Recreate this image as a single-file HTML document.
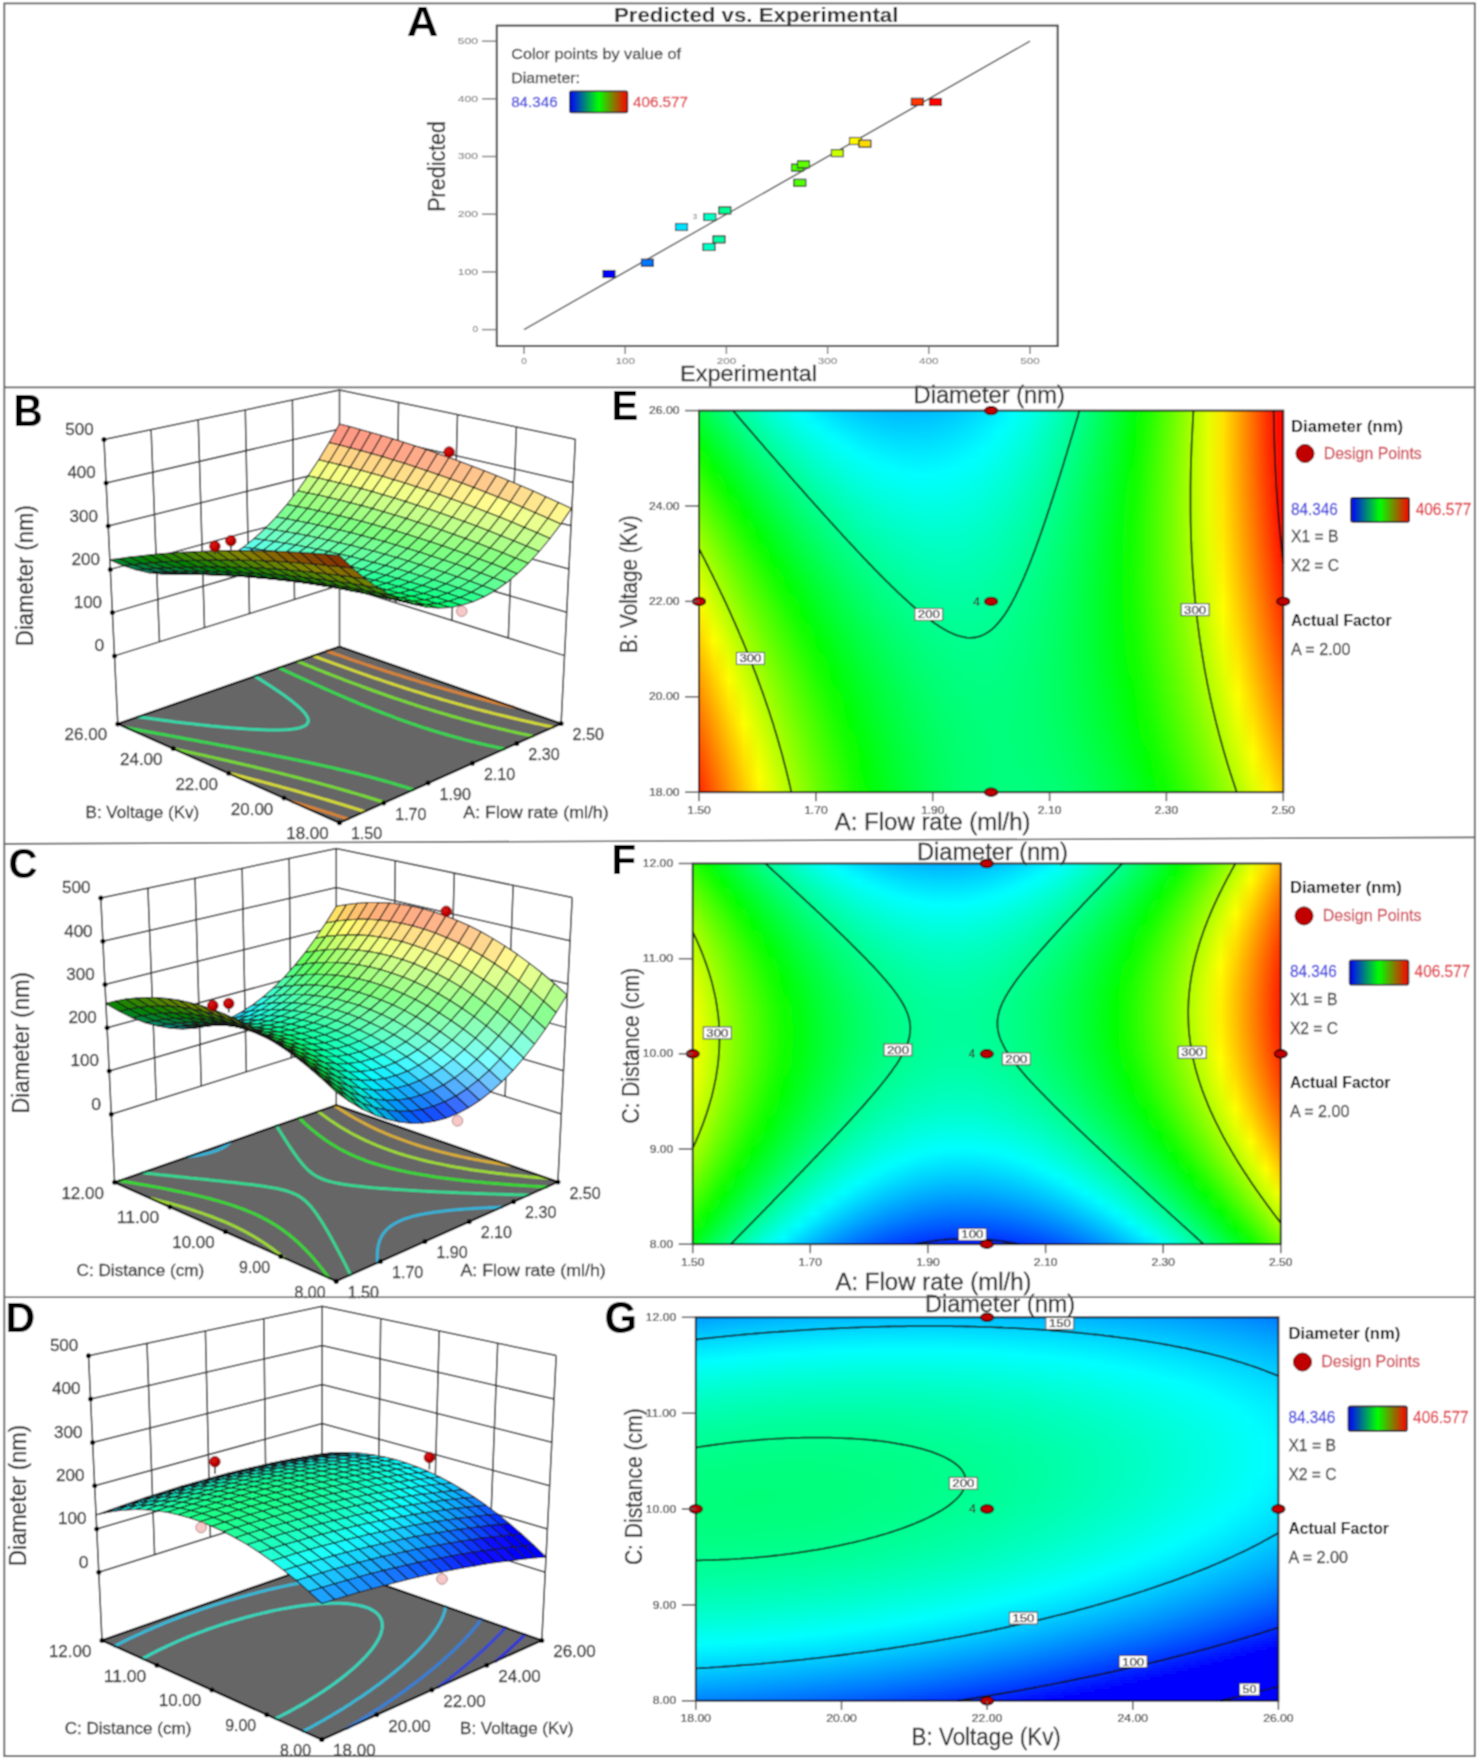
<!DOCTYPE html>
<html><head><meta charset="utf-8"><style>
html,body{margin:0;padding:0;background:#fff}
body{width:1480px;height:1764px;overflow:hidden;font-family:'Liberation Sans', sans-serif}
#w{position:absolute;left:0;top:0;width:1480px;height:1764px;overflow:hidden;background:#fff;filter:url(#gb)}
.cf{position:absolute;overflow:hidden}
.cf i{position:absolute;left:0;width:100%;display:block}
svg{position:absolute;left:0;top:0}
</style></head><body><svg width="0" height="0" style="position:absolute"><filter id="gb" x="0" y="0" width="100%" height="100%"><feConvolveMatrix order="3" kernelMatrix="1 2 1 2 4 2 1 2 1" divisor="16" edgeMode="duplicate" preserveAlpha="true"/></filter></svg><div id="w">
<div class="cf" style="left:699.0px;top:410.6px;width:584.3px;height:381.6px">
<i style="top:0px;height:3.6px;background:linear-gradient(90deg,#00ff3f,#00ff63,#00ff85,#00ffa3,#00ffc0,#00ffd9,#00ffef,#00fbff,#00e9ff,#00dbff,#00cfff,#00c6ff,#00c0ff,#00bcff,#00bbff,#00bdff,#00c1ff,#00c8ff,#00d2ff,#00dfff,#00eeff,#00fffe,#00ffe9,#00ffd2,#00ffb8,#00ff9b,#00ff7c,#00ff59,#00ff34,#00ff0d,#1dff00,#4bff00,#7aff00,#adff00,#e2ff00,#ffe400,#ffaa00,#ff6d00,#ff2d00,#ff0000)"></i>
<i style="top:3px;height:3.6px;background:linear-gradient(90deg,#00ff39,#00ff5e,#00ff7f,#00ff9e,#00ffba,#00ffd4,#00ffeb,#00ffff,#00eeff,#00dfff,#00d3ff,#00caff,#00c4ff,#00c0ff,#00bfff,#00c0ff,#00c4ff,#00cbff,#00d5ff,#00e2ff,#00f1ff,#00fffb,#00ffe7,#00ffd0,#00ffb6,#00ff99,#00ff7a,#00ff58,#00ff33,#00ff0c,#1fff00,#4bff00,#7bff00,#adff00,#e2ff00,#ffe400,#ffaa00,#ff6c00,#ff2d00,#ff0000)"></i>
<i style="top:6px;height:3.6px;background:linear-gradient(90deg,#00ff34,#00ff58,#00ff7a,#00ff99,#00ffb5,#00ffcf,#00ffe6,#00fffa,#00f2ff,#00e4ff,#00d7ff,#00ceff,#00c7ff,#00c3ff,#00c2ff,#00c4ff,#00c8ff,#00cfff,#00d8ff,#00e4ff,#00f3ff,#00fff9,#00ffe5,#00ffce,#00ffb4,#00ff97,#00ff78,#00ff56,#00ff32,#00ff0a,#20ff00,#4cff00,#7cff00,#aeff00,#e3ff00,#ffe400,#ffa900,#ff6c00,#ff2d00,#ff0000)"></i>
<i style="top:9px;height:3.6px;background:linear-gradient(90deg,#00ff2e,#00ff53,#00ff75,#00ff94,#00ffb0,#00ffca,#00ffe1,#00fff6,#00f7ff,#00e8ff,#00dcff,#00d2ff,#00cbff,#00c7ff,#00c6ff,#00c7ff,#00cbff,#00d2ff,#00dbff,#00e7ff,#00f6ff,#00fff7,#00ffe2,#00ffcb,#00ffb2,#00ff96,#00ff76,#00ff55,#00ff30,#00ff09,#21ff00,#4dff00,#7dff00,#afff00,#e3ff00,#ffe300,#ffa900,#ff6c00,#ff2d00,#ff0000)"></i>
<i style="top:12px;height:3.6px;background:linear-gradient(90deg,#00ff29,#00ff4d,#00ff6f,#00ff8f,#00ffab,#00ffc5,#00ffdc,#00fff1,#00fbff,#00ecff,#00e0ff,#00d6ff,#00cfff,#00cbff,#00c9ff,#00caff,#00ceff,#00d5ff,#00deff,#00eaff,#00f8ff,#00fff4,#00ffe0,#00ffc9,#00ffb0,#00ff94,#00ff75,#00ff53,#00ff2f,#00ff08,#22ff00,#4eff00,#7dff00,#afff00,#e4ff00,#ffe300,#ffa900,#ff6d00,#ff2d00,#ff0000)"></i>
<i style="top:15px;height:3.6px;background:linear-gradient(90deg,#00ff23,#00ff48,#00ff6a,#00ff8a,#00ffa6,#00ffc0,#00ffd8,#00ffec,#00fffe,#00f0ff,#00e4ff,#00daff,#00d3ff,#00ceff,#00cdff,#00ceff,#00d1ff,#00d8ff,#00e1ff,#00edff,#00fbff,#00fff2,#00ffde,#00ffc7,#00ffae,#00ff92,#00ff73,#00ff52,#00ff2e,#00ff07,#23ff00,#4fff00,#7eff00,#b0ff00,#e4ff00,#ffe300,#ffa900,#ff6d00,#ff2d00,#ff0000)"></i>
<i style="top:18px;height:3.6px;background:linear-gradient(90deg,#00ff1d,#00ff42,#00ff65,#00ff84,#00ffa1,#00ffbc,#00ffd3,#00ffe8,#00fffa,#00f5ff,#00e8ff,#00deff,#00d7ff,#00d2ff,#00d0ff,#00d1ff,#00d4ff,#00dbff,#00e4ff,#00efff,#00feff,#00ffef,#00ffdc,#00ffc5,#00ffac,#00ff90,#00ff72,#00ff50,#00ff2c,#00ff06,#24ff00,#50ff00,#7fff00,#b0ff00,#e4ff00,#ffe300,#ffa900,#ff6d00,#ff2e00,#ff0000)"></i>
<i style="top:21px;height:3.6px;background:linear-gradient(90deg,#00ff18,#00ff3d,#00ff5f,#00ff7f,#00ff9c,#00ffb7,#00ffce,#00ffe3,#00fff6,#00f9ff,#00ecff,#00e2ff,#00daff,#00d5ff,#00d3ff,#00d4ff,#00d7ff,#00deff,#00e6ff,#00f2ff,#00fffe,#00ffed,#00ffd9,#00ffc3,#00ffaa,#00ff8e,#00ff70,#00ff4f,#00ff2b,#00ff05,#25ff00,#51ff00,#7fff00,#b1ff00,#e5ff00,#ffe200,#ffa900,#ff6d00,#ff2e00,#ff0000)"></i>
<i style="top:24px;height:3.6px;background:linear-gradient(90deg,#00ff12,#00ff38,#00ff5a,#00ff7a,#00ff97,#00ffb2,#00ffca,#00ffdf,#00fff1,#00fdff,#00f0ff,#00e6ff,#00deff,#00d9ff,#00d7ff,#00d7ff,#00dbff,#00e0ff,#00e9ff,#00f4ff,#00fffc,#00ffeb,#00ffd7,#00ffc1,#00ffa8,#00ff8d,#00ff6e,#00ff4d,#00ff2a,#00ff03,#26ff00,#51ff00,#80ff00,#b1ff00,#e5ff00,#ffe200,#ffa900,#ff6d00,#ff2e00,#ff0000)"></i>
<i style="top:27px;height:3.6px;background:linear-gradient(90deg,#00ff0d,#00ff32,#00ff55,#00ff75,#00ff93,#00ffad,#00ffc5,#00ffdb,#00ffed,#00fffd,#00f4ff,#00e9ff,#00e2ff,#00ddff,#00daff,#00dbff,#00deff,#00e3ff,#00ecff,#00f7ff,#00fff9,#00ffe8,#00ffd5,#00ffbf,#00ffa6,#00ff8b,#00ff6d,#00ff4c,#00ff29,#00ff02,#27ff00,#52ff00,#81ff00,#b2ff00,#e5ff00,#ffe200,#ffa900,#ff6d00,#ff2e00,#ff0000)"></i>
<i style="top:30px;height:3.6px;background:linear-gradient(90deg,#00ff07,#00ff2d,#00ff50,#00ff70,#00ff8e,#00ffa9,#00ffc1,#00ffd6,#00ffe9,#00fff9,#00f8ff,#00edff,#00e5ff,#00e0ff,#00deff,#00deff,#00e1ff,#00e6ff,#00efff,#00faff,#00fff7,#00ffe6,#00ffd3,#00ffbd,#00ffa5,#00ff89,#00ff6b,#00ff4b,#00ff27,#00ff01,#27ff00,#53ff00,#81ff00,#b2ff00,#e6ff00,#ffe200,#ffa900,#ff6d00,#ff2f00,#ff0000)"></i>
<i style="top:33px;height:3.6px;background:linear-gradient(90deg,#00ff02,#00ff28,#00ff4b,#00ff6b,#00ff89,#00ffa4,#00ffbc,#00ffd2,#00ffe5,#00fff5,#00fcff,#00f1ff,#00e9ff,#00e4ff,#00e1ff,#00e1ff,#00e4ff,#00e9ff,#00f1ff,#00fcff,#00fff4,#00ffe4,#00ffd1,#00ffbb,#00ffa3,#00ff88,#00ff6a,#00ff49,#00ff26,#00ff00,#28ff00,#54ff00,#82ff00,#b2ff00,#e6ff00,#ffe200,#ffa900,#ff6d00,#ff2f00,#ff0000)"></i>
<i style="top:36px;height:3.6px;background:linear-gradient(90deg,#04ff00,#00ff22,#00ff46,#00ff66,#00ff84,#00ff9f,#00ffb8,#00ffcd,#00ffe0,#00fff1,#00fffe,#00f5ff,#00ecff,#00e7ff,#00e4ff,#00e4ff,#00e7ff,#00ecff,#00f4ff,#00ffff,#00fff2,#00ffe2,#00ffcf,#00ffb9,#00ffa1,#00ff86,#00ff68,#00ff48,#00ff25,#01ff00,#29ff00,#54ff00,#82ff00,#b3ff00,#e6ff00,#ffe200,#ffa900,#ff6e00,#ff3000,#ff0000)"></i>
<i style="top:39px;height:3.6px;background:linear-gradient(90deg,#09ff00,#00ff1d,#00ff40,#00ff61,#00ff7f,#00ff9b,#00ffb3,#00ffc9,#00ffdc,#00ffed,#00fffa,#00f8ff,#00f0ff,#00eaff,#00e7ff,#00e7ff,#00eaff,#00efff,#00f7ff,#00fffd,#00ffef,#00ffe0,#00ffcd,#00ffb7,#00ff9f,#00ff85,#00ff67,#00ff47,#00ff24,#02ff00,#2aff00,#55ff00,#83ff00,#b3ff00,#e6ff00,#ffe200,#ffa900,#ff6e00,#ff3000,#ff0000)"></i>
<i style="top:42px;height:3.6px;background:linear-gradient(90deg,#0eff00,#00ff18,#00ff3b,#00ff5c,#00ff7a,#00ff96,#00ffaf,#00ffc5,#00ffd8,#00ffe9,#00fff7,#00fcff,#00f4ff,#00eeff,#00ebff,#00eaff,#00edff,#00f2ff,#00f9ff,#00fffa,#00ffed,#00ffdd,#00ffcb,#00ffb6,#00ff9e,#00ff83,#00ff66,#00ff46,#00ff23,#03ff00,#2bff00,#56ff00,#83ff00,#b4ff00,#e7ff00,#ffe200,#ffa900,#ff6e00,#ff3000,#ff0000)"></i>
<i style="top:45px;height:3.6px;background:linear-gradient(90deg,#14ff00,#00ff13,#00ff36,#00ff57,#00ff76,#00ff91,#00ffaa,#00ffc0,#00ffd4,#00ffe5,#00fff3,#00fffe,#00f7ff,#00f1ff,#00eeff,#00edff,#00f0ff,#00f4ff,#00fcff,#00fff8,#00ffeb,#00ffdb,#00ffc9,#00ffb4,#00ff9c,#00ff81,#00ff64,#00ff44,#00ff22,#04ff00,#2cff00,#56ff00,#84ff00,#b4ff00,#e7ff00,#ffe200,#ffa900,#ff6e00,#ff3100,#ff0000)"></i>
<i style="top:48px;height:3.6px;background:linear-gradient(90deg,#19ff00,#00ff0d,#00ff31,#00ff52,#00ff71,#00ff8d,#00ffa6,#00ffbc,#00ffd0,#00ffe1,#00ffef,#00fffa,#00fbff,#00f5ff,#00f1ff,#00f0ff,#00f2ff,#00f7ff,#00ffff,#00fff5,#00ffe9,#00ffd9,#00ffc7,#00ffb2,#00ff9a,#00ff80,#00ff63,#00ff43,#00ff21,#04ff00,#2cff00,#57ff00,#84ff00,#b4ff00,#e7ff00,#ffe200,#ffaa00,#ff6f00,#ff3100,#ff0000)"></i>
<i style="top:51px;height:3.6px;background:linear-gradient(90deg,#1fff00,#00ff08,#00ff2c,#00ff4e,#00ff6c,#00ff88,#00ffa1,#00ffb8,#00ffcc,#00ffdd,#00ffeb,#00fff7,#00feff,#00f8ff,#00f4ff,#00f3ff,#00f5ff,#00faff,#00fffd,#00fff3,#00ffe6,#00ffd7,#00ffc5,#00ffb0,#00ff99,#00ff7e,#00ff62,#00ff42,#00ff20,#05ff00,#2dff00,#58ff00,#85ff00,#b4ff00,#e7ff00,#ffe200,#ffaa00,#ff6f00,#ff3200,#ff0000)"></i>
<i style="top:54px;height:3.6px;background:linear-gradient(90deg,#24ff00,#00ff03,#00ff27,#00ff49,#00ff68,#00ff84,#00ff9d,#00ffb4,#00ffc8,#00ffd9,#00ffe7,#00fff3,#00fffc,#00fbff,#00f7ff,#00f6ff,#00f8ff,#00fdff,#00fffa,#00fff1,#00ffe4,#00ffd5,#00ffc3,#00ffae,#00ff97,#00ff7d,#00ff60,#00ff41,#00ff1f,#06ff00,#2eff00,#58ff00,#85ff00,#b5ff00,#e7ff00,#ffe200,#ffaa00,#ff7000,#ff3200,#ff0000)"></i>
<i style="top:57px;height:3.6px;background:linear-gradient(90deg,#29ff00,#02ff00,#00ff22,#00ff44,#00ff63,#00ff7f,#00ff99,#00ffaf,#00ffc4,#00ffd5,#00ffe4,#00fff0,#00fff9,#00feff,#00fbff,#00f9ff,#00fbff,#00ffff,#00fff8,#00ffee,#00ffe2,#00ffd3,#00ffc1,#00ffad,#00ff95,#00ff7c,#00ff5f,#00ff40,#00ff1e,#07ff00,#2eff00,#59ff00,#85ff00,#b5ff00,#e7ff00,#ffe200,#ffaa00,#ff7000,#ff3300,#ff0000)"></i>
<i style="top:60px;height:3.6px;background:linear-gradient(90deg,#2eff00,#07ff00,#00ff1d,#00ff3f,#00ff5e,#00ff7b,#00ff94,#00ffab,#00ffc0,#00ffd1,#00ffe0,#00ffec,#00fff6,#00fffc,#00feff,#00fcff,#00feff,#00fffc,#00fff5,#00ffec,#00ffe0,#00ffd1,#00ffbf,#00ffab,#00ff94,#00ff7a,#00ff5e,#00ff3f,#00ff1d,#08ff00,#2fff00,#59ff00,#86ff00,#b5ff00,#e7ff00,#ffe200,#ffab00,#ff7000,#ff3300,#ff0000)"></i>
<i style="top:63px;height:3.6px;background:linear-gradient(90deg,#34ff00,#0cff00,#00ff18,#00ff3a,#00ff5a,#00ff76,#00ff90,#00ffa7,#00ffbc,#00ffcd,#00ffdc,#00ffe9,#00fff2,#00fff9,#00fffd,#00ffff,#00fffd,#00fffa,#00fff3,#00ffea,#00ffdd,#00ffcf,#00ffbd,#00ffa9,#00ff92,#00ff79,#00ff5c,#00ff3d,#00ff1c,#09ff00,#30ff00,#5aff00,#86ff00,#b5ff00,#e7ff00,#ffe200,#ffab00,#ff7100,#ff3400,#ff0000)"></i>
<i style="top:66px;height:3.6px;background:linear-gradient(90deg,#39ff00,#11ff00,#00ff14,#00ff36,#00ff55,#00ff72,#00ff8c,#00ffa3,#00ffb8,#00ffc9,#00ffd9,#00ffe5,#00ffef,#00fff6,#00fffa,#00fffc,#00fffb,#00fff7,#00fff0,#00ffe7,#00ffdb,#00ffcd,#00ffbb,#00ffa7,#00ff91,#00ff77,#00ff5b,#00ff3c,#00ff1b,#09ff00,#30ff00,#5aff00,#86ff00,#b5ff00,#e7ff00,#ffe200,#ffab00,#ff7100,#ff3500,#ff0000)"></i>
<i style="top:69px;height:3.6px;background:linear-gradient(90deg,#3eff00,#16ff00,#00ff0f,#00ff31,#00ff50,#00ff6d,#00ff87,#00ff9f,#00ffb4,#00ffc6,#00ffd5,#00ffe2,#00ffeb,#00fff3,#00fff7,#00fff9,#00fff8,#00fff4,#00ffee,#00ffe5,#00ffd9,#00ffcb,#00ffba,#00ffa6,#00ff8f,#00ff76,#00ff5a,#00ff3b,#00ff1a,#0aff00,#31ff00,#5aff00,#87ff00,#b6ff00,#e7ff00,#ffe200,#ffab00,#ff7200,#ff3500,#ff0000)"></i>
<i style="top:72px;height:3.6px;background:linear-gradient(90deg,#43ff00,#1bff00,#00ff0a,#00ff2c,#00ff4c,#00ff69,#00ff83,#00ff9b,#00ffb0,#00ffc2,#00ffd1,#00ffde,#00ffe8,#00ffef,#00fff4,#00fff6,#00fff5,#00fff2,#00ffec,#00ffe3,#00ffd7,#00ffc9,#00ffb8,#00ffa4,#00ff8e,#00ff75,#00ff59,#00ff3a,#00ff19,#0bff00,#32ff00,#5bff00,#87ff00,#b6ff00,#e7ff00,#ffe300,#ffac00,#ff7200,#ff3600,#ff0000)"></i>
<i style="top:75px;height:3.6px;background:linear-gradient(90deg,#48ff00,#20ff00,#00ff05,#00ff28,#00ff47,#00ff65,#00ff7f,#00ff97,#00ffac,#00ffbe,#00ffce,#00ffdb,#00ffe5,#00ffec,#00fff1,#00fff3,#00fff3,#00ffef,#00ffe9,#00ffe0,#00ffd5,#00ffc7,#00ffb6,#00ffa3,#00ff8c,#00ff73,#00ff58,#00ff39,#00ff18,#0cff00,#32ff00,#5bff00,#87ff00,#b6ff00,#e7ff00,#ffe300,#ffac00,#ff7300,#ff3700,#ff0000)"></i>
<i style="top:78px;height:3.6px;background:linear-gradient(90deg,#4dff00,#25ff00,#00ff00,#00ff23,#00ff43,#00ff60,#00ff7b,#00ff93,#00ffa8,#00ffba,#00ffca,#00ffd7,#00ffe2,#00ffe9,#00ffee,#00fff0,#00fff0,#00ffed,#00ffe7,#00ffde,#00ffd3,#00ffc5,#00ffb4,#00ffa1,#00ff8b,#00ff72,#00ff57,#00ff38,#00ff17,#0cff00,#33ff00,#5cff00,#87ff00,#b6ff00,#e7ff00,#ffe300,#ffad00,#ff7300,#ff3700,#ff0000)"></i>
<i style="top:81px;height:3.6px;background:linear-gradient(90deg,#52ff00,#2aff00,#05ff00,#00ff1e,#00ff3e,#00ff5c,#00ff77,#00ff8f,#00ffa4,#00ffb7,#00ffc7,#00ffd4,#00ffde,#00ffe6,#00ffeb,#00ffee,#00ffed,#00ffea,#00ffe5,#00ffdc,#00ffd1,#00ffc3,#00ffb3,#00ff9f,#00ff89,#00ff71,#00ff55,#00ff37,#00ff17,#0dff00,#33ff00,#5cff00,#88ff00,#b6ff00,#e7ff00,#ffe300,#ffad00,#ff7400,#ff3800,#ff0000)"></i>
<i style="top:84px;height:3.6px;background:linear-gradient(90deg,#58ff00,#2fff00,#09ff00,#00ff1a,#00ff3a,#00ff58,#00ff72,#00ff8b,#00ffa0,#00ffb3,#00ffc3,#00ffd0,#00ffdb,#00ffe3,#00ffe8,#00ffeb,#00ffeb,#00ffe8,#00ffe2,#00ffda,#00ffcf,#00ffc1,#00ffb1,#00ff9e,#00ff88,#00ff70,#00ff54,#00ff36,#00ff16,#0eff00,#34ff00,#5cff00,#88ff00,#b6ff00,#e7ff00,#ffe400,#ffad00,#ff7400,#ff3900,#ff0000)"></i>
<i style="top:87px;height:3.6px;background:linear-gradient(90deg,#5dff00,#34ff00,#0eff00,#00ff15,#00ff35,#00ff53,#00ff6e,#00ff87,#00ff9c,#00ffaf,#00ffbf,#00ffcd,#00ffd8,#00ffe0,#00ffe5,#00ffe8,#00ffe8,#00ffe5,#00ffe0,#00ffd8,#00ffcd,#00ffbf,#00ffaf,#00ff9c,#00ff87,#00ff6e,#00ff53,#00ff35,#00ff15,#0eff00,#34ff00,#5dff00,#88ff00,#b6ff00,#e7ff00,#ffe400,#ffae00,#ff7500,#ff3a00,#ff0000)"></i>
<i style="top:90px;height:3.6px;background:linear-gradient(90deg,#62ff00,#39ff00,#13ff00,#00ff10,#00ff31,#00ff4f,#00ff6a,#00ff83,#00ff99,#00ffac,#00ffbc,#00ffca,#00ffd5,#00ffdd,#00ffe2,#00ffe5,#00ffe5,#00ffe3,#00ffde,#00ffd6,#00ffcb,#00ffbe,#00ffae,#00ff9b,#00ff85,#00ff6d,#00ff52,#00ff35,#00ff14,#0fff00,#34ff00,#5dff00,#88ff00,#b6ff00,#e6ff00,#ffe400,#ffae00,#ff7600,#ff3a00,#ff0000)"></i>
<i style="top:93px;height:3.6px;background:linear-gradient(90deg,#67ff00,#3eff00,#18ff00,#00ff0c,#00ff2d,#00ff4b,#00ff66,#00ff7f,#00ff95,#00ffa8,#00ffb9,#00ffc6,#00ffd1,#00ffda,#00ffe0,#00ffe3,#00ffe3,#00ffe1,#00ffdb,#00ffd4,#00ffc9,#00ffbc,#00ffac,#00ff99,#00ff84,#00ff6c,#00ff51,#00ff34,#00ff14,#0fff00,#35ff00,#5dff00,#88ff00,#b6ff00,#e6ff00,#ffe500,#ffaf00,#ff7600,#ff3b00,#ff0000)"></i>
<i style="top:96px;height:3.6px;background:linear-gradient(90deg,#6cff00,#43ff00,#1cff00,#00ff07,#00ff28,#00ff47,#00ff62,#00ff7b,#00ff91,#00ffa4,#00ffb5,#00ffc3,#00ffce,#00ffd7,#00ffdd,#00ffe0,#00ffe0,#00ffde,#00ffd9,#00ffd2,#00ffc7,#00ffba,#00ffaa,#00ff98,#00ff83,#00ff6b,#00ff50,#00ff33,#00ff13,#10ff00,#35ff00,#5dff00,#88ff00,#b6ff00,#e6ff00,#ffe500,#ffaf00,#ff7700,#ff3c00,#ff0000)"></i>
<i style="top:99px;height:3.6px;background:linear-gradient(90deg,#71ff00,#47ff00,#21ff00,#00ff03,#00ff24,#00ff42,#00ff5e,#00ff77,#00ff8d,#00ffa1,#00ffb2,#00ffc0,#00ffcb,#00ffd4,#00ffda,#00ffdd,#00ffde,#00ffdc,#00ffd7,#00ffd0,#00ffc5,#00ffb8,#00ffa9,#00ff96,#00ff81,#00ff6a,#00ff4f,#00ff32,#00ff12,#10ff00,#36ff00,#5eff00,#88ff00,#b6ff00,#e6ff00,#ffe600,#ffb000,#ff7800,#ff3d00,#ff0000)"></i>
<i style="top:102px;height:3.6px;background:linear-gradient(90deg,#75ff00,#4cff00,#25ff00,#02ff00,#00ff20,#00ff3e,#00ff5a,#00ff73,#00ff8a,#00ff9d,#00ffae,#00ffbd,#00ffc8,#00ffd1,#00ffd7,#00ffdb,#00ffdb,#00ffda,#00ffd5,#00ffce,#00ffc3,#00ffb7,#00ffa7,#00ff95,#00ff80,#00ff69,#00ff4e,#00ff31,#00ff12,#11ff00,#36ff00,#5eff00,#88ff00,#b5ff00,#e5ff00,#ffe600,#ffb100,#ff7900,#ff3e00,#ff0000)"></i>
<i style="top:105px;height:3.6px;background:linear-gradient(90deg,#7aff00,#51ff00,#2aff00,#06ff00,#00ff1b,#00ff3a,#00ff56,#00ff6f,#00ff86,#00ff9a,#00ffab,#00ffb9,#00ffc5,#00ffce,#00ffd4,#00ffd8,#00ffd9,#00ffd7,#00ffd3,#00ffcc,#00ffc2,#00ffb5,#00ffa6,#00ff94,#00ff7f,#00ff68,#00ff4d,#00ff31,#00ff11,#11ff00,#36ff00,#5eff00,#88ff00,#b5ff00,#e5ff00,#ffe600,#ffb100,#ff7900,#ff3f00,#ff0100)"></i>
<i style="top:108px;height:3.6px;background:linear-gradient(90deg,#7fff00,#56ff00,#2fff00,#0aff00,#00ff17,#00ff36,#00ff52,#00ff6c,#00ff82,#00ff96,#00ffa8,#00ffb6,#00ffc2,#00ffcb,#00ffd2,#00ffd5,#00ffd7,#00ffd5,#00ffd1,#00ffca,#00ffc0,#00ffb3,#00ffa4,#00ff92,#00ff7e,#00ff66,#00ff4c,#00ff30,#00ff10,#12ff00,#37ff00,#5eff00,#88ff00,#b5ff00,#e5ff00,#ffe700,#ffb200,#ff7a00,#ff4000,#ff0200)"></i>
<i style="top:111px;height:3.6px;background:linear-gradient(90deg,#84ff00,#5aff00,#33ff00,#0fff00,#00ff13,#00ff32,#00ff4e,#00ff68,#00ff7f,#00ff93,#00ffa4,#00ffb3,#00ffbf,#00ffc8,#00ffcf,#00ffd3,#00ffd4,#00ffd3,#00ffce,#00ffc8,#00ffbe,#00ffb2,#00ffa3,#00ff91,#00ff7d,#00ff65,#00ff4c,#00ff2f,#00ff10,#12ff00,#37ff00,#5eff00,#88ff00,#b5ff00,#e4ff00,#ffe700,#ffb200,#ff7b00,#ff4100,#ff0400)"></i>
<i style="top:114px;height:3.6px;background:linear-gradient(90deg,#89ff00,#5fff00,#38ff00,#13ff00,#00ff0f,#00ff2e,#00ff4a,#00ff64,#00ff7b,#00ff8f,#00ffa1,#00ffb0,#00ffbc,#00ffc6,#00ffcc,#00ffd0,#00ffd2,#00ffd0,#00ffcc,#00ffc6,#00ffbc,#00ffb0,#00ffa1,#00ff90,#00ff7b,#00ff64,#00ff4b,#00ff2e,#00ff0f,#13ff00,#37ff00,#5eff00,#88ff00,#b5ff00,#e4ff00,#ffe800,#ffb300,#ff7c00,#ff4200,#ff0500)"></i>
<i style="top:117px;height:3.6px;background:linear-gradient(90deg,#8eff00,#64ff00,#3cff00,#18ff00,#00ff0a,#00ff2a,#00ff46,#00ff60,#00ff77,#00ff8c,#00ff9e,#00ffad,#00ffb9,#00ffc3,#00ffca,#00ffce,#00ffcf,#00ffce,#00ffca,#00ffc4,#00ffba,#00ffae,#00ffa0,#00ff8e,#00ff7a,#00ff63,#00ff4a,#00ff2e,#00ff0f,#13ff00,#37ff00,#5eff00,#88ff00,#b4ff00,#e4ff00,#ffe800,#ffb400,#ff7d00,#ff4300,#ff0600)"></i>
<i style="top:120px;height:3.6px;background:linear-gradient(90deg,#93ff00,#68ff00,#41ff00,#1cff00,#00ff06,#00ff26,#00ff42,#00ff5d,#00ff74,#00ff88,#00ff9a,#00ffaa,#00ffb6,#00ffc0,#00ffc7,#00ffcb,#00ffcd,#00ffcc,#00ffc8,#00ffc2,#00ffb9,#00ffad,#00ff9e,#00ff8d,#00ff79,#00ff62,#00ff49,#00ff2d,#00ff0e,#13ff00,#37ff00,#5eff00,#88ff00,#b4ff00,#e3ff00,#ffe900,#ffb500,#ff7d00,#ff4400,#ff0700)"></i>
<i style="top:123px;height:3.6px;background:linear-gradient(90deg,#97ff00,#6dff00,#45ff00,#20ff00,#00ff02,#00ff22,#00ff3f,#00ff59,#00ff70,#00ff85,#00ff97,#00ffa7,#00ffb3,#00ffbd,#00ffc4,#00ffc9,#00ffcb,#00ffca,#00ffc6,#00ffc0,#00ffb7,#00ffab,#00ff9d,#00ff8c,#00ff78,#00ff62,#00ff48,#00ff2c,#00ff0e,#14ff00,#38ff00,#5eff00,#88ff00,#b4ff00,#e3ff00,#ffea00,#ffb500,#ff7e00,#ff4500,#ff0800)"></i>
<i style="top:126px;height:3.6px;background:linear-gradient(90deg,#9cff00,#71ff00,#4aff00,#24ff00,#02ff00,#00ff1e,#00ff3b,#00ff55,#00ff6d,#00ff82,#00ff94,#00ffa3,#00ffb0,#00ffba,#00ffc2,#00ffc6,#00ffc8,#00ffc8,#00ffc4,#00ffbe,#00ffb5,#00ffaa,#00ff9c,#00ff8b,#00ff77,#00ff61,#00ff48,#00ff2c,#00ff0d,#14ff00,#38ff00,#5eff00,#88ff00,#b4ff00,#e2ff00,#ffea00,#ffb600,#ff7f00,#ff4600,#ff0a00)"></i>
<i style="top:129px;height:3.6px;background:linear-gradient(90deg,#a1ff00,#76ff00,#4eff00,#29ff00,#06ff00,#00ff1a,#00ff37,#00ff52,#00ff69,#00ff7e,#00ff91,#00ffa0,#00ffad,#00ffb8,#00ffbf,#00ffc4,#00ffc6,#00ffc6,#00ffc2,#00ffbc,#00ffb4,#00ffa8,#00ff9a,#00ff89,#00ff76,#00ff60,#00ff47,#00ff2b,#00ff0d,#14ff00,#38ff00,#5eff00,#87ff00,#b3ff00,#e2ff00,#ffeb00,#ffb700,#ff8000,#ff4700,#ff0b00)"></i>
<i style="top:132px;height:3.6px;background:linear-gradient(90deg,#a5ff00,#7bff00,#52ff00,#2dff00,#0aff00,#00ff16,#00ff33,#00ff4e,#00ff66,#00ff7b,#00ff8e,#00ff9d,#00ffab,#00ffb5,#00ffbd,#00ffc2,#00ffc4,#00ffc4,#00ffc0,#00ffbb,#00ffb2,#00ffa7,#00ff99,#00ff88,#00ff75,#00ff5f,#00ff46,#00ff2b,#00ff0d,#14ff00,#38ff00,#5eff00,#87ff00,#b3ff00,#e1ff00,#ffec00,#ffb800,#ff8100,#ff4800,#ff0c00)"></i>
<i style="top:135px;height:3.6px;background:linear-gradient(90deg,#aaff00,#7fff00,#57ff00,#31ff00,#0eff00,#00ff12,#00ff30,#00ff4a,#00ff62,#00ff78,#00ff8a,#00ff9a,#00ffa8,#00ffb2,#00ffba,#00ffbf,#00ffc2,#00ffc2,#00ffbf,#00ffb9,#00ffb1,#00ffa5,#00ff98,#00ff87,#00ff74,#00ff5e,#00ff45,#00ff2a,#00ff0c,#15ff00,#38ff00,#5eff00,#87ff00,#b3ff00,#e1ff00,#ffec00,#ffb900,#ff8200,#ff4900,#ff0d00)"></i>
<i style="top:138px;height:3.6px;background:linear-gradient(90deg,#afff00,#84ff00,#5bff00,#35ff00,#12ff00,#00ff0e,#00ff2c,#00ff47,#00ff5f,#00ff75,#00ff87,#00ff98,#00ffa5,#00ffb0,#00ffb8,#00ffbd,#00ffc0,#00ffbf,#00ffbd,#00ffb7,#00ffaf,#00ffa4,#00ff96,#00ff86,#00ff73,#00ff5d,#00ff45,#00ff2a,#00ff0c,#15ff00,#38ff00,#5eff00,#87ff00,#b2ff00,#e0ff00,#ffed00,#ffb900,#ff8300,#ff4a00,#ff0f00)"></i>
<i style="top:141px;height:3.6px;background:linear-gradient(90deg,#b3ff00,#88ff00,#5fff00,#39ff00,#16ff00,#00ff0a,#00ff28,#00ff43,#00ff5c,#00ff71,#00ff84,#00ff95,#00ffa2,#00ffad,#00ffb5,#00ffbb,#00ffbd,#00ffbd,#00ffbb,#00ffb5,#00ffad,#00ffa3,#00ff95,#00ff85,#00ff72,#00ff5c,#00ff44,#00ff29,#00ff0b,#15ff00,#38ff00,#5eff00,#86ff00,#b2ff00,#e0ff00,#ffee00,#ffba00,#ff8400,#ff4c00,#ff1000)"></i>
<i style="top:144px;height:3.6px;background:linear-gradient(90deg,#b8ff00,#8cff00,#64ff00,#3eff00,#1aff00,#00ff06,#00ff24,#00ff40,#00ff58,#00ff6e,#00ff81,#00ff92,#00ff9f,#00ffaa,#00ffb3,#00ffb8,#00ffbb,#00ffbb,#00ffb9,#00ffb4,#00ffac,#00ffa1,#00ff94,#00ff84,#00ff71,#00ff5c,#00ff44,#00ff29,#00ff0b,#15ff00,#38ff00,#5eff00,#86ff00,#b1ff00,#dfff00,#ffee00,#ffbb00,#ff8500,#ff4d00,#ff1100)"></i>
<i style="top:147px;height:3.6px;background:linear-gradient(90deg,#bdff00,#91ff00,#68ff00,#42ff00,#1eff00,#00ff03,#00ff21,#00ff3c,#00ff55,#00ff6b,#00ff7e,#00ff8f,#00ff9d,#00ffa8,#00ffb0,#00ffb6,#00ffb9,#00ffb9,#00ffb7,#00ffb2,#00ffaa,#00ffa0,#00ff93,#00ff83,#00ff70,#00ff5b,#00ff43,#00ff28,#00ff0b,#15ff00,#38ff00,#5eff00,#86ff00,#b1ff00,#deff00,#ffef00,#ffbc00,#ff8600,#ff4e00,#ff1300)"></i>
<i style="top:150px;height:3.6px;background:linear-gradient(90deg,#c1ff00,#95ff00,#6cff00,#46ff00,#22ff00,#01ff00,#00ff1d,#00ff39,#00ff52,#00ff68,#00ff7b,#00ff8c,#00ff9a,#00ffa5,#00ffae,#00ffb4,#00ffb7,#00ffb8,#00ffb5,#00ffb0,#00ffa9,#00ff9f,#00ff92,#00ff82,#00ff6f,#00ff5a,#00ff42,#00ff28,#00ff0b,#15ff00,#38ff00,#5dff00,#85ff00,#b0ff00,#deff00,#fff000,#ffbd00,#ff8800,#ff4f00,#ff1400)"></i>
<i style="top:153px;height:3.6px;background:linear-gradient(90deg,#c6ff00,#9aff00,#70ff00,#4aff00,#26ff00,#05ff00,#00ff1a,#00ff35,#00ff4e,#00ff65,#00ff78,#00ff89,#00ff97,#00ffa3,#00ffac,#00ffb2,#00ffb5,#00ffb6,#00ffb4,#00ffaf,#00ffa7,#00ff9d,#00ff90,#00ff81,#00ff6f,#00ff5a,#00ff42,#00ff27,#00ff0a,#15ff00,#38ff00,#5dff00,#85ff00,#b0ff00,#ddff00,#fff100,#ffbe00,#ff8900,#ff5100,#ff1600)"></i>
<i style="top:156px;height:3.6px;background:linear-gradient(90deg,#caff00,#9eff00,#75ff00,#4eff00,#2aff00,#09ff00,#00ff16,#00ff32,#00ff4b,#00ff61,#00ff75,#00ff86,#00ff95,#00ffa0,#00ffa9,#00ffaf,#00ffb3,#00ffb4,#00ffb2,#00ffad,#00ffa6,#00ff9c,#00ff8f,#00ff80,#00ff6e,#00ff59,#00ff41,#00ff27,#00ff0a,#16ff00,#38ff00,#5dff00,#85ff00,#afff00,#dcff00,#fff200,#ffbf00,#ff8a00,#ff5200,#ff1700)"></i>
<i style="top:159px;height:3.6px;background:linear-gradient(90deg,#cfff00,#a2ff00,#79ff00,#52ff00,#2eff00,#0cff00,#00ff12,#00ff2e,#00ff48,#00ff5e,#00ff72,#00ff83,#00ff92,#00ff9e,#00ffa7,#00ffad,#00ffb1,#00ffb2,#00ffb0,#00ffac,#00ffa5,#00ff9b,#00ff8e,#00ff7f,#00ff6d,#00ff58,#00ff41,#00ff27,#00ff0a,#16ff00,#38ff00,#5dff00,#84ff00,#afff00,#dcff00,#fff300,#ffc000,#ff8b00,#ff5300,#ff1900)"></i>
<i style="top:162px;height:3.6px;background:linear-gradient(90deg,#d3ff00,#a7ff00,#7dff00,#56ff00,#32ff00,#10ff00,#00ff0f,#00ff2b,#00ff44,#00ff5b,#00ff6f,#00ff81,#00ff8f,#00ff9b,#00ffa5,#00ffab,#00ffaf,#00ffb0,#00ffae,#00ffaa,#00ffa3,#00ff99,#00ff8d,#00ff7e,#00ff6c,#00ff58,#00ff40,#00ff26,#00ff0a,#16ff00,#38ff00,#5cff00,#84ff00,#aeff00,#dbff00,#fff400,#ffc100,#ff8c00,#ff5500,#ff1a00)"></i>
<i style="top:165px;height:3.6px;background:linear-gradient(90deg,#d7ff00,#abff00,#81ff00,#5aff00,#35ff00,#14ff00,#00ff0b,#00ff28,#00ff41,#00ff58,#00ff6c,#00ff7e,#00ff8d,#00ff99,#00ffa2,#00ffa9,#00ffad,#00ffae,#00ffad,#00ffa9,#00ffa2,#00ff98,#00ff8c,#00ff7d,#00ff6b,#00ff57,#00ff40,#00ff26,#00ff0a,#16ff00,#37ff00,#5cff00,#83ff00,#adff00,#daff00,#fff400,#ffc200,#ff8e00,#ff5600,#ff1c00)"></i>
<i style="top:168px;height:3.6px;background:linear-gradient(90deg,#dcff00,#afff00,#85ff00,#5eff00,#39ff00,#17ff00,#00ff08,#00ff24,#00ff3e,#00ff55,#00ff6a,#00ff7b,#00ff8a,#00ff96,#00ffa0,#00ffa7,#00ffab,#00ffac,#00ffab,#00ffa7,#00ffa0,#00ff97,#00ff8b,#00ff7c,#00ff6b,#00ff56,#00ff3f,#00ff26,#00ff0a,#16ff00,#37ff00,#5cff00,#83ff00,#adff00,#d9ff00,#fff500,#ffc300,#ff8f00,#ff5700,#ff1d00)"></i>
<i style="top:171px;height:3.6px;background:linear-gradient(90deg,#e0ff00,#b3ff00,#89ff00,#62ff00,#3dff00,#1bff00,#00ff04,#00ff21,#00ff3b,#00ff52,#00ff67,#00ff79,#00ff88,#00ff94,#00ff9e,#00ffa5,#00ffa9,#00ffab,#00ffa9,#00ffa6,#00ff9f,#00ff96,#00ff8a,#00ff7b,#00ff6a,#00ff56,#00ff3f,#00ff26,#00ff09,#15ff00,#37ff00,#5bff00,#82ff00,#acff00,#d8ff00,#fff600,#ffc500,#ff9000,#ff5900,#ff1f00)"></i>
<i style="top:174px;height:3.6px;background:linear-gradient(90deg,#e5ff00,#b8ff00,#8dff00,#66ff00,#41ff00,#1fff00,#00ff01,#00ff1e,#00ff38,#00ff4f,#00ff64,#00ff76,#00ff85,#00ff92,#00ff9b,#00ffa3,#00ffa7,#00ffa9,#00ffa8,#00ffa4,#00ff9e,#00ff95,#00ff89,#00ff7a,#00ff69,#00ff55,#00ff3f,#00ff25,#00ff09,#15ff00,#37ff00,#5bff00,#82ff00,#abff00,#d8ff00,#fff700,#ffc600,#ff9100,#ff5a00,#ff2000)"></i>
<i style="top:177px;height:3.6px;background:linear-gradient(90deg,#e9ff00,#bcff00,#91ff00,#6aff00,#44ff00,#22ff00,#02ff00,#00ff1a,#00ff35,#00ff4c,#00ff61,#00ff73,#00ff83,#00ff8f,#00ff99,#00ffa1,#00ffa5,#00ffa7,#00ffa6,#00ffa3,#00ff9d,#00ff94,#00ff88,#00ff7a,#00ff69,#00ff55,#00ff3e,#00ff25,#00ff09,#15ff00,#37ff00,#5bff00,#81ff00,#abff00,#d7ff00,#fff800,#ffc700,#ff9300,#ff5c00,#ff2200)"></i>
<i style="top:180px;height:3.6px;background:linear-gradient(90deg,#edff00,#c0ff00,#95ff00,#6dff00,#48ff00,#26ff00,#06ff00,#00ff17,#00ff32,#00ff49,#00ff5e,#00ff71,#00ff80,#00ff8d,#00ff97,#00ff9f,#00ffa3,#00ffa5,#00ffa5,#00ffa1,#00ff9b,#00ff92,#00ff87,#00ff79,#00ff68,#00ff54,#00ff3e,#00ff25,#00ff09,#15ff00,#36ff00,#5aff00,#81ff00,#aaff00,#d6ff00,#fff900,#ffc800,#ff9400,#ff5d00,#ff2400)"></i>
<i style="top:183px;height:3.6px;background:linear-gradient(90deg,#f2ff00,#c4ff00,#99ff00,#71ff00,#4cff00,#29ff00,#09ff00,#00ff14,#00ff2f,#00ff46,#00ff5c,#00ff6e,#00ff7e,#00ff8b,#00ff95,#00ff9d,#00ffa1,#00ffa4,#00ffa3,#00ffa0,#00ff9a,#00ff91,#00ff86,#00ff78,#00ff67,#00ff54,#00ff3e,#00ff25,#00ff09,#15ff00,#36ff00,#5aff00,#80ff00,#a9ff00,#d5ff00,#fffb00,#ffc900,#ff9500,#ff5f00,#ff2500)"></i>
<i style="top:186px;height:3.6px;background:linear-gradient(90deg,#f6ff00,#c8ff00,#9dff00,#75ff00,#50ff00,#2dff00,#0dff00,#00ff11,#00ff2b,#00ff43,#00ff59,#00ff6b,#00ff7b,#00ff88,#00ff93,#00ff9b,#00ffa0,#00ffa2,#00ffa2,#00ff9f,#00ff99,#00ff90,#00ff85,#00ff77,#00ff67,#00ff53,#00ff3d,#00ff25,#00ff09,#15ff00,#36ff00,#59ff00,#7fff00,#a8ff00,#d4ff00,#fffc00,#ffcb00,#ff9700,#ff6000,#ff2700)"></i>
<i style="top:189px;height:3.6px;background:linear-gradient(90deg,#faff00,#ccff00,#a1ff00,#79ff00,#53ff00,#30ff00,#10ff00,#00ff0e,#00ff28,#00ff41,#00ff56,#00ff69,#00ff79,#00ff86,#00ff91,#00ff99,#00ff9e,#00ffa0,#00ffa0,#00ff9d,#00ff98,#00ff8f,#00ff84,#00ff77,#00ff66,#00ff53,#00ff3d,#00ff25,#00ff09,#15ff00,#35ff00,#59ff00,#7fff00,#a8ff00,#d3ff00,#fffd00,#ffcc00,#ff9800,#ff6200,#ff2900)"></i>
<i style="top:192px;height:3.6px;background:linear-gradient(90deg,#feff00,#d0ff00,#a5ff00,#7dff00,#57ff00,#34ff00,#13ff00,#00ff0a,#00ff25,#00ff3e,#00ff53,#00ff66,#00ff76,#00ff84,#00ff8f,#00ff97,#00ff9c,#00ff9f,#00ff9f,#00ff9c,#00ff96,#00ff8e,#00ff83,#00ff76,#00ff66,#00ff53,#00ff3d,#00ff24,#00ff09,#14ff00,#35ff00,#58ff00,#7eff00,#a7ff00,#d2ff00,#fffe00,#ffcd00,#ff9a00,#ff6400,#ff2b00)"></i>
<i style="top:195px;height:3.6px;background:linear-gradient(90deg,#fffb00,#d4ff00,#a9ff00,#80ff00,#5aff00,#37ff00,#17ff00,#00ff07,#00ff23,#00ff3b,#00ff51,#00ff64,#00ff74,#00ff82,#00ff8d,#00ff95,#00ff9a,#00ff9d,#00ff9d,#00ff9b,#00ff95,#00ff8d,#00ff83,#00ff75,#00ff65,#00ff52,#00ff3d,#00ff24,#00ff09,#14ff00,#35ff00,#58ff00,#7dff00,#a6ff00,#d1ff00,#ffff00,#ffce00,#ff9b00,#ff6500,#ff2c00)"></i>
<i style="top:198px;height:3.6px;background:linear-gradient(90deg,#fff700,#d8ff00,#adff00,#84ff00,#5eff00,#3aff00,#1aff00,#00ff04,#00ff20,#00ff38,#00ff4e,#00ff61,#00ff72,#00ff80,#00ff8b,#00ff93,#00ff99,#00ff9c,#00ff9c,#00ff99,#00ff94,#00ff8c,#00ff82,#00ff75,#00ff65,#00ff52,#00ff3c,#00ff24,#00ff0a,#14ff00,#34ff00,#57ff00,#7dff00,#a5ff00,#d0ff00,#feff00,#ffd000,#ff9d00,#ff6700,#ff2e00)"></i>
<i style="top:201px;height:3.6px;background:linear-gradient(90deg,#fff300,#dcff00,#b1ff00,#88ff00,#61ff00,#3eff00,#1dff00,#00ff01,#00ff1d,#00ff35,#00ff4b,#00ff5f,#00ff6f,#00ff7d,#00ff89,#00ff91,#00ff97,#00ff9a,#00ff9a,#00ff98,#00ff93,#00ff8b,#00ff81,#00ff74,#00ff64,#00ff52,#00ff3c,#00ff24,#00ff0a,#14ff00,#34ff00,#56ff00,#7cff00,#a4ff00,#cfff00,#fdff00,#ffd100,#ff9e00,#ff6800,#ff3000)"></i>
<i style="top:204px;height:3.6px;background:linear-gradient(90deg,#ffef00,#e0ff00,#b5ff00,#8bff00,#65ff00,#41ff00,#20ff00,#02ff00,#00ff1a,#00ff33,#00ff49,#00ff5c,#00ff6d,#00ff7b,#00ff87,#00ff8f,#00ff95,#00ff99,#00ff99,#00ff97,#00ff92,#00ff8b,#00ff80,#00ff73,#00ff64,#00ff51,#00ff3c,#00ff24,#00ff0a,#13ff00,#33ff00,#56ff00,#7bff00,#a3ff00,#ceff00,#fbff00,#ffd300,#ffa000,#ff6a00,#ff3200)"></i>
<i style="top:207px;height:3.6px;background:linear-gradient(90deg,#ffeb00,#e4ff00,#b8ff00,#8fff00,#68ff00,#45ff00,#23ff00,#05ff00,#00ff17,#00ff30,#00ff46,#00ff5a,#00ff6b,#00ff79,#00ff85,#00ff8d,#00ff94,#00ff97,#00ff98,#00ff96,#00ff91,#00ff8a,#00ff80,#00ff73,#00ff63,#00ff51,#00ff3c,#00ff24,#00ff0a,#13ff00,#33ff00,#55ff00,#7aff00,#a2ff00,#cdff00,#faff00,#ffd400,#ffa100,#ff6c00,#ff3400)"></i>
<i style="top:210px;height:3.6px;background:linear-gradient(90deg,#ffe700,#e8ff00,#bcff00,#93ff00,#6cff00,#48ff00,#27ff00,#08ff00,#00ff14,#00ff2d,#00ff44,#00ff58,#00ff69,#00ff77,#00ff83,#00ff8c,#00ff92,#00ff96,#00ff96,#00ff95,#00ff90,#00ff89,#00ff7f,#00ff72,#00ff63,#00ff51,#00ff3c,#00ff24,#00ff0a,#13ff00,#32ff00,#55ff00,#7aff00,#a1ff00,#ccff00,#f9ff00,#ffd500,#ffa300,#ff6e00,#ff3600)"></i>
<i style="top:213px;height:3.6px;background:linear-gradient(90deg,#ffe300,#ecff00,#c0ff00,#96ff00,#6fff00,#4bff00,#2aff00,#0bff00,#00ff11,#00ff2b,#00ff41,#00ff55,#00ff66,#00ff75,#00ff81,#00ff8a,#00ff90,#00ff94,#00ff95,#00ff93,#00ff8f,#00ff88,#00ff7e,#00ff72,#00ff62,#00ff51,#00ff3c,#00ff25,#00ff0b,#12ff00,#32ff00,#54ff00,#79ff00,#a0ff00,#cbff00,#f7ff00,#ffd700,#ffa400,#ff6f00,#ff3800)"></i>
<i style="top:216px;height:3.6px;background:linear-gradient(90deg,#ffdf00,#f0ff00,#c4ff00,#9aff00,#73ff00,#4eff00,#2dff00,#0eff00,#00ff0e,#00ff28,#00ff3f,#00ff53,#00ff64,#00ff73,#00ff7f,#00ff88,#00ff8f,#00ff93,#00ff94,#00ff92,#00ff8e,#00ff87,#00ff7d,#00ff71,#00ff62,#00ff50,#00ff3c,#00ff25,#00ff0b,#12ff00,#31ff00,#53ff00,#78ff00,#9fff00,#c9ff00,#f6ff00,#ffd800,#ffa600,#ff7100,#ff3a00)"></i>
<i style="top:219px;height:3.6px;background:linear-gradient(90deg,#ffdb00,#f4ff00,#c7ff00,#9dff00,#76ff00,#52ff00,#30ff00,#11ff00,#00ff0c,#00ff25,#00ff3c,#00ff50,#00ff62,#00ff71,#00ff7d,#00ff86,#00ff8d,#00ff91,#00ff93,#00ff91,#00ff8d,#00ff86,#00ff7d,#00ff71,#00ff62,#00ff50,#00ff3c,#00ff25,#00ff0b,#11ff00,#31ff00,#52ff00,#77ff00,#9eff00,#c8ff00,#f5ff00,#ffda00,#ffa800,#ff7300,#ff3b00)"></i>
<i style="top:222px;height:3.6px;background:linear-gradient(90deg,#ffd700,#f8ff00,#cbff00,#a1ff00,#7aff00,#55ff00,#33ff00,#14ff00,#00ff09,#00ff23,#00ff3a,#00ff4e,#00ff60,#00ff6f,#00ff7b,#00ff85,#00ff8c,#00ff90,#00ff91,#00ff90,#00ff8c,#00ff86,#00ff7c,#00ff70,#00ff61,#00ff50,#00ff3c,#00ff25,#00ff0b,#11ff00,#30ff00,#52ff00,#76ff00,#9dff00,#c7ff00,#f3ff00,#ffdb00,#ffa900,#ff7500,#ff3d00)"></i>
<i style="top:225px;height:3.6px;background:linear-gradient(90deg,#ffd300,#fcff00,#cfff00,#a4ff00,#7dff00,#58ff00,#36ff00,#17ff00,#00ff06,#00ff20,#00ff37,#00ff4c,#00ff5e,#00ff6d,#00ff79,#00ff83,#00ff8a,#00ff8f,#00ff90,#00ff8f,#00ff8b,#00ff85,#00ff7c,#00ff70,#00ff61,#00ff50,#00ff3c,#00ff25,#00ff0c,#10ff00,#2fff00,#51ff00,#75ff00,#9cff00,#c6ff00,#f2ff00,#ffdd00,#ffab00,#ff7700,#ff3f00)"></i>
<i style="top:228px;height:3.6px;background:linear-gradient(90deg,#ffcf00,#ffff00,#d2ff00,#a8ff00,#80ff00,#5bff00,#39ff00,#19ff00,#00ff03,#00ff1d,#00ff35,#00ff4a,#00ff5c,#00ff6b,#00ff78,#00ff81,#00ff89,#00ff8d,#00ff8f,#00ff8e,#00ff8a,#00ff84,#00ff7b,#00ff6f,#00ff61,#00ff50,#00ff3c,#00ff25,#00ff0c,#10ff00,#2fff00,#50ff00,#74ff00,#9bff00,#c4ff00,#f1ff00,#ffde00,#ffad00,#ff7900,#ff4200)"></i>
<i style="top:231px;height:3.6px;background:linear-gradient(90deg,#ffcb00,#fffb00,#d6ff00,#abff00,#84ff00,#5eff00,#3cff00,#1cff00,#00ff01,#00ff1b,#00ff33,#00ff47,#00ff5a,#00ff69,#00ff76,#00ff80,#00ff87,#00ff8c,#00ff8e,#00ff8d,#00ff8a,#00ff83,#00ff7b,#00ff6f,#00ff61,#00ff50,#00ff3c,#00ff26,#00ff0c,#0fff00,#2eff00,#4fff00,#73ff00,#9aff00,#c3ff00,#efff00,#ffe000,#ffaf00,#ff7a00,#ff4400)"></i>
<i style="top:234px;height:3.6px;background:linear-gradient(90deg,#ffc700,#fff700,#d9ff00,#afff00,#87ff00,#62ff00,#3fff00,#1fff00,#02ff00,#00ff18,#00ff30,#00ff45,#00ff58,#00ff67,#00ff74,#00ff7e,#00ff86,#00ff8b,#00ff8d,#00ff8c,#00ff89,#00ff83,#00ff7a,#00ff6f,#00ff60,#00ff50,#00ff3c,#00ff26,#00ff0d,#0fff00,#2dff00,#4eff00,#72ff00,#99ff00,#c2ff00,#eeff00,#ffe200,#ffb000,#ff7c00,#ff4600)"></i>
<i style="top:237px;height:3.6px;background:linear-gradient(90deg,#ffc300,#fff300,#ddff00,#b2ff00,#8aff00,#65ff00,#42ff00,#22ff00,#05ff00,#00ff16,#00ff2e,#00ff43,#00ff55,#00ff65,#00ff72,#00ff7d,#00ff84,#00ff89,#00ff8c,#00ff8b,#00ff88,#00ff82,#00ff79,#00ff6e,#00ff60,#00ff50,#00ff3c,#00ff26,#00ff0d,#0eff00,#2dff00,#4dff00,#71ff00,#97ff00,#c0ff00,#ecff00,#ffe300,#ffb200,#ff7e00,#ff4800)"></i>
<i style="top:240px;height:3.6px;background:linear-gradient(90deg,#ffbf00,#fff000,#e1ff00,#b6ff00,#8dff00,#68ff00,#45ff00,#25ff00,#07ff00,#00ff13,#00ff2c,#00ff41,#00ff53,#00ff63,#00ff71,#00ff7b,#00ff83,#00ff88,#00ff8a,#00ff8a,#00ff87,#00ff81,#00ff79,#00ff6e,#00ff60,#00ff50,#00ff3c,#00ff26,#00ff0e,#0eff00,#2cff00,#4dff00,#70ff00,#96ff00,#bfff00,#ebff00,#ffe500,#ffb400,#ff8000,#ff4a00)"></i>
<i style="top:243px;height:3.6px;background:linear-gradient(90deg,#ffbc00,#ffec00,#e4ff00,#b9ff00,#91ff00,#6bff00,#48ff00,#27ff00,#0aff00,#00ff11,#00ff29,#00ff3f,#00ff52,#00ff62,#00ff6f,#00ff7a,#00ff82,#00ff87,#00ff89,#00ff89,#00ff86,#00ff81,#00ff79,#00ff6e,#00ff60,#00ff50,#00ff3c,#00ff27,#00ff0e,#0dff00,#2bff00,#4cff00,#6fff00,#95ff00,#beff00,#e9ff00,#ffe700,#ffb600,#ff8200,#ff4c00)"></i>
<i style="top:246px;height:3.6px;background:linear-gradient(90deg,#ffb800,#ffe800,#e8ff00,#bcff00,#94ff00,#6eff00,#4bff00,#2aff00,#0cff00,#00ff0f,#00ff27,#00ff3d,#00ff50,#00ff60,#00ff6d,#00ff78,#00ff80,#00ff86,#00ff88,#00ff88,#00ff86,#00ff80,#00ff78,#00ff6d,#00ff60,#00ff50,#00ff3d,#00ff27,#00ff0f,#0cff00,#2aff00,#4bff00,#6eff00,#94ff00,#bcff00,#e8ff00,#ffe800,#ffb800,#ff8400,#ff4e00)"></i>
<i style="top:249px;height:3.6px;background:linear-gradient(90deg,#ffb400,#ffe500,#ebff00,#c0ff00,#97ff00,#71ff00,#4eff00,#2dff00,#0fff00,#00ff0c,#00ff25,#00ff3b,#00ff4e,#00ff5e,#00ff6c,#00ff77,#00ff7f,#00ff84,#00ff87,#00ff87,#00ff85,#00ff80,#00ff78,#00ff6d,#00ff60,#00ff50,#00ff3d,#00ff27,#00ff0f,#0cff00,#29ff00,#4aff00,#6dff00,#92ff00,#bbff00,#e6ff00,#ffea00,#ffba00,#ff8600,#ff5000)"></i>
<i style="top:252px;height:3.6px;background:linear-gradient(90deg,#ffb000,#ffe100,#eeff00,#c3ff00,#9aff00,#74ff00,#50ff00,#30ff00,#12ff00,#00ff0a,#00ff23,#00ff38,#00ff4c,#00ff5c,#00ff6a,#00ff75,#00ff7e,#00ff83,#00ff86,#00ff87,#00ff84,#00ff7f,#00ff77,#00ff6d,#00ff60,#00ff50,#00ff3d,#00ff28,#00ff10,#0bff00,#29ff00,#49ff00,#6cff00,#91ff00,#b9ff00,#e4ff00,#ffec00,#ffbc00,#ff8800,#ff5300)"></i>
<i style="top:255px;height:3.6px;background:linear-gradient(90deg,#ffac00,#ffde00,#f2ff00,#c6ff00,#9dff00,#77ff00,#53ff00,#32ff00,#14ff00,#00ff07,#00ff20,#00ff36,#00ff4a,#00ff5a,#00ff68,#00ff74,#00ff7c,#00ff82,#00ff85,#00ff86,#00ff84,#00ff7f,#00ff77,#00ff6d,#00ff60,#00ff50,#00ff3d,#00ff28,#00ff10,#0aff00,#28ff00,#48ff00,#6aff00,#90ff00,#b8ff00,#e3ff00,#ffee00,#ffbd00,#ff8b00,#ff5500)"></i>
<i style="top:258px;height:3.6px;background:linear-gradient(90deg,#ffa900,#ffda00,#f5ff00,#c9ff00,#a0ff00,#7aff00,#56ff00,#35ff00,#16ff00,#00ff05,#00ff1e,#00ff34,#00ff48,#00ff59,#00ff67,#00ff72,#00ff7b,#00ff81,#00ff84,#00ff85,#00ff83,#00ff7e,#00ff77,#00ff6c,#00ff60,#00ff50,#00ff3e,#00ff29,#00ff11,#0aff00,#27ff00,#47ff00,#69ff00,#8eff00,#b6ff00,#e1ff00,#fff000,#ffbf00,#ff8d00,#ff5700)"></i>
<i style="top:261px;height:3.6px;background:linear-gradient(90deg,#ffa500,#ffd700,#f9ff00,#cdff00,#a3ff00,#7dff00,#59ff00,#37ff00,#19ff00,#00ff03,#00ff1c,#00ff32,#00ff46,#00ff57,#00ff65,#00ff71,#00ff7a,#00ff80,#00ff84,#00ff84,#00ff82,#00ff7e,#00ff76,#00ff6c,#00ff60,#00ff50,#00ff3e,#00ff29,#00ff11,#09ff00,#26ff00,#46ff00,#68ff00,#8dff00,#b5ff00,#dfff00,#fff100,#ffc100,#ff8f00,#ff5900)"></i>
<i style="top:264px;height:3.6px;background:linear-gradient(90deg,#ffa100,#ffd300,#fcff00,#d0ff00,#a6ff00,#80ff00,#5bff00,#3aff00,#1bff00,#00ff01,#00ff1a,#00ff30,#00ff44,#00ff55,#00ff64,#00ff70,#00ff79,#00ff7f,#00ff83,#00ff84,#00ff82,#00ff7d,#00ff76,#00ff6c,#00ff60,#00ff50,#00ff3e,#00ff29,#00ff12,#08ff00,#25ff00,#44ff00,#67ff00,#8cff00,#b3ff00,#deff00,#fff300,#ffc300,#ff9100,#ff5c00)"></i>
<i style="top:267px;height:3.6px;background:linear-gradient(90deg,#ff9e00,#ffd000,#ffff00,#d3ff00,#a9ff00,#82ff00,#5eff00,#3dff00,#1eff00,#02ff00,#00ff18,#00ff2e,#00ff42,#00ff54,#00ff62,#00ff6e,#00ff77,#00ff7e,#00ff82,#00ff83,#00ff81,#00ff7d,#00ff76,#00ff6c,#00ff60,#00ff50,#00ff3f,#00ff2a,#00ff13,#07ff00,#24ff00,#43ff00,#65ff00,#8aff00,#b2ff00,#dcff00,#fff500,#ffc500,#ff9300,#ff5e00)"></i>
<i style="top:270px;height:3.6px;background:linear-gradient(90deg,#ff9a00,#ffcc00,#fffb00,#d6ff00,#acff00,#85ff00,#61ff00,#3fff00,#20ff00,#04ff00,#00ff16,#00ff2d,#00ff41,#00ff52,#00ff61,#00ff6d,#00ff76,#00ff7d,#00ff81,#00ff82,#00ff81,#00ff7c,#00ff76,#00ff6c,#00ff60,#00ff51,#00ff3f,#00ff2a,#00ff13,#06ff00,#23ff00,#42ff00,#64ff00,#89ff00,#b0ff00,#daff00,#fff700,#ffc700,#ff9500,#ff6000)"></i>
<i style="top:273px;height:3.6px;background:linear-gradient(90deg,#ff9700,#ffc900,#fff800,#d9ff00,#afff00,#88ff00,#64ff00,#42ff00,#23ff00,#06ff00,#00ff14,#00ff2b,#00ff3f,#00ff51,#00ff5f,#00ff6c,#00ff75,#00ff7c,#00ff80,#00ff81,#00ff80,#00ff7c,#00ff75,#00ff6c,#00ff60,#00ff51,#00ff3f,#00ff2b,#00ff14,#06ff00,#22ff00,#41ff00,#63ff00,#87ff00,#afff00,#d8ff00,#fff900,#ffca00,#ff9800,#ff6300)"></i>
<i style="top:276px;height:3.6px;background:linear-gradient(90deg,#ff9300,#ffc500,#fff500,#dcff00,#b2ff00,#8bff00,#66ff00,#44ff00,#25ff00,#08ff00,#00ff12,#00ff29,#00ff3d,#00ff4f,#00ff5e,#00ff6a,#00ff74,#00ff7b,#00ff7f,#00ff81,#00ff80,#00ff7c,#00ff75,#00ff6c,#00ff60,#00ff51,#00ff40,#00ff2c,#00ff15,#05ff00,#21ff00,#40ff00,#62ff00,#86ff00,#adff00,#d7ff00,#fffb00,#ffcc00,#ff9a00,#ff6500)"></i>
<i style="top:279px;height:3.6px;background:linear-gradient(90deg,#ff8f00,#ffc200,#fff200,#dfff00,#b5ff00,#8eff00,#69ff00,#47ff00,#27ff00,#0aff00,#00ff10,#00ff27,#00ff3c,#00ff4d,#00ff5d,#00ff69,#00ff73,#00ff7a,#00ff7e,#00ff80,#00ff7f,#00ff7b,#00ff75,#00ff6c,#00ff60,#00ff51,#00ff40,#00ff2c,#00ff16,#04ff00,#20ff00,#3fff00,#60ff00,#84ff00,#abff00,#d5ff00,#fffd00,#ffce00,#ff9c00,#ff6800)"></i>
<i style="top:282px;height:3.6px;background:linear-gradient(90deg,#ff8c00,#ffbf00,#ffee00,#e3ff00,#b8ff00,#90ff00,#6bff00,#49ff00,#29ff00,#0dff00,#00ff0e,#00ff25,#00ff3a,#00ff4c,#00ff5b,#00ff68,#00ff72,#00ff79,#00ff7e,#00ff80,#00ff7f,#00ff7b,#00ff75,#00ff6c,#00ff60,#00ff52,#00ff41,#00ff2d,#00ff16,#03ff00,#1fff00,#3dff00,#5fff00,#83ff00,#aaff00,#d3ff00,#ffff00,#ffd000,#ff9e00,#ff6a00)"></i>
<i style="top:285px;height:3.6px;background:linear-gradient(90deg,#ff8800,#ffbb00,#ffeb00,#e6ff00,#bbff00,#93ff00,#6eff00,#4cff00,#2cff00,#0fff00,#00ff0c,#00ff23,#00ff38,#00ff4a,#00ff5a,#00ff67,#00ff71,#00ff78,#00ff7d,#00ff7f,#00ff7e,#00ff7b,#00ff75,#00ff6c,#00ff60,#00ff52,#00ff41,#00ff2d,#00ff17,#02ff00,#1eff00,#3cff00,#5dff00,#81ff00,#a8ff00,#d1ff00,#fdff00,#ffd200,#ffa100,#ff6d00)"></i>
<i style="top:288px;height:3.6px;background:linear-gradient(90deg,#ff8500,#ffb800,#ffe800,#e9ff00,#beff00,#96ff00,#71ff00,#4eff00,#2eff00,#11ff00,#00ff0a,#00ff21,#00ff37,#00ff49,#00ff59,#00ff66,#00ff70,#00ff77,#00ff7c,#00ff7e,#00ff7e,#00ff7b,#00ff75,#00ff6c,#00ff61,#00ff52,#00ff42,#00ff2e,#00ff18,#01ff00,#1dff00,#3bff00,#5cff00,#80ff00,#a6ff00,#cfff00,#fbff00,#ffd400,#ffa300,#ff6f00)"></i>
<i style="top:291px;height:3.6px;background:linear-gradient(90deg,#ff8200,#ffb500,#ffe500,#ecff00,#c1ff00,#99ff00,#73ff00,#50ff00,#30ff00,#13ff00,#00ff08,#00ff20,#00ff35,#00ff47,#00ff57,#00ff64,#00ff6f,#00ff77,#00ff7c,#00ff7e,#00ff7d,#00ff7a,#00ff74,#00ff6c,#00ff61,#00ff53,#00ff42,#00ff2f,#00ff19,#00ff00,#1bff00,#3aff00,#5bff00,#7eff00,#a4ff00,#cdff00,#f9ff00,#ffd700,#ffa500,#ff7200)"></i>
<i style="top:294px;height:3.6px;background:linear-gradient(90deg,#ff7e00,#ffb100,#ffe200,#efff00,#c3ff00,#9bff00,#76ff00,#53ff00,#32ff00,#15ff00,#00ff06,#00ff1e,#00ff33,#00ff46,#00ff56,#00ff63,#00ff6e,#00ff76,#00ff7b,#00ff7d,#00ff7d,#00ff7a,#00ff74,#00ff6c,#00ff61,#00ff53,#00ff43,#00ff30,#00ff1a,#00ff01,#1aff00,#38ff00,#59ff00,#7cff00,#a3ff00,#cbff00,#f7ff00,#ffd900,#ffa800,#ff7400)"></i>
<i style="top:297px;height:3.6px;background:linear-gradient(90deg,#ff7b00,#ffae00,#ffdf00,#f1ff00,#c6ff00,#9eff00,#78ff00,#55ff00,#35ff00,#17ff00,#00ff04,#00ff1c,#00ff32,#00ff45,#00ff55,#00ff62,#00ff6d,#00ff75,#00ff7a,#00ff7d,#00ff7d,#00ff7a,#00ff74,#00ff6c,#00ff61,#00ff54,#00ff43,#00ff30,#00ff1b,#00ff02,#19ff00,#37ff00,#58ff00,#7bff00,#a1ff00,#c9ff00,#f5ff00,#ffdb00,#ffaa00,#ff7700)"></i>
<i style="top:300px;height:3.6px;background:linear-gradient(90deg,#ff7700,#ffab00,#ffdc00,#f4ff00,#c9ff00,#a0ff00,#7aff00,#57ff00,#37ff00,#19ff00,#00ff02,#00ff1b,#00ff30,#00ff43,#00ff54,#00ff61,#00ff6c,#00ff74,#00ff7a,#00ff7c,#00ff7c,#00ff7a,#00ff74,#00ff6c,#00ff62,#00ff54,#00ff44,#00ff31,#00ff1b,#00ff03,#18ff00,#36ff00,#56ff00,#79ff00,#9fff00,#c7ff00,#f3ff00,#ffdd00,#ffad00,#ff7900)"></i>
<i style="top:303px;height:3.6px;background:linear-gradient(90deg,#ff7400,#ffa800,#ffd900,#f7ff00,#ccff00,#a3ff00,#7dff00,#5aff00,#39ff00,#1bff00,#00ff00,#00ff19,#00ff2f,#00ff42,#00ff52,#00ff60,#00ff6b,#00ff73,#00ff79,#00ff7c,#00ff7c,#00ff7a,#00ff74,#00ff6d,#00ff62,#00ff55,#00ff45,#00ff32,#00ff1c,#00ff04,#17ff00,#34ff00,#54ff00,#77ff00,#9dff00,#c5ff00,#f1ff00,#ffe000,#ffaf00,#ff7c00)"></i>
<i style="top:306px;height:3.6px;background:linear-gradient(90deg,#ff7100,#ffa400,#ffd600,#faff00,#cfff00,#a6ff00,#7fff00,#5cff00,#3bff00,#1dff00,#01ff00,#00ff17,#00ff2d,#00ff41,#00ff51,#00ff5f,#00ff6a,#00ff73,#00ff78,#00ff7c,#00ff7c,#00ff7a,#00ff74,#00ff6d,#00ff62,#00ff55,#00ff45,#00ff33,#00ff1d,#00ff05,#15ff00,#33ff00,#53ff00,#76ff00,#9bff00,#c3ff00,#eeff00,#ffe200,#ffb200,#ff7f00)"></i>
<i style="top:309px;height:3.6px;background:linear-gradient(90deg,#ff6d00,#ffa100,#ffd300,#fdff00,#d1ff00,#a8ff00,#82ff00,#5eff00,#3dff00,#1fff00,#03ff00,#00ff16,#00ff2c,#00ff3f,#00ff50,#00ff5e,#00ff69,#00ff72,#00ff78,#00ff7b,#00ff7c,#00ff79,#00ff75,#00ff6d,#00ff63,#00ff56,#00ff46,#00ff33,#00ff1e,#00ff06,#14ff00,#31ff00,#51ff00,#74ff00,#99ff00,#c1ff00,#ecff00,#ffe400,#ffb400,#ff8100)"></i>
<i style="top:312px;height:3.6px;background:linear-gradient(90deg,#ff6a00,#ff9e00,#ffd000,#fffe00,#d4ff00,#abff00,#84ff00,#60ff00,#3fff00,#21ff00,#05ff00,#00ff14,#00ff2a,#00ff3e,#00ff4f,#00ff5d,#00ff69,#00ff71,#00ff77,#00ff7b,#00ff7b,#00ff79,#00ff75,#00ff6d,#00ff63,#00ff56,#00ff47,#00ff34,#00ff1f,#00ff08,#13ff00,#30ff00,#50ff00,#72ff00,#97ff00,#bfff00,#eaff00,#ffe700,#ffb700,#ff8400)"></i>
<i style="top:315px;height:3.6px;background:linear-gradient(90deg,#ff6700,#ff9b00,#ffcd00,#fffb00,#d7ff00,#adff00,#86ff00,#62ff00,#41ff00,#23ff00,#07ff00,#00ff12,#00ff29,#00ff3d,#00ff4e,#00ff5c,#00ff68,#00ff71,#00ff77,#00ff7a,#00ff7b,#00ff79,#00ff75,#00ff6d,#00ff63,#00ff57,#00ff47,#00ff35,#00ff20,#00ff09,#11ff00,#2eff00,#4eff00,#70ff00,#95ff00,#bdff00,#e8ff00,#ffe900,#ffb900,#ff8700)"></i>
<i style="top:318px;height:3.6px;background:linear-gradient(90deg,#ff6400,#ff9800,#ffca00,#fff900,#d9ff00,#b0ff00,#89ff00,#65ff00,#43ff00,#24ff00,#08ff00,#00ff11,#00ff28,#00ff3b,#00ff4d,#00ff5b,#00ff67,#00ff70,#00ff76,#00ff7a,#00ff7b,#00ff79,#00ff75,#00ff6e,#00ff64,#00ff57,#00ff48,#00ff36,#00ff21,#00ff0a,#10ff00,#2dff00,#4cff00,#6fff00,#93ff00,#bbff00,#e5ff00,#ffec00,#ffbc00,#ff8900)"></i>
<i style="top:321px;height:3.6px;background:linear-gradient(90deg,#ff6000,#ff9500,#ffc700,#fff600,#dcff00,#b2ff00,#8bff00,#67ff00,#45ff00,#26ff00,#0aff00,#00ff0f,#00ff26,#00ff3a,#00ff4c,#00ff5a,#00ff66,#00ff6f,#00ff76,#00ff7a,#00ff7b,#00ff79,#00ff75,#00ff6e,#00ff64,#00ff58,#00ff49,#00ff37,#00ff22,#00ff0b,#0fff00,#2bff00,#4bff00,#6dff00,#91ff00,#b9ff00,#e3ff00,#ffee00,#ffbe00,#ff8c00)"></i>
<i style="top:324px;height:3.6px;background:linear-gradient(90deg,#ff5d00,#ff9200,#ffc400,#fff300,#deff00,#b4ff00,#8dff00,#69ff00,#47ff00,#28ff00,#0cff00,#00ff0e,#00ff25,#00ff39,#00ff4b,#00ff59,#00ff65,#00ff6f,#00ff76,#00ff79,#00ff7b,#00ff79,#00ff75,#00ff6e,#00ff65,#00ff59,#00ff4a,#00ff38,#00ff24,#00ff0c,#0dff00,#2aff00,#49ff00,#6bff00,#8fff00,#b7ff00,#e1ff00,#fff100,#ffc100,#ff8f00)"></i>
<i style="top:327px;height:3.6px;background:linear-gradient(90deg,#ff5a00,#ff8f00,#ffc100,#fff000,#e1ff00,#b7ff00,#90ff00,#6bff00,#49ff00,#2aff00,#0dff00,#00ff0c,#00ff23,#00ff38,#00ff4a,#00ff58,#00ff65,#00ff6e,#00ff75,#00ff79,#00ff7b,#00ff79,#00ff75,#00ff6f,#00ff65,#00ff59,#00ff4a,#00ff39,#00ff25,#00ff0e,#0cff00,#28ff00,#47ff00,#69ff00,#8dff00,#b5ff00,#deff00,#fff300,#ffc400,#ff9200)"></i>
<i style="top:330px;height:3.6px;background:linear-gradient(90deg,#ff5700,#ff8c00,#ffbe00,#ffee00,#e3ff00,#b9ff00,#92ff00,#6dff00,#4bff00,#2cff00,#0fff00,#00ff0b,#00ff22,#00ff37,#00ff49,#00ff58,#00ff64,#00ff6e,#00ff75,#00ff79,#00ff7b,#00ff79,#00ff76,#00ff6f,#00ff66,#00ff5a,#00ff4b,#00ff3a,#00ff26,#00ff0f,#0aff00,#27ff00,#45ff00,#67ff00,#8bff00,#b2ff00,#dcff00,#fff600,#ffc600,#ff9500)"></i>
<i style="top:333px;height:3.6px;background:linear-gradient(90deg,#ff5400,#ff8900,#ffbb00,#ffeb00,#e6ff00,#bcff00,#94ff00,#6fff00,#4dff00,#2dff00,#11ff00,#00ff0a,#00ff21,#00ff36,#00ff48,#00ff57,#00ff63,#00ff6d,#00ff74,#00ff79,#00ff7b,#00ff7a,#00ff76,#00ff70,#00ff66,#00ff5b,#00ff4c,#00ff3b,#00ff27,#00ff10,#09ff00,#25ff00,#44ff00,#65ff00,#89ff00,#b0ff00,#daff00,#fff800,#ffc900,#ff9700)"></i>
<i style="top:336px;height:3.6px;background:linear-gradient(90deg,#ff5100,#ff8600,#ffb900,#ffe800,#e8ff00,#beff00,#96ff00,#71ff00,#4fff00,#2fff00,#12ff00,#00ff08,#00ff20,#00ff34,#00ff47,#00ff56,#00ff63,#00ff6d,#00ff74,#00ff79,#00ff7a,#00ff7a,#00ff76,#00ff70,#00ff67,#00ff5b,#00ff4d,#00ff3c,#00ff28,#00ff12,#07ff00,#23ff00,#42ff00,#63ff00,#87ff00,#aeff00,#d7ff00,#fffb00,#ffcc00,#ff9a00)"></i>
<i style="top:339px;height:3.6px;background:linear-gradient(90deg,#ff4e00,#ff8300,#ffb600,#ffe600,#ebff00,#c0ff00,#98ff00,#73ff00,#51ff00,#31ff00,#14ff00,#00ff07,#00ff1e,#00ff33,#00ff46,#00ff55,#00ff62,#00ff6c,#00ff74,#00ff78,#00ff7a,#00ff7a,#00ff76,#00ff70,#00ff68,#00ff5c,#00ff4e,#00ff3d,#00ff29,#00ff13,#06ff00,#22ff00,#40ff00,#61ff00,#85ff00,#acff00,#d5ff00,#fffd00,#ffcf00,#ff9d00)"></i>
<i style="top:342px;height:3.6px;background:linear-gradient(90deg,#ff4b00,#ff8000,#ffb300,#ffe300,#edff00,#c2ff00,#9aff00,#75ff00,#52ff00,#32ff00,#15ff00,#00ff05,#00ff1d,#00ff32,#00ff45,#00ff54,#00ff61,#00ff6c,#00ff73,#00ff78,#00ff7b,#00ff7a,#00ff77,#00ff71,#00ff68,#00ff5d,#00ff4f,#00ff3e,#00ff2b,#00ff15,#04ff00,#20ff00,#3eff00,#5fff00,#83ff00,#a9ff00,#d2ff00,#feff00,#ffd100,#ffa000)"></i>
<i style="top:345px;height:3.6px;background:linear-gradient(90deg,#ff4800,#ff7d00,#ffb000,#ffe100,#f0ff00,#c5ff00,#9dff00,#77ff00,#54ff00,#34ff00,#17ff00,#00ff04,#00ff1c,#00ff31,#00ff44,#00ff54,#00ff61,#00ff6b,#00ff73,#00ff78,#00ff7b,#00ff7a,#00ff77,#00ff71,#00ff69,#00ff5e,#00ff50,#00ff3f,#00ff2c,#00ff16,#03ff00,#1eff00,#3cff00,#5dff00,#81ff00,#a7ff00,#d0ff00,#fbff00,#ffd400,#ffa300)"></i>
<i style="top:348px;height:3.6px;background:linear-gradient(90deg,#ff4500,#ff7a00,#ffae00,#ffde00,#f2ff00,#c7ff00,#9fff00,#79ff00,#56ff00,#36ff00,#18ff00,#00ff03,#00ff1b,#00ff30,#00ff43,#00ff53,#00ff60,#00ff6b,#00ff73,#00ff78,#00ff7b,#00ff7a,#00ff77,#00ff72,#00ff6a,#00ff5f,#00ff51,#00ff40,#00ff2d,#00ff17,#01ff00,#1cff00,#3aff00,#5bff00,#7eff00,#a5ff00,#cdff00,#f9ff00,#ffd700,#ffa600)"></i>
<i style="top:351px;height:3.6px;background:linear-gradient(90deg,#ff4200,#ff7800,#ffab00,#ffdc00,#f4ff00,#c9ff00,#a1ff00,#7bff00,#58ff00,#37ff00,#1aff00,#00ff01,#00ff1a,#00ff2f,#00ff42,#00ff52,#00ff60,#00ff6b,#00ff73,#00ff78,#00ff7b,#00ff7b,#00ff78,#00ff72,#00ff6a,#00ff5f,#00ff52,#00ff42,#00ff2f,#00ff19,#00ff00,#1bff00,#38ff00,#59ff00,#7cff00,#a2ff00,#cbff00,#f6ff00,#ffda00,#ffa900)"></i>
<i style="top:354px;height:3.6px;background:linear-gradient(90deg,#ff3f00,#ff7500,#ffa800,#ffd900,#f7ff00,#cbff00,#a3ff00,#7dff00,#59ff00,#39ff00,#1bff00,#00ff00,#00ff19,#00ff2e,#00ff41,#00ff52,#00ff5f,#00ff6a,#00ff72,#00ff78,#00ff7b,#00ff7b,#00ff78,#00ff73,#00ff6b,#00ff60,#00ff53,#00ff43,#00ff30,#00ff1a,#00ff02,#19ff00,#37ff00,#57ff00,#7aff00,#a0ff00,#c8ff00,#f3ff00,#ffdd00,#ffac00)"></i>
<i style="top:357px;height:3.6px;background:linear-gradient(90deg,#ff3c00,#ff7200,#ffa600,#ffd700,#f9ff00,#ceff00,#a5ff00,#7fff00,#5bff00,#3aff00,#1cff00,#01ff00,#00ff17,#00ff2d,#00ff41,#00ff51,#00ff5f,#00ff6a,#00ff72,#00ff78,#00ff7b,#00ff7b,#00ff79,#00ff74,#00ff6c,#00ff61,#00ff54,#00ff44,#00ff31,#00ff1c,#00ff04,#17ff00,#35ff00,#55ff00,#78ff00,#9dff00,#c6ff00,#f1ff00,#ffe000,#ffaf00)"></i>
<i style="top:360px;height:3.6px;background:linear-gradient(90deg,#ff3900,#ff6f00,#ffa300,#ffd400,#fbff00,#d0ff00,#a7ff00,#80ff00,#5dff00,#3cff00,#1eff00,#02ff00,#00ff16,#00ff2c,#00ff40,#00ff50,#00ff5e,#00ff6a,#00ff72,#00ff78,#00ff7b,#00ff7b,#00ff79,#00ff74,#00ff6c,#00ff62,#00ff55,#00ff45,#00ff33,#00ff1d,#00ff05,#15ff00,#33ff00,#53ff00,#75ff00,#9bff00,#c3ff00,#eeff00,#ffe200,#ffb200)"></i>
<i style="top:363px;height:3.6px;background:linear-gradient(90deg,#ff3600,#ff6d00,#ffa100,#ffd200,#feff00,#d2ff00,#a9ff00,#82ff00,#5eff00,#3dff00,#1fff00,#04ff00,#00ff15,#00ff2c,#00ff3f,#00ff50,#00ff5e,#00ff69,#00ff72,#00ff78,#00ff7b,#00ff7c,#00ff7a,#00ff75,#00ff6d,#00ff63,#00ff56,#00ff46,#00ff34,#00ff1f,#00ff07,#13ff00,#31ff00,#50ff00,#73ff00,#98ff00,#c0ff00,#ebff00,#ffe500,#ffb500)"></i>
<i style="top:366px;height:3.6px;background:linear-gradient(90deg,#ff3300,#ff6a00,#ff9e00,#ffcf00,#fffe00,#d4ff00,#abff00,#84ff00,#60ff00,#3fff00,#20ff00,#05ff00,#00ff14,#00ff2b,#00ff3e,#00ff4f,#00ff5e,#00ff69,#00ff72,#00ff78,#00ff7b,#00ff7c,#00ff7a,#00ff76,#00ff6e,#00ff64,#00ff57,#00ff48,#00ff35,#00ff21,#00ff09,#11ff00,#2fff00,#4eff00,#71ff00,#96ff00,#beff00,#e8ff00,#ffe800,#ffb800)"></i>
<i style="top:369px;height:3.6px;background:linear-gradient(90deg,#ff3000,#ff6700,#ff9b00,#ffcd00,#fffc00,#d6ff00,#adff00,#86ff00,#62ff00,#40ff00,#22ff00,#06ff00,#00ff13,#00ff2a,#00ff3e,#00ff4f,#00ff5d,#00ff69,#00ff72,#00ff78,#00ff7c,#00ff7d,#00ff7b,#00ff76,#00ff6f,#00ff65,#00ff58,#00ff49,#00ff37,#00ff22,#00ff0b,#10ff00,#2cff00,#4cff00,#6eff00,#93ff00,#bbff00,#e6ff00,#ffeb00,#ffbc00)"></i>
<i style="top:372px;height:3.6px;background:linear-gradient(90deg,#ff2d00,#ff6500,#ff9900,#ffcb00,#fffa00,#d8ff00,#aeff00,#88ff00,#63ff00,#42ff00,#23ff00,#07ff00,#00ff12,#00ff29,#00ff3d,#00ff4e,#00ff5d,#00ff69,#00ff72,#00ff78,#00ff7c,#00ff7d,#00ff7b,#00ff77,#00ff70,#00ff66,#00ff59,#00ff4a,#00ff38,#00ff24,#00ff0c,#0eff00,#2aff00,#4aff00,#6cff00,#91ff00,#b8ff00,#e3ff00,#ffee00,#ffbf00)"></i>
<i style="top:375px;height:3.6px;background:linear-gradient(90deg,#ff2b00,#ff6200,#ff9600,#ffc800,#fff800,#daff00,#b0ff00,#89ff00,#65ff00,#43ff00,#24ff00,#08ff00,#00ff11,#00ff28,#00ff3c,#00ff4e,#00ff5c,#00ff68,#00ff72,#00ff78,#00ff7c,#00ff7d,#00ff7c,#00ff78,#00ff71,#00ff67,#00ff5b,#00ff4c,#00ff3a,#00ff25,#00ff0e,#0cff00,#28ff00,#48ff00,#6aff00,#8eff00,#b6ff00,#e0ff00,#fff100,#ffc200)"></i>
<i style="top:378px;height:3.6px;background:linear-gradient(90deg,#ff2800,#ff5f00,#ff9400,#ffc600,#fff500,#dcff00,#b2ff00,#8bff00,#66ff00,#45ff00,#26ff00,#09ff00,#00ff11,#00ff27,#00ff3c,#00ff4d,#00ff5c,#00ff68,#00ff72,#00ff78,#00ff7d,#00ff7e,#00ff7c,#00ff78,#00ff72,#00ff68,#00ff5c,#00ff4d,#00ff3b,#00ff27,#00ff10,#0aff00,#26ff00,#45ff00,#67ff00,#8cff00,#b3ff00,#ddff00,#fff400,#ffc500)"></i>
<i style="top:381px;height:1.2px;background:linear-gradient(90deg,#ff2600,#ff5e00,#ff9300,#ffc500,#fff400,#ddff00,#b3ff00,#8cff00,#67ff00,#45ff00,#26ff00,#0aff00,#00ff10,#00ff27,#00ff3b,#00ff4d,#00ff5c,#00ff68,#00ff72,#00ff79,#00ff7d,#00ff7e,#00ff7d,#00ff79,#00ff72,#00ff69,#00ff5d,#00ff4e,#00ff3c,#00ff28,#00ff11,#08ff00,#25ff00,#44ff00,#66ff00,#8aff00,#b1ff00,#dbff00,#fff600,#ffc700)"></i>
</div>
<div class="cf" style="left:692.7px;top:863.5px;width:588.1px;height:380.7px">
<i style="top:0px;height:3.6px;background:linear-gradient(90deg,#2dff00,#02ff00,#00ff27,#00ff4e,#00ff71,#00ff92,#00ffb0,#00ffcc,#00ffe5,#00fffb,#00f0ff,#00dfff,#00d1ff,#00c6ff,#00bdff,#00b8ff,#00b4ff,#00b4ff,#00b6ff,#00bbff,#00c3ff,#00cdff,#00daff,#00eaff,#00fdff,#00ffec,#00ffd4,#00ffba,#00ff9c,#00ff7c,#00ff59,#00ff34,#00ff0c,#1fff00,#4dff00,#7dff00,#b0ff00,#e5ff00,#ffe000,#ffa500)"></i>
<i style="top:3px;height:3.6px;background:linear-gradient(90deg,#34ff00,#09ff00,#00ff20,#00ff47,#00ff6a,#00ff8b,#00ffaa,#00ffc5,#00ffde,#00fff4,#00f7ff,#00e6ff,#00d8ff,#00cdff,#00c4ff,#00beff,#00bbff,#00baff,#00bdff,#00c2ff,#00c9ff,#00d4ff,#00e1ff,#00f0ff,#00fffb,#00ffe6,#00ffce,#00ffb3,#00ff96,#00ff76,#00ff53,#00ff2e,#00ff06,#25ff00,#52ff00,#83ff00,#b6ff00,#ebff00,#ffda00,#ff9f00)"></i>
<i style="top:6px;height:3.6px;background:linear-gradient(90deg,#3bff00,#10ff00,#00ff1a,#00ff40,#00ff64,#00ff85,#00ffa3,#00ffbe,#00ffd7,#00ffed,#00fdff,#00ecff,#00deff,#00d3ff,#00caff,#00c5ff,#00c1ff,#00c1ff,#00c3ff,#00c8ff,#00d0ff,#00daff,#00e7ff,#00f7ff,#00fff5,#00ffe0,#00ffc8,#00ffad,#00ff90,#00ff70,#00ff4e,#00ff28,#00ff00,#2bff00,#58ff00,#88ff00,#bbff00,#f1ff00,#ffd500,#ff9a00)"></i>
<i style="top:9px;height:3.6px;background:linear-gradient(90deg,#42ff00,#16ff00,#00ff13,#00ff39,#00ff5d,#00ff7e,#00ff9c,#00ffb8,#00ffd1,#00ffe7,#00fffa,#00f3ff,#00e5ff,#00d9ff,#00d1ff,#00cbff,#00c8ff,#00c7ff,#00c9ff,#00ceff,#00d6ff,#00e0ff,#00edff,#00fdff,#00ffef,#00ffda,#00ffc2,#00ffa8,#00ff8a,#00ff6a,#00ff48,#00ff22,#06ff00,#30ff00,#5eff00,#8eff00,#c1ff00,#f6ff00,#ffcf00,#ff9400)"></i>
<i style="top:12px;height:3.6px;background:linear-gradient(90deg,#49ff00,#1dff00,#00ff0c,#00ff33,#00ff56,#00ff77,#00ff96,#00ffb1,#00ffca,#00ffe1,#00fff4,#00f9ff,#00ebff,#00e0ff,#00d7ff,#00d1ff,#00ceff,#00cdff,#00cfff,#00d4ff,#00dcff,#00e6ff,#00f3ff,#00fffb,#00ffe9,#00ffd4,#00ffbc,#00ffa2,#00ff85,#00ff65,#00ff42,#00ff1d,#0bff00,#36ff00,#63ff00,#93ff00,#c6ff00,#fcff00,#ffca00,#ff8f00)"></i>
<i style="top:15px;height:3.6px;background:linear-gradient(90deg,#4fff00,#23ff00,#00ff06,#00ff2c,#00ff50,#00ff71,#00ff8f,#00ffab,#00ffc4,#00ffda,#00ffee,#00ffff,#00f1ff,#00e6ff,#00ddff,#00d7ff,#00d4ff,#00d3ff,#00d5ff,#00daff,#00e1ff,#00ecff,#00f9ff,#00fff6,#00ffe3,#00ffce,#00ffb7,#00ff9c,#00ff7f,#00ff5f,#00ff3d,#00ff17,#11ff00,#3bff00,#69ff00,#99ff00,#ccff00,#fffd00,#ffc500,#ff8a00)"></i>
<i style="top:18px;height:3.6px;background:linear-gradient(90deg,#56ff00,#2aff00,#01ff00,#00ff26,#00ff4a,#00ff6b,#00ff89,#00ffa5,#00ffbe,#00ffd4,#00ffe8,#00fff9,#00f7ff,#00ecff,#00e3ff,#00ddff,#00daff,#00d9ff,#00dbff,#00e0ff,#00e7ff,#00f1ff,#00feff,#00fff0,#00ffde,#00ffc9,#00ffb1,#00ff97,#00ff7a,#00ff5a,#00ff37,#00ff12,#16ff00,#41ff00,#6eff00,#9eff00,#d1ff00,#fff800,#ffbf00,#ff8500)"></i>
<i style="top:21px;height:3.6px;background:linear-gradient(90deg,#5cff00,#30ff00,#07ff00,#00ff20,#00ff44,#00ff65,#00ff83,#00ff9f,#00ffb8,#00ffce,#00ffe2,#00fff3,#00fdff,#00f2ff,#00e9ff,#00e3ff,#00dfff,#00dfff,#00e1ff,#00e5ff,#00edff,#00f7ff,#00fffa,#00ffeb,#00ffd8,#00ffc3,#00ffac,#00ff91,#00ff74,#00ff54,#00ff32,#00ff0d,#1bff00,#46ff00,#73ff00,#a3ff00,#d6ff00,#fff300,#ffba00,#ff8000)"></i>
<i style="top:24px;height:3.6px;background:linear-gradient(90deg,#62ff00,#36ff00,#0dff00,#00ff1a,#00ff3e,#00ff5f,#00ff7d,#00ff99,#00ffb2,#00ffc8,#00ffdc,#00ffed,#00fffb,#00f7ff,#00eeff,#00e8ff,#00e5ff,#00e4ff,#00e6ff,#00ebff,#00f2ff,#00fcff,#00fff5,#00ffe5,#00ffd3,#00ffbe,#00ffa6,#00ff8c,#00ff6f,#00ff4f,#00ff2d,#00ff08,#20ff00,#4bff00,#78ff00,#a8ff00,#dbff00,#ffee00,#ffb600,#ff7b00)"></i>
<i style="top:27px;height:3.6px;background:linear-gradient(90deg,#68ff00,#3cff00,#13ff00,#00ff14,#00ff38,#00ff59,#00ff77,#00ff93,#00ffac,#00ffc3,#00ffd6,#00ffe7,#00fff6,#00fdff,#00f4ff,#00eeff,#00eaff,#00eaff,#00ecff,#00f0ff,#00f8ff,#00fffc,#00ffef,#00ffe0,#00ffce,#00ffb9,#00ffa1,#00ff87,#00ff6a,#00ff4a,#00ff28,#00ff03,#25ff00,#50ff00,#7dff00,#adff00,#e0ff00,#ffe900,#ffb100,#ff7600)"></i>
<i style="top:30px;height:3.6px;background:linear-gradient(90deg,#6eff00,#42ff00,#19ff00,#00ff0e,#00ff32,#00ff53,#00ff72,#00ff8d,#00ffa7,#00ffbd,#00ffd1,#00ffe2,#00fff0,#00fffc,#00f9ff,#00f3ff,#00f0ff,#00efff,#00f1ff,#00f6ff,#00fdff,#00fff7,#00ffea,#00ffdb,#00ffc9,#00ffb4,#00ff9c,#00ff82,#00ff65,#00ff45,#00ff23,#02ff00,#2aff00,#55ff00,#82ff00,#b2ff00,#e5ff00,#ffe400,#ffac00,#ff7100)"></i>
<i style="top:33px;height:3.6px;background:linear-gradient(90deg,#74ff00,#48ff00,#1eff00,#00ff08,#00ff2c,#00ff4e,#00ff6c,#00ff88,#00ffa1,#00ffb8,#00ffcb,#00ffdc,#00ffeb,#00fff6,#00ffff,#00f9ff,#00f5ff,#00f4ff,#00f6ff,#00fbff,#00fffc,#00fff2,#00ffe5,#00ffd6,#00ffc4,#00ffaf,#00ff97,#00ff7d,#00ff60,#00ff40,#00ff1e,#07ff00,#2fff00,#59ff00,#87ff00,#b7ff00,#e9ff00,#ffe000,#ffa800,#ff6d00)"></i>
<i style="top:36px;height:3.6px;background:linear-gradient(90deg,#7aff00,#4dff00,#24ff00,#00ff03,#00ff27,#00ff48,#00ff67,#00ff82,#00ff9c,#00ffb2,#00ffc6,#00ffd7,#00ffe5,#00fff1,#00fffa,#00feff,#00faff,#00f9ff,#00fbff,#00fffe,#00fff7,#00ffed,#00ffe0,#00ffd1,#00ffbf,#00ffaa,#00ff92,#00ff78,#00ff5b,#00ff3c,#00ff19,#0cff00,#34ff00,#5eff00,#8bff00,#bbff00,#eeff00,#ffdb00,#ffa300,#ff6800)"></i>
<i style="top:39px;height:3.6px;background:linear-gradient(90deg,#7fff00,#53ff00,#2aff00,#03ff00,#00ff21,#00ff43,#00ff61,#00ff7d,#00ff96,#00ffad,#00ffc1,#00ffd2,#00ffe0,#00ffec,#00fff5,#00fffb,#00ffff,#00feff,#00fffe,#00fff9,#00fff2,#00ffe8,#00ffdb,#00ffcc,#00ffba,#00ffa5,#00ff8e,#00ff73,#00ff57,#00ff37,#00ff15,#10ff00,#38ff00,#62ff00,#90ff00,#bfff00,#f2ff00,#ffd700,#ff9f00,#ff6400)"></i>
<i style="top:42px;height:3.6px;background:linear-gradient(90deg,#85ff00,#58ff00,#2fff00,#08ff00,#00ff1c,#00ff3d,#00ff5c,#00ff78,#00ff91,#00ffa8,#00ffbc,#00ffcd,#00ffdb,#00ffe7,#00fff0,#00fff6,#00fffa,#00fffb,#00fff9,#00fff4,#00ffed,#00ffe3,#00ffd7,#00ffc7,#00ffb5,#00ffa1,#00ff89,#00ff6f,#00ff52,#00ff32,#00ff10,#15ff00,#3cff00,#67ff00,#94ff00,#c4ff00,#f6ff00,#ffd300,#ff9b00,#ff6000)"></i>
<i style="top:45px;height:3.6px;background:linear-gradient(90deg,#8aff00,#5eff00,#34ff00,#0dff00,#00ff17,#00ff38,#00ff57,#00ff73,#00ff8c,#00ffa3,#00ffb7,#00ffc8,#00ffd6,#00ffe2,#00ffeb,#00fff1,#00fff5,#00fff6,#00fff4,#00fff0,#00ffe9,#00ffdf,#00ffd2,#00ffc3,#00ffb1,#00ff9c,#00ff85,#00ff6a,#00ff4e,#00ff2e,#00ff0c,#19ff00,#41ff00,#6bff00,#98ff00,#c8ff00,#faff00,#ffce00,#ff9700,#ff5c00)"></i>
<i style="top:48px;height:3.6px;background:linear-gradient(90deg,#8fff00,#63ff00,#39ff00,#12ff00,#00ff12,#00ff33,#00ff52,#00ff6e,#00ff87,#00ff9e,#00ffb2,#00ffc3,#00ffd1,#00ffdd,#00ffe6,#00ffed,#00fff0,#00fff1,#00fff0,#00ffeb,#00ffe4,#00ffda,#00ffce,#00ffbe,#00ffac,#00ff98,#00ff80,#00ff66,#00ff49,#00ff2a,#00ff08,#1dff00,#45ff00,#6fff00,#9cff00,#ccff00,#feff00,#ffcb00,#ff9300,#ff5800)"></i>
<i style="top:51px;height:3.6px;background:linear-gradient(90deg,#94ff00,#68ff00,#3eff00,#17ff00,#00ff0d,#00ff2e,#00ff4d,#00ff69,#00ff82,#00ff99,#00ffad,#00ffbe,#00ffcd,#00ffd9,#00ffe2,#00ffe8,#00ffec,#00ffed,#00ffeb,#00ffe7,#00ffe0,#00ffd6,#00ffc9,#00ffba,#00ffa8,#00ff93,#00ff7c,#00ff62,#00ff45,#00ff26,#00ff04,#21ff00,#49ff00,#73ff00,#a0ff00,#d0ff00,#fffc00,#ffc700,#ff8f00,#ff5400)"></i>
<i style="top:54px;height:3.6px;background:linear-gradient(90deg,#99ff00,#6dff00,#43ff00,#1cff00,#00ff08,#00ff29,#00ff48,#00ff64,#00ff7e,#00ff94,#00ffa8,#00ffba,#00ffc8,#00ffd4,#00ffdd,#00ffe4,#00ffe7,#00ffe8,#00ffe7,#00ffe2,#00ffdb,#00ffd2,#00ffc5,#00ffb6,#00ffa4,#00ff8f,#00ff78,#00ff5e,#00ff41,#00ff22,#00ff00,#25ff00,#4dff00,#77ff00,#a4ff00,#d4ff00,#fff800,#ffc300,#ff8b00,#ff5100)"></i>
<i style="top:57px;height:3.6px;background:linear-gradient(90deg,#9eff00,#72ff00,#48ff00,#21ff00,#00ff03,#00ff25,#00ff44,#00ff60,#00ff79,#00ff90,#00ffa4,#00ffb5,#00ffc4,#00ffd0,#00ffd9,#00ffdf,#00ffe3,#00ffe4,#00ffe3,#00ffde,#00ffd7,#00ffcd,#00ffc1,#00ffb2,#00ffa0,#00ff8b,#00ff74,#00ff5a,#00ff3d,#00ff1e,#04ff00,#29ff00,#51ff00,#7bff00,#a8ff00,#d7ff00,#fff400,#ffbf00,#ff8800,#ff4d00)"></i>
<i style="top:60px;height:3.6px;background:linear-gradient(90deg,#a3ff00,#76ff00,#4dff00,#26ff00,#01ff00,#00ff20,#00ff3f,#00ff5b,#00ff75,#00ff8b,#00ffa0,#00ffb1,#00ffbf,#00ffcb,#00ffd5,#00ffdb,#00ffdf,#00ffe0,#00ffde,#00ffda,#00ffd3,#00ffc9,#00ffbd,#00ffae,#00ff9c,#00ff87,#00ff70,#00ff56,#00ff3a,#00ff1a,#08ff00,#2dff00,#54ff00,#7eff00,#abff00,#dbff00,#fff100,#ffbc00,#ff8400,#ff4a00)"></i>
<i style="top:63px;height:3.6px;background:linear-gradient(90deg,#a7ff00,#7bff00,#51ff00,#2aff00,#06ff00,#00ff1c,#00ff3b,#00ff57,#00ff70,#00ff87,#00ff9b,#00ffad,#00ffbb,#00ffc7,#00ffd0,#00ffd7,#00ffdb,#00ffdc,#00ffda,#00ffd6,#00ffcf,#00ffc5,#00ffb9,#00ffaa,#00ff98,#00ff84,#00ff6c,#00ff53,#00ff36,#00ff17,#0bff00,#30ff00,#58ff00,#82ff00,#afff00,#deff00,#ffed00,#ffb800,#ff8100,#ff4600)"></i>
<i style="top:66px;height:3.6px;background:linear-gradient(90deg,#acff00,#7fff00,#55ff00,#2eff00,#0aff00,#00ff18,#00ff36,#00ff53,#00ff6c,#00ff83,#00ff97,#00ffa9,#00ffb7,#00ffc3,#00ffcc,#00ffd3,#00ffd7,#00ffd8,#00ffd7,#00ffd2,#00ffcb,#00ffc2,#00ffb5,#00ffa6,#00ff94,#00ff80,#00ff69,#00ff4f,#00ff32,#00ff13,#0fff00,#34ff00,#5bff00,#85ff00,#b2ff00,#e2ff00,#ffea00,#ffb500,#ff7e00,#ff4300)"></i>
<i style="top:69px;height:3.6px;background:linear-gradient(90deg,#b0ff00,#84ff00,#5aff00,#33ff00,#0eff00,#00ff13,#00ff32,#00ff4f,#00ff68,#00ff7f,#00ff93,#00ffa5,#00ffb3,#00ffbf,#00ffc9,#00ffcf,#00ffd3,#00ffd4,#00ffd3,#00ffcf,#00ffc8,#00ffbe,#00ffb2,#00ffa3,#00ff91,#00ff7c,#00ff65,#00ff4b,#00ff2f,#00ff10,#12ff00,#37ff00,#5eff00,#88ff00,#b5ff00,#e5ff00,#ffe700,#ffb200,#ff7a00,#ff4000)"></i>
<i style="top:72px;height:3.6px;background:linear-gradient(90deg,#b4ff00,#88ff00,#5eff00,#37ff00,#12ff00,#00ff0f,#00ff2e,#00ff4b,#00ff64,#00ff7b,#00ff8f,#00ffa1,#00ffaf,#00ffbb,#00ffc5,#00ffcb,#00ffcf,#00ffd1,#00ffcf,#00ffcb,#00ffc4,#00ffbb,#00ffae,#00ff9f,#00ff8e,#00ff79,#00ff62,#00ff48,#00ff2c,#00ff0c,#16ff00,#3aff00,#62ff00,#8cff00,#b8ff00,#e8ff00,#ffe400,#ffaf00,#ff7800,#ff3d00)"></i>
<i style="top:75px;height:3.6px;background:linear-gradient(90deg,#b8ff00,#8cff00,#62ff00,#3bff00,#16ff00,#00ff0b,#00ff2a,#00ff47,#00ff60,#00ff77,#00ff8b,#00ff9d,#00ffac,#00ffb8,#00ffc1,#00ffc8,#00ffcc,#00ffcd,#00ffcc,#00ffc8,#00ffc1,#00ffb7,#00ffab,#00ff9c,#00ff8a,#00ff76,#00ff5f,#00ff45,#00ff28,#00ff09,#19ff00,#3dff00,#65ff00,#8fff00,#bbff00,#ebff00,#ffe100,#ffac00,#ff7500,#ff3a00)"></i>
<i style="top:78px;height:3.6px;background:linear-gradient(90deg,#bcff00,#90ff00,#66ff00,#3fff00,#1aff00,#00ff08,#00ff27,#00ff43,#00ff5d,#00ff74,#00ff88,#00ff99,#00ffa8,#00ffb4,#00ffbe,#00ffc4,#00ffc8,#00ffca,#00ffc8,#00ffc4,#00ffbd,#00ffb4,#00ffa8,#00ff99,#00ff87,#00ff73,#00ff5c,#00ff42,#00ff25,#00ff06,#1cff00,#40ff00,#68ff00,#92ff00,#beff00,#eeff00,#ffde00,#ffa900,#ff7200,#ff3800)"></i>
<i style="top:81px;height:3.6px;background:linear-gradient(90deg,#c0ff00,#94ff00,#6aff00,#42ff00,#1eff00,#00ff04,#00ff23,#00ff3f,#00ff59,#00ff70,#00ff84,#00ff96,#00ffa5,#00ffb1,#00ffba,#00ffc1,#00ffc5,#00ffc6,#00ffc5,#00ffc1,#00ffba,#00ffb1,#00ffa4,#00ff96,#00ff84,#00ff70,#00ff59,#00ff3f,#00ff22,#00ff03,#1fff00,#43ff00,#6aff00,#94ff00,#c1ff00,#f0ff00,#ffdc00,#ffa700,#ff6f00,#ff3500)"></i>
<i style="top:84px;height:3.6px;background:linear-gradient(90deg,#c4ff00,#97ff00,#6dff00,#46ff00,#22ff00,#00ff00,#00ff1f,#00ff3c,#00ff56,#00ff6d,#00ff81,#00ff92,#00ffa1,#00ffae,#00ffb7,#00ffbe,#00ffc2,#00ffc3,#00ffc2,#00ffbe,#00ffb7,#00ffae,#00ffa1,#00ff93,#00ff81,#00ff6d,#00ff56,#00ff3c,#00ff20,#00ff01,#21ff00,#46ff00,#6dff00,#97ff00,#c4ff00,#f3ff00,#ffd900,#ffa400,#ff6d00,#ff3300)"></i>
<i style="top:87px;height:3.6px;background:linear-gradient(90deg,#c8ff00,#9bff00,#71ff00,#4aff00,#25ff00,#03ff00,#00ff1c,#00ff38,#00ff52,#00ff69,#00ff7e,#00ff8f,#00ff9e,#00ffaa,#00ffb4,#00ffbb,#00ffbf,#00ffc0,#00ffbf,#00ffbb,#00ffb4,#00ffab,#00ff9f,#00ff90,#00ff7e,#00ff6a,#00ff53,#00ff39,#00ff1d,#02ff00,#24ff00,#48ff00,#70ff00,#99ff00,#c6ff00,#f5ff00,#ffd700,#ffa200,#ff6a00,#ff3000)"></i>
<i style="top:90px;height:3.6px;background:linear-gradient(90deg,#cbff00,#9eff00,#74ff00,#4dff00,#28ff00,#06ff00,#00ff19,#00ff35,#00ff4f,#00ff66,#00ff7a,#00ff8c,#00ff9b,#00ffa7,#00ffb1,#00ffb8,#00ffbc,#00ffbd,#00ffbc,#00ffb8,#00ffb1,#00ffa8,#00ff9c,#00ff8d,#00ff7b,#00ff67,#00ff50,#00ff37,#00ff1a,#05ff00,#26ff00,#4bff00,#72ff00,#9cff00,#c8ff00,#f8ff00,#ffd400,#ffa000,#ff6800,#ff2e00)"></i>
<i style="top:93px;height:3.6px;background:linear-gradient(90deg,#ceff00,#a2ff00,#78ff00,#50ff00,#2cff00,#0aff00,#00ff16,#00ff32,#00ff4c,#00ff63,#00ff77,#00ff89,#00ff98,#00ffa4,#00ffae,#00ffb5,#00ffb9,#00ffba,#00ffb9,#00ffb5,#00ffaf,#00ffa5,#00ff99,#00ff8a,#00ff79,#00ff65,#00ff4e,#00ff34,#00ff18,#07ff00,#29ff00,#4dff00,#74ff00,#9eff00,#cbff00,#faff00,#ffd200,#ff9d00,#ff6600,#ff2c00)"></i>
<i style="top:96px;height:3.6px;background:linear-gradient(90deg,#d2ff00,#a5ff00,#7bff00,#53ff00,#2fff00,#0dff00,#00ff12,#00ff2f,#00ff49,#00ff60,#00ff74,#00ff86,#00ff95,#00ffa1,#00ffab,#00ffb2,#00ffb6,#00ffb8,#00ffb6,#00ffb3,#00ffac,#00ffa3,#00ff97,#00ff88,#00ff76,#00ff62,#00ff4b,#00ff32,#00ff16,#09ff00,#2bff00,#4fff00,#77ff00,#a0ff00,#cdff00,#fcff00,#ffd000,#ff9b00,#ff6400,#ff2a00)"></i>
<i style="top:99px;height:3.6px;background:linear-gradient(90deg,#d5ff00,#a8ff00,#7eff00,#56ff00,#32ff00,#10ff00,#00ff10,#00ff2c,#00ff46,#00ff5d,#00ff72,#00ff83,#00ff92,#00ff9f,#00ffa8,#00ffaf,#00ffb4,#00ffb5,#00ffb4,#00ffb0,#00ffa9,#00ffa0,#00ff94,#00ff85,#00ff74,#00ff60,#00ff49,#00ff30,#00ff13,#0cff00,#2dff00,#52ff00,#79ff00,#a2ff00,#cfff00,#feff00,#ffce00,#ff9a00,#ff6200,#ff2800)"></i>
<i style="top:102px;height:3.6px;background:linear-gradient(90deg,#d8ff00,#abff00,#81ff00,#59ff00,#35ff00,#13ff00,#00ff0d,#00ff29,#00ff43,#00ff5a,#00ff6f,#00ff81,#00ff90,#00ff9c,#00ffa6,#00ffad,#00ffb1,#00ffb3,#00ffb2,#00ffae,#00ffa7,#00ff9e,#00ff92,#00ff83,#00ff72,#00ff5e,#00ff47,#00ff2d,#00ff11,#0eff00,#2fff00,#54ff00,#7bff00,#a4ff00,#d1ff00,#fffe00,#ffcc00,#ff9800,#ff6000,#ff2700)"></i>
<i style="top:105px;height:3.6px;background:linear-gradient(90deg,#dbff00,#aeff00,#84ff00,#5cff00,#37ff00,#15ff00,#00ff0a,#00ff27,#00ff41,#00ff58,#00ff6c,#00ff7e,#00ff8d,#00ff9a,#00ffa3,#00ffaa,#00ffaf,#00ffb0,#00ffaf,#00ffab,#00ffa5,#00ff9c,#00ff90,#00ff81,#00ff70,#00ff5c,#00ff45,#00ff2b,#00ff0f,#10ff00,#31ff00,#55ff00,#7cff00,#a6ff00,#d2ff00,#fffc00,#ffcb00,#ff9600,#ff5f00,#ff2500)"></i>
<i style="top:108px;height:3.6px;background:linear-gradient(90deg,#ddff00,#b1ff00,#86ff00,#5fff00,#3aff00,#18ff00,#00ff07,#00ff24,#00ff3e,#00ff55,#00ff6a,#00ff7c,#00ff8b,#00ff97,#00ffa1,#00ffa8,#00ffad,#00ffae,#00ffad,#00ffa9,#00ffa3,#00ff9a,#00ff8e,#00ff7f,#00ff6e,#00ff5a,#00ff43,#00ff2a,#00ff0d,#11ff00,#33ff00,#57ff00,#7eff00,#a8ff00,#d4ff00,#fffb00,#ffc900,#ff9500,#ff5d00,#ff2300)"></i>
<i style="top:111px;height:3.6px;background:linear-gradient(90deg,#e0ff00,#b3ff00,#89ff00,#61ff00,#3dff00,#1aff00,#00ff05,#00ff22,#00ff3c,#00ff53,#00ff68,#00ff7a,#00ff89,#00ff95,#00ff9f,#00ffa6,#00ffaa,#00ffac,#00ffab,#00ffa7,#00ffa1,#00ff98,#00ff8c,#00ff7d,#00ff6c,#00ff58,#00ff41,#00ff28,#00ff0c,#13ff00,#35ff00,#59ff00,#80ff00,#a9ff00,#d6ff00,#fff900,#ffc800,#ff9300,#ff5c00,#ff2200)"></i>
<i style="top:114px;height:3.6px;background:linear-gradient(90deg,#e3ff00,#b6ff00,#8bff00,#64ff00,#3fff00,#1dff00,#00ff03,#00ff1f,#00ff39,#00ff51,#00ff65,#00ff77,#00ff87,#00ff93,#00ff9d,#00ffa4,#00ffa8,#00ffaa,#00ffa9,#00ffa5,#00ff9f,#00ff96,#00ff8a,#00ff7b,#00ff6a,#00ff56,#00ff40,#00ff26,#00ff0a,#15ff00,#36ff00,#5aff00,#81ff00,#abff00,#d7ff00,#fff800,#ffc600,#ff9200,#ff5b00,#ff2100)"></i>
<i style="top:117px;height:3.6px;background:linear-gradient(90deg,#e5ff00,#b8ff00,#8eff00,#66ff00,#41ff00,#1fff00,#00ff00,#00ff1d,#00ff37,#00ff4f,#00ff63,#00ff75,#00ff85,#00ff91,#00ff9b,#00ffa2,#00ffa7,#00ffa8,#00ffa7,#00ffa4,#00ff9d,#00ff94,#00ff88,#00ff7a,#00ff69,#00ff55,#00ff3e,#00ff25,#00ff09,#16ff00,#38ff00,#5cff00,#83ff00,#acff00,#d8ff00,#fff700,#ffc500,#ff9100,#ff5a00,#ff2000)"></i>
<i style="top:120px;height:3.6px;background:linear-gradient(90deg,#e7ff00,#baff00,#90ff00,#68ff00,#43ff00,#21ff00,#02ff00,#00ff1b,#00ff35,#00ff4d,#00ff61,#00ff73,#00ff83,#00ff8f,#00ff99,#00ffa0,#00ffa5,#00ffa7,#00ffa6,#00ffa2,#00ff9c,#00ff92,#00ff87,#00ff78,#00ff67,#00ff53,#00ff3d,#00ff23,#00ff07,#17ff00,#39ff00,#5dff00,#84ff00,#adff00,#daff00,#fff600,#ffc400,#ff9000,#ff5800,#ff1f00)"></i>
<i style="top:123px;height:3.6px;background:linear-gradient(90deg,#e9ff00,#bcff00,#92ff00,#6aff00,#45ff00,#23ff00,#04ff00,#00ff19,#00ff33,#00ff4b,#00ff60,#00ff72,#00ff81,#00ff8e,#00ff97,#00ff9f,#00ffa3,#00ffa5,#00ffa4,#00ffa0,#00ff9a,#00ff91,#00ff85,#00ff77,#00ff66,#00ff52,#00ff3b,#00ff22,#00ff06,#19ff00,#3aff00,#5eff00,#85ff00,#aeff00,#dbff00,#fff500,#ffc300,#ff8f00,#ff5800,#ff1e00)"></i>
<i style="top:126px;height:3.6px;background:linear-gradient(90deg,#ecff00,#beff00,#94ff00,#6cff00,#47ff00,#25ff00,#05ff00,#00ff17,#00ff32,#00ff49,#00ff5e,#00ff70,#00ff7f,#00ff8c,#00ff96,#00ff9d,#00ffa2,#00ffa3,#00ffa3,#00ff9f,#00ff99,#00ff90,#00ff84,#00ff76,#00ff64,#00ff51,#00ff3a,#00ff21,#00ff05,#1aff00,#3bff00,#5fff00,#86ff00,#afff00,#dbff00,#fff400,#ffc200,#ff8e00,#ff5700,#ff1d00)"></i>
<i style="top:129px;height:3.6px;background:linear-gradient(90deg,#edff00,#c0ff00,#96ff00,#6eff00,#49ff00,#27ff00,#07ff00,#00ff16,#00ff30,#00ff47,#00ff5c,#00ff6e,#00ff7e,#00ff8a,#00ff94,#00ff9c,#00ffa0,#00ffa2,#00ffa1,#00ff9e,#00ff97,#00ff8e,#00ff83,#00ff74,#00ff63,#00ff50,#00ff39,#00ff20,#00ff04,#1bff00,#3cff00,#60ff00,#87ff00,#b0ff00,#dcff00,#fff300,#ffc100,#ff8d00,#ff5600,#ff1c00)"></i>
<i style="top:132px;height:3.6px;background:linear-gradient(90deg,#efff00,#c2ff00,#98ff00,#70ff00,#4bff00,#28ff00,#09ff00,#00ff14,#00ff2e,#00ff46,#00ff5b,#00ff6d,#00ff7c,#00ff89,#00ff93,#00ff9a,#00ff9f,#00ffa1,#00ffa0,#00ff9c,#00ff96,#00ff8d,#00ff82,#00ff73,#00ff62,#00ff4f,#00ff38,#00ff1f,#00ff03,#1cff00,#3dff00,#61ff00,#87ff00,#b1ff00,#ddff00,#fff200,#ffc100,#ff8c00,#ff5600,#ff1c00)"></i>
<i style="top:135px;height:3.6px;background:linear-gradient(90deg,#f1ff00,#c4ff00,#99ff00,#71ff00,#4cff00,#2aff00,#0aff00,#00ff13,#00ff2d,#00ff45,#00ff59,#00ff6c,#00ff7b,#00ff88,#00ff92,#00ff99,#00ff9e,#00ffa0,#00ff9f,#00ff9b,#00ff95,#00ff8c,#00ff81,#00ff72,#00ff61,#00ff4e,#00ff37,#00ff1e,#00ff02,#1cff00,#3dff00,#61ff00,#88ff00,#b1ff00,#deff00,#fff200,#ffc000,#ff8c00,#ff5500,#ff1c00)"></i>
<i style="top:138px;height:3.6px;background:linear-gradient(90deg,#f2ff00,#c5ff00,#9bff00,#73ff00,#4eff00,#2bff00,#0cff00,#00ff11,#00ff2c,#00ff43,#00ff58,#00ff6a,#00ff7a,#00ff87,#00ff91,#00ff98,#00ff9d,#00ff9f,#00ff9e,#00ff9b,#00ff94,#00ff8b,#00ff80,#00ff72,#00ff61,#00ff4d,#00ff37,#00ff1d,#00ff02,#1dff00,#3eff00,#62ff00,#89ff00,#b2ff00,#deff00,#fff100,#ffc000,#ff8c00,#ff5500,#ff1b00)"></i>
<i style="top:141px;height:3.6px;background:linear-gradient(90deg,#f4ff00,#c7ff00,#9cff00,#74ff00,#4fff00,#2dff00,#0dff00,#00ff10,#00ff2b,#00ff42,#00ff57,#00ff69,#00ff79,#00ff86,#00ff90,#00ff97,#00ff9c,#00ff9e,#00ff9d,#00ff9a,#00ff94,#00ff8b,#00ff7f,#00ff71,#00ff60,#00ff4c,#00ff36,#00ff1d,#00ff01,#1dff00,#3eff00,#62ff00,#89ff00,#b2ff00,#deff00,#fff100,#ffc000,#ff8b00,#ff5500,#ff1b00)"></i>
<i style="top:144px;height:3.6px;background:linear-gradient(90deg,#f5ff00,#c8ff00,#9dff00,#75ff00,#50ff00,#2eff00,#0eff00,#00ff0f,#00ff29,#00ff41,#00ff56,#00ff68,#00ff78,#00ff85,#00ff8f,#00ff96,#00ff9b,#00ff9d,#00ff9c,#00ff99,#00ff93,#00ff8a,#00ff7f,#00ff70,#00ff5f,#00ff4c,#00ff36,#00ff1d,#00ff01,#1eff00,#3fff00,#63ff00,#89ff00,#b3ff00,#deff00,#fff100,#ffbf00,#ff8b00,#ff5500,#ff1b00)"></i>
<i style="top:147px;height:3.6px;background:linear-gradient(90deg,#f6ff00,#c9ff00,#9eff00,#77ff00,#51ff00,#2fff00,#0fff00,#00ff0e,#00ff29,#00ff40,#00ff55,#00ff68,#00ff77,#00ff84,#00ff8e,#00ff96,#00ff9a,#00ff9c,#00ff9c,#00ff98,#00ff92,#00ff8a,#00ff7e,#00ff70,#00ff5f,#00ff4b,#00ff35,#00ff1c,#00ff00,#1eff00,#3fff00,#63ff00,#89ff00,#b3ff00,#dfff00,#fff100,#ffbf00,#ff8b00,#ff5500,#ff1b00)"></i>
<i style="top:150px;height:3.6px;background:linear-gradient(90deg,#f8ff00,#caff00,#9fff00,#78ff00,#52ff00,#30ff00,#10ff00,#00ff0d,#00ff28,#00ff3f,#00ff54,#00ff67,#00ff76,#00ff83,#00ff8e,#00ff95,#00ff9a,#00ff9c,#00ff9b,#00ff98,#00ff92,#00ff89,#00ff7e,#00ff70,#00ff5f,#00ff4b,#00ff35,#00ff1c,#00ff00,#1eff00,#3fff00,#63ff00,#89ff00,#b3ff00,#dfff00,#fff100,#ffc000,#ff8c00,#ff5500,#ff1b00)"></i>
<i style="top:153px;height:3.6px;background:linear-gradient(90deg,#f8ff00,#cbff00,#a0ff00,#78ff00,#53ff00,#30ff00,#11ff00,#00ff0d,#00ff27,#00ff3f,#00ff54,#00ff66,#00ff76,#00ff83,#00ff8d,#00ff95,#00ff99,#00ff9c,#00ff9b,#00ff98,#00ff92,#00ff89,#00ff7e,#00ff6f,#00ff5f,#00ff4b,#00ff35,#00ff1c,#00ff00,#1eff00,#3fff00,#63ff00,#89ff00,#b2ff00,#deff00,#fff100,#ffc000,#ff8c00,#ff5500,#ff1c00)"></i>
<i style="top:156px;height:3.6px;background:linear-gradient(90deg,#f9ff00,#ccff00,#a1ff00,#79ff00,#54ff00,#31ff00,#11ff00,#00ff0c,#00ff26,#00ff3e,#00ff53,#00ff66,#00ff75,#00ff82,#00ff8d,#00ff94,#00ff99,#00ff9b,#00ff9b,#00ff97,#00ff91,#00ff89,#00ff7d,#00ff6f,#00ff5f,#00ff4b,#00ff35,#00ff1c,#00ff00,#1eff00,#3fff00,#63ff00,#89ff00,#b2ff00,#deff00,#fff100,#ffc000,#ff8c00,#ff5600,#ff1c00)"></i>
<i style="top:159px;height:3.6px;background:linear-gradient(90deg,#faff00,#cdff00,#a2ff00,#7aff00,#54ff00,#32ff00,#12ff00,#00ff0b,#00ff26,#00ff3e,#00ff53,#00ff65,#00ff75,#00ff82,#00ff8c,#00ff94,#00ff99,#00ff9b,#00ff9b,#00ff97,#00ff91,#00ff89,#00ff7d,#00ff6f,#00ff5f,#00ff4b,#00ff35,#00ff1c,#00ff01,#1eff00,#3fff00,#62ff00,#89ff00,#b2ff00,#deff00,#fff200,#ffc100,#ff8d00,#ff5600,#ff1d00)"></i>
<i style="top:162px;height:3.6px;background:linear-gradient(90deg,#fbff00,#cdff00,#a2ff00,#7aff00,#55ff00,#32ff00,#12ff00,#00ff0b,#00ff26,#00ff3e,#00ff53,#00ff65,#00ff75,#00ff82,#00ff8c,#00ff94,#00ff99,#00ff9b,#00ff9b,#00ff97,#00ff92,#00ff89,#00ff7e,#00ff70,#00ff5f,#00ff4b,#00ff35,#00ff1c,#00ff01,#1dff00,#3eff00,#62ff00,#88ff00,#b1ff00,#ddff00,#fff200,#ffc100,#ff8d00,#ff5700,#ff1d00)"></i>
<i style="top:165px;height:3.6px;background:linear-gradient(90deg,#fbff00,#ceff00,#a3ff00,#7bff00,#55ff00,#32ff00,#12ff00,#00ff0b,#00ff25,#00ff3d,#00ff53,#00ff65,#00ff75,#00ff82,#00ff8c,#00ff94,#00ff99,#00ff9b,#00ff9b,#00ff98,#00ff92,#00ff89,#00ff7e,#00ff70,#00ff5f,#00ff4c,#00ff36,#00ff1d,#00ff01,#1dff00,#3eff00,#61ff00,#88ff00,#b1ff00,#dcff00,#fff300,#ffc200,#ff8e00,#ff5800,#ff1e00)"></i>
<i style="top:168px;height:3.6px;background:linear-gradient(90deg,#fbff00,#ceff00,#a3ff00,#7bff00,#55ff00,#33ff00,#13ff00,#00ff0b,#00ff25,#00ff3d,#00ff53,#00ff65,#00ff75,#00ff82,#00ff8c,#00ff94,#00ff99,#00ff9b,#00ff9b,#00ff98,#00ff92,#00ff89,#00ff7e,#00ff70,#00ff60,#00ff4c,#00ff36,#00ff1d,#00ff02,#1cff00,#3dff00,#61ff00,#87ff00,#b0ff00,#dcff00,#fff400,#ffc300,#ff8f00,#ff5800,#ff1f00)"></i>
<i style="top:171px;height:3.6px;background:linear-gradient(90deg,#fcff00,#ceff00,#a3ff00,#7bff00,#55ff00,#33ff00,#13ff00,#00ff0b,#00ff25,#00ff3d,#00ff53,#00ff65,#00ff75,#00ff82,#00ff8d,#00ff94,#00ff99,#00ff9c,#00ff9b,#00ff98,#00ff92,#00ff8a,#00ff7f,#00ff71,#00ff60,#00ff4d,#00ff37,#00ff1e,#00ff03,#1bff00,#3cff00,#60ff00,#86ff00,#afff00,#dbff00,#fff500,#ffc400,#ff9000,#ff5900,#ff2000)"></i>
<i style="top:174px;height:3.6px;background:linear-gradient(90deg,#fcff00,#ceff00,#a3ff00,#7bff00,#55ff00,#33ff00,#13ff00,#00ff0b,#00ff26,#00ff3e,#00ff53,#00ff65,#00ff75,#00ff83,#00ff8d,#00ff95,#00ff9a,#00ff9c,#00ff9c,#00ff99,#00ff93,#00ff8b,#00ff7f,#00ff71,#00ff61,#00ff4e,#00ff38,#00ff1f,#00ff03,#1bff00,#3bff00,#5fff00,#85ff00,#aeff00,#daff00,#fff600,#ffc500,#ff9100,#ff5b00,#ff2100)"></i>
<i style="top:177px;height:3.6px;background:linear-gradient(90deg,#fcff00,#ceff00,#a3ff00,#7bff00,#55ff00,#32ff00,#12ff00,#00ff0b,#00ff26,#00ff3e,#00ff53,#00ff66,#00ff76,#00ff83,#00ff8d,#00ff95,#00ff9a,#00ff9d,#00ff9c,#00ff99,#00ff94,#00ff8b,#00ff80,#00ff72,#00ff62,#00ff4e,#00ff38,#00ff20,#00ff04,#1aff00,#3aff00,#5eff00,#84ff00,#adff00,#d9ff00,#fff700,#ffc600,#ff9200,#ff5c00,#ff2300)"></i>
<i style="top:180px;height:3.6px;background:linear-gradient(90deg,#fcff00,#ceff00,#a3ff00,#7bff00,#55ff00,#32ff00,#12ff00,#00ff0c,#00ff26,#00ff3e,#00ff54,#00ff66,#00ff76,#00ff84,#00ff8e,#00ff96,#00ff9b,#00ff9d,#00ff9d,#00ff9a,#00ff94,#00ff8c,#00ff81,#00ff73,#00ff63,#00ff4f,#00ff39,#00ff21,#00ff05,#19ff00,#39ff00,#5dff00,#83ff00,#acff00,#d7ff00,#fff800,#ffc700,#ff9400,#ff5d00,#ff2400)"></i>
<i style="top:183px;height:3.6px;background:linear-gradient(90deg,#fbff00,#ceff00,#a3ff00,#7aff00,#55ff00,#32ff00,#12ff00,#00ff0c,#00ff27,#00ff3f,#00ff54,#00ff67,#00ff77,#00ff84,#00ff8f,#00ff97,#00ff9c,#00ff9e,#00ff9e,#00ff9b,#00ff95,#00ff8d,#00ff82,#00ff74,#00ff64,#00ff50,#00ff3b,#00ff22,#00ff07,#17ff00,#38ff00,#5bff00,#82ff00,#aaff00,#d6ff00,#fffa00,#ffc900,#ff9500,#ff5f00,#ff2600)"></i>
<i style="top:186px;height:3.6px;background:linear-gradient(90deg,#fbff00,#cdff00,#a2ff00,#7aff00,#54ff00,#31ff00,#11ff00,#00ff0d,#00ff27,#00ff40,#00ff55,#00ff68,#00ff78,#00ff85,#00ff90,#00ff98,#00ff9d,#00ff9f,#00ff9f,#00ff9c,#00ff96,#00ff8e,#00ff83,#00ff75,#00ff65,#00ff52,#00ff3c,#00ff23,#00ff08,#16ff00,#37ff00,#5aff00,#80ff00,#a9ff00,#d4ff00,#fffb00,#ffca00,#ff9700,#ff6000,#ff2700)"></i>
<i style="top:189px;height:3.6px;background:linear-gradient(90deg,#faff00,#cdff00,#a2ff00,#79ff00,#53ff00,#31ff00,#10ff00,#00ff0d,#00ff28,#00ff40,#00ff56,#00ff69,#00ff79,#00ff86,#00ff91,#00ff99,#00ff9e,#00ffa0,#00ffa0,#00ff9d,#00ff98,#00ff8f,#00ff84,#00ff77,#00ff66,#00ff53,#00ff3d,#00ff25,#00ff09,#15ff00,#35ff00,#59ff00,#7fff00,#a7ff00,#d3ff00,#fffd00,#ffcc00,#ff9800,#ff6200,#ff2900)"></i>
<i style="top:192px;height:3.6px;background:linear-gradient(90deg,#faff00,#ccff00,#a1ff00,#78ff00,#53ff00,#30ff00,#0fff00,#00ff0e,#00ff29,#00ff41,#00ff57,#00ff6a,#00ff7a,#00ff87,#00ff92,#00ff9a,#00ff9f,#00ffa1,#00ffa1,#00ff9e,#00ff99,#00ff91,#00ff86,#00ff78,#00ff68,#00ff54,#00ff3f,#00ff26,#00ff0b,#13ff00,#34ff00,#57ff00,#7dff00,#a6ff00,#d1ff00,#ffff00,#ffce00,#ff9a00,#ff6400,#ff2b00)"></i>
<i style="top:195px;height:3.6px;background:linear-gradient(90deg,#f9ff00,#cbff00,#a0ff00,#78ff00,#52ff00,#2fff00,#0eff00,#00ff0f,#00ff2a,#00ff42,#00ff58,#00ff6b,#00ff7b,#00ff88,#00ff93,#00ff9b,#00ffa0,#00ffa3,#00ffa3,#00ffa0,#00ff9a,#00ff92,#00ff87,#00ff79,#00ff69,#00ff56,#00ff40,#00ff28,#00ff0d,#11ff00,#32ff00,#55ff00,#7bff00,#a4ff00,#cfff00,#fdff00,#ffd000,#ff9c00,#ff6600,#ff2d00)"></i>
<i style="top:198px;height:3.6px;background:linear-gradient(90deg,#f8ff00,#caff00,#9fff00,#77ff00,#51ff00,#2eff00,#0dff00,#00ff10,#00ff2b,#00ff43,#00ff59,#00ff6c,#00ff7c,#00ff89,#00ff94,#00ff9c,#00ffa2,#00ffa4,#00ffa4,#00ffa1,#00ff9c,#00ff94,#00ff89,#00ff7b,#00ff6b,#00ff58,#00ff42,#00ff2a,#00ff0e,#0fff00,#30ff00,#53ff00,#79ff00,#a2ff00,#cdff00,#fbff00,#ffd200,#ff9e00,#ff6800,#ff2f00)"></i>
<i style="top:201px;height:3.6px;background:linear-gradient(90deg,#f7ff00,#c9ff00,#9eff00,#76ff00,#50ff00,#2dff00,#0cff00,#00ff11,#00ff2c,#00ff45,#00ff5a,#00ff6d,#00ff7d,#00ff8b,#00ff96,#00ff9e,#00ffa3,#00ffa6,#00ffa6,#00ffa3,#00ff9d,#00ff95,#00ff8a,#00ff7d,#00ff6d,#00ff5a,#00ff44,#00ff2b,#00ff10,#0eff00,#2eff00,#51ff00,#77ff00,#a0ff00,#cbff00,#f9ff00,#ffd400,#ffa100,#ff6a00,#ff3200)"></i>
<i style="top:204px;height:3.6px;background:linear-gradient(90deg,#f6ff00,#c8ff00,#9dff00,#74ff00,#4fff00,#2bff00,#0bff00,#00ff13,#00ff2e,#00ff46,#00ff5c,#00ff6f,#00ff7f,#00ff8c,#00ff97,#00ff9f,#00ffa5,#00ffa7,#00ffa7,#00ffa5,#00ff9f,#00ff97,#00ff8c,#00ff7f,#00ff6e,#00ff5b,#00ff46,#00ff2d,#00ff12,#0bff00,#2cff00,#4fff00,#75ff00,#9eff00,#c9ff00,#f7ff00,#ffd600,#ffa300,#ff6d00,#ff3400)"></i>
<i style="top:207px;height:3.6px;background:linear-gradient(90deg,#f5ff00,#c7ff00,#9cff00,#73ff00,#4dff00,#2aff00,#0aff00,#00ff14,#00ff2f,#00ff48,#00ff5d,#00ff70,#00ff81,#00ff8e,#00ff99,#00ffa1,#00ffa6,#00ffa9,#00ffa9,#00ffa6,#00ffa1,#00ff99,#00ff8e,#00ff81,#00ff70,#00ff5e,#00ff48,#00ff30,#00ff14,#09ff00,#2aff00,#4dff00,#73ff00,#9bff00,#c7ff00,#f5ff00,#ffd900,#ffa500,#ff6f00,#ff3600)"></i>
<i style="top:210px;height:3.6px;background:linear-gradient(90deg,#f4ff00,#c6ff00,#9aff00,#72ff00,#4cff00,#28ff00,#08ff00,#00ff16,#00ff31,#00ff49,#00ff5f,#00ff72,#00ff82,#00ff90,#00ff9b,#00ffa3,#00ffa8,#00ffab,#00ffab,#00ffa8,#00ffa3,#00ff9b,#00ff90,#00ff83,#00ff73,#00ff60,#00ff4a,#00ff32,#00ff17,#07ff00,#27ff00,#4bff00,#70ff00,#99ff00,#c4ff00,#f2ff00,#ffdb00,#ffa800,#ff7200,#ff3900)"></i>
<i style="top:213px;height:3.6px;background:linear-gradient(90deg,#f2ff00,#c4ff00,#99ff00,#70ff00,#4aff00,#27ff00,#06ff00,#00ff18,#00ff33,#00ff4b,#00ff61,#00ff74,#00ff84,#00ff92,#00ff9d,#00ffa5,#00ffaa,#00ffad,#00ffad,#00ffab,#00ffa5,#00ff9d,#00ff92,#00ff85,#00ff75,#00ff62,#00ff4c,#00ff34,#00ff19,#05ff00,#25ff00,#48ff00,#6eff00,#96ff00,#c2ff00,#efff00,#ffde00,#ffab00,#ff7500,#ff3c00)"></i>
<i style="top:216px;height:3.6px;background:linear-gradient(90deg,#f1ff00,#c2ff00,#97ff00,#6eff00,#48ff00,#25ff00,#05ff00,#00ff19,#00ff35,#00ff4d,#00ff63,#00ff76,#00ff86,#00ff94,#00ff9f,#00ffa7,#00ffac,#00ffaf,#00ffaf,#00ffad,#00ffa7,#00ff9f,#00ff95,#00ff87,#00ff77,#00ff64,#00ff4f,#00ff37,#00ff1c,#02ff00,#22ff00,#45ff00,#6bff00,#94ff00,#bfff00,#edff00,#ffe100,#ffad00,#ff7700,#ff3f00)"></i>
<i style="top:219px;height:3.6px;background:linear-gradient(90deg,#efff00,#c1ff00,#95ff00,#6dff00,#47ff00,#23ff00,#03ff00,#00ff1b,#00ff37,#00ff4f,#00ff65,#00ff78,#00ff88,#00ff96,#00ffa1,#00ffa9,#00ffaf,#00ffb2,#00ffb2,#00ffaf,#00ffaa,#00ffa2,#00ff97,#00ff8a,#00ff7a,#00ff67,#00ff51,#00ff39,#00ff1e,#00ff01,#20ff00,#43ff00,#68ff00,#91ff00,#bcff00,#eaff00,#ffe400,#ffb000,#ff7a00,#ff4200)"></i>
<i style="top:222px;height:3.6px;background:linear-gradient(90deg,#edff00,#bfff00,#93ff00,#6bff00,#45ff00,#21ff00,#01ff00,#00ff1d,#00ff39,#00ff51,#00ff67,#00ff7a,#00ff8a,#00ff98,#00ffa3,#00ffab,#00ffb1,#00ffb4,#00ffb4,#00ffb2,#00ffac,#00ffa4,#00ff9a,#00ff8c,#00ff7c,#00ff6a,#00ff54,#00ff3c,#00ff21,#00ff03,#1dff00,#40ff00,#66ff00,#8eff00,#b9ff00,#e7ff00,#ffe700,#ffb300,#ff7d00,#ff4500)"></i>
<i style="top:225px;height:3.6px;background:linear-gradient(90deg,#ebff00,#bdff00,#91ff00,#69ff00,#42ff00,#1fff00,#00ff02,#00ff20,#00ff3b,#00ff53,#00ff69,#00ff7c,#00ff8d,#00ff9b,#00ffa6,#00ffae,#00ffb4,#00ffb6,#00ffb7,#00ffb4,#00ffaf,#00ffa7,#00ff9c,#00ff8f,#00ff7f,#00ff6c,#00ff57,#00ff3f,#00ff24,#00ff06,#1aff00,#3dff00,#63ff00,#8bff00,#b6ff00,#e4ff00,#ffea00,#ffb700,#ff8100,#ff4800)"></i>
<i style="top:228px;height:3.6px;background:linear-gradient(90deg,#e9ff00,#bbff00,#8fff00,#66ff00,#40ff00,#1dff00,#00ff04,#00ff22,#00ff3d,#00ff56,#00ff6c,#00ff7f,#00ff8f,#00ff9d,#00ffa8,#00ffb0,#00ffb6,#00ffb9,#00ffb9,#00ffb7,#00ffb2,#00ffaa,#00ff9f,#00ff92,#00ff82,#00ff6f,#00ff5a,#00ff42,#00ff27,#00ff09,#17ff00,#3aff00,#5fff00,#88ff00,#b3ff00,#e1ff00,#ffed00,#ffba00,#ff8400,#ff4b00)"></i>
<i style="top:231px;height:3.6px;background:linear-gradient(90deg,#e7ff00,#b9ff00,#8dff00,#64ff00,#3eff00,#1aff00,#00ff06,#00ff24,#00ff40,#00ff58,#00ff6e,#00ff81,#00ff92,#00ffa0,#00ffab,#00ffb3,#00ffb9,#00ffbc,#00ffbc,#00ffba,#00ffb5,#00ffad,#00ffa2,#00ff95,#00ff85,#00ff72,#00ff5d,#00ff45,#00ff2a,#00ff0d,#14ff00,#37ff00,#5cff00,#84ff00,#afff00,#ddff00,#fff000,#ffbd00,#ff8700,#ff4f00)"></i>
<i style="top:234px;height:3.6px;background:linear-gradient(90deg,#e4ff00,#b6ff00,#8bff00,#62ff00,#3bff00,#18ff00,#00ff09,#00ff27,#00ff42,#00ff5b,#00ff71,#00ff84,#00ff95,#00ffa2,#00ffae,#00ffb6,#00ffbc,#00ffbf,#00ffbf,#00ffbd,#00ffb8,#00ffb0,#00ffa5,#00ff98,#00ff88,#00ff75,#00ff60,#00ff48,#00ff2d,#00ff10,#10ff00,#33ff00,#59ff00,#81ff00,#acff00,#daff00,#fff400,#ffc100,#ff8b00,#ff5200)"></i>
<i style="top:237px;height:3.6px;background:linear-gradient(90deg,#e2ff00,#b4ff00,#88ff00,#5fff00,#39ff00,#15ff00,#00ff0b,#00ff29,#00ff45,#00ff5e,#00ff74,#00ff87,#00ff97,#00ffa5,#00ffb0,#00ffb9,#00ffbf,#00ffc2,#00ffc2,#00ffc0,#00ffbb,#00ffb3,#00ffa8,#00ff9b,#00ff8b,#00ff79,#00ff63,#00ff4b,#00ff31,#00ff13,#0dff00,#30ff00,#55ff00,#7eff00,#a8ff00,#d6ff00,#fff800,#ffc400,#ff8f00,#ff5600)"></i>
<i style="top:240px;height:3.6px;background:linear-gradient(90deg,#dfff00,#b1ff00,#85ff00,#5cff00,#36ff00,#13ff00,#00ff0e,#00ff2c,#00ff48,#00ff60,#00ff76,#00ff8a,#00ff9a,#00ffa8,#00ffb3,#00ffbc,#00ffc2,#00ffc5,#00ffc5,#00ffc3,#00ffbe,#00ffb6,#00ffac,#00ff9e,#00ff8f,#00ff7c,#00ff67,#00ff4f,#00ff34,#00ff17,#09ff00,#2cff00,#52ff00,#7aff00,#a5ff00,#d2ff00,#fffb00,#ffc800,#ff9300,#ff5a00)"></i>
<i style="top:243px;height:3.6px;background:linear-gradient(90deg,#ddff00,#aeff00,#83ff00,#5aff00,#33ff00,#10ff00,#00ff11,#00ff2f,#00ff4b,#00ff63,#00ff79,#00ff8d,#00ff9d,#00ffab,#00ffb7,#00ffbf,#00ffc5,#00ffc8,#00ffc8,#00ffc6,#00ffc1,#00ffb9,#00ffaf,#00ffa2,#00ff92,#00ff80,#00ff6a,#00ff52,#00ff38,#00ff1a,#06ff00,#28ff00,#4eff00,#76ff00,#a1ff00,#cfff00,#ffff00,#ffcc00,#ff9600,#ff5e00)"></i>
<i style="top:246px;height:3.6px;background:linear-gradient(90deg,#daff00,#acff00,#80ff00,#57ff00,#30ff00,#0dff00,#00ff14,#00ff32,#00ff4e,#00ff67,#00ff7d,#00ff90,#00ffa1,#00ffaf,#00ffba,#00ffc2,#00ffc8,#00ffcb,#00ffcc,#00ffca,#00ffc5,#00ffbd,#00ffb3,#00ffa5,#00ff96,#00ff83,#00ff6e,#00ff56,#00ff3b,#00ff1e,#02ff00,#25ff00,#4aff00,#72ff00,#9dff00,#cbff00,#fbff00,#ffd000,#ff9a00,#ff6200)"></i>
<i style="top:249px;height:3.6px;background:linear-gradient(90deg,#d7ff00,#a9ff00,#7dff00,#54ff00,#2dff00,#0aff00,#00ff17,#00ff35,#00ff51,#00ff6a,#00ff80,#00ff93,#00ffa4,#00ffb2,#00ffbd,#00ffc6,#00ffcc,#00ffcf,#00ffcf,#00ffcd,#00ffc8,#00ffc1,#00ffb6,#00ffa9,#00ff99,#00ff87,#00ff72,#00ff5a,#00ff3f,#00ff22,#00ff02,#21ff00,#46ff00,#6eff00,#99ff00,#c7ff00,#f7ff00,#ffd400,#ff9f00,#ff6600)"></i>
<i style="top:252px;height:3.6px;background:linear-gradient(90deg,#d4ff00,#a6ff00,#7aff00,#51ff00,#2aff00,#07ff00,#00ff1a,#00ff39,#00ff54,#00ff6d,#00ff83,#00ff97,#00ffa7,#00ffb5,#00ffc1,#00ffc9,#00ffcf,#00ffd3,#00ffd3,#00ffd1,#00ffcc,#00ffc4,#00ffba,#00ffad,#00ff9d,#00ff8b,#00ff76,#00ff5e,#00ff43,#00ff26,#00ff06,#1dff00,#42ff00,#6aff00,#95ff00,#c2ff00,#f3ff00,#ffd900,#ffa300,#ff6b00)"></i>
<i style="top:255px;height:3.6px;background:linear-gradient(90deg,#d1ff00,#a2ff00,#77ff00,#4dff00,#27ff00,#03ff00,#00ff1e,#00ff3c,#00ff58,#00ff71,#00ff87,#00ff9a,#00ffab,#00ffb9,#00ffc4,#00ffcd,#00ffd3,#00ffd6,#00ffd7,#00ffd5,#00ffd0,#00ffc8,#00ffbe,#00ffb1,#00ffa1,#00ff8f,#00ff7a,#00ff62,#00ff47,#00ff2a,#00ff0a,#18ff00,#3eff00,#66ff00,#91ff00,#beff00,#eeff00,#ffdd00,#ffa700,#ff6f00)"></i>
<i style="top:258px;height:3.6px;background:linear-gradient(90deg,#ceff00,#9fff00,#73ff00,#4aff00,#24ff00,#00ff00,#00ff21,#00ff40,#00ff5b,#00ff74,#00ff8a,#00ff9e,#00ffaf,#00ffbd,#00ffc8,#00ffd1,#00ffd7,#00ffda,#00ffdb,#00ffd9,#00ffd4,#00ffcc,#00ffc2,#00ffb5,#00ffa5,#00ff93,#00ff7e,#00ff66,#00ff4c,#00ff2e,#00ff0e,#14ff00,#39ff00,#61ff00,#8cff00,#baff00,#eaff00,#ffe100,#ffac00,#ff7400)"></i>
<i style="top:261px;height:3.6px;background:linear-gradient(90deg,#caff00,#9cff00,#70ff00,#46ff00,#20ff00,#00ff04,#00ff25,#00ff43,#00ff5f,#00ff78,#00ff8e,#00ffa2,#00ffb2,#00ffc1,#00ffcc,#00ffd5,#00ffdb,#00ffde,#00ffdf,#00ffdd,#00ffd8,#00ffd0,#00ffc6,#00ffb9,#00ffa9,#00ff97,#00ff82,#00ff6a,#00ff50,#00ff33,#00ff13,#10ff00,#35ff00,#5dff00,#88ff00,#b5ff00,#e5ff00,#ffe600,#ffb100,#ff7800)"></i>
<i style="top:264px;height:3.6px;background:linear-gradient(90deg,#c7ff00,#98ff00,#6cff00,#43ff00,#1cff00,#00ff07,#00ff29,#00ff47,#00ff63,#00ff7c,#00ff92,#00ffa5,#00ffb6,#00ffc5,#00ffd0,#00ffd9,#00ffdf,#00ffe2,#00ffe3,#00ffe1,#00ffdc,#00ffd4,#00ffca,#00ffbd,#00ffae,#00ff9b,#00ff86,#00ff6f,#00ff54,#00ff37,#00ff17,#0bff00,#30ff00,#58ff00,#83ff00,#b0ff00,#e0ff00,#ffeb00,#ffb500,#ff7d00)"></i>
<i style="top:267px;height:3.6px;background:linear-gradient(90deg,#c3ff00,#94ff00,#68ff00,#3fff00,#19ff00,#00ff0b,#00ff2c,#00ff4b,#00ff67,#00ff80,#00ff96,#00ffaa,#00ffba,#00ffc9,#00ffd4,#00ffdd,#00ffe3,#00ffe6,#00ffe7,#00ffe5,#00ffe0,#00ffd9,#00ffcf,#00ffc2,#00ffb2,#00ffa0,#00ff8b,#00ff73,#00ff59,#00ff3c,#00ff1c,#06ff00,#2cff00,#54ff00,#7eff00,#acff00,#dcff00,#fff000,#ffba00,#ff8200)"></i>
<i style="top:270px;height:3.6px;background:linear-gradient(90deg,#bfff00,#91ff00,#65ff00,#3bff00,#15ff00,#00ff0f,#00ff30,#00ff4f,#00ff6b,#00ff84,#00ff9a,#00ffae,#00ffbf,#00ffcd,#00ffd8,#00ffe1,#00ffe7,#00ffeb,#00ffeb,#00ffe9,#00ffe5,#00ffdd,#00ffd3,#00ffc6,#00ffb7,#00ffa5,#00ff90,#00ff78,#00ff5e,#00ff41,#00ff21,#02ff00,#27ff00,#4fff00,#79ff00,#a7ff00,#d7ff00,#fff500,#ffbf00,#ff8700)"></i>
<i style="top:273px;height:3.6px;background:linear-gradient(90deg,#bbff00,#8dff00,#61ff00,#37ff00,#11ff00,#00ff13,#00ff34,#00ff53,#00ff6f,#00ff88,#00ff9e,#00ffb2,#00ffc3,#00ffd1,#00ffdd,#00ffe6,#00ffec,#00ffef,#00fff0,#00ffee,#00ffe9,#00ffe2,#00ffd8,#00ffcb,#00ffbb,#00ffa9,#00ff94,#00ff7d,#00ff62,#00ff45,#00ff26,#00ff03,#22ff00,#4aff00,#74ff00,#a2ff00,#d2ff00,#fffa00,#ffc400,#ff8c00)"></i>
<i style="top:276px;height:3.6px;background:linear-gradient(90deg,#b7ff00,#89ff00,#5dff00,#33ff00,#0dff00,#00ff17,#00ff39,#00ff57,#00ff73,#00ff8c,#00ffa3,#00ffb6,#00ffc7,#00ffd6,#00ffe1,#00ffea,#00fff0,#00fff4,#00fff4,#00fff3,#00ffee,#00ffe7,#00ffdc,#00ffd0,#00ffc0,#00ffae,#00ff99,#00ff82,#00ff67,#00ff4a,#00ff2b,#00ff08,#1dff00,#45ff00,#6fff00,#9cff00,#ccff00,#ffff00,#ffca00,#ff9200)"></i>
<i style="top:279px;height:3.6px;background:linear-gradient(90deg,#b3ff00,#84ff00,#58ff00,#2fff00,#08ff00,#00ff1c,#00ff3d,#00ff5c,#00ff77,#00ff91,#00ffa7,#00ffbb,#00ffcc,#00ffda,#00ffe6,#00ffef,#00fff5,#00fff8,#00fff9,#00fff7,#00fff3,#00ffeb,#00ffe1,#00ffd5,#00ffc5,#00ffb3,#00ff9e,#00ff87,#00ff6c,#00ff4f,#00ff30,#00ff0d,#18ff00,#3fff00,#6aff00,#97ff00,#c7ff00,#faff00,#ffcf00,#ff9700)"></i>
<i style="top:282px;height:3.6px;background:linear-gradient(90deg,#afff00,#80ff00,#54ff00,#2bff00,#04ff00,#00ff20,#00ff41,#00ff60,#00ff7c,#00ff95,#00ffac,#00ffbf,#00ffd0,#00ffdf,#00ffea,#00fff3,#00fffa,#00fffd,#00fffe,#00fffc,#00fff8,#00fff0,#00ffe6,#00ffda,#00ffca,#00ffb8,#00ffa3,#00ff8c,#00ff72,#00ff55,#00ff35,#00ff13,#12ff00,#3aff00,#65ff00,#92ff00,#c2ff00,#f4ff00,#ffd500,#ff9d00)"></i>
<i style="top:285px;height:3.6px;background:linear-gradient(90deg,#abff00,#7cff00,#50ff00,#26ff00,#00ff01,#00ff25,#00ff46,#00ff65,#00ff81,#00ff9a,#00ffb0,#00ffc4,#00ffd5,#00ffe4,#00ffef,#00fff8,#00ffff,#00fcff,#00fbff,#00fdff,#00fffd,#00fff5,#00ffeb,#00ffdf,#00ffcf,#00ffbd,#00ffa9,#00ff91,#00ff77,#00ff5a,#00ff3a,#00ff18,#0dff00,#35ff00,#5fff00,#8cff00,#bcff00,#efff00,#ffda00,#ffa200)"></i>
<i style="top:288px;height:3.6px;background:linear-gradient(90deg,#a6ff00,#77ff00,#4bff00,#22ff00,#00ff05,#00ff29,#00ff4b,#00ff69,#00ff85,#00ff9f,#00ffb5,#00ffc9,#00ffda,#00ffe9,#00fff4,#00fffd,#00faff,#00f7ff,#00f6ff,#00f8ff,#00fcff,#00fffb,#00fff1,#00ffe4,#00ffd5,#00ffc3,#00ffae,#00ff96,#00ff7c,#00ff5f,#00ff40,#00ff1e,#07ff00,#2fff00,#59ff00,#87ff00,#b6ff00,#e9ff00,#ffe000,#ffa800)"></i>
<i style="top:291px;height:3.6px;background:linear-gradient(90deg,#a1ff00,#73ff00,#46ff00,#1dff00,#00ff0a,#00ff2e,#00ff50,#00ff6e,#00ff8a,#00ffa3,#00ffba,#00ffce,#00ffdf,#00ffee,#00fff9,#00fcff,#00f5ff,#00f2ff,#00f1ff,#00f2ff,#00f7ff,#00feff,#00fff6,#00ffe9,#00ffda,#00ffc8,#00ffb3,#00ff9c,#00ff82,#00ff65,#00ff45,#00ff23,#02ff00,#29ff00,#54ff00,#81ff00,#b1ff00,#e3ff00,#ffe600,#ffae00)"></i>
<i style="top:294px;height:3.6px;background:linear-gradient(90deg,#9dff00,#6eff00,#42ff00,#18ff00,#00ff0f,#00ff33,#00ff54,#00ff73,#00ff8f,#00ffa9,#00ffbf,#00ffd3,#00ffe4,#00fff3,#00ffff,#00f6ff,#00f0ff,#00ecff,#00ebff,#00edff,#00f2ff,#00f9ff,#00fffb,#00ffef,#00ffe0,#00ffce,#00ffb9,#00ffa2,#00ff88,#00ff6b,#00ff4b,#00ff29,#00ff04,#24ff00,#4eff00,#7bff00,#abff00,#ddff00,#ffec00,#ffb400)"></i>
<i style="top:297px;height:3.6px;background:linear-gradient(90deg,#98ff00,#69ff00,#3dff00,#13ff00,#00ff14,#00ff38,#00ff5a,#00ff78,#00ff94,#00ffae,#00ffc4,#00ffd8,#00ffe9,#00fff8,#00faff,#00f1ff,#00ebff,#00e7ff,#00e6ff,#00e8ff,#00ecff,#00f3ff,#00fdff,#00fff5,#00ffe5,#00ffd3,#00ffbf,#00ffa7,#00ff8d,#00ff71,#00ff51,#00ff2f,#00ff0a,#1eff00,#48ff00,#75ff00,#a5ff00,#d7ff00,#fff200,#ffba00)"></i>
<i style="top:300px;height:3.6px;background:linear-gradient(90deg,#93ff00,#64ff00,#38ff00,#0eff00,#00ff19,#00ff3d,#00ff5f,#00ff7d,#00ff9a,#00ffb3,#00ffca,#00ffde,#00ffef,#00fffd,#00f5ff,#00ecff,#00e5ff,#00e1ff,#00e0ff,#00e2ff,#00e6ff,#00edff,#00f7ff,#00fffa,#00ffeb,#00ffd9,#00ffc5,#00ffad,#00ff93,#00ff76,#00ff57,#00ff35,#00ff10,#18ff00,#42ff00,#6fff00,#9eff00,#d1ff00,#fff800,#ffc000)"></i>
<i style="top:303px;height:3.6px;background:linear-gradient(90deg,#8eff00,#5fff00,#32ff00,#09ff00,#00ff1e,#00ff42,#00ff64,#00ff83,#00ff9f,#00ffb8,#00ffcf,#00ffe3,#00fff4,#00fbff,#00efff,#00e6ff,#00dfff,#00dcff,#00dbff,#00dcff,#00e1ff,#00e8ff,#00f1ff,#00feff,#00fff1,#00ffdf,#00ffca,#00ffb3,#00ff99,#00ff7d,#00ff5d,#00ff3b,#00ff16,#11ff00,#3cff00,#68ff00,#98ff00,#caff00,#ffff00,#ffc700)"></i>
<i style="top:306px;height:3.6px;background:linear-gradient(90deg,#89ff00,#59ff00,#2dff00,#03ff00,#00ff24,#00ff48,#00ff69,#00ff88,#00ffa4,#00ffbe,#00ffd5,#00ffe9,#00fffa,#00f5ff,#00e9ff,#00e0ff,#00daff,#00d6ff,#00d5ff,#00d6ff,#00dbff,#00e2ff,#00ebff,#00f8ff,#00fff7,#00ffe5,#00ffd1,#00ffb9,#00ff9f,#00ff83,#00ff63,#00ff41,#00ff1c,#0bff00,#35ff00,#62ff00,#92ff00,#c4ff00,#f9ff00,#ffcd00)"></i>
<i style="top:309px;height:3.6px;background:linear-gradient(90deg,#83ff00,#54ff00,#28ff00,#00ff02,#00ff29,#00ff4d,#00ff6f,#00ff8e,#00ffaa,#00ffc4,#00ffda,#00ffee,#00feff,#00f0ff,#00e4ff,#00daff,#00d4ff,#00d0ff,#00cfff,#00d0ff,#00d5ff,#00dcff,#00e5ff,#00f2ff,#00fffd,#00ffeb,#00ffd7,#00ffc0,#00ffa6,#00ff89,#00ff6a,#00ff48,#00ff23,#05ff00,#2fff00,#5cff00,#8bff00,#bdff00,#f2ff00,#ffd400)"></i>
<i style="top:312px;height:3.6px;background:linear-gradient(90deg,#7eff00,#4fff00,#22ff00,#00ff08,#00ff2f,#00ff53,#00ff75,#00ff94,#00ffb0,#00ffc9,#00ffe0,#00fff4,#00f8ff,#00eaff,#00deff,#00d4ff,#00ceff,#00caff,#00c9ff,#00caff,#00cfff,#00d6ff,#00dfff,#00ecff,#00fbff,#00fff2,#00ffdd,#00ffc6,#00ffac,#00ff8f,#00ff70,#00ff4e,#00ff29,#00ff02,#28ff00,#55ff00,#84ff00,#b7ff00,#ecff00,#ffdb00)"></i>
<i style="top:315px;height:3.6px;background:linear-gradient(90deg,#78ff00,#49ff00,#1cff00,#00ff0d,#00ff34,#00ff59,#00ff7a,#00ff99,#00ffb6,#00ffcf,#00ffe6,#00fffa,#00f2ff,#00e4ff,#00d8ff,#00ceff,#00c8ff,#00c4ff,#00c3ff,#00c4ff,#00c8ff,#00cfff,#00d9ff,#00e5ff,#00f4ff,#00fff8,#00ffe4,#00ffcc,#00ffb3,#00ff96,#00ff77,#00ff55,#00ff30,#00ff09,#21ff00,#4eff00,#7eff00,#b0ff00,#e5ff00,#ffe200)"></i>
<i style="top:318px;height:3.6px;background:linear-gradient(90deg,#72ff00,#43ff00,#17ff00,#00ff13,#00ff3a,#00ff5f,#00ff80,#00ff9f,#00ffbc,#00ffd5,#00ffec,#00feff,#00ecff,#00deff,#00d2ff,#00c8ff,#00c2ff,#00beff,#00bcff,#00beff,#00c2ff,#00c9ff,#00d2ff,#00dfff,#00eeff,#00ffff,#00ffea,#00ffd3,#00ffb9,#00ff9d,#00ff7d,#00ff5b,#00ff37,#00ff0f,#1bff00,#47ff00,#77ff00,#a9ff00,#deff00,#ffe900)"></i>
<i style="top:321px;height:3.6px;background:linear-gradient(90deg,#6dff00,#3dff00,#11ff00,#00ff19,#00ff40,#00ff65,#00ff86,#00ffa5,#00ffc2,#00ffdb,#00fff2,#00f8ff,#00e6ff,#00d7ff,#00cbff,#00c2ff,#00bbff,#00b7ff,#00b6ff,#00b7ff,#00bcff,#00c2ff,#00ccff,#00d8ff,#00e7ff,#00f9ff,#00fff1,#00ffda,#00ffc0,#00ffa3,#00ff84,#00ff62,#00ff3e,#00ff16,#14ff00,#40ff00,#70ff00,#a2ff00,#d7ff00,#fff000)"></i>
<i style="top:324px;height:3.6px;background:linear-gradient(90deg,#67ff00,#37ff00,#0bff00,#00ff1f,#00ff46,#00ff6b,#00ff8c,#00ffac,#00ffc8,#00ffe2,#00fff8,#00f1ff,#00e0ff,#00d1ff,#00c5ff,#00bbff,#00b5ff,#00b1ff,#00afff,#00b1ff,#00b5ff,#00bcff,#00c5ff,#00d1ff,#00e0ff,#00f2ff,#00fff8,#00ffe1,#00ffc7,#00ffaa,#00ff8b,#00ff69,#00ff45,#00ff1d,#0dff00,#39ff00,#69ff00,#9bff00,#d0ff00,#fff700)"></i>
<i style="top:327px;height:3.6px;background:linear-gradient(90deg,#61ff00,#31ff00,#05ff00,#00ff25,#00ff4c,#00ff71,#00ff93,#00ffb2,#00ffce,#00ffe8,#00ffff,#00ebff,#00d9ff,#00caff,#00beff,#00b5ff,#00aeff,#00aaff,#00a9ff,#00aaff,#00aeff,#00b5ff,#00beff,#00cbff,#00daff,#00ebff,#00ffff,#00ffe7,#00ffce,#00ffb1,#00ff92,#00ff70,#00ff4c,#00ff25,#05ff00,#32ff00,#61ff00,#93ff00,#c8ff00,#fffe00)"></i>
<i style="top:330px;height:3.6px;background:linear-gradient(90deg,#5aff00,#2bff00,#00ff02,#00ff2c,#00ff53,#00ff77,#00ff99,#00ffb8,#00ffd5,#00ffee,#00f9ff,#00e4ff,#00d3ff,#00c4ff,#00b8ff,#00aeff,#00a7ff,#00a3ff,#00a2ff,#00a3ff,#00a7ff,#00aeff,#00b8ff,#00c4ff,#00d3ff,#00e4ff,#00f8ff,#00ffef,#00ffd5,#00ffb8,#00ff99,#00ff78,#00ff53,#00ff2c,#00ff02,#2bff00,#5aff00,#8cff00,#c1ff00,#f8ff00)"></i>
<i style="top:333px;height:3.6px;background:linear-gradient(90deg,#54ff00,#25ff00,#00ff08,#00ff32,#00ff59,#00ff7e,#00ffa0,#00ffbf,#00ffdb,#00fff5,#00f2ff,#00deff,#00ccff,#00bdff,#00b1ff,#00a7ff,#00a1ff,#009cff,#009bff,#009cff,#00a0ff,#00a7ff,#00b1ff,#00bdff,#00cbff,#00ddff,#00f1ff,#00fff6,#00ffdc,#00ffc0,#00ffa1,#00ff7f,#00ff5a,#00ff33,#00ff09,#23ff00,#53ff00,#85ff00,#b9ff00,#f1ff00)"></i>
<i style="top:336px;height:3.6px;background:linear-gradient(90deg,#4eff00,#1eff00,#00ff0e,#00ff38,#00ff60,#00ff84,#00ffa6,#00ffc5,#00ffe2,#00fffc,#00ebff,#00d7ff,#00c5ff,#00b6ff,#00aaff,#00a0ff,#009aff,#0095ff,#0094ff,#0095ff,#0099ff,#00a0ff,#00a9ff,#00b5ff,#00c4ff,#00d6ff,#00eaff,#00fffd,#00ffe3,#00ffc7,#00ffa8,#00ff86,#00ff62,#00ff3b,#00ff11,#1cff00,#4bff00,#7dff00,#b2ff00,#e9ff00)"></i>
<i style="top:339px;height:3.6px;background:linear-gradient(90deg,#47ff00,#18ff00,#00ff15,#00ff3f,#00ff66,#00ff8b,#00ffad,#00ffcc,#00ffe9,#00fbff,#00e4ff,#00d0ff,#00beff,#00afff,#00a3ff,#0099ff,#0092ff,#008eff,#008dff,#008eff,#0092ff,#0099ff,#00a2ff,#00aeff,#00bdff,#00ceff,#00e3ff,#00f9ff,#00ffeb,#00ffcf,#00ffb0,#00ff8e,#00ff6a,#00ff42,#00ff19,#14ff00,#43ff00,#75ff00,#aaff00,#e1ff00)"></i>
<i style="top:342px;height:3.6px;background:linear-gradient(90deg,#40ff00,#11ff00,#00ff1c,#00ff46,#00ff6d,#00ff92,#00ffb4,#00ffd3,#00fff0,#00f4ff,#00ddff,#00c9ff,#00b7ff,#00a8ff,#009cff,#0092ff,#008bff,#0087ff,#0086ff,#0087ff,#008bff,#0091ff,#009bff,#00a7ff,#00b5ff,#00c7ff,#00dbff,#00f2ff,#00fff3,#00ffd6,#00ffb7,#00ff96,#00ff71,#00ff4a,#00ff20,#0cff00,#3bff00,#6dff00,#a2ff00,#d9ff00)"></i>
<i style="top:345px;height:3.6px;background:linear-gradient(90deg,#3aff00,#0aff00,#00ff23,#00ff4d,#00ff74,#00ff99,#00ffbb,#00ffda,#00fff7,#00edff,#00d6ff,#00c2ff,#00b0ff,#00a1ff,#0095ff,#008bff,#0084ff,#0080ff,#007eff,#007fff,#0083ff,#008aff,#0093ff,#009fff,#00aeff,#00bfff,#00d3ff,#00eaff,#00fffa,#00ffde,#00ffbf,#00ff9d,#00ff79,#00ff52,#00ff28,#04ff00,#33ff00,#65ff00,#9aff00,#d1ff00)"></i>
<i style="top:348px;height:3.6px;background:linear-gradient(90deg,#33ff00,#03ff00,#00ff2a,#00ff54,#00ff7b,#00ffa0,#00ffc2,#00ffe1,#00fffe,#00e6ff,#00cfff,#00baff,#00a9ff,#009aff,#008dff,#0083ff,#007dff,#0078ff,#0077ff,#0078ff,#007cff,#0082ff,#008cff,#0097ff,#00a6ff,#00b8ff,#00ccff,#00e2ff,#00fcff,#00ffe6,#00ffc7,#00ffa5,#00ff81,#00ff5a,#00ff30,#00ff04,#2bff00,#5dff00,#92ff00,#c9ff00)"></i>
<i style="top:351px;height:3.6px;background:linear-gradient(90deg,#2cff00,#00ff04,#00ff31,#00ff5b,#00ff82,#00ffa7,#00ffc9,#00ffe9,#00f9ff,#00dfff,#00c8ff,#00b3ff,#00a1ff,#0092ff,#0086ff,#007cff,#0075ff,#0071ff,#006fff,#0070ff,#0074ff,#007bff,#0084ff,#0090ff,#009eff,#00b0ff,#00c4ff,#00daff,#00f4ff,#00ffee,#00ffcf,#00ffad,#00ff89,#00ff62,#00ff38,#00ff0c,#23ff00,#55ff00,#89ff00,#c1ff00)"></i>
<i style="top:354px;height:3.6px;background:linear-gradient(90deg,#25ff00,#00ff0b,#00ff38,#00ff62,#00ff8a,#00ffaf,#00ffd1,#00fff0,#00f1ff,#00d7ff,#00c0ff,#00acff,#009aff,#008bff,#007eff,#0074ff,#006dff,#0069ff,#0067ff,#0068ff,#006cff,#0073ff,#007cff,#0088ff,#0096ff,#00a8ff,#00bcff,#00d2ff,#00ecff,#00fff6,#00ffd7,#00ffb6,#00ff91,#00ff6a,#00ff41,#00ff14,#1bff00,#4cff00,#81ff00,#b8ff00)"></i>
<i style="top:357px;height:3.6px;background:linear-gradient(90deg,#1dff00,#00ff12,#00ff3f,#00ff6a,#00ff91,#00ffb6,#00ffd8,#00fff7,#00eaff,#00d0ff,#00b8ff,#00a4ff,#0092ff,#0083ff,#0076ff,#006dff,#0065ff,#0061ff,#005fff,#0060ff,#0064ff,#006bff,#0074ff,#0080ff,#008eff,#00a0ff,#00b4ff,#00caff,#00e4ff,#00fffe,#00ffdf,#00ffbe,#00ff9a,#00ff73,#00ff49,#00ff1d,#12ff00,#44ff00,#78ff00,#b0ff00)"></i>
<i style="top:360px;height:3.6px;background:linear-gradient(90deg,#16ff00,#00ff1a,#00ff47,#00ff71,#00ff99,#00ffbe,#00ffe0,#00ffff,#00e2ff,#00c8ff,#00b1ff,#009cff,#008aff,#007bff,#006eff,#0065ff,#005eff,#0059ff,#0057ff,#0058ff,#005cff,#0063ff,#006cff,#0078ff,#0086ff,#0097ff,#00abff,#00c2ff,#00dbff,#00f7ff,#00ffe8,#00ffc6,#00ffa2,#00ff7b,#00ff52,#00ff25,#0aff00,#3bff00,#70ff00,#a7ff00)"></i>
<i style="top:363px;height:3.6px;background:linear-gradient(90deg,#0eff00,#00ff21,#00ff4e,#00ff79,#00ffa0,#00ffc5,#00ffe7,#00f7ff,#00daff,#00c0ff,#00a9ff,#0094ff,#0082ff,#0073ff,#0066ff,#005dff,#0055ff,#0051ff,#004fff,#0050ff,#0054ff,#005aff,#0063ff,#006fff,#007eff,#008fff,#00a3ff,#00baff,#00d3ff,#00efff,#00fff0,#00ffcf,#00ffab,#00ff84,#00ff5a,#00ff2e,#01ff00,#33ff00,#67ff00,#9eff00)"></i>
<i style="top:366px;height:3.6px;background:linear-gradient(90deg,#07ff00,#00ff29,#00ff56,#00ff80,#00ffa8,#00ffcd,#00ffef,#00efff,#00d2ff,#00b8ff,#00a1ff,#008cff,#007aff,#006bff,#005eff,#0054ff,#004dff,#0049ff,#0047ff,#0048ff,#004cff,#0052ff,#005bff,#0067ff,#0075ff,#0087ff,#009aff,#00b1ff,#00caff,#00e6ff,#00fff9,#00ffd8,#00ffb3,#00ff8d,#00ff63,#00ff37,#00ff08,#2aff00,#5eff00,#95ff00)"></i>
<i style="top:369px;height:3.6px;background:linear-gradient(90deg,#00ff01,#00ff31,#00ff5e,#00ff88,#00ffb0,#00ffd5,#00fff7,#00e7ff,#00caff,#00b0ff,#0099ff,#0084ff,#0072ff,#0063ff,#0056ff,#004cff,#0045ff,#0041ff,#003fff,#0040ff,#0043ff,#004aff,#0053ff,#005eff,#006dff,#007eff,#0092ff,#00a8ff,#00c2ff,#00deff,#00fcff,#00ffe0,#00ffbc,#00ff95,#00ff6c,#00ff40,#00ff11,#21ff00,#55ff00,#8cff00)"></i>
<i style="top:372px;height:3.6px;background:linear-gradient(90deg,#00ff09,#00ff39,#00ff66,#00ff90,#00ffb8,#00ffdd,#00ffff,#00dfff,#00c2ff,#00a8ff,#0091ff,#007cff,#006aff,#005aff,#004eff,#0044ff,#003dff,#0038ff,#0036ff,#0037ff,#003bff,#0041ff,#004aff,#0056ff,#0064ff,#0075ff,#0089ff,#00a0ff,#00b9ff,#00d5ff,#00f3ff,#00ffe9,#00ffc5,#00ff9e,#00ff75,#00ff49,#00ff1a,#18ff00,#4cff00,#83ff00)"></i>
<i style="top:375px;height:3.6px;background:linear-gradient(90deg,#00ff11,#00ff41,#00ff6e,#00ff98,#00ffc0,#00ffe5,#00f7ff,#00d7ff,#00baff,#00a0ff,#0088ff,#0073ff,#0061ff,#0052ff,#0045ff,#003bff,#0034ff,#0030ff,#002eff,#002eff,#0032ff,#0038ff,#0041ff,#004dff,#005bff,#006cff,#0080ff,#0097ff,#00b0ff,#00ccff,#00eaff,#00fff2,#00ffce,#00ffa8,#00ff7e,#00ff52,#00ff23,#0eff00,#43ff00,#7aff00)"></i>
<i style="top:378px;height:3.3px;background:linear-gradient(90deg,#00ff19,#00ff49,#00ff76,#00ffa0,#00ffc8,#00ffed,#00efff,#00cfff,#00b2ff,#0098ff,#0080ff,#006bff,#0059ff,#004aff,#003dff,#0033ff,#002cff,#0027ff,#0025ff,#0026ff,#002aff,#0030ff,#0039ff,#0045ff,#0053ff,#0064ff,#0078ff,#008eff,#00a7ff,#00c3ff,#00e2ff,#00fffb,#00ffd7,#00ffb0,#00ff87,#00ff5b,#00ff2c,#06ff00,#3aff00,#71ff00)"></i>
</div>
<div class="cf" style="left:695.8px;top:1317.3px;width:582.6px;height:383.5px">
<i style="top:0px;height:3.6px;background:linear-gradient(90deg,#00a0ff,#00a4ff,#00a7ff,#00abff,#00aeff,#00b1ff,#00b4ff,#00b6ff,#00b8ff,#00baff,#00bcff,#00bdff,#00beff,#00bfff,#00c0ff,#00c0ff,#00c0ff,#00c0ff,#00c0ff,#00bfff,#00beff,#00bdff,#00bcff,#00baff,#00b8ff,#00b6ff,#00b4ff,#00b1ff,#00aeff,#00abff,#00a8ff,#00a4ff,#00a1ff,#009cff,#0098ff,#0094ff,#008fff,#008aff,#0084ff,#007fff)"></i>
<i style="top:3px;height:3.6px;background:linear-gradient(90deg,#00a7ff,#00abff,#00afff,#00b2ff,#00b5ff,#00b8ff,#00bbff,#00bdff,#00bfff,#00c1ff,#00c2ff,#00c4ff,#00c5ff,#00c6ff,#00c6ff,#00c7ff,#00c7ff,#00c7ff,#00c6ff,#00c6ff,#00c5ff,#00c3ff,#00c2ff,#00c0ff,#00beff,#00bcff,#00baff,#00b7ff,#00b4ff,#00b1ff,#00aeff,#00aaff,#00a6ff,#00a2ff,#009eff,#0099ff,#0094ff,#008fff,#008aff,#0084ff)"></i>
<i style="top:6px;height:3.6px;background:linear-gradient(90deg,#00aeff,#00b2ff,#00b6ff,#00b9ff,#00bcff,#00bfff,#00c1ff,#00c4ff,#00c6ff,#00c8ff,#00c9ff,#00caff,#00cbff,#00ccff,#00cdff,#00cdff,#00cdff,#00cdff,#00ccff,#00ccff,#00cbff,#00caff,#00c8ff,#00c6ff,#00c4ff,#00c2ff,#00c0ff,#00bdff,#00baff,#00b7ff,#00b4ff,#00b0ff,#00acff,#00a8ff,#00a3ff,#009eff,#009aff,#0094ff,#008fff,#0089ff)"></i>
<i style="top:9px;height:3.6px;background:linear-gradient(90deg,#00b5ff,#00b9ff,#00bdff,#00c0ff,#00c3ff,#00c6ff,#00c8ff,#00caff,#00ccff,#00ceff,#00d0ff,#00d1ff,#00d2ff,#00d3ff,#00d3ff,#00d3ff,#00d3ff,#00d3ff,#00d3ff,#00d2ff,#00d1ff,#00d0ff,#00ceff,#00ccff,#00caff,#00c8ff,#00c6ff,#00c3ff,#00c0ff,#00bdff,#00b9ff,#00b5ff,#00b1ff,#00adff,#00a9ff,#00a4ff,#009fff,#009aff,#0094ff,#008eff)"></i>
<i style="top:12px;height:3.6px;background:linear-gradient(90deg,#00bcff,#00c0ff,#00c4ff,#00c7ff,#00caff,#00ccff,#00cfff,#00d1ff,#00d3ff,#00d5ff,#00d6ff,#00d7ff,#00d8ff,#00d9ff,#00d9ff,#00daff,#00d9ff,#00d9ff,#00d9ff,#00d8ff,#00d7ff,#00d5ff,#00d4ff,#00d2ff,#00d0ff,#00ceff,#00cbff,#00c8ff,#00c5ff,#00c2ff,#00beff,#00bbff,#00b7ff,#00b2ff,#00aeff,#00a9ff,#00a4ff,#009fff,#0099ff,#0093ff)"></i>
<i style="top:15px;height:3.6px;background:linear-gradient(90deg,#00c3ff,#00c7ff,#00caff,#00cdff,#00d0ff,#00d3ff,#00d5ff,#00d7ff,#00d9ff,#00dbff,#00dcff,#00deff,#00deff,#00dfff,#00dfff,#00e0ff,#00e0ff,#00dfff,#00dfff,#00deff,#00ddff,#00dbff,#00daff,#00d8ff,#00d6ff,#00d3ff,#00d1ff,#00ceff,#00cbff,#00c7ff,#00c4ff,#00c0ff,#00bcff,#00b7ff,#00b3ff,#00aeff,#00a9ff,#00a4ff,#009eff,#0098ff)"></i>
<i style="top:18px;height:3.6px;background:linear-gradient(90deg,#00caff,#00ceff,#00d1ff,#00d4ff,#00d7ff,#00d9ff,#00dcff,#00deff,#00e0ff,#00e1ff,#00e3ff,#00e4ff,#00e5ff,#00e5ff,#00e5ff,#00e6ff,#00e5ff,#00e5ff,#00e4ff,#00e3ff,#00e2ff,#00e1ff,#00dfff,#00ddff,#00dbff,#00d9ff,#00d6ff,#00d3ff,#00d0ff,#00cdff,#00c9ff,#00c5ff,#00c1ff,#00bdff,#00b8ff,#00b3ff,#00aeff,#00a8ff,#00a3ff,#009dff)"></i>
<i style="top:21px;height:3.6px;background:linear-gradient(90deg,#00d1ff,#00d4ff,#00d7ff,#00daff,#00ddff,#00e0ff,#00e2ff,#00e4ff,#00e6ff,#00e7ff,#00e9ff,#00eaff,#00ebff,#00ebff,#00ebff,#00ebff,#00ebff,#00ebff,#00eaff,#00e9ff,#00e8ff,#00e6ff,#00e5ff,#00e3ff,#00e1ff,#00deff,#00dbff,#00d8ff,#00d5ff,#00d2ff,#00ceff,#00caff,#00c6ff,#00c1ff,#00bdff,#00b8ff,#00b3ff,#00adff,#00a7ff,#00a1ff)"></i>
<i style="top:24px;height:3.6px;background:linear-gradient(90deg,#00d7ff,#00dbff,#00deff,#00e1ff,#00e3ff,#00e6ff,#00e8ff,#00eaff,#00ecff,#00edff,#00efff,#00f0ff,#00f0ff,#00f1ff,#00f1ff,#00f1ff,#00f1ff,#00f0ff,#00f0ff,#00efff,#00edff,#00ecff,#00eaff,#00e8ff,#00e6ff,#00e3ff,#00e1ff,#00deff,#00daff,#00d7ff,#00d3ff,#00cfff,#00cbff,#00c6ff,#00c1ff,#00bcff,#00b7ff,#00b2ff,#00acff,#00a6ff)"></i>
<i style="top:27px;height:3.6px;background:linear-gradient(90deg,#00ddff,#00e1ff,#00e4ff,#00e7ff,#00eaff,#00ecff,#00eeff,#00f0ff,#00f2ff,#00f3ff,#00f4ff,#00f5ff,#00f6ff,#00f7ff,#00f7ff,#00f7ff,#00f6ff,#00f6ff,#00f5ff,#00f4ff,#00f3ff,#00f1ff,#00efff,#00edff,#00ebff,#00e8ff,#00e6ff,#00e3ff,#00dfff,#00dcff,#00d8ff,#00d4ff,#00cfff,#00cbff,#00c6ff,#00c1ff,#00bcff,#00b6ff,#00b0ff,#00aaff)"></i>
<i style="top:30px;height:3.6px;background:linear-gradient(90deg,#00e4ff,#00e7ff,#00eaff,#00edff,#00f0ff,#00f2ff,#00f4ff,#00f6ff,#00f8ff,#00f9ff,#00faff,#00fbff,#00fcff,#00fcff,#00fcff,#00fcff,#00fcff,#00fbff,#00faff,#00f9ff,#00f8ff,#00f6ff,#00f4ff,#00f2ff,#00f0ff,#00edff,#00eaff,#00e7ff,#00e4ff,#00e0ff,#00ddff,#00d8ff,#00d4ff,#00cfff,#00cbff,#00c6ff,#00c0ff,#00bbff,#00b5ff,#00afff)"></i>
<i style="top:33px;height:3.6px;background:linear-gradient(90deg,#00eaff,#00edff,#00f0ff,#00f3ff,#00f6ff,#00f8ff,#00faff,#00fcff,#00fdff,#00ffff,#00fffe,#00fffd,#00fffd,#00fffc,#00fffc,#00fffc,#00fffd,#00fffe,#00fffe,#00feff,#00fdff,#00fbff,#00f9ff,#00f7ff,#00f5ff,#00f2ff,#00efff,#00ecff,#00e9ff,#00e5ff,#00e1ff,#00ddff,#00d9ff,#00d4ff,#00cfff,#00caff,#00c4ff,#00bfff,#00b9ff,#00b3ff)"></i>
<i style="top:36px;height:3.6px;background:linear-gradient(90deg,#00f0ff,#00f3ff,#00f6ff,#00f9ff,#00fbff,#00feff,#00fffe,#00fffd,#00fffb,#00fffa,#00fff9,#00fff8,#00fff7,#00fff7,#00fff7,#00fff7,#00fff8,#00fff8,#00fff9,#00fffb,#00fffc,#00fffe,#00feff,#00fcff,#00faff,#00f7ff,#00f4ff,#00f1ff,#00edff,#00eaff,#00e6ff,#00e1ff,#00ddff,#00d8ff,#00d3ff,#00ceff,#00c9ff,#00c3ff,#00bdff,#00b7ff)"></i>
<i style="top:39px;height:3.6px;background:linear-gradient(90deg,#00f6ff,#00f9ff,#00fcff,#00ffff,#00fffd,#00fffb,#00fff9,#00fff7,#00fff6,#00fff4,#00fff3,#00fff3,#00fff2,#00fff2,#00fff2,#00fff2,#00fff3,#00fff3,#00fff4,#00fff6,#00fff7,#00fff9,#00fffb,#00fffd,#00feff,#00fcff,#00f9ff,#00f5ff,#00f2ff,#00eeff,#00eaff,#00e6ff,#00e1ff,#00dcff,#00d7ff,#00d2ff,#00cdff,#00c7ff,#00c1ff,#00bbff)"></i>
<i style="top:42px;height:3.6px;background:linear-gradient(90deg,#00fbff,#00ffff,#00fffd,#00fffa,#00fff7,#00fff5,#00fff3,#00fff2,#00fff0,#00ffef,#00ffee,#00ffed,#00ffed,#00ffed,#00ffed,#00ffed,#00ffee,#00ffef,#00fff0,#00fff1,#00fff2,#00fff4,#00fff6,#00fff9,#00fffb,#00fffe,#00fdff,#00faff,#00f6ff,#00f2ff,#00eeff,#00eaff,#00e5ff,#00e1ff,#00dbff,#00d6ff,#00d1ff,#00cbff,#00c5ff,#00beff)"></i>
<i style="top:45px;height:3.6px;background:linear-gradient(90deg,#00fffd,#00fffa,#00fff7,#00fff4,#00fff2,#00fff0,#00ffee,#00ffec,#00ffeb,#00ffea,#00ffe9,#00ffe8,#00ffe8,#00ffe8,#00ffe8,#00ffe8,#00ffe9,#00ffea,#00ffeb,#00ffec,#00ffee,#00fff0,#00fff2,#00fff4,#00fff7,#00fffa,#00fffd,#00feff,#00faff,#00f6ff,#00f2ff,#00eeff,#00e9ff,#00e5ff,#00dfff,#00daff,#00d4ff,#00cfff,#00c8ff,#00c2ff)"></i>
<i style="top:48px;height:3.6px;background:linear-gradient(90deg,#00fff8,#00fff4,#00fff2,#00ffef,#00ffed,#00ffeb,#00ffe9,#00ffe7,#00ffe6,#00ffe5,#00ffe4,#00ffe3,#00ffe3,#00ffe3,#00ffe3,#00ffe3,#00ffe4,#00ffe5,#00ffe6,#00ffe8,#00ffe9,#00ffeb,#00ffed,#00fff0,#00fff2,#00fff5,#00fff9,#00fffc,#00feff,#00faff,#00f6ff,#00f2ff,#00edff,#00e8ff,#00e3ff,#00deff,#00d8ff,#00d2ff,#00ccff,#00c6ff)"></i>
<i style="top:51px;height:3.6px;background:linear-gradient(90deg,#00fff2,#00ffef,#00ffec,#00ffea,#00ffe7,#00ffe5,#00ffe4,#00ffe2,#00ffe1,#00ffe0,#00ffdf,#00ffdf,#00ffde,#00ffde,#00ffde,#00ffdf,#00ffe0,#00ffe1,#00ffe2,#00ffe3,#00ffe5,#00ffe7,#00ffe9,#00ffec,#00ffee,#00fff1,#00fff4,#00fff8,#00fffc,#00feff,#00faff,#00f6ff,#00f1ff,#00ecff,#00e7ff,#00e1ff,#00dcff,#00d6ff,#00d0ff,#00c9ff)"></i>
<i style="top:54px;height:3.6px;background:linear-gradient(90deg,#00ffed,#00ffea,#00ffe7,#00ffe5,#00ffe2,#00ffe0,#00ffdf,#00ffdd,#00ffdc,#00ffdb,#00ffda,#00ffda,#00ffda,#00ffda,#00ffda,#00ffda,#00ffdb,#00ffdc,#00ffdd,#00ffdf,#00ffe1,#00ffe3,#00ffe5,#00ffe7,#00ffea,#00ffed,#00fff0,#00fff4,#00fff8,#00fffc,#00feff,#00f9ff,#00f5ff,#00f0ff,#00eaff,#00e5ff,#00dfff,#00d9ff,#00d3ff,#00ccff)"></i>
<i style="top:57px;height:3.6px;background:linear-gradient(90deg,#00ffe8,#00ffe5,#00ffe2,#00ffe0,#00ffdd,#00ffdc,#00ffda,#00ffd8,#00ffd7,#00ffd6,#00ffd6,#00ffd5,#00ffd5,#00ffd5,#00ffd5,#00ffd6,#00ffd7,#00ffd8,#00ffd9,#00ffdb,#00ffdd,#00ffdf,#00ffe1,#00ffe3,#00ffe6,#00ffe9,#00ffed,#00fff0,#00fff4,#00fff8,#00fffc,#00fdff,#00f8ff,#00f3ff,#00eeff,#00e8ff,#00e3ff,#00dcff,#00d6ff,#00d0ff)"></i>
<i style="top:60px;height:3.6px;background:linear-gradient(90deg,#00ffe3,#00ffe0,#00ffdd,#00ffdb,#00ffd9,#00ffd7,#00ffd5,#00ffd4,#00ffd3,#00ffd2,#00ffd1,#00ffd1,#00ffd1,#00ffd1,#00ffd1,#00ffd2,#00ffd3,#00ffd4,#00ffd5,#00ffd7,#00ffd8,#00ffdb,#00ffdd,#00ffe0,#00ffe2,#00ffe6,#00ffe9,#00ffed,#00fff0,#00fff5,#00fff9,#00fffd,#00fcff,#00f7ff,#00f1ff,#00ecff,#00e6ff,#00e0ff,#00d9ff,#00d3ff)"></i>
<i style="top:63px;height:3.6px;background:linear-gradient(90deg,#00ffde,#00ffdb,#00ffd8,#00ffd6,#00ffd4,#00ffd2,#00ffd1,#00ffcf,#00ffce,#00ffcd,#00ffcd,#00ffcc,#00ffcc,#00ffcc,#00ffcd,#00ffce,#00ffce,#00ffd0,#00ffd1,#00ffd3,#00ffd5,#00ffd7,#00ffd9,#00ffdc,#00ffdf,#00ffe2,#00ffe5,#00ffe9,#00ffed,#00fff1,#00fff5,#00fffa,#00ffff,#00faff,#00f4ff,#00efff,#00e9ff,#00e3ff,#00dcff,#00d6ff)"></i>
<i style="top:66px;height:3.6px;background:linear-gradient(90deg,#00ffd9,#00ffd6,#00ffd4,#00ffd1,#00ffcf,#00ffce,#00ffcc,#00ffcb,#00ffca,#00ffc9,#00ffc8,#00ffc8,#00ffc8,#00ffc8,#00ffc9,#00ffc9,#00ffca,#00ffcc,#00ffcd,#00ffcf,#00ffd1,#00ffd3,#00ffd5,#00ffd8,#00ffdb,#00ffde,#00ffe2,#00ffe6,#00ffea,#00ffee,#00fff2,#00fff7,#00fffc,#00fdff,#00f7ff,#00f2ff,#00ecff,#00e6ff,#00dfff,#00d8ff)"></i>
<i style="top:69px;height:3.6px;background:linear-gradient(90deg,#00ffd4,#00ffd2,#00ffcf,#00ffcd,#00ffcb,#00ffc9,#00ffc8,#00ffc6,#00ffc5,#00ffc5,#00ffc4,#00ffc4,#00ffc4,#00ffc4,#00ffc5,#00ffc6,#00ffc7,#00ffc8,#00ffc9,#00ffcb,#00ffcd,#00ffcf,#00ffd2,#00ffd5,#00ffd8,#00ffdb,#00ffde,#00ffe2,#00ffe6,#00ffeb,#00ffef,#00fff4,#00fff9,#00fffe,#00faff,#00f5ff,#00efff,#00e8ff,#00e2ff,#00dbff)"></i>
<i style="top:72px;height:3.6px;background:linear-gradient(90deg,#00ffd0,#00ffcd,#00ffcb,#00ffc8,#00ffc6,#00ffc5,#00ffc3,#00ffc2,#00ffc1,#00ffc1,#00ffc0,#00ffc0,#00ffc0,#00ffc0,#00ffc1,#00ffc2,#00ffc3,#00ffc4,#00ffc6,#00ffc8,#00ffca,#00ffcc,#00ffce,#00ffd1,#00ffd4,#00ffd8,#00ffdb,#00ffdf,#00ffe3,#00ffe7,#00ffec,#00fff1,#00fff6,#00fffb,#00fdff,#00f7ff,#00f1ff,#00ebff,#00e5ff,#00deff)"></i>
<i style="top:75px;height:3.6px;background:linear-gradient(90deg,#00ffcb,#00ffc9,#00ffc6,#00ffc4,#00ffc2,#00ffc1,#00ffbf,#00ffbe,#00ffbd,#00ffbd,#00ffbc,#00ffbc,#00ffbc,#00ffbd,#00ffbd,#00ffbe,#00ffbf,#00ffc1,#00ffc2,#00ffc4,#00ffc6,#00ffc9,#00ffcb,#00ffce,#00ffd1,#00ffd4,#00ffd8,#00ffdc,#00ffe0,#00ffe4,#00ffe9,#00ffee,#00fff3,#00fff8,#00fffe,#00faff,#00f4ff,#00eeff,#00e7ff,#00e0ff)"></i>
<i style="top:78px;height:3.6px;background:linear-gradient(90deg,#00ffc7,#00ffc4,#00ffc2,#00ffc0,#00ffbe,#00ffbd,#00ffbb,#00ffba,#00ffb9,#00ffb9,#00ffb8,#00ffb8,#00ffb8,#00ffb9,#00ffba,#00ffba,#00ffbc,#00ffbd,#00ffbf,#00ffc1,#00ffc3,#00ffc5,#00ffc8,#00ffcb,#00ffce,#00ffd1,#00ffd5,#00ffd9,#00ffdd,#00ffe2,#00ffe6,#00ffeb,#00fff0,#00fff6,#00fffb,#00fdff,#00f7ff,#00f0ff,#00e9ff,#00e3ff)"></i>
<i style="top:81px;height:3.6px;background:linear-gradient(90deg,#00ffc3,#00ffc0,#00ffbe,#00ffbc,#00ffba,#00ffb9,#00ffb7,#00ffb6,#00ffb6,#00ffb5,#00ffb5,#00ffb5,#00ffb5,#00ffb5,#00ffb6,#00ffb7,#00ffb8,#00ffba,#00ffbb,#00ffbd,#00ffc0,#00ffc2,#00ffc5,#00ffc8,#00ffcb,#00ffce,#00ffd2,#00ffd6,#00ffda,#00ffdf,#00ffe4,#00ffe9,#00ffee,#00fff3,#00fff9,#00ffff,#00f9ff,#00f2ff,#00ecff,#00e5ff)"></i>
<i style="top:84px;height:3.6px;background:linear-gradient(90deg,#00ffbf,#00ffbc,#00ffba,#00ffb8,#00ffb6,#00ffb5,#00ffb4,#00ffb3,#00ffb2,#00ffb1,#00ffb1,#00ffb1,#00ffb1,#00ffb2,#00ffb3,#00ffb4,#00ffb5,#00ffb7,#00ffb8,#00ffba,#00ffbd,#00ffbf,#00ffc2,#00ffc5,#00ffc8,#00ffcc,#00ffcf,#00ffd3,#00ffd8,#00ffdc,#00ffe1,#00ffe6,#00ffeb,#00fff1,#00fff7,#00fffd,#00fbff,#00f5ff,#00eeff,#00e7ff)"></i>
<i style="top:87px;height:3.6px;background:linear-gradient(90deg,#00ffbb,#00ffb8,#00ffb6,#00ffb4,#00ffb2,#00ffb1,#00ffb0,#00ffaf,#00ffae,#00ffae,#00ffae,#00ffae,#00ffae,#00ffaf,#00ffaf,#00ffb1,#00ffb2,#00ffb3,#00ffb5,#00ffb7,#00ffba,#00ffbc,#00ffbf,#00ffc2,#00ffc5,#00ffc9,#00ffcd,#00ffd1,#00ffd5,#00ffda,#00ffdf,#00ffe4,#00ffe9,#00ffee,#00fff4,#00fffa,#00fdff,#00f7ff,#00f0ff,#00e9ff)"></i>
<i style="top:90px;height:3.6px;background:linear-gradient(90deg,#00ffb7,#00ffb4,#00ffb2,#00ffb0,#00ffaf,#00ffad,#00ffac,#00ffab,#00ffab,#00ffaa,#00ffaa,#00ffaa,#00ffab,#00ffab,#00ffac,#00ffad,#00ffaf,#00ffb0,#00ffb2,#00ffb4,#00ffb7,#00ffb9,#00ffbc,#00ffbf,#00ffc3,#00ffc6,#00ffca,#00ffce,#00ffd3,#00ffd7,#00ffdc,#00ffe1,#00ffe7,#00ffec,#00fff2,#00fff8,#00ffff,#00f9ff,#00f2ff,#00ebff)"></i>
<i style="top:93px;height:3.6px;background:linear-gradient(90deg,#00ffb3,#00ffb1,#00ffaf,#00ffad,#00ffab,#00ffaa,#00ffa9,#00ffa8,#00ffa8,#00ffa7,#00ffa7,#00ffa7,#00ffa8,#00ffa8,#00ffa9,#00ffaa,#00ffac,#00ffae,#00ffaf,#00ffb2,#00ffb4,#00ffb7,#00ffba,#00ffbd,#00ffc0,#00ffc4,#00ffc8,#00ffcc,#00ffd0,#00ffd5,#00ffda,#00ffdf,#00ffe5,#00ffea,#00fff0,#00fff6,#00fffd,#00fbff,#00f4ff,#00ecff)"></i>
<i style="top:96px;height:3.6px;background:linear-gradient(90deg,#00ffb0,#00ffad,#00ffab,#00ffa9,#00ffa8,#00ffa7,#00ffa6,#00ffa5,#00ffa4,#00ffa4,#00ffa4,#00ffa4,#00ffa5,#00ffa5,#00ffa6,#00ffa8,#00ffa9,#00ffab,#00ffad,#00ffaf,#00ffb1,#00ffb4,#00ffb7,#00ffba,#00ffbe,#00ffc2,#00ffc6,#00ffca,#00ffce,#00ffd3,#00ffd8,#00ffdd,#00ffe3,#00ffe8,#00ffee,#00fff5,#00fffb,#00fcff,#00f5ff,#00eeff)"></i>
<i style="top:99px;height:3.6px;background:linear-gradient(90deg,#00ffac,#00ffaa,#00ffa8,#00ffa6,#00ffa5,#00ffa3,#00ffa2,#00ffa2,#00ffa1,#00ffa1,#00ffa1,#00ffa1,#00ffa2,#00ffa3,#00ffa4,#00ffa5,#00ffa6,#00ffa8,#00ffaa,#00ffac,#00ffaf,#00ffb2,#00ffb5,#00ffb8,#00ffbc,#00ffbf,#00ffc3,#00ffc8,#00ffcc,#00ffd1,#00ffd6,#00ffdb,#00ffe1,#00ffe7,#00ffed,#00fff3,#00fff9,#00feff,#00f7ff,#00f0ff)"></i>
<i style="top:102px;height:3.6px;background:linear-gradient(90deg,#00ffa9,#00ffa6,#00ffa5,#00ffa3,#00ffa1,#00ffa0,#00ff9f,#00ff9f,#00ff9e,#00ff9e,#00ff9e,#00ff9e,#00ff9f,#00ffa0,#00ffa1,#00ffa2,#00ffa4,#00ffa6,#00ffa8,#00ffaa,#00ffad,#00ffaf,#00ffb3,#00ffb6,#00ffb9,#00ffbd,#00ffc1,#00ffc6,#00ffca,#00ffcf,#00ffd4,#00ffd9,#00ffdf,#00ffe5,#00ffeb,#00fff1,#00fff8,#00ffff,#00f8ff,#00f1ff)"></i>
<i style="top:105px;height:3.6px;background:linear-gradient(90deg,#00ffa5,#00ffa3,#00ffa1,#00ffa0,#00ff9e,#00ff9d,#00ff9c,#00ff9c,#00ff9b,#00ff9b,#00ff9b,#00ff9c,#00ff9c,#00ff9d,#00ff9e,#00ffa0,#00ffa1,#00ffa3,#00ffa5,#00ffa8,#00ffaa,#00ffad,#00ffb0,#00ffb4,#00ffb7,#00ffbb,#00ffbf,#00ffc4,#00ffc8,#00ffcd,#00ffd2,#00ffd8,#00ffdd,#00ffe3,#00ffe9,#00fff0,#00fff6,#00fffd,#00faff,#00f2ff)"></i>
<i style="top:108px;height:3.6px;background:linear-gradient(90deg,#00ffa2,#00ffa0,#00ff9e,#00ff9d,#00ff9c,#00ff9a,#00ff9a,#00ff99,#00ff99,#00ff99,#00ff99,#00ff99,#00ff9a,#00ff9b,#00ff9c,#00ff9d,#00ff9f,#00ffa1,#00ffa3,#00ffa6,#00ffa8,#00ffab,#00ffae,#00ffb2,#00ffb5,#00ffb9,#00ffbe,#00ffc2,#00ffc7,#00ffcc,#00ffd1,#00ffd6,#00ffdc,#00ffe2,#00ffe8,#00ffee,#00fff5,#00fffc,#00fbff,#00f3ff)"></i>
<i style="top:111px;height:3.6px;background:linear-gradient(90deg,#00ff9f,#00ff9d,#00ff9b,#00ff9a,#00ff99,#00ff98,#00ff97,#00ff96,#00ff96,#00ff96,#00ff96,#00ff97,#00ff98,#00ff98,#00ff9a,#00ff9b,#00ff9d,#00ff9f,#00ffa1,#00ffa4,#00ffa6,#00ffa9,#00ffac,#00ffb0,#00ffb4,#00ffb8,#00ffbc,#00ffc0,#00ffc5,#00ffca,#00ffcf,#00ffd5,#00ffda,#00ffe0,#00ffe7,#00ffed,#00fff4,#00fffb,#00fcff,#00f5ff)"></i>
<i style="top:114px;height:3.6px;background:linear-gradient(90deg,#00ff9c,#00ff9a,#00ff99,#00ff97,#00ff96,#00ff95,#00ff94,#00ff94,#00ff94,#00ff94,#00ff94,#00ff94,#00ff95,#00ff96,#00ff98,#00ff99,#00ff9b,#00ff9d,#00ff9f,#00ffa2,#00ffa4,#00ffa7,#00ffab,#00ffae,#00ffb2,#00ffb6,#00ffba,#00ffbf,#00ffc4,#00ffc9,#00ffce,#00ffd3,#00ffd9,#00ffdf,#00ffe5,#00ffec,#00fff3,#00fffa,#00fdff,#00f5ff)"></i>
<i style="top:117px;height:3.6px;background:linear-gradient(90deg,#00ff9a,#00ff98,#00ff96,#00ff95,#00ff93,#00ff93,#00ff92,#00ff91,#00ff91,#00ff91,#00ff92,#00ff92,#00ff93,#00ff94,#00ff95,#00ff97,#00ff99,#00ff9b,#00ff9d,#00ffa0,#00ffa3,#00ffa6,#00ffa9,#00ffad,#00ffb0,#00ffb5,#00ffb9,#00ffbd,#00ffc2,#00ffc7,#00ffcd,#00ffd2,#00ffd8,#00ffde,#00ffe4,#00ffeb,#00fff2,#00fff9,#00feff,#00f6ff)"></i>
<i style="top:120px;height:3.6px;background:linear-gradient(90deg,#00ff97,#00ff95,#00ff93,#00ff92,#00ff91,#00ff90,#00ff8f,#00ff8f,#00ff8f,#00ff8f,#00ff90,#00ff90,#00ff91,#00ff92,#00ff94,#00ff95,#00ff97,#00ff99,#00ff9c,#00ff9e,#00ffa1,#00ffa4,#00ffa8,#00ffab,#00ffaf,#00ffb3,#00ffb8,#00ffbc,#00ffc1,#00ffc6,#00ffcc,#00ffd1,#00ffd7,#00ffdd,#00ffe3,#00ffea,#00fff1,#00fff8,#00ffff,#00f7ff)"></i>
<i style="top:123px;height:3.6px;background:linear-gradient(90deg,#00ff94,#00ff93,#00ff91,#00ff90,#00ff8f,#00ff8e,#00ff8d,#00ff8d,#00ff8d,#00ff8d,#00ff8d,#00ff8e,#00ff8f,#00ff90,#00ff92,#00ff93,#00ff95,#00ff97,#00ff9a,#00ff9d,#00ff9f,#00ffa3,#00ffa6,#00ffaa,#00ffae,#00ffb2,#00ffb6,#00ffbb,#00ffc0,#00ffc5,#00ffca,#00ffd0,#00ffd6,#00ffdc,#00ffe3,#00ffe9,#00fff0,#00fff7,#00ffff,#00f7ff)"></i>
<i style="top:126px;height:3.6px;background:linear-gradient(90deg,#00ff92,#00ff90,#00ff8f,#00ff8d,#00ff8c,#00ff8c,#00ff8b,#00ff8b,#00ff8b,#00ff8b,#00ff8c,#00ff8c,#00ff8d,#00ff8f,#00ff90,#00ff92,#00ff94,#00ff96,#00ff98,#00ff9b,#00ff9e,#00ffa1,#00ffa5,#00ffa9,#00ffac,#00ffb1,#00ffb5,#00ffba,#00ffbf,#00ffc4,#00ffca,#00ffcf,#00ffd5,#00ffdc,#00ffe2,#00ffe9,#00fff0,#00fff7,#00fffe,#00f8ff)"></i>
<i style="top:129px;height:3.6px;background:linear-gradient(90deg,#00ff90,#00ff8e,#00ff8d,#00ff8b,#00ff8a,#00ff8a,#00ff89,#00ff89,#00ff89,#00ff89,#00ff8a,#00ff8b,#00ff8c,#00ff8d,#00ff8e,#00ff90,#00ff92,#00ff94,#00ff97,#00ff9a,#00ff9d,#00ffa0,#00ffa4,#00ffa7,#00ffab,#00ffb0,#00ffb4,#00ffb9,#00ffbe,#00ffc3,#00ffc9,#00ffcf,#00ffd5,#00ffdb,#00ffe1,#00ffe8,#00ffef,#00fff6,#00fffe,#00f8ff)"></i>
<i style="top:132px;height:3.6px;background:linear-gradient(90deg,#00ff8e,#00ff8c,#00ff8a,#00ff89,#00ff88,#00ff88,#00ff87,#00ff87,#00ff87,#00ff88,#00ff88,#00ff89,#00ff8a,#00ff8b,#00ff8d,#00ff8f,#00ff91,#00ff93,#00ff96,#00ff99,#00ff9c,#00ff9f,#00ffa3,#00ffa6,#00ffaa,#00ffaf,#00ffb3,#00ffb8,#00ffbd,#00ffc3,#00ffc8,#00ffce,#00ffd4,#00ffda,#00ffe1,#00ffe8,#00ffef,#00fff6,#00fffe,#00f8ff)"></i>
<i style="top:135px;height:3.6px;background:linear-gradient(90deg,#00ff8c,#00ff8a,#00ff89,#00ff87,#00ff87,#00ff86,#00ff86,#00ff85,#00ff86,#00ff86,#00ff87,#00ff87,#00ff89,#00ff8a,#00ff8c,#00ff8d,#00ff90,#00ff92,#00ff95,#00ff97,#00ff9b,#00ff9e,#00ffa2,#00ffa5,#00ffaa,#00ffae,#00ffb3,#00ffb7,#00ffbd,#00ffc2,#00ffc8,#00ffcd,#00ffd4,#00ffda,#00ffe1,#00ffe7,#00ffef,#00fff6,#00fffe,#00f9ff)"></i>
<i style="top:138px;height:3.6px;background:linear-gradient(90deg,#00ff8a,#00ff88,#00ff87,#00ff86,#00ff85,#00ff84,#00ff84,#00ff84,#00ff84,#00ff84,#00ff85,#00ff86,#00ff87,#00ff89,#00ff8a,#00ff8c,#00ff8e,#00ff91,#00ff94,#00ff97,#00ff9a,#00ff9d,#00ffa1,#00ffa5,#00ffa9,#00ffad,#00ffb2,#00ffb7,#00ffbc,#00ffc2,#00ffc7,#00ffcd,#00ffd3,#00ffda,#00ffe0,#00ffe7,#00ffee,#00fff6,#00fffe,#00f8ff)"></i>
<i style="top:141px;height:3.6px;background:linear-gradient(90deg,#00ff88,#00ff86,#00ff85,#00ff84,#00ff83,#00ff83,#00ff82,#00ff82,#00ff83,#00ff83,#00ff84,#00ff85,#00ff86,#00ff88,#00ff89,#00ff8b,#00ff8d,#00ff90,#00ff93,#00ff96,#00ff99,#00ff9c,#00ffa0,#00ffa4,#00ffa8,#00ffad,#00ffb1,#00ffb6,#00ffbc,#00ffc1,#00ffc7,#00ffcd,#00ffd3,#00ffda,#00ffe0,#00ffe7,#00ffef,#00fff6,#00fffe,#00f8ff)"></i>
<i style="top:144px;height:3.6px;background:linear-gradient(90deg,#00ff86,#00ff85,#00ff83,#00ff82,#00ff82,#00ff81,#00ff81,#00ff81,#00ff81,#00ff82,#00ff83,#00ff84,#00ff85,#00ff86,#00ff88,#00ff8a,#00ff8d,#00ff8f,#00ff92,#00ff95,#00ff98,#00ff9c,#00ffa0,#00ffa4,#00ffa8,#00ffac,#00ffb1,#00ffb6,#00ffbb,#00ffc1,#00ffc7,#00ffcd,#00ffd3,#00ffda,#00ffe0,#00ffe7,#00ffef,#00fff6,#00fffe,#00f8ff)"></i>
<i style="top:147px;height:3.6px;background:linear-gradient(90deg,#00ff84,#00ff83,#00ff82,#00ff81,#00ff80,#00ff80,#00ff80,#00ff80,#00ff80,#00ff81,#00ff82,#00ff83,#00ff84,#00ff86,#00ff87,#00ff89,#00ff8c,#00ff8e,#00ff91,#00ff94,#00ff98,#00ff9b,#00ff9f,#00ffa3,#00ffa7,#00ffac,#00ffb1,#00ffb6,#00ffbb,#00ffc1,#00ffc7,#00ffcd,#00ffd3,#00ffda,#00ffe0,#00ffe8,#00ffef,#00fff6,#00fffe,#00f8ff)"></i>
<i style="top:150px;height:3.6px;background:linear-gradient(90deg,#00ff83,#00ff82,#00ff81,#00ff80,#00ff7f,#00ff7f,#00ff7f,#00ff7f,#00ff7f,#00ff80,#00ff81,#00ff82,#00ff83,#00ff85,#00ff87,#00ff89,#00ff8b,#00ff8e,#00ff91,#00ff94,#00ff97,#00ff9b,#00ff9f,#00ffa3,#00ffa7,#00ffac,#00ffb1,#00ffb6,#00ffbb,#00ffc1,#00ffc7,#00ffcd,#00ffd3,#00ffda,#00ffe1,#00ffe8,#00ffef,#00fff7,#00ffff,#00f7ff)"></i>
<i style="top:153px;height:3.6px;background:linear-gradient(90deg,#00ff82,#00ff80,#00ff7f,#00ff7e,#00ff7e,#00ff7e,#00ff7e,#00ff7e,#00ff7e,#00ff7f,#00ff80,#00ff81,#00ff82,#00ff84,#00ff86,#00ff88,#00ff8b,#00ff8d,#00ff90,#00ff93,#00ff97,#00ff9b,#00ff9e,#00ffa3,#00ffa7,#00ffac,#00ffb1,#00ffb6,#00ffbb,#00ffc1,#00ffc7,#00ffcd,#00ffd4,#00ffda,#00ffe1,#00ffe8,#00fff0,#00fff7,#00ffff,#00f7ff)"></i>
<i style="top:156px;height:3.6px;background:linear-gradient(90deg,#00ff80,#00ff7f,#00ff7e,#00ff7d,#00ff7d,#00ff7d,#00ff7d,#00ff7d,#00ff7d,#00ff7e,#00ff7f,#00ff80,#00ff82,#00ff84,#00ff86,#00ff88,#00ff8a,#00ff8d,#00ff90,#00ff93,#00ff97,#00ff9a,#00ff9e,#00ffa3,#00ffa7,#00ffac,#00ffb1,#00ffb6,#00ffbb,#00ffc1,#00ffc7,#00ffcd,#00ffd4,#00ffdb,#00ffe2,#00ffe9,#00fff0,#00fff8,#00feff,#00f6ff)"></i>
<i style="top:159px;height:3.6px;background:linear-gradient(90deg,#00ff7f,#00ff7e,#00ff7d,#00ff7c,#00ff7c,#00ff7c,#00ff7c,#00ff7c,#00ff7d,#00ff7d,#00ff7e,#00ff80,#00ff81,#00ff83,#00ff85,#00ff87,#00ff8a,#00ff8d,#00ff90,#00ff93,#00ff97,#00ff9a,#00ff9e,#00ffa3,#00ffa7,#00ffac,#00ffb1,#00ffb6,#00ffbc,#00ffc2,#00ffc8,#00ffce,#00ffd4,#00ffdb,#00ffe2,#00ffea,#00fff1,#00fff9,#00fdff,#00f5ff)"></i>
<i style="top:162px;height:3.6px;background:linear-gradient(90deg,#00ff7e,#00ff7d,#00ff7c,#00ff7c,#00ff7b,#00ff7b,#00ff7b,#00ff7b,#00ff7c,#00ff7d,#00ff7e,#00ff7f,#00ff81,#00ff83,#00ff85,#00ff87,#00ff8a,#00ff8d,#00ff90,#00ff93,#00ff97,#00ff9a,#00ff9f,#00ffa3,#00ffa7,#00ffac,#00ffb1,#00ffb7,#00ffbc,#00ffc2,#00ffc8,#00ffce,#00ffd5,#00ffdc,#00ffe3,#00ffea,#00fff2,#00fffa,#00fcff,#00f4ff)"></i>
<i style="top:165px;height:3.6px;background:linear-gradient(90deg,#00ff7e,#00ff7c,#00ff7c,#00ff7b,#00ff7b,#00ff7a,#00ff7b,#00ff7b,#00ff7c,#00ff7d,#00ff7e,#00ff7f,#00ff81,#00ff83,#00ff85,#00ff87,#00ff8a,#00ff8d,#00ff90,#00ff93,#00ff97,#00ff9b,#00ff9f,#00ffa3,#00ffa8,#00ffad,#00ffb2,#00ffb7,#00ffbd,#00ffc3,#00ffc9,#00ffcf,#00ffd6,#00ffdd,#00ffe4,#00ffeb,#00fff3,#00fffb,#00fbff,#00f3ff)"></i>
<i style="top:168px;height:3.6px;background:linear-gradient(90deg,#00ff7d,#00ff7c,#00ff7b,#00ff7a,#00ff7a,#00ff7a,#00ff7a,#00ff7b,#00ff7b,#00ff7c,#00ff7d,#00ff7f,#00ff81,#00ff82,#00ff85,#00ff87,#00ff8a,#00ff8d,#00ff90,#00ff93,#00ff97,#00ff9b,#00ff9f,#00ffa4,#00ffa8,#00ffad,#00ffb2,#00ffb8,#00ffbd,#00ffc3,#00ffca,#00ffd0,#00ffd7,#00ffde,#00ffe5,#00ffec,#00fff4,#00fffc,#00faff,#00f2ff)"></i>
<i style="top:171px;height:3.6px;background:linear-gradient(90deg,#00ff7c,#00ff7b,#00ff7a,#00ff7a,#00ff7a,#00ff7a,#00ff7a,#00ff7a,#00ff7b,#00ff7c,#00ff7d,#00ff7f,#00ff81,#00ff83,#00ff85,#00ff87,#00ff8a,#00ff8d,#00ff90,#00ff94,#00ff97,#00ff9b,#00ffa0,#00ffa4,#00ffa9,#00ffae,#00ffb3,#00ffb9,#00ffbe,#00ffc4,#00ffca,#00ffd1,#00ffd8,#00ffdf,#00ffe6,#00ffed,#00fff5,#00fffd,#00f9ff,#00f0ff)"></i>
<i style="top:174px;height:3.6px;background:linear-gradient(90deg,#00ff7c,#00ff7b,#00ff7a,#00ff7a,#00ff79,#00ff79,#00ff7a,#00ff7a,#00ff7b,#00ff7c,#00ff7d,#00ff7f,#00ff81,#00ff83,#00ff85,#00ff87,#00ff8a,#00ff8d,#00ff91,#00ff94,#00ff98,#00ff9c,#00ffa0,#00ffa5,#00ffaa,#00ffaf,#00ffb4,#00ffb9,#00ffbf,#00ffc5,#00ffcb,#00ffd2,#00ffd9,#00ffe0,#00ffe7,#00ffef,#00fff6,#00fffe,#00f7ff,#00efff)"></i>
<i style="top:177px;height:3.6px;background:linear-gradient(90deg,#00ff7b,#00ff7a,#00ff7a,#00ff79,#00ff79,#00ff79,#00ff7a,#00ff7a,#00ff7b,#00ff7c,#00ff7d,#00ff7f,#00ff81,#00ff83,#00ff85,#00ff88,#00ff8b,#00ff8e,#00ff91,#00ff95,#00ff99,#00ff9d,#00ffa1,#00ffa6,#00ffaa,#00ffaf,#00ffb5,#00ffba,#00ffc0,#00ffc6,#00ffcd,#00ffd3,#00ffda,#00ffe1,#00ffe8,#00fff0,#00fff8,#00feff,#00f6ff,#00edff)"></i>
<i style="top:180px;height:3.6px;background:linear-gradient(90deg,#00ff7b,#00ff7a,#00ff7a,#00ff79,#00ff79,#00ff79,#00ff7a,#00ff7a,#00ff7b,#00ff7c,#00ff7e,#00ff7f,#00ff81,#00ff83,#00ff86,#00ff88,#00ff8b,#00ff8e,#00ff92,#00ff95,#00ff99,#00ff9d,#00ffa2,#00ffa6,#00ffab,#00ffb0,#00ffb6,#00ffbb,#00ffc1,#00ffc7,#00ffce,#00ffd5,#00ffdb,#00ffe3,#00ffea,#00fff2,#00fff9,#00fcff,#00f4ff,#00ebff)"></i>
<i style="top:183px;height:3.6px;background:linear-gradient(90deg,#00ff7b,#00ff7a,#00ff7a,#00ff79,#00ff79,#00ff79,#00ff7a,#00ff7a,#00ff7b,#00ff7d,#00ff7e,#00ff80,#00ff82,#00ff84,#00ff86,#00ff89,#00ff8c,#00ff8f,#00ff93,#00ff96,#00ff9a,#00ff9e,#00ffa3,#00ffa7,#00ffac,#00ffb2,#00ffb7,#00ffbd,#00ffc3,#00ffc9,#00ffcf,#00ffd6,#00ffdd,#00ffe4,#00ffeb,#00fff3,#00fffb,#00fbff,#00f2ff,#00eaff)"></i>
<i style="top:186px;height:3.6px;background:linear-gradient(90deg,#00ff7b,#00ff7a,#00ff7a,#00ff79,#00ff79,#00ff7a,#00ff7a,#00ff7b,#00ff7c,#00ff7d,#00ff7e,#00ff80,#00ff82,#00ff84,#00ff87,#00ff8a,#00ff8d,#00ff90,#00ff93,#00ff97,#00ff9b,#00ff9f,#00ffa4,#00ffa9,#00ffae,#00ffb3,#00ffb8,#00ffbe,#00ffc4,#00ffca,#00ffd1,#00ffd7,#00ffde,#00ffe6,#00ffed,#00fff5,#00fffd,#00f9ff,#00f0ff,#00e8ff)"></i>
<i style="top:189px;height:3.6px;background:linear-gradient(90deg,#00ff7b,#00ff7a,#00ff7a,#00ff7a,#00ff7a,#00ff7a,#00ff7a,#00ff7b,#00ff7c,#00ff7e,#00ff7f,#00ff81,#00ff83,#00ff85,#00ff88,#00ff8b,#00ff8e,#00ff91,#00ff94,#00ff98,#00ff9c,#00ffa1,#00ffa5,#00ffaa,#00ffaf,#00ffb4,#00ffba,#00ffbf,#00ffc6,#00ffcc,#00ffd2,#00ffd9,#00ffe0,#00ffe7,#00ffef,#00fff7,#00ffff,#00f7ff,#00eeff,#00e6ff)"></i>
<i style="top:192px;height:3.6px;background:linear-gradient(90deg,#00ff7b,#00ff7a,#00ff7a,#00ff7a,#00ff7a,#00ff7a,#00ff7b,#00ff7c,#00ff7d,#00ff7e,#00ff80,#00ff82,#00ff84,#00ff86,#00ff89,#00ff8c,#00ff8f,#00ff92,#00ff96,#00ff99,#00ff9d,#00ffa2,#00ffa6,#00ffab,#00ffb0,#00ffb6,#00ffbb,#00ffc1,#00ffc7,#00ffcd,#00ffd4,#00ffdb,#00ffe2,#00ffe9,#00fff1,#00fff9,#00fdff,#00f5ff,#00ecff,#00e3ff)"></i>
<i style="top:195px;height:3.6px;background:linear-gradient(90deg,#00ff7b,#00ff7b,#00ff7b,#00ff7a,#00ff7b,#00ff7b,#00ff7c,#00ff7c,#00ff7e,#00ff7f,#00ff81,#00ff83,#00ff85,#00ff87,#00ff8a,#00ff8d,#00ff90,#00ff93,#00ff97,#00ff9b,#00ff9f,#00ffa3,#00ffa8,#00ffad,#00ffb2,#00ffb7,#00ffbd,#00ffc3,#00ffc9,#00ffcf,#00ffd6,#00ffdd,#00ffe4,#00ffeb,#00fff3,#00fffb,#00fbff,#00f3ff,#00eaff,#00e1ff)"></i>
<i style="top:198px;height:3.6px;background:linear-gradient(90deg,#00ff7c,#00ff7b,#00ff7b,#00ff7b,#00ff7b,#00ff7c,#00ff7c,#00ff7d,#00ff7e,#00ff80,#00ff82,#00ff84,#00ff86,#00ff88,#00ff8b,#00ff8e,#00ff91,#00ff94,#00ff98,#00ff9c,#00ffa0,#00ffa5,#00ffa9,#00ffae,#00ffb4,#00ffb9,#00ffbf,#00ffc5,#00ffcb,#00ffd1,#00ffd8,#00ffdf,#00ffe6,#00ffed,#00fff5,#00fffd,#00f9ff,#00f0ff,#00e8ff,#00dfff)"></i>
<i style="top:201px;height:3.6px;background:linear-gradient(90deg,#00ff7d,#00ff7c,#00ff7c,#00ff7c,#00ff7c,#00ff7c,#00ff7d,#00ff7e,#00ff7f,#00ff81,#00ff83,#00ff85,#00ff87,#00ff89,#00ff8c,#00ff8f,#00ff92,#00ff96,#00ff9a,#00ff9e,#00ffa2,#00ffa6,#00ffab,#00ffb0,#00ffb5,#00ffbb,#00ffc1,#00ffc7,#00ffcd,#00ffd3,#00ffda,#00ffe1,#00ffe8,#00fff0,#00fff7,#00ffff,#00f6ff,#00eeff,#00e5ff,#00dcff)"></i>
<i style="top:204px;height:3.6px;background:linear-gradient(90deg,#00ff7d,#00ff7d,#00ff7d,#00ff7d,#00ff7d,#00ff7d,#00ff7e,#00ff7f,#00ff81,#00ff82,#00ff84,#00ff86,#00ff88,#00ff8b,#00ff8e,#00ff91,#00ff94,#00ff97,#00ff9b,#00ff9f,#00ffa4,#00ffa8,#00ffad,#00ffb2,#00ffb7,#00ffbd,#00ffc3,#00ffc9,#00ffcf,#00ffd5,#00ffdc,#00ffe3,#00ffeb,#00fff2,#00fffa,#00fcff,#00f4ff,#00ebff,#00e3ff,#00d9ff)"></i>
<i style="top:207px;height:3.6px;background:linear-gradient(90deg,#00ff7e,#00ff7e,#00ff7d,#00ff7e,#00ff7e,#00ff7e,#00ff7f,#00ff80,#00ff82,#00ff83,#00ff85,#00ff87,#00ff8a,#00ff8c,#00ff8f,#00ff92,#00ff96,#00ff99,#00ff9d,#00ffa1,#00ffa5,#00ffaa,#00ffaf,#00ffb4,#00ffb9,#00ffbf,#00ffc5,#00ffcb,#00ffd1,#00ffd8,#00ffdf,#00ffe6,#00ffed,#00fff5,#00fffc,#00faff,#00f1ff,#00e9ff,#00e0ff,#00d7ff)"></i>
<i style="top:210px;height:3.6px;background:linear-gradient(90deg,#00ff7f,#00ff7f,#00ff7e,#00ff7f,#00ff7f,#00ff80,#00ff81,#00ff82,#00ff83,#00ff85,#00ff87,#00ff89,#00ff8b,#00ff8e,#00ff91,#00ff94,#00ff97,#00ff9b,#00ff9f,#00ffa3,#00ffa7,#00ffac,#00ffb1,#00ffb6,#00ffbb,#00ffc1,#00ffc7,#00ffcd,#00ffd3,#00ffda,#00ffe1,#00ffe8,#00ffef,#00fff7,#00ffff,#00f7ff,#00eeff,#00e6ff,#00ddff,#00d4ff)"></i>
<i style="top:213px;height:3.6px;background:linear-gradient(90deg,#00ff80,#00ff80,#00ff80,#00ff80,#00ff80,#00ff81,#00ff82,#00ff83,#00ff85,#00ff86,#00ff88,#00ff8a,#00ff8d,#00ff90,#00ff92,#00ff96,#00ff99,#00ff9d,#00ffa1,#00ffa5,#00ffa9,#00ffae,#00ffb3,#00ffb8,#00ffbe,#00ffc3,#00ffc9,#00ffcf,#00ffd6,#00ffdd,#00ffe4,#00ffeb,#00fff2,#00fffa,#00fcff,#00f4ff,#00ecff,#00e3ff,#00daff,#00d1ff)"></i>
<i style="top:216px;height:3.6px;background:linear-gradient(90deg,#00ff81,#00ff81,#00ff81,#00ff81,#00ff82,#00ff82,#00ff83,#00ff85,#00ff86,#00ff88,#00ff8a,#00ff8c,#00ff8f,#00ff91,#00ff94,#00ff98,#00ff9b,#00ff9f,#00ffa3,#00ffa7,#00ffac,#00ffb0,#00ffb5,#00ffbb,#00ffc0,#00ffc6,#00ffcc,#00ffd2,#00ffd8,#00ffdf,#00ffe6,#00ffed,#00fff5,#00fffd,#00f9ff,#00f1ff,#00e9ff,#00e0ff,#00d7ff,#00ceff)"></i>
<i style="top:219px;height:3.6px;background:linear-gradient(90deg,#00ff82,#00ff82,#00ff82,#00ff83,#00ff83,#00ff84,#00ff85,#00ff86,#00ff88,#00ff8a,#00ff8c,#00ff8e,#00ff90,#00ff93,#00ff96,#00ff9a,#00ff9d,#00ffa1,#00ffa5,#00ffa9,#00ffae,#00ffb3,#00ffb8,#00ffbd,#00ffc3,#00ffc8,#00ffce,#00ffd5,#00ffdb,#00ffe2,#00ffe9,#00fff0,#00fff8,#00feff,#00f6ff,#00eeff,#00e6ff,#00ddff,#00d4ff,#00caff)"></i>
<i style="top:222px;height:3.6px;background:linear-gradient(90deg,#00ff84,#00ff84,#00ff84,#00ff84,#00ff85,#00ff86,#00ff87,#00ff88,#00ff8a,#00ff8b,#00ff8e,#00ff90,#00ff93,#00ff95,#00ff98,#00ff9c,#00ff9f,#00ffa3,#00ffa7,#00ffac,#00ffb0,#00ffb5,#00ffba,#00ffc0,#00ffc5,#00ffcb,#00ffd1,#00ffd7,#00ffde,#00ffe5,#00ffec,#00fff3,#00fffb,#00fbff,#00f3ff,#00ebff,#00e2ff,#00d9ff,#00d0ff,#00c7ff)"></i>
<i style="top:225px;height:3.6px;background:linear-gradient(90deg,#00ff85,#00ff85,#00ff85,#00ff86,#00ff86,#00ff87,#00ff89,#00ff8a,#00ff8c,#00ff8d,#00ff90,#00ff92,#00ff95,#00ff98,#00ff9b,#00ff9e,#00ffa2,#00ffa6,#00ffaa,#00ffae,#00ffb3,#00ffb8,#00ffbd,#00ffc2,#00ffc8,#00ffce,#00ffd4,#00ffda,#00ffe1,#00ffe8,#00ffef,#00fff6,#00fffe,#00f8ff,#00f0ff,#00e8ff,#00dfff,#00d6ff,#00cdff,#00c4ff)"></i>
<i style="top:228px;height:3.6px;background:linear-gradient(90deg,#00ff87,#00ff87,#00ff87,#00ff88,#00ff88,#00ff89,#00ff8a,#00ff8c,#00ff8e,#00ff90,#00ff92,#00ff94,#00ff97,#00ff9a,#00ff9d,#00ffa0,#00ffa4,#00ffa8,#00ffac,#00ffb1,#00ffb5,#00ffba,#00ffc0,#00ffc5,#00ffcb,#00ffd1,#00ffd7,#00ffdd,#00ffe4,#00ffeb,#00fff2,#00fffa,#00fdff,#00f5ff,#00edff,#00e4ff,#00dbff,#00d3ff,#00c9ff,#00c0ff)"></i>
<i style="top:231px;height:3.6px;background:linear-gradient(90deg,#00ff89,#00ff89,#00ff89,#00ff8a,#00ff8a,#00ff8b,#00ff8d,#00ff8e,#00ff90,#00ff92,#00ff94,#00ff97,#00ff99,#00ff9c,#00ffa0,#00ffa3,#00ffa7,#00ffab,#00ffaf,#00ffb3,#00ffb8,#00ffbd,#00ffc2,#00ffc8,#00ffce,#00ffd4,#00ffda,#00ffe0,#00ffe7,#00ffee,#00fff5,#00fffd,#00f9ff,#00f1ff,#00e9ff,#00e1ff,#00d8ff,#00cfff,#00c6ff,#00bcff)"></i>
<i style="top:234px;height:3.6px;background:linear-gradient(90deg,#00ff8b,#00ff8b,#00ff8b,#00ff8c,#00ff8c,#00ff8d,#00ff8f,#00ff90,#00ff92,#00ff94,#00ff96,#00ff99,#00ff9c,#00ff9f,#00ffa2,#00ffa6,#00ffa9,#00ffad,#00ffb2,#00ffb6,#00ffbb,#00ffc0,#00ffc5,#00ffcb,#00ffd1,#00ffd7,#00ffdd,#00ffe4,#00ffea,#00fff2,#00fff9,#00feff,#00f6ff,#00eeff,#00e6ff,#00ddff,#00d4ff,#00cbff,#00c2ff,#00b8ff)"></i>
<i style="top:237px;height:3.6px;background:linear-gradient(90deg,#00ff8d,#00ff8d,#00ff8d,#00ff8e,#00ff8f,#00ff90,#00ff91,#00ff93,#00ff94,#00ff97,#00ff99,#00ff9c,#00ff9e,#00ffa1,#00ffa5,#00ffa8,#00ffac,#00ffb0,#00ffb5,#00ffb9,#00ffbe,#00ffc3,#00ffc9,#00ffce,#00ffd4,#00ffda,#00ffe0,#00ffe7,#00ffee,#00fff5,#00fffc,#00faff,#00f2ff,#00eaff,#00e2ff,#00d9ff,#00d0ff,#00c7ff,#00beff,#00b4ff)"></i>
<i style="top:240px;height:3.6px;background:linear-gradient(90deg,#00ff8f,#00ff8f,#00ff8f,#00ff90,#00ff91,#00ff92,#00ff93,#00ff95,#00ff97,#00ff99,#00ff9c,#00ff9e,#00ffa1,#00ffa4,#00ffa8,#00ffab,#00ffaf,#00ffb3,#00ffb8,#00ffbc,#00ffc1,#00ffc6,#00ffcc,#00ffd1,#00ffd7,#00ffdd,#00ffe4,#00ffeb,#00fff1,#00fff9,#00feff,#00f6ff,#00eeff,#00e6ff,#00deff,#00d5ff,#00ccff,#00c3ff,#00baff,#00b0ff)"></i>
<i style="top:243px;height:3.6px;background:linear-gradient(90deg,#00ff91,#00ff91,#00ff92,#00ff92,#00ff93,#00ff95,#00ff96,#00ff98,#00ff9a,#00ff9c,#00ff9e,#00ffa1,#00ffa4,#00ffa7,#00ffab,#00ffae,#00ffb2,#00ffb6,#00ffbb,#00ffc0,#00ffc5,#00ffca,#00ffcf,#00ffd5,#00ffdb,#00ffe1,#00ffe7,#00ffee,#00fff5,#00fffc,#00faff,#00f3ff,#00ebff,#00e2ff,#00daff,#00d1ff,#00c8ff,#00bfff,#00b6ff,#00acff)"></i>
<i style="top:246px;height:3.6px;background:linear-gradient(90deg,#00ff93,#00ff94,#00ff94,#00ff95,#00ff96,#00ff97,#00ff99,#00ff9a,#00ff9c,#00ff9f,#00ffa1,#00ffa4,#00ffa7,#00ffaa,#00ffae,#00ffb1,#00ffb5,#00ffba,#00ffbe,#00ffc3,#00ffc8,#00ffcd,#00ffd3,#00ffd8,#00ffde,#00ffe5,#00ffeb,#00fff2,#00fff9,#00feff,#00f6ff,#00efff,#00e7ff,#00deff,#00d6ff,#00cdff,#00c4ff,#00bbff,#00b1ff,#00a8ff)"></i>
<i style="top:249px;height:3.6px;background:linear-gradient(90deg,#00ff96,#00ff96,#00ff97,#00ff98,#00ff99,#00ff9a,#00ff9b,#00ff9d,#00ff9f,#00ffa2,#00ffa4,#00ffa7,#00ffaa,#00ffad,#00ffb1,#00ffb5,#00ffb9,#00ffbd,#00ffc2,#00ffc6,#00ffcb,#00ffd1,#00ffd6,#00ffdc,#00ffe2,#00ffe8,#00ffef,#00fff6,#00fffd,#00faff,#00f2ff,#00ebff,#00e3ff,#00daff,#00d2ff,#00c9ff,#00c0ff,#00b7ff,#00adff,#00a3ff)"></i>
<i style="top:252px;height:3.6px;background:linear-gradient(90deg,#00ff98,#00ff99,#00ff99,#00ff9a,#00ff9b,#00ff9d,#00ff9e,#00ffa0,#00ffa2,#00ffa5,#00ffa7,#00ffaa,#00ffad,#00ffb1,#00ffb4,#00ffb8,#00ffbc,#00ffc0,#00ffc5,#00ffca,#00ffcf,#00ffd4,#00ffda,#00ffe0,#00ffe6,#00ffec,#00fff3,#00fffa,#00fdff,#00f6ff,#00eeff,#00e6ff,#00deff,#00d6ff,#00cdff,#00c5ff,#00bbff,#00b2ff,#00a9ff,#009fff)"></i>
<i style="top:255px;height:3.6px;background:linear-gradient(90deg,#00ff9b,#00ff9c,#00ff9c,#00ff9d,#00ff9e,#00ffa0,#00ffa1,#00ffa3,#00ffa5,#00ffa8,#00ffaa,#00ffad,#00ffb1,#00ffb4,#00ffb8,#00ffbb,#00ffc0,#00ffc4,#00ffc9,#00ffce,#00ffd3,#00ffd8,#00ffde,#00ffe4,#00ffea,#00fff0,#00fff7,#00fffe,#00f9ff,#00f2ff,#00eaff,#00e2ff,#00daff,#00d2ff,#00c9ff,#00c0ff,#00b7ff,#00aeff,#00a4ff,#009aff)"></i>
<i style="top:258px;height:3.6px;background:linear-gradient(90deg,#00ff9e,#00ff9e,#00ff9f,#00ffa0,#00ffa1,#00ffa3,#00ffa5,#00ffa6,#00ffa9,#00ffab,#00ffae,#00ffb1,#00ffb4,#00ffb7,#00ffbb,#00ffbf,#00ffc3,#00ffc8,#00ffcc,#00ffd1,#00ffd7,#00ffdc,#00ffe2,#00ffe8,#00ffee,#00fff4,#00fffb,#00fcff,#00f5ff,#00edff,#00e6ff,#00deff,#00d6ff,#00cdff,#00c4ff,#00bbff,#00b2ff,#00a9ff,#009fff,#0095ff)"></i>
<i style="top:261px;height:3.6px;background:linear-gradient(90deg,#00ffa1,#00ffa1,#00ffa2,#00ffa3,#00ffa5,#00ffa6,#00ffa8,#00ffaa,#00ffac,#00ffaf,#00ffb1,#00ffb4,#00ffb8,#00ffbb,#00ffbf,#00ffc3,#00ffc7,#00ffcc,#00ffd0,#00ffd5,#00ffdb,#00ffe0,#00ffe6,#00ffec,#00fff2,#00fff9,#00ffff,#00f8ff,#00f0ff,#00e9ff,#00e1ff,#00d9ff,#00d1ff,#00c8ff,#00c0ff,#00b7ff,#00adff,#00a4ff,#009aff,#0090ff)"></i>
<i style="top:264px;height:3.6px;background:linear-gradient(90deg,#00ffa4,#00ffa5,#00ffa5,#00ffa6,#00ffa8,#00ffa9,#00ffab,#00ffad,#00ffaf,#00ffb2,#00ffb5,#00ffb8,#00ffbb,#00ffbf,#00ffc3,#00ffc7,#00ffcb,#00ffcf,#00ffd4,#00ffd9,#00ffdf,#00ffe4,#00ffea,#00fff0,#00fff6,#00fffd,#00faff,#00f3ff,#00ecff,#00e4ff,#00ddff,#00d5ff,#00ccff,#00c4ff,#00bbff,#00b2ff,#00a9ff,#009fff,#0095ff,#008bff)"></i>
<i style="top:267px;height:3.6px;background:linear-gradient(90deg,#00ffa7,#00ffa8,#00ffa9,#00ffaa,#00ffab,#00ffad,#00ffaf,#00ffb1,#00ffb3,#00ffb6,#00ffb9,#00ffbc,#00ffbf,#00ffc3,#00ffc6,#00ffcb,#00ffcf,#00ffd4,#00ffd8,#00ffdd,#00ffe3,#00ffe8,#00ffee,#00fff4,#00fffb,#00fdff,#00f6ff,#00efff,#00e7ff,#00e0ff,#00d8ff,#00d0ff,#00c7ff,#00bfff,#00b6ff,#00adff,#00a4ff,#009aff,#0090ff,#0086ff)"></i>
<i style="top:270px;height:3.6px;background:linear-gradient(90deg,#00ffab,#00ffab,#00ffac,#00ffad,#00ffaf,#00ffb0,#00ffb2,#00ffb4,#00ffb7,#00ffb9,#00ffbc,#00ffc0,#00ffc3,#00ffc7,#00ffca,#00ffcf,#00ffd3,#00ffd8,#00ffdd,#00ffe2,#00ffe7,#00ffed,#00fff3,#00fff9,#00ffff,#00f8ff,#00f1ff,#00eaff,#00e3ff,#00dbff,#00d3ff,#00cbff,#00c3ff,#00baff,#00b1ff,#00a8ff,#009eff,#0095ff,#008bff,#0081ff)"></i>
<i style="top:273px;height:3.6px;background:linear-gradient(90deg,#00ffae,#00ffaf,#00ffb0,#00ffb1,#00ffb2,#00ffb4,#00ffb6,#00ffb8,#00ffbb,#00ffbd,#00ffc0,#00ffc4,#00ffc7,#00ffcb,#00ffcf,#00ffd3,#00ffd7,#00ffdc,#00ffe1,#00ffe6,#00ffec,#00fff1,#00fff7,#00fffd,#00faff,#00f3ff,#00ecff,#00e5ff,#00deff,#00d6ff,#00ceff,#00c6ff,#00bdff,#00b5ff,#00acff,#00a3ff,#0099ff,#008fff,#0086ff,#007bff)"></i>
<i style="top:276px;height:3.6px;background:linear-gradient(90deg,#00ffb2,#00ffb2,#00ffb3,#00ffb5,#00ffb6,#00ffb8,#00ffba,#00ffbc,#00ffbf,#00ffc1,#00ffc4,#00ffc8,#00ffcb,#00ffcf,#00ffd3,#00ffd7,#00ffdc,#00ffe0,#00ffe5,#00ffeb,#00fff0,#00fff6,#00fffc,#00fcff,#00f5ff,#00efff,#00e8ff,#00e0ff,#00d9ff,#00d1ff,#00c9ff,#00c1ff,#00b8ff,#00b0ff,#00a7ff,#009dff,#0094ff,#008aff,#0080ff,#0076ff)"></i>
<i style="top:279px;height:3.6px;background:linear-gradient(90deg,#00ffb5,#00ffb6,#00ffb7,#00ffb8,#00ffba,#00ffbc,#00ffbe,#00ffc0,#00ffc3,#00ffc6,#00ffc9,#00ffcc,#00ffcf,#00ffd3,#00ffd7,#00ffdc,#00ffe0,#00ffe5,#00ffea,#00ffef,#00fff5,#00fffb,#00fdff,#00f7ff,#00f0ff,#00eaff,#00e3ff,#00dbff,#00d4ff,#00ccff,#00c4ff,#00bcff,#00b3ff,#00aaff,#00a1ff,#0098ff,#008eff,#0085ff,#007aff,#0070ff)"></i>
<i style="top:282px;height:3.6px;background:linear-gradient(90deg,#00ffb9,#00ffba,#00ffbb,#00ffbc,#00ffbe,#00ffc0,#00ffc2,#00ffc4,#00ffc7,#00ffca,#00ffcd,#00ffd0,#00ffd4,#00ffd8,#00ffdc,#00ffe0,#00ffe5,#00ffea,#00ffef,#00fff4,#00fffa,#00feff,#00f8ff,#00f2ff,#00ebff,#00e5ff,#00ddff,#00d6ff,#00cfff,#00c7ff,#00bfff,#00b6ff,#00aeff,#00a5ff,#009cff,#0092ff,#0089ff,#007fff,#0075ff,#006aff)"></i>
<i style="top:285px;height:3.6px;background:linear-gradient(90deg,#00ffbd,#00ffbe,#00ffbf,#00ffc0,#00ffc2,#00ffc4,#00ffc6,#00ffc9,#00ffcb,#00ffce,#00ffd1,#00ffd5,#00ffd8,#00ffdc,#00ffe0,#00ffe5,#00ffe9,#00ffee,#00fff4,#00fff9,#00ffff,#00faff,#00f3ff,#00edff,#00e6ff,#00dfff,#00d8ff,#00d1ff,#00c9ff,#00c1ff,#00b9ff,#00b1ff,#00a8ff,#009fff,#0096ff,#008dff,#0083ff,#0079ff,#006fff,#0065ff)"></i>
<i style="top:288px;height:3.6px;background:linear-gradient(90deg,#00ffc1,#00ffc2,#00ffc3,#00ffc5,#00ffc6,#00ffc8,#00ffca,#00ffcd,#00ffd0,#00ffd3,#00ffd6,#00ffd9,#00ffdd,#00ffe1,#00ffe5,#00ffea,#00ffee,#00fff3,#00fff8,#00fffe,#00faff,#00f4ff,#00eeff,#00e8ff,#00e1ff,#00daff,#00d3ff,#00cbff,#00c4ff,#00bcff,#00b4ff,#00abff,#00a2ff,#0099ff,#0090ff,#0087ff,#007dff,#0073ff,#0069ff,#005fff)"></i>
<i style="top:291px;height:3.6px;background:linear-gradient(90deg,#00ffc5,#00ffc6,#00ffc7,#00ffc9,#00ffcb,#00ffcd,#00ffcf,#00ffd1,#00ffd4,#00ffd7,#00ffda,#00ffde,#00ffe2,#00ffe6,#00ffea,#00ffef,#00fff3,#00fff8,#00fffe,#00fbff,#00f5ff,#00efff,#00e9ff,#00e2ff,#00dcff,#00d5ff,#00cdff,#00c6ff,#00beff,#00b6ff,#00aeff,#00a5ff,#009dff,#0094ff,#008aff,#0081ff,#0077ff,#006dff,#0063ff,#0058ff)"></i>
<i style="top:294px;height:3.6px;background:linear-gradient(90deg,#00ffc9,#00ffca,#00ffcc,#00ffcd,#00ffcf,#00ffd1,#00ffd4,#00ffd6,#00ffd9,#00ffdc,#00ffdf,#00ffe3,#00ffe7,#00ffeb,#00ffef,#00fff4,#00fff8,#00fffd,#00fbff,#00f6ff,#00f0ff,#00eaff,#00e4ff,#00ddff,#00d6ff,#00cfff,#00c8ff,#00c0ff,#00b8ff,#00b0ff,#00a8ff,#00a0ff,#0097ff,#008eff,#0084ff,#007bff,#0071ff,#0067ff,#005dff,#0052ff)"></i>
<i style="top:297px;height:3.6px;background:linear-gradient(90deg,#00ffce,#00ffcf,#00ffd0,#00ffd2,#00ffd4,#00ffd6,#00ffd8,#00ffdb,#00ffde,#00ffe1,#00ffe4,#00ffe8,#00ffec,#00fff0,#00fff4,#00fff9,#00fffe,#00fbff,#00f6ff,#00f0ff,#00ebff,#00e4ff,#00deff,#00d7ff,#00d1ff,#00caff,#00c2ff,#00bbff,#00b3ff,#00abff,#00a2ff,#009aff,#0091ff,#0088ff,#007eff,#0075ff,#006bff,#0061ff,#0056ff,#004cff)"></i>
<i style="top:300px;height:3.6px;background:linear-gradient(90deg,#00ffd2,#00ffd3,#00ffd5,#00ffd7,#00ffd8,#00ffdb,#00ffdd,#00ffe0,#00ffe3,#00ffe6,#00ffe9,#00ffed,#00fff1,#00fff5,#00fff9,#00fffe,#00fbff,#00f6ff,#00f1ff,#00ebff,#00e5ff,#00dfff,#00d8ff,#00d2ff,#00cbff,#00c4ff,#00bcff,#00b5ff,#00adff,#00a5ff,#009cff,#0094ff,#008bff,#0081ff,#0078ff,#006eff,#0065ff,#005aff,#0050ff,#0045ff)"></i>
<i style="top:303px;height:3.6px;background:linear-gradient(90deg,#00ffd7,#00ffd8,#00ffda,#00ffdb,#00ffdd,#00ffdf,#00ffe2,#00ffe5,#00ffe8,#00ffeb,#00ffee,#00fff2,#00fff6,#00fffa,#00ffff,#00fbff,#00f6ff,#00f1ff,#00ebff,#00e5ff,#00dfff,#00d9ff,#00d3ff,#00ccff,#00c5ff,#00beff,#00b6ff,#00afff,#00a7ff,#009fff,#0096ff,#008dff,#0084ff,#007bff,#0072ff,#0068ff,#005eff,#0054ff,#0049ff,#003fff)"></i>
<i style="top:306px;height:3.6px;background:linear-gradient(90deg,#00ffdc,#00ffdd,#00ffde,#00ffe0,#00ffe2,#00ffe4,#00ffe7,#00ffea,#00ffed,#00fff0,#00fff4,#00fff7,#00fffb,#00feff,#00faff,#00f5ff,#00f0ff,#00ebff,#00e5ff,#00e0ff,#00daff,#00d3ff,#00cdff,#00c6ff,#00bfff,#00b8ff,#00b0ff,#00a9ff,#00a1ff,#0098ff,#0090ff,#0087ff,#007eff,#0075ff,#006bff,#0062ff,#0058ff,#004dff,#0043ff,#0038ff)"></i>
<i style="top:309px;height:3.6px;background:linear-gradient(90deg,#00ffe1,#00ffe2,#00ffe3,#00ffe5,#00ffe7,#00ffea,#00ffec,#00ffef,#00fff2,#00fff5,#00fff9,#00fffd,#00fdff,#00f9ff,#00f4ff,#00f0ff,#00eaff,#00e5ff,#00e0ff,#00daff,#00d4ff,#00cdff,#00c7ff,#00c0ff,#00b9ff,#00b2ff,#00aaff,#00a2ff,#009aff,#0092ff,#0089ff,#0081ff,#0078ff,#006eff,#0065ff,#005bff,#0051ff,#0047ff,#003cff,#0031ff)"></i>
<i style="top:312px;height:3.6px;background:linear-gradient(90deg,#00ffe6,#00ffe7,#00ffe8,#00ffea,#00ffec,#00ffef,#00fff1,#00fff4,#00fff7,#00fffb,#00fffe,#00fcff,#00f8ff,#00f3ff,#00efff,#00eaff,#00e5ff,#00dfff,#00daff,#00d4ff,#00ceff,#00c7ff,#00c1ff,#00baff,#00b3ff,#00abff,#00a4ff,#009cff,#0094ff,#008cff,#0083ff,#007aff,#0071ff,#0068ff,#005eff,#0054ff,#004aff,#0040ff,#0035ff,#002aff)"></i>
<i style="top:315px;height:3.6px;background:linear-gradient(90deg,#00ffeb,#00ffec,#00ffee,#00fff0,#00fff2,#00fff4,#00fff7,#00fffa,#00fffd,#00feff,#00faff,#00f6ff,#00f2ff,#00eeff,#00e9ff,#00e4ff,#00dfff,#00d9ff,#00d4ff,#00ceff,#00c8ff,#00c1ff,#00bbff,#00b4ff,#00acff,#00a5ff,#009dff,#0096ff,#008dff,#0085ff,#007cff,#0073ff,#006aff,#0061ff,#0057ff,#004dff,#0043ff,#0039ff,#002eff,#0023ff)"></i>
<i style="top:318px;height:3.6px;background:linear-gradient(90deg,#00fff0,#00fff1,#00fff3,#00fff5,#00fff7,#00fffa,#00fffc,#00ffff,#00fbff,#00f8ff,#00f4ff,#00f0ff,#00ecff,#00e8ff,#00e3ff,#00deff,#00d9ff,#00d3ff,#00ceff,#00c8ff,#00c1ff,#00bbff,#00b4ff,#00adff,#00a6ff,#009fff,#0097ff,#008fff,#0087ff,#007eff,#0076ff,#006dff,#0063ff,#005aff,#0050ff,#0046ff,#003cff,#0032ff,#0027ff,#001cff)"></i>
<i style="top:321px;height:3.6px;background:linear-gradient(90deg,#00fff5,#00fff7,#00fff8,#00fffa,#00fffd,#00ffff,#00fcff,#00f9ff,#00f6ff,#00f2ff,#00eeff,#00eaff,#00e6ff,#00e2ff,#00ddff,#00d8ff,#00d3ff,#00cdff,#00c7ff,#00c1ff,#00bbff,#00b5ff,#00aeff,#00a7ff,#009fff,#0098ff,#0090ff,#0088ff,#0080ff,#0077ff,#006fff,#0066ff,#005cff,#0053ff,#0049ff,#003fff,#0035ff,#002aff,#0020ff,#0015ff)"></i>
<i style="top:324px;height:3.6px;background:linear-gradient(90deg,#00fffb,#00fffc,#00fffe,#00feff,#00fcff,#00f9ff,#00f6ff,#00f3ff,#00f0ff,#00ecff,#00e8ff,#00e4ff,#00e0ff,#00dcff,#00d7ff,#00d2ff,#00ccff,#00c7ff,#00c1ff,#00bbff,#00b5ff,#00aeff,#00a7ff,#00a0ff,#0099ff,#0091ff,#0089ff,#0081ff,#0079ff,#0071ff,#0068ff,#005fff,#0055ff,#004cff,#0042ff,#0038ff,#002eff,#0023ff,#0018ff,#000dff)"></i>
<i style="top:327px;height:3.6px;background:linear-gradient(90deg,#00feff,#00fcff,#00faff,#00f8ff,#00f6ff,#00f3ff,#00f0ff,#00edff,#00eaff,#00e6ff,#00e2ff,#00deff,#00daff,#00d5ff,#00d0ff,#00cbff,#00c6ff,#00c0ff,#00baff,#00b4ff,#00aeff,#00a7ff,#00a0ff,#0099ff,#0092ff,#008aff,#0083ff,#007aff,#0072ff,#0069ff,#0061ff,#0058ff,#004eff,#0045ff,#003bff,#0031ff,#0026ff,#001cff,#0011ff,#0006ff)"></i>
<i style="top:330px;height:3.6px;background:linear-gradient(90deg,#00f8ff,#00f6ff,#00f4ff,#00f2ff,#00f0ff,#00edff,#00eaff,#00e7ff,#00e4ff,#00e0ff,#00dcff,#00d8ff,#00d4ff,#00cfff,#00caff,#00c5ff,#00bfff,#00baff,#00b4ff,#00aeff,#00a7ff,#00a1ff,#009aff,#0093ff,#008bff,#0083ff,#007cff,#0073ff,#006bff,#0062ff,#0059ff,#0050ff,#0047ff,#003dff,#0033ff,#0029ff,#001fff,#0014ff,#0009ff,#0000ff)"></i>
<i style="top:333px;height:3.6px;background:linear-gradient(90deg,#00f2ff,#00f1ff,#00efff,#00ecff,#00eaff,#00e7ff,#00e4ff,#00e1ff,#00deff,#00daff,#00d6ff,#00d2ff,#00cdff,#00c8ff,#00c3ff,#00beff,#00b9ff,#00b3ff,#00adff,#00a7ff,#00a0ff,#009aff,#0093ff,#008cff,#0084ff,#007cff,#0074ff,#006cff,#0064ff,#005bff,#0052ff,#0049ff,#003fff,#0036ff,#002cff,#0022ff,#0017ff,#000cff,#0001ff,#0000ff)"></i>
<i style="top:336px;height:3.6px;background:linear-gradient(90deg,#00ecff,#00ebff,#00e9ff,#00e6ff,#00e4ff,#00e1ff,#00deff,#00dbff,#00d7ff,#00d3ff,#00cfff,#00cbff,#00c7ff,#00c2ff,#00bdff,#00b8ff,#00b2ff,#00acff,#00a6ff,#00a0ff,#0099ff,#0093ff,#008cff,#0084ff,#007dff,#0075ff,#006dff,#0065ff,#005cff,#0054ff,#004bff,#0041ff,#0038ff,#002eff,#0024ff,#001aff,#000fff,#0005ff,#0000ff,#0000ff)"></i>
<i style="top:339px;height:3.6px;background:linear-gradient(90deg,#00e6ff,#00e4ff,#00e2ff,#00e0ff,#00ddff,#00dbff,#00d8ff,#00d4ff,#00d1ff,#00cdff,#00c9ff,#00c4ff,#00c0ff,#00bbff,#00b6ff,#00b1ff,#00abff,#00a5ff,#009fff,#0099ff,#0092ff,#008cff,#0085ff,#007dff,#0076ff,#006eff,#0066ff,#005dff,#0055ff,#004cff,#0043ff,#003aff,#0030ff,#0026ff,#001cff,#0012ff,#0007ff,#0000ff,#0000ff,#0000ff)"></i>
<i style="top:342px;height:3.6px;background:linear-gradient(90deg,#00e0ff,#00deff,#00dcff,#00daff,#00d7ff,#00d4ff,#00d1ff,#00ceff,#00caff,#00c6ff,#00c2ff,#00beff,#00b9ff,#00b4ff,#00afff,#00aaff,#00a4ff,#009eff,#0098ff,#0092ff,#008bff,#0084ff,#007dff,#0076ff,#006eff,#0066ff,#005eff,#0056ff,#004dff,#0044ff,#003bff,#0032ff,#0028ff,#001eff,#0014ff,#000aff,#0000ff,#0000ff,#0000ff,#0000ff)"></i>
<i style="top:345px;height:3.6px;background:linear-gradient(90deg,#00daff,#00d8ff,#00d6ff,#00d3ff,#00d1ff,#00ceff,#00caff,#00c7ff,#00c3ff,#00bfff,#00bbff,#00b7ff,#00b2ff,#00adff,#00a8ff,#00a3ff,#009dff,#0097ff,#0091ff,#008bff,#0084ff,#007dff,#0076ff,#006eff,#0067ff,#005fff,#0057ff,#004eff,#0046ff,#003dff,#0034ff,#002aff,#0020ff,#0017ff,#000cff,#0002ff,#0000ff,#0000ff,#0000ff,#0000ff)"></i>
<i style="top:348px;height:3.6px;background:linear-gradient(90deg,#00d3ff,#00d1ff,#00cfff,#00cdff,#00caff,#00c7ff,#00c4ff,#00c0ff,#00bdff,#00b9ff,#00b4ff,#00b0ff,#00abff,#00a6ff,#00a1ff,#009cff,#0096ff,#0090ff,#008aff,#0083ff,#007cff,#0076ff,#006eff,#0067ff,#005fff,#0057ff,#004fff,#0046ff,#003eff,#0035ff,#002cff,#0022ff,#0018ff,#000eff,#0004ff,#0000ff,#0000ff,#0000ff,#0000ff,#0000ff)"></i>
<i style="top:351px;height:3.6px;background:linear-gradient(90deg,#00cdff,#00cbff,#00c9ff,#00c6ff,#00c3ff,#00c0ff,#00bdff,#00b9ff,#00b6ff,#00b2ff,#00adff,#00a9ff,#00a4ff,#009fff,#009aff,#0094ff,#008eff,#0088ff,#0082ff,#007cff,#0075ff,#006eff,#0067ff,#005fff,#0057ff,#004fff,#0047ff,#003fff,#0036ff,#002dff,#0024ff,#001aff,#0010ff,#0006ff,#0000ff,#0000ff,#0000ff,#0000ff,#0000ff,#0000ff)"></i>
<i style="top:354px;height:3.6px;background:linear-gradient(90deg,#00c6ff,#00c4ff,#00c2ff,#00bfff,#00bcff,#00b9ff,#00b6ff,#00b2ff,#00afff,#00abff,#00a6ff,#00a2ff,#009dff,#0098ff,#0092ff,#008dff,#0087ff,#0081ff,#007bff,#0074ff,#006dff,#0066ff,#005fff,#0057ff,#004fff,#0047ff,#003fff,#0037ff,#002eff,#0025ff,#001bff,#0012ff,#0008ff,#0000ff,#0000ff,#0000ff,#0000ff,#0000ff,#0000ff,#0000ff)"></i>
<i style="top:357px;height:3.6px;background:linear-gradient(90deg,#00bfff,#00bdff,#00bbff,#00b8ff,#00b5ff,#00b2ff,#00afff,#00abff,#00a7ff,#00a3ff,#009fff,#009aff,#0095ff,#0090ff,#008bff,#0085ff,#007fff,#0079ff,#0073ff,#006cff,#0065ff,#005eff,#0057ff,#004fff,#0048ff,#003fff,#0037ff,#002eff,#0026ff,#001cff,#0013ff,#0009ff,#0000ff,#0000ff,#0000ff,#0000ff,#0000ff,#0000ff,#0000ff,#0000ff)"></i>
<i style="top:360px;height:3.6px;background:linear-gradient(90deg,#00b8ff,#00b6ff,#00b4ff,#00b1ff,#00aeff,#00abff,#00a8ff,#00a4ff,#00a0ff,#009cff,#0098ff,#0093ff,#008eff,#0089ff,#0083ff,#007eff,#0078ff,#0072ff,#006bff,#0064ff,#005eff,#0056ff,#004fff,#0047ff,#003fff,#0037ff,#002fff,#0026ff,#001dff,#0014ff,#000bff,#0001ff,#0000ff,#0000ff,#0000ff,#0000ff,#0000ff,#0000ff,#0000ff,#0000ff)"></i>
<i style="top:363px;height:3.6px;background:linear-gradient(90deg,#00b1ff,#00afff,#00adff,#00aaff,#00a7ff,#00a4ff,#00a0ff,#009dff,#0099ff,#0094ff,#0090ff,#008bff,#0086ff,#0081ff,#007cff,#0076ff,#0070ff,#006aff,#0063ff,#005dff,#0056ff,#004eff,#0047ff,#003fff,#0037ff,#002fff,#0026ff,#001eff,#0015ff,#000cff,#0002ff,#0000ff,#0000ff,#0000ff,#0000ff,#0000ff,#0000ff,#0000ff,#0000ff,#0000ff)"></i>
<i style="top:366px;height:3.6px;background:linear-gradient(90deg,#00aaff,#00a8ff,#00a6ff,#00a3ff,#00a0ff,#009cff,#0099ff,#0095ff,#0091ff,#008dff,#0088ff,#0084ff,#007fff,#0079ff,#0074ff,#006eff,#0068ff,#0062ff,#005bff,#0054ff,#004dff,#0046ff,#003fff,#0037ff,#002fff,#0027ff,#001eff,#0015ff,#000cff,#0003ff,#0000ff,#0000ff,#0000ff,#0000ff,#0000ff,#0000ff,#0000ff,#0000ff,#0000ff,#0000ff)"></i>
<i style="top:369px;height:3.6px;background:linear-gradient(90deg,#00a3ff,#00a1ff,#009eff,#009bff,#0098ff,#0095ff,#0091ff,#008eff,#0089ff,#0085ff,#0081ff,#007cff,#0077ff,#0071ff,#006cff,#0066ff,#0060ff,#005aff,#0053ff,#004cff,#0045ff,#003eff,#0036ff,#002eff,#0026ff,#001eff,#0015ff,#000dff,#0004ff,#0000ff,#0000ff,#0000ff,#0000ff,#0000ff,#0000ff,#0000ff,#0000ff,#0000ff,#0000ff,#0000ff)"></i>
<i style="top:372px;height:3.6px;background:linear-gradient(90deg,#009cff,#0099ff,#0097ff,#0094ff,#0091ff,#008dff,#008aff,#0086ff,#0082ff,#007dff,#0079ff,#0074ff,#006fff,#0069ff,#0064ff,#005eff,#0058ff,#0051ff,#004bff,#0044ff,#003dff,#0035ff,#002eff,#0026ff,#001eff,#0015ff,#000dff,#0004ff,#0000ff,#0000ff,#0000ff,#0000ff,#0000ff,#0000ff,#0000ff,#0000ff,#0000ff,#0000ff,#0000ff,#0000ff)"></i>
<i style="top:375px;height:3.6px;background:linear-gradient(90deg,#0094ff,#0092ff,#008fff,#008cff,#0089ff,#0086ff,#0082ff,#007eff,#007aff,#0075ff,#0071ff,#006cff,#0067ff,#0061ff,#005cff,#0056ff,#004fff,#0049ff,#0042ff,#003bff,#0034ff,#002dff,#0025ff,#001dff,#0015ff,#000dff,#0004ff,#0000ff,#0000ff,#0000ff,#0000ff,#0000ff,#0000ff,#0000ff,#0000ff,#0000ff,#0000ff,#0000ff,#0000ff,#0000ff)"></i>
<i style="top:378px;height:3.6px;background:linear-gradient(90deg,#008dff,#008aff,#0087ff,#0084ff,#0081ff,#007eff,#007aff,#0076ff,#0072ff,#006dff,#0069ff,#0064ff,#005eff,#0059ff,#0053ff,#004dff,#0047ff,#0041ff,#003aff,#0033ff,#002cff,#0024ff,#001cff,#0014ff,#000cff,#0004ff,#0000ff,#0000ff,#0000ff,#0000ff,#0000ff,#0000ff,#0000ff,#0000ff,#0000ff,#0000ff,#0000ff,#0000ff,#0000ff,#0000ff)"></i>
<i style="top:381px;height:3.1px;background:linear-gradient(90deg,#0086ff,#0083ff,#0080ff,#007dff,#007aff,#0076ff,#0073ff,#006fff,#006aff,#0066ff,#0061ff,#005cff,#0057ff,#0051ff,#004bff,#0045ff,#003fff,#0039ff,#0032ff,#002bff,#0024ff,#001cff,#0014ff,#000cff,#0004ff,#0000ff,#0000ff,#0000ff,#0000ff,#0000ff,#0000ff,#0000ff,#0000ff,#0000ff,#0000ff,#0000ff,#0000ff,#0000ff,#0000ff,#0000ff)"></i>
</div>
<svg width="1480" height="1764" viewBox="0 0 1480 1764" font-family="'Liberation Sans', sans-serif">
<defs><linearGradient id="lbar" x1="0" x2="1" y1="0" y2="0"><stop offset="0" stop-color="#0000ff"/><stop offset=".5" stop-color="#00ff00"/><stop offset="1" stop-color="#ff0000"/></linearGradient><radialGradient id="sphr" cx=".38" cy=".35" r=".7"><stop offset="0" stop-color="#d81818"/><stop offset=".6" stop-color="#c00000"/><stop offset="1" stop-color="#8a0000"/></radialGradient></defs>
<path d="M114.5 655.9L339.5 585.3L564.5 655.6M112.4 612.6L339.5 546.3L566.7 612.3M110.3 569.4L339.5 507.2L568.9 569M108.2 526.1L339.5 468.2L571.1 525.7M106.1 482.9L339.5 429.1L573.2 482.4M104 439.6L339.5 390.1L575.4 439.2M159.5 641.8L151.1 429.7M204.5 627.7L198.2 419.8M249.5 613.5L245.3 409.9M294.5 599.4L292.4 400M508.3 638L516.4 426.9M452 620.4L457.5 414.6M395.8 602.9L398.5 402.3M117.8 723.9L104 439.6M339.5 646.7L339.5 390.1M561.1 723.6L575.4 439.2" fill="none" stroke="#2a2a2a" stroke-width="1.5"/>
<polygon points="339.4,822.8 561.1,723.6 339.5,646.7 117.8,723.9" fill="#666666" stroke="#111" stroke-width="1.9" stroke-linejoin="round"/>
<path d="M254.8 676.2L256.9 677.5L258.8 678.6L260.1 679.4L262.2 680.7L263.2 681.4L265.3 682.7L267.1 683.9L268.4 684.7L270.4 686L271.4 686.7L273.5 688L274.8 688.9L276.5 690.1L278.5 691.4L279.5 692.1L281.5 693.5L282.4 694.1L284.4 695.5L285.4 696.2L287.3 697.6L288.2 698.3L290.1 699.7L291.1 700.5L292.8 701.9L293.7 702.6L295.5 704.1L296.4 704.8L298.1 706.3L298.9 707L300.4 708.4L301.3 709.3L302.2 710.2L303.6 711.7L304.3 712.5L305.1 713.5L306.2 715L306.7 715.9L307.2 716.8L307.7 717.7L308.1 719L308.3 720.1L308.3 721.2L308 722.2L307.6 723.1L306.3 724.7L305.3 725.5L302.9 726.7L300 727.7L296.5 728.5L294.6 728.8L291.9 729.2L288.2 729.6L285.9 729.7L283.5 729.8L281.1 729.9L278.5 730L275.5 730L272.7 730L269.9 730L267.2 729.9L264.5 729.8L261.8 729.8L259 729.6L256 729.5L253 729.3L249.9 729.2L246.8 729L244 728.8L241.6 728.6L239.1 728.4L236.7 728.2L234 728L230.8 727.8L227.5 727.5L224.7 727.2L222.3 727L220 726.8L217.5 726.5L214.1 726.2L210.7 725.9L208.3 725.6L205.9 725.4L203.6 725.1L200.3 724.8L196.9 724.4L194.4 724.1L192.1 723.8L189.8 723.6L186.4 723.2L183 722.7L180.7 722.5L178.4 722.2L175.7 721.9L172.1 721.4L169.4 721.1L167.1 720.8L164.9 720.5L161.4 720L158.1 719.6L155.9 719.3L153.6 719L150.5 718.6L146.9 718.1L144.7 717.8L142.5 717.5L139.5 717.1L138 716.9" fill="none" stroke="#36d6a8" stroke-width="3" stroke-linecap="round"/>
<path d="M413.3 789.7L410.2 788.7L408.6 788.2L405.6 787.2L402.4 786.2L399.3 785.3L397.2 784.6L394.5 783.8L391.3 782.9L388 781.9L386.4 781.5L383.1 780.5L379.8 779.6L378.2 779.2L374.8 778.3L371.5 777.4L369.8 776.9L366.4 776L363 775.1L361.3 774.7L357.9 773.8L355.6 773.2L352.7 772.5L349.2 771.7L347.5 771.2L344 770.4L342.2 770L338.6 769.2L335.9 768.5L333.3 767.9L329.8 767.1L327.9 766.7L324.3 765.9L322.5 765.5L318.8 764.7L317 764.3L313.3 763.5L311.5 763.1L307.8 762.3L305.9 761.9L302.2 761.1L300.3 760.7L296.6 759.9L294.7 759.6L290.9 758.8L289.1 758.4L285.8 757.7L283.4 757.3L280.7 756.7L277.7 756.1L275.6 755.7L271.9 755L270 754.6L266.1 753.8L264.2 753.5L260.8 752.8L258.4 752.3L255.9 751.9L252.6 751.2L250.6 750.8L246.7 750.1L244.8 749.7L241.6 749.1L238.9 748.6L236.9 748.2L233 747.5L231 747.1L227.6 746.5L225.1 746L223 745.6L219.1 744.9L217.1 744.5L213.9 743.9L211.2 743.4L209.2 743L205.2 742.3L203.2 741.9L200.3 741.4L197.2 740.8L195.2 740.4L191.4 739.7L189.1 739.3L186.9 738.9L183.1 738.2L181.1 737.8L178.1 737.3L175 736.7L173 736.3L169.3 735.6L166.9 735.2L164.9 734.8L160.8 734.1L158.8 733.7L156.2 733.2L152.7 732.6L150.7 732.2L147.6 731.6L144.5 731L142.5 730.7L138.9 730L136.4 729.5L134.3 729.1L130.4 728.4L128.2 728L126.1 727.6" fill="none" stroke="#36d64e" stroke-width="3" stroke-linecap="round"/>
<path d="M279 667.8L281.5 668.9L282.9 669.6L285.2 670.6L287.6 671.8L290.1 672.9L292.6 674.1L294.2 674.8L296.3 675.8L298.8 676.9L301.3 678.1L303.7 679.2L306.2 680.3L307.5 680.9L310 682L312.5 683.2L315 684.3L317.5 685.4L319.8 686.5L321.3 687.1L323.9 688.3L326.4 689.4L328.9 690.5L331.5 691.7L334 692.8L335.5 693.4L337.9 694.5L340.5 695.6L343.1 696.7L345.6 697.8L348.2 698.9L350.9 700L353.5 701.1L356.1 702.2L357.4 702.8L360 703.9L362.7 705L365.4 706.1L368 707.1L370.7 708.2L373.4 709.3L376.1 710.4L378.8 711.4L381.5 712.5L384.3 713.6L387 714.6L389.8 715.7L392.6 716.7L395.3 717.8L398.2 718.8L401 719.8L403.8 720.8L406.7 721.8L409.5 722.9L412.4 723.9L415.3 724.8L418.2 725.8L421.2 726.8L422.6 727.3L425.6 728.3L428.6 729.2L431.6 730.2L434.6 731.1L437.6 732L439.5 732.6L442.2 733.4L445.3 734.3L448.4 735.2L451.6 736.1L453.1 736.5L456.3 737.4L459.5 738.3L462.7 739.1L464.3 739.6L467.5 740.4L470.8 741.2L472.5 741.6L475.7 742.4L479 743.2L481 743.7L484 744.4L487.4 745.2L489.1 745.6L492.5 746.3L495.9 747.1L497.6 747.5L501.1 748.2L503.2 748.6L504.6 748.9" fill="none" stroke="#36d64e" stroke-width="3" stroke-linecap="round"/>
<path d="M384.8 802.5L381.7 801.5L378.5 800.5L376.3 799.8L373.7 799L370.5 798L367.3 797L365.7 796.5L362.4 795.5L359.2 794.6L356.9 793.9L354.2 793.1L351 792.2L348.1 791.3L346 790.7L342.7 789.8L339.8 789L337.7 788.4L334.3 787.4L331.8 786.7L329.3 786L325.9 785.1L324.2 784.6L320.8 783.7L317.3 782.8L315.6 782.3L312.2 781.4L309.8 780.8L307 780.1L303.5 779.2L301.8 778.7L298.3 777.8L296.1 777.3L293.1 776.5L289.6 775.6L287.8 775.1L284.2 774.3L282.5 773.8L278.9 772.9L276.9 772.4L273.6 771.6L270.8 770.9L268.2 770.3L264.8 769.5L262.8 769L259.2 768.1L257.3 767.7L253.7 766.8L251.9 766.4L248.2 765.5L246.4 765.1L242.7 764.2L240.9 763.8L237.2 763L235.4 762.5L231.7 761.7L229.8 761.3L226.1 760.4L224.3 760L220.5 759.1L218.7 758.7L214.9 757.9L213.1 757.4L209.3 756.6L207.4 756.2L203.7 755.3L201.8 754.9L198.5 754.2L196.1 753.6L193.3 753L190.4 752.4L188.2 751.9L184.7 751.1L182.8 750.7L179 749.9L177.1 749.4L173.2 748.6L173.1 748.6" fill="none" stroke="#77d636" stroke-width="3" stroke-linecap="round"/>
<path d="M297.6 661.3L300.2 662.4L302.8 663.4L305.4 664.5L308.1 665.6L310.7 666.6L313.3 667.7L316 668.8L317.3 669.3L319.9 670.3L322.6 671.4L325.2 672.5L327.9 673.5L330.6 674.6L333.3 675.6L335.9 676.6L338.6 677.7L341.3 678.7L344.1 679.8L346.8 680.8L349.5 681.8L352.2 682.9L355 683.9L357.7 684.9L360.5 685.9L363.2 687L366 688L368.8 689L371.5 690L374.3 691L377.1 692L379.9 693L382.8 694L385.6 695L388.4 696L391.3 697L394.1 698L397 698.9L399.9 699.9L402.8 700.9L405.7 701.8L408.6 702.8L411.5 703.7L413 704.2L415.9 705.2L418.8 706.1L421.8 707.1L424.8 708L427.7 708.9L430.7 709.9L432.7 710.4L435.2 711.2L438.3 712.1L441.3 713L444.3 713.9L447.4 714.8L448.9 715.3L452 716.2L455.1 717L458.2 717.9L461.3 718.8L462.9 719.2L466 720.1L469.1 720.9L472.3 721.8L473.9 722.2L477.1 723L480.2 723.8L483.5 724.7L485.1 725.1L488.3 725.9L491.5 726.7L493.7 727.2L496.4 727.9L499.7 728.7L502.8 729.4L504.6 729.8L507.9 730.6L511.2 731.4L512.9 731.7L516.2 732.5L519.5 733.2L521.2 733.6L524.6 734.3L527.3 734.9L529.7 735.4L533.1 736.1" fill="none" stroke="#77d636" stroke-width="3" stroke-linecap="round"/>
<path d="M364.6 811.5L362.7 810.9L359.8 810L356.6 809L353.4 808L351.8 807.5L348.5 806.5L345.3 805.5L343 804.8L340.4 804L337.1 803L333.9 802L332.2 801.5L328.9 800.5L325.6 799.5L324 799.1L320.7 798.1L317.3 797.1L315.7 796.6L312.3 795.6L309 794.7L307.3 794.2L303.9 793.2L301.1 792.4L298.8 791.8L295.4 790.8L293.5 790.3L290.3 789.4L286.9 788.5L285.2 788L281.8 787.1L279.1 786.3L276.6 785.6L273.1 784.7L271.4 784.2L267.9 783.3L265.3 782.6L262.7 781.9L259.2 781L257.4 780.5L253.9 779.6L252.1 779.1L248.6 778.2L245.6 777.4L243.3 776.8L239.8 775.9L238 775.4L234.4 774.5L232.7 774.1L229.1 773.2L227 772.6" fill="none" stroke="#d1d636" stroke-width="3" stroke-linecap="round"/>
<path d="M313.2 655.8L315.9 656.9L317.3 657.4L320 658.4L322.7 659.4L325.4 660.4L328.2 661.4L330.9 662.4L333.6 663.4L336.4 664.4L339.1 665.4L341.9 666.4L344.6 667.4L347.4 668.4L350.2 669.4L352.9 670.4L355.7 671.4L358.5 672.4L361.3 673.4L364.1 674.4L366.9 675.3L369.8 676.3L372.6 677.3L375.4 678.3L378.3 679.2L379.7 679.7L382.5 680.7L385.4 681.6L388.3 682.6L391.1 683.5L394 684.5L396.9 685.4L399.8 686.4L402.7 687.3L405.6 688.3L408.6 689.2L411.5 690.1L413 690.6L415.9 691.5L418.9 692.4L421.8 693.3L424.8 694.2L427.8 695.2L430.8 696.1L432.5 696.6L435.3 697.4L438.3 698.3L441.3 699.2L444.3 700.1L447.4 700.9L448.9 701.4L452 702.3L455 703.1L458.1 704L461.2 704.8L463 705.4L465.8 706.1L468.9 707L472 707.8L475.2 708.7L476.7 709.1L479.9 709.9L483 710.7L486.2 711.5L487.8 711.9L491 712.8L494.2 713.6L497.4 714.4L499 714.8L502.2 715.5L505.4 716.3L507.5 716.8L510.3 717.5L513.5 718.3L516.8 719L518.4 719.4L521.7 720.2L525 720.9L526.6 721.3L529.9 722L533.2 722.8L534.9 723.2L538.2 723.9L541.5 724.6L543.2 725L546.6 725.7L549.9 726.4L551.6 726.7L553.3 727.1" fill="none" stroke="#d1d636" stroke-width="3" stroke-linecap="round"/>
<path d="M348 819L346.1 818.4L343.2 817.4L339.9 816.4L336.7 815.4L335.1 814.9L331.9 813.8L328.6 812.8L326.6 812.2L323.7 811.3L320.5 810.3L317.6 809.4L315.5 808.8L312.3 807.8L309 806.8L307.3 806.3L304 805.3L300.7 804.3L299 803.8L295.7 802.8L292.3 801.8L292.3 801.8" fill="none" stroke="#d68236" stroke-width="3" stroke-linecap="round"/>
<path d="M327 651L328.4 651.5L331.2 652.5L333.9 653.5L336.7 654.5L338.8 655.2L340.9 655.9L343.7 656.9L346.5 657.9L349.3 658.8L352.1 659.8L354.9 660.8L357.7 661.7L360.5 662.7L363.4 663.6L366.2 664.6L369 665.5L371.9 666.5L374.7 667.4L377.6 668.4L380.5 669.3L383.3 670.2L386.2 671.2L389.1 672.1L392 673L394.9 674L396.3 674.4L399.3 675.3L402.2 676.3L405.1 677.2L408 678.1L411 679L413.9 679.9L416.9 680.8L419.6 681.6L421.3 682.2L424.3 683L427.3 683.9L430.3 684.8L433.3 685.7L436.3 686.6L438.6 687.3L440.8 687.9L443.8 688.8L446.8 689.6L449.9 690.5L452.9 691.4L454.5 691.8L457.5 692.6L460.6 693.5L463.6 694.3L466.7 695.2L468.5 695.7L471.4 696.4L474.5 697.3L477.6 698.1L480.7 698.9L482.3 699.3L485.4 700.1L488.5 700.9L491.7 701.7L493.3 702.2L496.4 703L499.6 703.7L502.8 704.5L504.4 704.9L507.6 705.7L510.8 706.5L514 707.3L514.1 707.3" fill="none" stroke="#d68236" stroke-width="3" stroke-linecap="round"/>
<polygon points="339.4,822.8 561.1,723.6 339.5,646.7 117.8,723.9" fill="none" stroke="#111" stroke-width="1.9" stroke-linejoin="round"/>
<circle cx="339.4" cy="822.8" r="2.5" fill="#000"/><circle cx="383.7" cy="803" r="2.5" fill="#000"/><circle cx="428.1" cy="783.1" r="2.5" fill="#000"/><circle cx="472.4" cy="763.3" r="2.5" fill="#000"/><circle cx="516.8" cy="743.4" r="2.5" fill="#000"/><circle cx="561.1" cy="723.6" r="2.5" fill="#000"/><circle cx="339.4" cy="822.8" r="2.5" fill="#000"/><circle cx="284" cy="798.1" r="2.5" fill="#000"/><circle cx="228.6" cy="773.3" r="2.5" fill="#000"/><circle cx="173.2" cy="748.6" r="2.5" fill="#000"/><circle cx="117.8" cy="723.9" r="2.5" fill="#000"/><circle cx="114.5" cy="655.9" r="2.5" fill="#000"/><circle cx="112.4" cy="612.6" r="2.5" fill="#000"/><circle cx="110.3" cy="569.4" r="2.5" fill="#000"/><circle cx="108.2" cy="526.1" r="2.5" fill="#000"/><circle cx="106.1" cy="482.9" r="2.5" fill="#000"/><circle cx="104" cy="439.6" r="2.5" fill="#000"/>
<g stroke="#161616" stroke-width="1.05" stroke-linejoin="round"><polygon points="339.5,445 349.9,426.6 339.5,424 329.1,442.5" fill="#ff9883"/><polygon points="329,462.2 339.5,445 329.1,442.5 318.7,459.8" fill="#ffd384"/><polygon points="318.5,478.1 329,462.2 318.7,459.8 308.1,475.9" fill="#f5ff84"/><polygon points="350,447.7 360.4,429.4 349.9,426.6 339.5,445" fill="#ff9a84"/><polygon points="339.5,464.7 350,447.7 339.5,445 329,462.2" fill="#ffd485"/><polygon points="307.9,492.9 318.5,478.1 308.1,475.9 297.6,490.8" fill="#c4ff83"/><polygon points="328.9,480.5 339.5,464.7 329,462.2 318.5,478.1" fill="#f6ff85"/><polygon points="360.6,450.5 371.1,432.4 360.4,429.4 350,447.7" fill="#ff9c85"/><polygon points="297.2,506.5 307.9,492.9 297.6,490.8 286.9,504.5" fill="#96ff81"/><polygon points="350.1,467.4 360.6,450.5 350,447.7 339.5,464.7" fill="#ffd485"/><polygon points="318.3,495.1 328.9,480.5 318.5,478.1 307.9,492.9" fill="#c6ff84"/><polygon points="286.4,518.8 297.2,506.5 286.9,504.5 276.1,517" fill="#7dff91"/><polygon points="371.4,453.5 381.9,435.5 371.1,432.4 360.6,450.5" fill="#ff9e86"/><polygon points="339.5,483.1 350.1,467.4 339.5,464.7 328.9,480.5" fill="#f7ff85"/><polygon points="307.5,508.5 318.3,495.1 307.9,492.9 297.2,506.5" fill="#99ff82"/><polygon points="275.5,529.9 286.4,518.8 276.1,517 265.3,528.3" fill="#77ffb1"/><polygon points="360.8,470.2 371.4,453.5 360.6,450.5 350.1,467.4" fill="#ffd586"/><polygon points="328.8,497.5 339.5,483.1 328.9,480.5 318.3,495.1" fill="#c8ff85"/><polygon points="296.7,520.7 307.5,508.5 297.2,506.5 286.4,518.8" fill="#7eff8d"/><polygon points="382.2,456.6 392.8,438.7 381.9,435.5 371.4,453.5" fill="#ffa187"/><polygon points="350.2,485.8 360.8,470.2 350.1,467.4 339.5,483.1" fill="#f7ff86"/><polygon points="318.1,510.8 328.8,497.5 318.3,495.1 307.5,508.5" fill="#9cff82"/><polygon points="264.5,539.9 275.5,529.9 265.3,528.3 254.3,538.4" fill="#6effce"/><polygon points="371.6,473.2 382.2,456.6 371.4,453.5 360.8,470.2" fill="#ffd787"/><polygon points="285.8,531.7 296.7,520.7 286.4,518.8 275.5,529.9" fill="#77ffac"/><polygon points="339.5,500.1 350.2,485.8 339.5,483.1 328.8,497.5" fill="#c9ff85"/><polygon points="307.2,522.8 318.1,510.8 307.5,508.5 296.7,520.7" fill="#7eff8a"/><polygon points="393.2,459.9 403.8,442.2 392.8,438.7 382.2,456.6" fill="#ffa487"/><polygon points="253.4,548.5 264.5,539.9 254.3,538.4 243.2,547.3" fill="#61ffe8"/><polygon points="361,488.6 371.6,473.2 360.8,470.2 350.2,485.8" fill="#f7ff87"/><polygon points="328.7,513.2 339.5,500.1 328.8,497.5 318.1,510.8" fill="#9fff83"/><polygon points="274.8,541.4 285.8,531.7 275.5,529.9 264.5,539.9" fill="#6effc7"/><polygon points="382.6,476.3 393.2,459.9 382.2,456.6 371.6,473.2" fill="#ffd988"/><polygon points="296.3,533.6 307.2,522.8 296.7,520.7 285.8,531.7" fill="#77ffa7"/><polygon points="350.3,502.8 361,488.6 350.2,485.8 339.5,500.1" fill="#caff86"/><polygon points="242.1,556 253.4,548.5 243.2,547.3 232,554.9" fill="#4ffeff"/><polygon points="317.8,525 328.7,513.2 318.1,510.8 307.2,522.8" fill="#7eff87"/><polygon points="404.3,463.3 414.9,445.7 403.8,442.2 393.2,459.9" fill="#ffa788"/><polygon points="371.9,491.6 382.6,476.3 371.6,473.2 361,488.6" fill="#f6ff88"/><polygon points="263.7,549.9 274.8,541.4 264.5,539.9 253.4,548.5" fill="#60ffdf"/><polygon points="339.5,515.7 350.3,502.8 339.5,500.1 328.7,513.2" fill="#a1ff83"/><polygon points="285.2,543.2 296.3,533.6 285.8,531.7 274.8,541.4" fill="#6dffc0"/><polygon points="393.7,479.7 404.3,463.3 393.2,459.9 382.6,476.3" fill="#ffdb89"/><polygon points="361.2,505.6 371.9,491.6 361,488.6 350.3,502.8" fill="#cbff87"/><polygon points="306.9,535.6 317.8,525 307.2,522.8 296.3,533.6" fill="#77ffa3"/><polygon points="230.7,562.2 242.1,556 232,554.9 220.6,561.3" fill="#38e7ff"/><polygon points="415.6,466.9 426.2,449.5 414.9,445.7 404.3,463.3" fill="#ffab89"/><polygon points="252.4,557.2 263.7,549.9 253.4,548.5 242.1,556" fill="#4dfff6"/><polygon points="328.6,527.4 339.5,515.7 328.7,513.2 317.8,525" fill="#7fff85"/><polygon points="383,494.8 393.7,479.7 382.6,476.3 371.9,491.6" fill="#f5ff89"/><polygon points="274.1,551.5 285.2,543.2 274.8,541.4 263.7,549.9" fill="#5fffd7"/><polygon points="350.4,518.4 361.2,505.6 350.3,502.8 339.5,515.7" fill="#a2ff84"/><polygon points="295.8,545 306.9,535.6 296.3,533.6 285.2,543.2" fill="#6cffbb"/><polygon points="404.9,483.1 415.6,466.9 404.3,463.3 393.7,479.7" fill="#ffde89"/><polygon points="372.2,508.6 383,494.8 371.9,491.6 361.2,505.6" fill="#caff87"/><polygon points="317.6,537.8 328.6,527.4 317.8,525 306.9,535.6" fill="#77ff9f"/><polygon points="219.2,567.1 230.7,562.2 220.6,561.3 209.1,566.5" fill="#22d4ff"/><polygon points="241,563.2 252.4,557.2 242.1,556 230.7,562.2" fill="#35f4ff"/><polygon points="426.9,470.7 437.6,453.4 426.2,449.5 415.6,466.9" fill="#ffb08a"/><polygon points="339.5,529.9 350.4,518.4 339.5,515.7 328.6,527.4" fill="#7fff83"/><polygon points="262.8,558.6 274.1,551.5 263.7,549.9 252.4,557.2" fill="#4bffeb"/><polygon points="394.2,498.1 404.9,483.1 393.7,479.7 383,494.8" fill="#f3ff89"/><polygon points="284.6,553.2 295.8,545 285.2,543.2 274.1,551.5" fill="#5dffcf"/><polygon points="361.4,521.2 372.2,508.6 361.2,505.6 350.4,518.4" fill="#a3ff84"/><polygon points="416.2,486.8 426.9,470.7 415.6,466.9 404.9,483.1" fill="#ffe18a"/><polygon points="306.5,547 317.6,537.8 306.9,535.6 295.8,545" fill="#6cffb5"/><polygon points="383.4,511.8 394.2,498.1 383,494.8 372.2,508.6" fill="#caff88"/><polygon points="207.4,570.8 219.2,567.1 209.1,566.5 197.4,570.3" fill="#13c9ff"/><polygon points="328.5,540.2 339.5,529.9 328.6,527.4 317.6,537.8" fill="#77ff9b"/><polygon points="229.4,567.9 241,563.2 230.7,562.2 219.2,567.1" fill="#20e5ff"/><polygon points="438.4,474.7 449.1,457.5 437.6,453.4 426.9,470.7" fill="#ffb48b"/><polygon points="251.3,564.3 262.8,558.6 252.4,557.2 241,563.2" fill="#32fffd"/><polygon points="350.5,532.6 361.4,521.2 350.4,518.4 339.5,529.9" fill="#7fff81"/><polygon points="405.5,501.6 416.2,486.8 404.9,483.1 394.2,498.1" fill="#f1ff8a"/><polygon points="273.3,560 284.6,553.2 274.1,551.5 262.8,558.6" fill="#49ffe1"/><polygon points="295.3,555 306.5,547 295.8,545 284.6,553.2" fill="#5cffc8"/><polygon points="372.6,524.2 383.4,511.8 372.2,508.6 361.4,521.2" fill="#a3ff84"/><polygon points="427.7,490.6 438.4,474.7 426.9,470.7 416.2,486.8" fill="#ffe48b"/><polygon points="317.4,549.2 328.5,540.2 317.6,537.8 306.5,547" fill="#6bffb0"/><polygon points="394.7,515.1 405.5,501.6 394.2,498.1 383.4,511.8" fill="#c9ff88"/><polygon points="195.5,573.1 207.4,570.8 197.4,570.3 185.5,572.9" fill="#04c8ff"/><polygon points="339.5,542.7 350.5,532.6 339.5,529.9 328.5,540.2" fill="#76ff98"/><polygon points="217.6,571.4 229.4,567.9 219.2,567.1 207.4,570.8" fill="#12ddff"/><polygon points="450,478.8 460.7,461.8 449.1,457.5 438.4,474.7" fill="#ffb98b"/><polygon points="239.7,568.9 251.3,564.3 241,563.2 229.4,567.9" fill="#1ef5ff"/><polygon points="417,505.2 427.7,490.6 416.2,486.8 405.5,501.6" fill="#efff8a"/><polygon points="261.8,565.6 273.3,560 262.8,558.6 251.3,564.3" fill="#2ffff0"/><polygon points="361.6,535.4 372.6,524.2 361.4,521.2 350.5,532.6" fill="#7fff80"/><polygon points="284,561.7 295.3,555 284.6,553.2 273.3,560" fill="#47ffd8"/><polygon points="383.8,527.4 394.7,515.1 383.4,511.8 372.6,524.2" fill="#a3ff85"/><polygon points="306.1,557 317.4,549.2 306.5,547 295.3,555" fill="#5affc1"/><polygon points="439.3,494.5 450,478.8 438.4,474.7 427.7,490.6" fill="#ffe88c"/><polygon points="328.3,551.5 339.5,542.7 328.5,540.2 317.4,549.2" fill="#6affab"/><polygon points="406.2,518.6 417,505.2 405.5,501.6 394.7,515.1" fill="#c8ff88"/><polygon points="183.4,574.2 195.5,573.1 185.5,572.9 173.4,574.2" fill="#00ccf6"/><polygon points="350.6,545.3 361.6,535.4 350.5,532.6 339.5,542.7" fill="#76ff96"/><polygon points="461.8,483.1 472.5,466.2 460.7,461.8 450,478.8" fill="#ffbf8c"/><polygon points="205.7,573.5 217.6,571.4 207.4,570.8 195.5,573.1" fill="#02deff"/><polygon points="228,572.1 239.7,568.9 229.4,567.9 217.6,571.4" fill="#10f0ff"/><polygon points="250.2,569.9 261.8,565.6 251.3,564.3 239.7,568.9" fill="#1dfffa"/><polygon points="428.6,509 439.3,494.5 427.7,490.6 417,505.2" fill="#ecff8b"/><polygon points="372.9,538.4 383.8,527.4 372.6,524.2 361.6,535.4" fill="#7eff7f"/><polygon points="272.5,567.1 284,561.7 273.3,560 261.8,565.6" fill="#2cffe4"/><polygon points="294.8,563.4 306.1,557 295.3,555 284,561.7" fill="#44ffcf"/><polygon points="395.3,530.7 406.2,518.6 394.7,515.1 383.8,527.4" fill="#a2ff85"/><polygon points="451.1,498.7 461.8,483.1 450,478.8 439.3,494.5" fill="#ffec8c"/><polygon points="317.1,559.1 328.3,551.5 317.4,549.2 306.1,557" fill="#58ffbb"/><polygon points="339.5,554 350.6,545.3 339.5,542.7 328.3,551.5" fill="#68ffa7"/><polygon points="417.7,522.3 428.6,509 417,505.2 406.2,518.6" fill="#c6ff89"/><polygon points="473.7,487.6 484.4,470.8 472.5,466.2 461.8,483.1" fill="#ffc58d"/><polygon points="361.9,548.2 372.9,538.4 361.6,535.4 350.6,545.3" fill="#75ff93"/><polygon points="171.1,573.8 183.4,574.2 173.4,574.2 161.1,574.1" fill="#007985"/><polygon points="193.6,574.3 205.7,573.5 195.5,573.1 183.4,574.2" fill="#00e3f5"/><polygon points="216,574 228,572.1 217.6,571.4 205.7,573.5" fill="#00f4ff"/><polygon points="440.3,513 451.1,498.7 439.3,494.5 428.6,509" fill="#e9ff8b"/><polygon points="238.4,572.9 250.2,569.9 239.7,568.9 228,572.1" fill="#0efffc"/><polygon points="384.3,541.6 395.3,530.7 383.8,527.4 372.9,538.4" fill="#7eff7f"/><polygon points="260.9,571.1 272.5,567.1 261.8,565.6 250.2,569.9" fill="#1bffeb"/><polygon points="283.3,568.6 294.8,563.4 284,561.7 272.5,567.1" fill="#28ffd8"/><polygon points="305.7,565.4 317.1,559.1 306.1,557 294.8,563.4" fill="#41ffc6"/><polygon points="406.8,534.2 417.7,522.3 406.2,518.6 395.3,530.7" fill="#a1ff85"/><polygon points="462.9,503 473.7,487.6 461.8,483.1 451.1,498.7" fill="#fff18d"/><polygon points="328.2,561.4 339.5,554 328.3,551.5 317.1,559.1" fill="#56ffb4"/><polygon points="429.5,526.1 440.3,513 428.6,509 417.7,522.3" fill="#c3ff89"/><polygon points="350.7,556.6 361.9,548.2 350.6,545.3 339.5,554" fill="#67ffa3"/><polygon points="485.7,492.2 496.4,475.6 484.4,470.8 473.7,487.6" fill="#ffcb8d"/><polygon points="373.3,551.1 384.3,541.6 372.9,538.4 361.9,548.2" fill="#74ff92"/><polygon points="452.2,517.2 462.9,503 451.1,498.7 440.3,513" fill="#e5ff8c"/><polygon points="203.9,574.5 216,574 205.7,573.5 193.6,574.3" fill="#00f3ee"/><polygon points="181.2,573.7 193.6,574.3 183.4,574.2 171.1,573.8" fill="#008582"/><polygon points="226.5,574.6 238.4,572.9 228,572.1 216,574" fill="#00fef3"/><polygon points="395.9,544.9 406.8,534.2 395.3,530.7 384.3,541.6" fill="#7eff7f"/><polygon points="158.6,572.1 171.1,573.8 161.1,574.1 148.6,572.7" fill="#00857f"/><polygon points="249.1,573.9 260.9,571.1 250.2,569.9 238.4,572.9" fill="#0cffeb"/><polygon points="271.6,572.5 283.3,568.6 272.5,567.1 260.9,571.1" fill="#19ffdd"/><polygon points="294.2,570.3 305.7,565.4 294.8,563.4 283.3,568.6" fill="#26ffcc"/><polygon points="475,507.5 485.7,492.2 473.7,487.6 462.9,503" fill="#fff68d"/><polygon points="418.5,537.9 429.5,526.1 417.7,522.3 406.8,534.2" fill="#a0ff85"/><polygon points="316.8,567.4 328.2,561.4 317.1,559.1 305.7,565.4" fill="#3effbe"/><polygon points="339.4,563.8 350.7,556.6 339.5,554 328.2,561.4" fill="#54ffaf"/><polygon points="441.3,530.1 452.2,517.2 440.3,513 429.5,526.1" fill="#c0ff89"/><polygon points="362.1,559.4 373.3,551.1 361.9,548.2 350.7,556.6" fill="#65ffa0"/><polygon points="497.9,497 508.6,480.6 496.4,475.6 485.7,492.2" fill="#ffd18e"/><polygon points="384.8,554.3 395.9,544.9 384.3,541.6 373.3,551.1" fill="#73ff90"/><polygon points="464.2,521.5 475,507.5 462.9,503 452.2,517.2" fill="#e1ff8c"/><polygon points="407.6,548.4 418.5,537.9 406.8,534.2 395.9,544.9" fill="#7dff7f"/><polygon points="214.3,574.9 226.5,574.6 216,574 203.9,574.5" fill="#00f1d7"/><polygon points="237.1,575.3 249.1,573.9 238.4,572.9 226.5,574.6" fill="#00fcde"/><polygon points="191.5,573.7 203.9,574.5 193.6,574.3 181.2,573.7" fill="#008574"/><polygon points="259.8,575 271.6,572.5 260.9,571.1 249.1,573.9" fill="#09ffda"/><polygon points="168.7,571.7 181.2,573.7 171.1,573.8 158.6,572.1" fill="#008570"/><polygon points="282.6,574 294.2,570.3 283.3,568.6 271.6,572.5" fill="#17ffd0"/><polygon points="487.1,512.2 497.9,497 485.7,492.2 475,507.5" fill="#fffb8e"/><polygon points="145.8,569 158.6,572.1 148.6,572.7 135.9,569.8" fill="#008568"/><polygon points="305.3,572.2 316.8,567.4 305.7,565.4 294.2,570.3" fill="#24ffc2"/><polygon points="430.4,541.7 441.3,530.1 429.5,526.1 418.5,537.9" fill="#9dff84"/><polygon points="328.1,569.7 339.4,563.8 328.2,561.4 316.8,567.4" fill="#3bffb6"/><polygon points="350.8,566.4 362.1,559.4 350.7,556.6 339.4,563.8" fill="#52ffaa"/><polygon points="453.3,534.3 464.2,521.5 452.2,517.2 441.3,530.1" fill="#bdff89"/><polygon points="510.2,502.1 520.9,485.8 508.6,480.6 497.9,497" fill="#ffd88e"/><polygon points="373.6,562.4 384.8,554.3 373.3,551.1 362.1,559.4" fill="#64ff9d"/><polygon points="396.5,557.6 407.6,548.4 395.9,544.9 384.8,554.3" fill="#72ff8f"/><polygon points="476.3,526.1 487.1,512.2 475,507.5 464.2,521.5" fill="#ddff8c"/><polygon points="419.4,552 430.4,541.7 418.5,537.9 407.6,548.4" fill="#7cff7f"/><polygon points="499.4,517.1 510.2,502.1 497.9,497 487.1,512.2" fill="#fdff8e"/><polygon points="247.8,576.2 259.8,575 249.1,573.9 237.1,575.3" fill="#00fac9"/><polygon points="224.9,575.4 237.1,575.3 226.5,574.6 214.3,574.9" fill="#00f0c0"/><polygon points="270.7,576.3 282.6,574 271.6,572.5 259.8,575" fill="#07ffca"/><polygon points="201.9,573.8 214.3,574.9 203.9,574.5 191.5,573.7" fill="#008567"/><polygon points="293.6,575.6 305.3,572.2 294.2,570.3 282.6,574" fill="#15ffc3"/><polygon points="442.4,545.7 453.3,534.3 441.3,530.1 430.4,541.7" fill="#9aff84"/><polygon points="178.9,571.4 191.5,573.7 181.2,573.7 168.7,571.7" fill="#008561"/><polygon points="316.5,574.2 328.1,569.7 316.8,567.4 305.3,572.2" fill="#22ffb8"/><polygon points="155.9,568.3 168.7,571.7 158.6,572.1 145.8,569" fill="#008558"/><polygon points="339.4,572.1 350.8,566.4 339.4,563.8 328.1,569.7" fill="#38ffae"/><polygon points="522.6,507.3 533.4,491.1 520.9,485.8 510.2,502.1" fill="#ffdf8f"/><polygon points="132.8,564.5 145.8,569 135.9,569.8 122.8,565.6" fill="#00854d"/><polygon points="465.4,538.6 476.3,526.1 464.2,521.5 453.3,534.3" fill="#b9ff89"/><polygon points="362.4,569.2 373.6,562.4 362.1,559.4 350.8,566.4" fill="#4fffa5"/><polygon points="385.3,565.5 396.5,557.6 384.8,554.3 373.6,562.4" fill="#62ff9a"/><polygon points="488.6,530.8 499.4,517.1 487.1,512.2 476.3,526.1" fill="#d8ff8d"/><polygon points="408.3,561.1 419.4,552 407.6,548.4 396.5,557.6" fill="#71ff8e"/><polygon points="431.4,555.9 442.4,545.7 430.4,541.7 419.4,552" fill="#7cff80"/><polygon points="511.8,522.1 522.6,507.3 510.2,502.1 499.4,517.1" fill="#f7ff8e"/><polygon points="454.5,549.9 465.4,538.6 453.3,534.3 442.4,545.7" fill="#97ff84"/><polygon points="258.7,577.2 270.7,576.3 259.8,575 247.8,576.2" fill="#00f9b6"/><polygon points="281.8,577.7 293.6,575.6 282.6,574 270.7,576.3" fill="#05ffba"/><polygon points="235.6,576 247.8,576.2 237.1,575.3 224.9,575.4" fill="#00eeab"/><polygon points="304.9,577.4 316.5,574.2 305.3,572.2 293.6,575.6" fill="#13ffb7"/><polygon points="212.5,574 224.9,575.4 214.3,574.9 201.9,573.8" fill="#00855b"/><polygon points="327.9,576.4 339.4,572.1 328.1,569.7 316.5,574.2" fill="#20ffaf"/><polygon points="535.2,512.7 545.9,496.7 533.4,491.1 522.6,507.3" fill="#ffe78f"/><polygon points="189.3,571.2 201.9,573.8 191.5,573.7 178.9,571.4" fill="#008553"/><polygon points="351,574.6 362.4,569.2 350.8,566.4 339.4,572.1" fill="#34ffa7"/><polygon points="477.7,543.2 488.6,530.8 476.3,526.1 465.4,538.6" fill="#b5ff89"/><polygon points="166.1,567.7 178.9,571.4 168.7,571.7 155.9,568.3" fill="#008549"/><polygon points="374,572.1 385.3,565.5 373.6,562.4 362.4,569.2" fill="#4cffa0"/><polygon points="142.8,563.5 155.9,568.3 145.8,569 132.8,564.5" fill="#00853c"/><polygon points="397.2,568.8 408.3,561.1 396.5,557.6 385.3,565.5" fill="#60ff98"/><polygon points="501,535.7 511.8,522.1 499.4,517.1 488.6,530.8" fill="#d2ff8d"/><polygon points="119.4,558.4 132.8,564.5 122.8,565.6 109.6,559.8" fill="#00852b"/><polygon points="420.3,564.7 431.4,555.9 419.4,552 408.3,561.1" fill="#6fff8e"/><polygon points="443.5,559.9 454.5,549.9 442.4,545.7 431.4,555.9" fill="#7bff82"/><polygon points="524.4,527.4 535.2,512.7 522.6,507.3 511.8,522.1" fill="#f0ff8f"/><polygon points="466.8,554.3 477.7,543.2 465.4,538.6 454.5,549.9" fill="#93ff83"/><polygon points="547.9,518.3 558.7,502.4 545.9,496.7 535.2,512.7" fill="#ffee8f"/><polygon points="293,579.3 304.9,577.4 293.6,575.6 281.8,577.7" fill="#03ffab"/><polygon points="269.8,578.4 281.8,577.7 270.7,576.3 258.7,577.2" fill="#00f7a4"/><polygon points="316.2,579.4 327.9,576.4 316.5,574.2 304.9,577.4" fill="#11ffab"/><polygon points="246.5,576.8 258.7,577.2 247.8,576.2 235.6,576" fill="#00ec97"/><polygon points="339.4,578.7 351,574.6 339.4,572.1 327.9,576.4" fill="#1effa7"/><polygon points="490.1,547.9 501,535.7 488.6,530.8 477.7,543.2" fill="#b0ff89"/><polygon points="223.2,574.4 235.6,576 224.9,575.4 212.5,574" fill="#00854f"/><polygon points="362.6,577.3 374,572.1 362.4,569.2 351,574.6" fill="#30ffa1"/><polygon points="199.9,571.2 212.5,574 201.9,573.8 189.3,571.2" fill="#008546"/><polygon points="385.9,575.2 397.2,568.8 385.3,565.5 374,572.1" fill="#49ff9c"/><polygon points="176.5,567.3 189.3,571.2 178.9,571.4 166.1,567.7" fill="#00853a"/><polygon points="409.1,572.2 420.3,564.7 408.3,561.1 397.2,568.8" fill="#5dff96"/><polygon points="513.6,540.8 524.4,527.4 511.8,522.1 501,535.7" fill="#cdff8d"/><polygon points="153,562.6 166.1,567.7 155.9,568.3 142.8,563.5" fill="#00852b"/><polygon points="432.4,568.6 443.5,559.9 431.4,555.9 420.3,564.7" fill="#6dff8e"/><polygon points="537.1,532.8 547.9,518.3 535.2,512.7 524.4,527.4" fill="#e9ff8f"/><polygon points="129.5,557.1 142.8,563.5 132.8,564.5 119.4,558.4" fill="#00851a"/><polygon points="455.8,564.1 466.8,554.3 454.5,549.9 443.5,559.9" fill="#7aff84"/><polygon points="479.2,558.9 490.1,547.9 477.7,543.2 466.8,554.3" fill="#8eff82"/><polygon points="560.8,524.1 571.5,508.4 558.7,502.4 547.9,518.3" fill="#fff78f"/><polygon points="502.7,552.8 513.6,540.8 501,535.7 490.1,547.9" fill="#abff89"/><polygon points="304.4,581 316.2,579.4 304.9,577.4 293,579.3" fill="#01ff9c"/><polygon points="327.7,581.5 339.4,578.7 327.9,576.4 316.2,579.4" fill="#0fffa0"/><polygon points="281,579.7 293,579.3 281.8,577.7 269.8,578.4" fill="#00f593"/><polygon points="351.1,581.2 362.6,577.3 351,574.6 339.4,578.7" fill="#1cff9f"/><polygon points="257.6,577.7 269.8,578.4 258.7,577.2 246.5,576.8" fill="#00eb84"/><polygon points="374.5,580.2 385.9,575.2 374,572.1 362.6,577.3" fill="#2cff9b"/><polygon points="234.1,574.9 246.5,576.8 235.6,576 223.2,574.4" fill="#008543"/><polygon points="397.9,578.4 409.1,572.2 397.2,568.8 385.9,575.2" fill="#46ff99"/><polygon points="526.3,546.1 537.1,532.8 524.4,527.4 513.6,540.8" fill="#c6ff8d"/><polygon points="210.6,571.3 223.2,574.4 212.5,574 199.9,571.2" fill="#008539"/><polygon points="421.3,575.9 432.4,568.6 420.3,564.7 409.1,572.2" fill="#5bff95"/><polygon points="187.1,566.9 199.9,571.2 189.3,571.2 176.5,567.3" fill="#00852b"/><polygon points="444.7,572.6 455.8,564.1 443.5,559.9 432.4,568.6" fill="#6bff8f"/><polygon points="550,538.5 560.8,524.1 547.9,518.3 537.1,532.8" fill="#e2ff8f"/><polygon points="163.4,561.8 176.5,567.3 166.1,567.7 153,562.6" fill="#00851b"/><polygon points="468.2,568.5 479.2,558.9 466.8,554.3 455.8,564.1" fill="#78ff86"/><polygon points="139.7,555.9 153,562.6 142.8,563.5 129.5,557.1" fill="#008508"/><polygon points="491.8,563.6 502.7,552.8 490.1,547.9 479.2,558.9" fill="#89ff82"/><polygon points="515.4,558 526.3,546.1 513.6,540.8 502.7,552.8" fill="#a5ff88"/><polygon points="339.4,583.8 351.1,581.2 339.4,578.7 327.7,581.5" fill="#0dff96"/><polygon points="362.9,583.9 374.5,580.2 362.6,577.3 351.1,581.2" fill="#1aff98"/><polygon points="315.9,582.9 327.7,581.5 316.2,579.4 304.4,581" fill="#00fe8f"/><polygon points="386.5,583.3 397.9,578.4 385.9,575.2 374.5,580.2" fill="#28ff95"/><polygon points="292.4,581.2 304.4,581 293,579.3 281,579.7" fill="#00f383"/><polygon points="539.2,551.5 550,538.5 537.1,532.8 526.3,546.1" fill="#bfff8c"/><polygon points="410,581.9 421.3,575.9 409.1,572.2 397.9,578.4" fill="#42ff96"/><polygon points="268.8,578.7 281,579.7 269.8,578.4 257.6,577.7" fill="#00e973"/><polygon points="433.6,579.7 444.7,572.6 432.4,568.6 421.3,575.9" fill="#58ff94"/><polygon points="245.2,575.5 257.6,577.7 246.5,576.8 234.1,574.9" fill="#008538"/><polygon points="457.2,576.8 468.2,568.5 455.8,564.1 444.7,572.6" fill="#69ff90"/><polygon points="221.5,571.5 234.1,574.9 223.2,574.4 210.6,571.3" fill="#00852c"/><polygon points="480.8,573 491.8,563.6 479.2,558.9 468.2,568.5" fill="#77ff88"/><polygon points="197.8,566.7 210.6,571.3 199.9,571.2 187.1,566.9" fill="#00851d"/><polygon points="504.5,568.6 515.4,558 502.7,552.8 491.8,563.6" fill="#83ff81"/><polygon points="173.9,561.2 187.1,566.9 176.5,567.3 163.4,561.8" fill="#00850c"/><polygon points="528.3,563.3 539.2,551.5 526.3,546.1 515.4,558" fill="#9eff88"/><polygon points="150,554.8 163.4,561.8 153,562.6 139.7,555.9" fill="#098500"/><polygon points="374.9,586.7 386.5,583.3 374.5,580.2 362.9,583.9" fill="#18ff91"/><polygon points="351.3,586.2 362.9,583.9 351.1,581.2 339.4,583.8" fill="#0aff8c"/><polygon points="398.6,586.5 410,581.9 397.9,578.4 386.5,583.3" fill="#25ff91"/><polygon points="327.6,584.9 339.4,583.8 327.7,581.5 315.9,582.9" fill="#00fc83"/><polygon points="422.3,585.5 433.6,579.7 421.3,575.9 410,581.9" fill="#3eff94"/><polygon points="303.9,582.8 315.9,582.9 304.4,581 292.4,581.2" fill="#00f274"/><polygon points="446,583.7 457.2,576.8 444.7,572.6 433.6,579.7" fill="#55ff94"/><polygon points="280.1,579.9 292.4,581.2 281,579.7 268.8,578.7" fill="#00e762"/><polygon points="469.7,581.1 480.8,573 468.2,568.5 457.2,576.8" fill="#67ff91"/><polygon points="256.4,576.3 268.8,578.7 257.6,577.7 245.2,575.5" fill="#00852e"/><polygon points="493.5,577.8 504.5,568.6 491.8,563.6 480.8,573" fill="#75ff8b"/><polygon points="232.5,571.9 245.2,575.5 234.1,574.9 221.5,571.5" fill="#008520"/><polygon points="517.4,573.7 528.3,563.3 515.4,558 504.5,568.6" fill="#7fff82"/><polygon points="208.6,566.6 221.5,571.5 210.6,571.3 197.8,566.7" fill="#008510"/><polygon points="184.6,560.6 197.8,566.7 187.1,566.9 173.9,561.2" fill="#038500"/><polygon points="160.5,553.8 173.9,561.2 163.4,561.8 150,554.8" fill="#198500"/><polygon points="387.1,589.7 398.6,586.5 386.5,583.3 374.9,586.7" fill="#16ff8b"/><polygon points="410.9,589.9 422.3,585.5 410,581.9 398.6,586.5" fill="#23ff8e"/><polygon points="363.3,588.8 374.9,586.7 362.9,583.9 351.3,586.2" fill="#08ff84"/><polygon points="434.7,589.3 446,583.7 433.6,579.7 422.3,585.5" fill="#3aff92"/><polygon points="339.4,587.1 351.3,586.2 339.4,583.8 327.6,584.9" fill="#00fb77"/><polygon points="458.6,587.9 469.7,581.1 457.2,576.8 446,583.7" fill="#52ff94"/><polygon points="315.6,584.6 327.6,584.9 315.9,582.9 303.9,582.8" fill="#00f067"/><polygon points="482.5,585.7 493.5,577.8 480.8,573 469.7,581.1" fill="#64ff93"/><polygon points="291.7,581.3 303.9,582.8 292.4,581.2 280.1,579.9" fill="#00e652"/><polygon points="506.4,582.8 517.4,573.7 504.5,568.6 493.5,577.8" fill="#73ff8f"/><polygon points="267.7,577.2 280.1,579.9 268.8,578.7 256.4,576.3" fill="#008524"/><polygon points="243.7,572.4 256.4,576.3 245.2,575.5 232.5,571.9" fill="#008515"/><polygon points="219.6,566.7 232.5,571.9 221.5,571.5 208.6,566.6" fill="#008503"/><polygon points="195.5,560.2 208.6,566.6 197.8,566.7 184.6,560.6" fill="#128500"/><polygon points="423.4,593.5 434.7,589.3 422.3,585.5 410.9,589.9" fill="#21ff8c"/><polygon points="399.4,592.9 410.9,589.9 398.6,586.5 387.1,589.7" fill="#14ff87"/><polygon points="171.2,553 184.6,560.6 173.9,561.2 160.5,553.8" fill="#298500"/><polygon points="447.3,593.3 458.6,587.9 446,583.7 434.7,589.3" fill="#36ff91"/><polygon points="375.4,591.6 387.1,589.7 374.9,586.7 363.3,588.8" fill="#06ff7c"/><polygon points="471.4,592.3 482.5,585.7 469.7,581.1 458.6,587.9" fill="#4eff95"/><polygon points="351.4,589.4 363.3,588.8 351.3,586.2 339.4,587.1" fill="#00f96d"/><polygon points="495.4,590.5 506.4,582.8 493.5,577.8 482.5,585.7" fill="#62ff96"/><polygon points="327.4,586.5 339.4,587.1 327.6,584.9 315.6,584.6" fill="#00ee5a"/><polygon points="303.3,582.8 315.6,584.6 303.9,582.8 291.7,581.3" fill="#00e444"/><polygon points="279.2,578.3 291.7,581.3 280.1,579.9 267.7,577.2" fill="#00851a"/><polygon points="255.1,573 267.7,577.2 256.4,576.3 243.7,572.4" fill="#00850a"/><polygon points="230.8,566.9 243.7,572.4 232.5,571.9 219.6,566.7" fill="#0a8500"/><polygon points="206.5,560 219.6,566.7 208.6,566.6 195.5,560.2" fill="#208500"/><polygon points="436,597.2 447.3,593.3 434.7,589.3 423.4,593.5" fill="#1fff8a"/><polygon points="460.1,597.4 471.4,592.3 458.6,587.9 447.3,593.3" fill="#32ff91"/><polygon points="411.9,596.3 423.4,593.5 410.9,589.9 399.4,592.9" fill="#11ff82"/><polygon points="484.3,596.8 495.4,590.5 482.5,585.7 471.4,592.3" fill="#4aff97"/><polygon points="387.7,594.5 399.4,592.9 387.1,589.7 375.4,591.6" fill="#03ff74"/><polygon points="363.6,592 375.4,591.6 363.3,588.8 351.4,589.4" fill="#00f763"/><polygon points="182.1,552.3 195.5,560.2 184.6,560.6 171.2,553" fill="#398500"/><polygon points="339.4,588.6 351.4,589.4 339.4,587.1 327.4,586.5" fill="#00ec4f"/><polygon points="315.2,584.5 327.4,586.5 315.6,584.6 303.3,582.8" fill="#008520"/><polygon points="290.9,579.5 303.3,582.8 291.7,581.3 279.2,578.3" fill="#008511"/><polygon points="266.6,573.8 279.2,578.3 267.7,577.2 255.1,573" fill="#018500"/><polygon points="242.2,567.2 255.1,573 243.7,572.4 230.8,566.9" fill="#168500"/><polygon points="473,601.8 484.3,596.8 471.4,592.3 460.1,597.4" fill="#2dff91"/><polygon points="448.8,601.2 460.1,597.4 447.3,593.3 436,597.2" fill="#1dff8a"/><polygon points="424.5,599.8 436,597.2 423.4,593.5 411.9,596.3" fill="#0fff7f"/><polygon points="217.7,559.9 230.8,566.9 219.6,566.7 206.5,560" fill="#2d8500"/><polygon points="400.2,597.6 411.9,596.3 399.4,592.9 387.7,594.5" fill="#01ff6e"/><polygon points="375.9,594.6 387.7,594.5 375.4,591.6 363.6,592" fill="#00f55b"/><polygon points="351.6,590.9 363.6,592 351.4,589.4 339.4,588.6" fill="#00eb44"/><polygon points="193.1,551.7 206.5,560 195.5,560.2 182.1,552.3" fill="#488500"/><polygon points="327.2,586.3 339.4,588.6 327.4,586.5 315.2,584.5" fill="#008519"/><polygon points="302.8,580.9 315.2,584.5 303.3,582.8 290.9,579.5" fill="#008508"/><polygon points="278.3,574.7 290.9,579.5 279.2,578.3 266.6,573.8" fill="#0b8500"/><polygon points="253.7,567.7 266.6,573.8 255.1,573 242.2,567.2" fill="#218500"/><polygon points="461.7,605.3 473,601.8 460.1,597.4 448.8,601.2" fill="#1aff8a"/><polygon points="437.3,603.5 448.8,601.2 436,597.2 424.5,599.8" fill="#0dff7d"/><polygon points="412.9,600.9 424.5,599.8 411.9,596.3 400.2,597.6" fill="#00fe69"/><polygon points="229,559.9 242.2,567.2 230.8,566.9 217.7,559.9" fill="#3a8500"/><polygon points="388.4,597.5 400.2,597.6 387.7,594.5 375.9,594.6" fill="#00f354"/><polygon points="363.9,593.3 375.9,594.6 363.6,592 351.6,590.9" fill="#00e93b"/><polygon points="204.2,551.2 217.7,559.9 206.5,560 193.1,551.7" fill="#568500"/><polygon points="339.4,588.3 351.6,590.9 339.4,588.6 327.2,586.3" fill="#008512"/><polygon points="314.8,582.5 327.2,586.3 315.2,584.5 302.8,580.9" fill="#008500"/><polygon points="290.1,575.8 302.8,580.9 290.9,579.5 278.3,574.7" fill="#148500"/><polygon points="265.4,568.3 278.3,574.7 266.6,573.8 253.7,567.7" fill="#2c8500"/><polygon points="450.3,607.4 461.7,605.3 448.8,601.2 437.3,603.5" fill="#0aff7b"/><polygon points="425.7,604.4 437.3,603.5 424.5,599.8 412.9,600.9" fill="#00fc65"/><polygon points="401.1,600.6 412.9,600.9 400.2,597.6 388.4,597.5" fill="#00f24d"/><polygon points="240.5,560 253.7,567.7 242.2,567.2 229,559.9" fill="#478500"/><polygon points="376.4,595.9 388.4,597.5 375.9,594.6 363.9,593.3" fill="#00e732"/><polygon points="351.8,590.4 363.9,593.3 351.6,590.9 339.4,588.3" fill="#00850c"/><polygon points="215.6,550.8 229,559.9 217.7,559.9 204.2,551.2" fill="#648500"/><polygon points="327,584.2 339.4,588.3 327.2,586.3 314.8,582.5" fill="#078500"/><polygon points="302.2,577 314.8,582.5 302.8,580.9 290.1,575.8" fill="#1e8500"/><polygon points="277.3,569.1 290.1,575.8 278.3,574.7 265.4,568.3" fill="#378500"/><polygon points="438.7,608.1 450.3,607.4 437.3,603.5 425.7,604.4" fill="#00fa62"/><polygon points="413.9,603.8 425.7,604.4 412.9,600.9 401.1,600.6" fill="#00f048"/><polygon points="252.3,560.3 265.4,568.3 253.7,567.7 240.5,560" fill="#538500"/><polygon points="389.1,598.7 401.1,600.6 388.4,597.5 376.4,595.9" fill="#00e52b"/><polygon points="364.3,592.8 376.4,595.9 363.9,593.3 351.8,590.4" fill="#008507"/><polygon points="227.1,550.6 240.5,560 229,559.9 215.6,550.8" fill="#728500"/><polygon points="339.4,586 351.8,590.4 339.4,588.3 327,584.2" fill="#0e8500"/><polygon points="314.4,578.4 327,584.2 314.8,582.5 302.2,577" fill="#268500"/><polygon points="289.3,570 302.2,577 290.1,575.8 277.3,569.1" fill="#418500"/><polygon points="427,607.2 438.7,608.1 425.7,604.4 413.9,603.8" fill="#00ee44"/><polygon points="402,601.6 413.9,603.8 401.1,600.6 389.1,598.7" fill="#00e424"/><polygon points="264.1,560.7 277.3,569.1 265.4,568.3 252.3,560.3" fill="#5e8500"/><polygon points="377,595.3 389.1,598.7 376.4,595.9 364.3,592.8" fill="#008502"/><polygon points="238.8,550.6 252.3,560.3 240.5,560 227.1,550.6" fill="#7f8500"/><polygon points="351.9,588.1 364.3,592.8 351.8,590.4 339.4,586" fill="#158500"/><polygon points="326.8,580 339.4,586 327,584.2 314.4,578.4" fill="#2e8500"/><polygon points="301.5,571.1 314.4,578.4 302.2,577 289.3,570" fill="#4a8500"/><polygon points="415.1,604.8 427,607.2 413.9,603.8 402,601.6" fill="#00e21e"/><polygon points="276.2,561.3 289.3,570 277.3,569.1 264.1,560.7" fill="#698500"/><polygon points="389.9,597.9 402,601.6 389.1,598.7 377,595.3" fill="#038500"/><polygon points="364.7,590.3 377,595.3 364.3,592.8 351.9,588.1" fill="#1b8500"/><polygon points="250.7,550.7 264.1,560.7 252.3,560.3 238.8,550.6" fill="#857e00"/><polygon points="339.4,581.7 351.9,588.1 339.4,586 326.8,580" fill="#368500"/><polygon points="314,572.3 326.8,580 314.4,578.4 301.5,571.1" fill="#538500"/><polygon points="288.4,562 301.5,571.1 289.3,570 276.2,561.3" fill="#748500"/><polygon points="403,600.8 415.1,604.8 402,601.6 389.9,597.9" fill="#078500"/><polygon points="377.6,592.6 389.9,597.9 377,595.3 364.7,590.3" fill="#218500"/><polygon points="262.8,550.9 276.2,561.3 264.1,560.7 250.7,550.7" fill="#857200"/><polygon points="352.1,583.6 364.7,590.3 351.9,588.1 339.4,581.7" fill="#3d8500"/><polygon points="326.6,573.7 339.4,581.7 326.8,580 314,572.3" fill="#5c8500"/><polygon points="300.9,562.9 314,572.3 301.5,571.1 288.4,562" fill="#7e8500"/><polygon points="390.7,595.2 403,600.8 389.9,597.9 377.6,592.6" fill="#268500"/><polygon points="275.1,551.2 288.4,562 276.2,561.3 262.8,550.9" fill="#856600"/><polygon points="365.1,585.7 377.6,592.6 364.7,590.3 352.1,583.6" fill="#438500"/><polygon points="339.4,575.3 352.1,583.6 339.4,581.7 326.6,573.7" fill="#648500"/><polygon points="313.5,564 326.6,573.7 314,572.3 300.9,562.9" fill="#858200"/><polygon points="287.5,551.8 300.9,562.9 288.4,562 275.1,551.2" fill="#855b00"/><polygon points="378.2,587.9 390.7,595.2 377.6,592.6 365.1,585.7" fill="#498500"/><polygon points="352.4,577 365.1,585.7 352.1,583.6 339.4,575.3" fill="#6c8500"/><polygon points="326.3,565.2 339.4,575.3 326.6,573.7 313.5,564" fill="#857900"/><polygon points="300.2,552.4 313.5,564 300.9,562.9 287.5,551.8" fill="#855100"/><polygon points="365.5,578.9 378.2,587.9 365.1,585.7 352.4,577" fill="#738500"/><polygon points="339.4,566.6 352.4,577 339.4,575.3 326.3,565.2" fill="#857000"/><polygon points="313,553.3 326.3,565.2 313.5,564 300.2,552.4" fill="#854700"/><polygon points="352.6,568.1 365.5,578.9 352.4,577 339.4,566.6" fill="#856800"/><polygon points="326.1,554.3 339.4,566.6 326.3,565.2 313,553.3" fill="#853d00"/><polygon points="339.3,555.4 352.6,568.1 339.4,566.6 326.1,554.3" fill="#853400"/></g>
<line x1="214.9" y1="546.3" x2="214.9" y2="554.3" stroke="#333" stroke-width="1.6"/>
<circle cx="214.9" cy="546.3" r="5.3" fill="url(#sphr)" stroke="#600" stroke-width=".8"/>
<line x1="230.8" y1="540.8" x2="230.8" y2="549.8" stroke="#333" stroke-width="1.6"/>
<circle cx="230.8" cy="540.8" r="5.3" fill="url(#sphr)" stroke="#600" stroke-width=".8"/>
<circle cx="449.1" cy="452" r="5.3" fill="url(#sphr)" stroke="#600" stroke-width=".8"/>
<circle cx="461.7" cy="611.2" r="5.3" fill="#f6c8c8" stroke="#b08080" stroke-width=".9"/>
<text x="328.7" y="839.2" font-size="16.5" fill="#333" text-anchor="end" stroke="#333" stroke-width=".3" textLength="42.5" lengthAdjust="spacingAndGlyphs">18.00</text>
<text x="273.3" y="814.5" font-size="16.5" fill="#333" text-anchor="end" stroke="#333" stroke-width=".3" textLength="42.5" lengthAdjust="spacingAndGlyphs">20.00</text>
<text x="217.9" y="789.7" font-size="16.5" fill="#333" text-anchor="end" stroke="#333" stroke-width=".3" textLength="42.5" lengthAdjust="spacingAndGlyphs">22.00</text>
<text x="162.5" y="765" font-size="16.5" fill="#333" text-anchor="end" stroke="#333" stroke-width=".3" textLength="42.5" lengthAdjust="spacingAndGlyphs">24.00</text>
<text x="107.1" y="740.3" font-size="16.5" fill="#333" text-anchor="end" stroke="#333" stroke-width=".3" textLength="42.5" lengthAdjust="spacingAndGlyphs">26.00</text>
<text x="350.9" y="839.4" font-size="16.5" fill="#333" stroke="#333" stroke-width=".3" textLength="31.3" lengthAdjust="spacingAndGlyphs">1.50</text>
<text x="395.2" y="819.6" font-size="16.5" fill="#333" stroke="#333" stroke-width=".3" textLength="31.3" lengthAdjust="spacingAndGlyphs">1.70</text>
<text x="439.6" y="799.7" font-size="16.5" fill="#333" stroke="#333" stroke-width=".3" textLength="31.3" lengthAdjust="spacingAndGlyphs">1.90</text>
<text x="483.9" y="779.9" font-size="16.5" fill="#333" stroke="#333" stroke-width=".3" textLength="31.3" lengthAdjust="spacingAndGlyphs">2.10</text>
<text x="528.3" y="760" font-size="16.5" fill="#333" stroke="#333" stroke-width=".3" textLength="31.3" lengthAdjust="spacingAndGlyphs">2.30</text>
<text x="572.6" y="740.2" font-size="16.5" fill="#333" stroke="#333" stroke-width=".3" textLength="31.3" lengthAdjust="spacingAndGlyphs">2.50</text>
<text x="104.2" y="651.3" font-size="16.5" fill="#333" text-anchor="end" stroke="#333" stroke-width=".3" textLength="9.8" lengthAdjust="spacingAndGlyphs">0</text>
<text x="102.1" y="608" font-size="16.5" fill="#333" text-anchor="end" stroke="#333" stroke-width=".3" textLength="28.4" lengthAdjust="spacingAndGlyphs">100</text>
<text x="100" y="564.8" font-size="16.5" fill="#333" text-anchor="end" stroke="#333" stroke-width=".3" textLength="28.4" lengthAdjust="spacingAndGlyphs">200</text>
<text x="97.9" y="521.5" font-size="16.5" fill="#333" text-anchor="end" stroke="#333" stroke-width=".3" textLength="28.4" lengthAdjust="spacingAndGlyphs">300</text>
<text x="95.8" y="478.3" font-size="16.5" fill="#333" text-anchor="end" stroke="#333" stroke-width=".3" textLength="28.4" lengthAdjust="spacingAndGlyphs">400</text>
<text x="93.7" y="435" font-size="16.5" fill="#333" text-anchor="end" stroke="#333" stroke-width=".3" textLength="28.4" lengthAdjust="spacingAndGlyphs">500</text>
<text x="142.4" y="818" font-size="16.5" fill="#333" text-anchor="middle" stroke="#333" stroke-width=".3" textLength="113.8" lengthAdjust="spacingAndGlyphs">B: Voltage (Kv)</text>
<text x="536" y="818" font-size="16.5" fill="#333" text-anchor="middle" stroke="#333" stroke-width=".3" textLength="145.4" lengthAdjust="spacingAndGlyphs">A: Flow rate (ml/h)</text>
<text x="32.9" y="646" font-size="23" fill="#333" stroke="#333" stroke-width=".3" textLength="140.8" lengthAdjust="spacingAndGlyphs" transform="rotate(-90 32.9 646)">Diameter (nm)</text>
<path d="M111.3 1114.3L336.3 1043.7L561.3 1114M109.2 1071L336.3 1004.7L563.5 1070.7M107.1 1027.8L336.3 965.6L565.7 1027.4M105 984.5L336.3 926.6L567.9 984.1M102.9 941.3L336.3 887.5L570 940.8M100.8 898L336.3 848.5L572.2 897.6M156.3 1100.2L147.9 888.1M201.3 1086.1L195 878.2M246.3 1071.9L242.1 868.3M291.3 1057.8L289.2 858.4M505.1 1096.4L513.2 885.3M448.8 1078.8L454.3 873M392.6 1061.3L395.3 860.7M114.6 1182.3L100.8 898M336.3 1105.1L336.3 848.5M557.9 1182L572.2 897.6" fill="none" stroke="#2a2a2a" stroke-width="1.5"/>
<polygon points="336.2,1281.2 557.9,1182 336.3,1105.1 114.6,1182.3" fill="#666666" stroke="#111" stroke-width="1.9" stroke-linejoin="round"/>
<path d="M377.5 1262.7L377.4 1261.5L377.4 1260.4L377.3 1259.2L377.3 1258L377.3 1256.8L377.3 1255.6L377.3 1254.4L377.3 1253.2L377.4 1251.9L377.5 1250.7L377.6 1249.4L377.8 1248.2L378 1247.1L378.2 1246L378.4 1244.9L378.7 1243.8L379 1242.7L379.4 1241.5L379.9 1240.1L380.5 1238.7L381 1237.7L381.5 1236.7L382 1235.7L383 1234.1L383.8 1233L384.5 1232.1L385.8 1230.5L386.8 1229.5L387.9 1228.5L389.4 1227.1L390.9 1226L392.5 1224.9L394.8 1223.5L397.2 1222.2L398.5 1221.5L401.2 1220.3L403.9 1219.2L405.6 1218.6L408.8 1217.6L412.1 1216.6L413.9 1216.1L417.4 1215.3L419.5 1214.8L423.1 1214.1L425.1 1213.7L428.9 1213L431.2 1212.7L433.3 1212.3L436.9 1211.9L439.9 1211.5L442.1 1211.2L444.4 1210.9L447.6 1210.6L451 1210.2L453.7 1210L456.1 1209.8L458.6 1209.6L461 1209.4L463.9 1209.1L467 1208.9L470 1208.7L473.1 1208.5L476 1208.3L478.9 1208.2L481.5 1208L484.1 1207.9L486.8 1207.8L489.5 1207.6L492.2 1207.5L494.9 1207.4L497.6 1207.3L500.3 1207.1L501.9 1207.1" fill="none" stroke="#36b1d6" stroke-width="3" stroke-linecap="round"/>
<path d="M230.3 1142L229.2 1143.1L228.4 1143.8L226.6 1145.2L225.7 1145.9L223.7 1147.1L222.4 1147.9L220.3 1148.9L217.9 1150L215.3 1151L212.4 1152L209.5 1152.9L206.3 1153.7L204.6 1154.1L201.2 1154.8L198.1 1155.3L195.8 1155.7L192.9 1156.1L190 1156.5L188.2 1156.7" fill="none" stroke="#36b1d6" stroke-width="3" stroke-linecap="round"/>
<path d="M350.5 1274.8L350 1273.8L349.2 1272.2L348.5 1270.8L348 1269.8L347.5 1268.8L346.9 1267.5L346.1 1265.9L345.5 1264.8L345 1263.8L344.5 1262.8L343.7 1261.2L343 1259.9L342.5 1258.9L342 1257.9L341.3 1256.6L340.4 1255L339.9 1254L339.4 1253L338.8 1251.9L338 1250.4L337.3 1249.1L336.8 1248.1L336.3 1247.2L335.5 1245.7L334.8 1244.3L334.2 1243.3L333.7 1242.4L333 1241.1L332.2 1239.6L331.6 1238.5L331.1 1237.6L330.5 1236.5L329.6 1234.9L328.9 1233.8L328.4 1232.8L327.8 1231.8L326.9 1230.3L326.2 1229.1L325.7 1228.2L325.1 1227.2L324.2 1225.7L323.5 1224.4L322.9 1223.5L322.3 1222.5L321.3 1221L320.6 1219.9L320 1219L319.2 1217.8L318.2 1216.3L317.6 1215.4L317 1214.5L315.9 1213L315.1 1211.8L314.4 1211L313.5 1209.7L312.4 1208.4L311.7 1207.5L310.7 1206.3L309.5 1205L308.8 1204.2L307.2 1202.6L306.4 1201.8L305 1200.6L303.7 1199.5L302 1198.2L300.7 1197.3L298.5 1195.9L296.7 1194.9L294.9 1194L292.2 1192.9L289.3 1191.8L287.7 1191.3L284.5 1190.3L281.1 1189.5L279.3 1189L275.6 1188.3L273.7 1187.9L269.8 1187.2L267.7 1186.9L265.4 1186.5L261.5 1185.9L259.4 1185.6L257.3 1185.4L253.4 1184.8L250.8 1184.5L248.6 1184.2L245.8 1183.9L242.2 1183.5L239.8 1183.2L237.5 1182.9L234.9 1182.6L231.4 1182.3L228.5 1181.9L226.2 1181.7L223.9 1181.4L220.8 1181.1L217.3 1180.7L214.7 1180.5L212.4 1180.2L210.1 1180L206.9 1179.6L203.5 1179.3L200.8 1179L198.5 1178.8L196.1 1178.5L193.2 1178.2L189.8 1177.9L186.8 1177.5L184.4 1177.3L182.1 1177L179.7 1176.8L176.3 1176.4L172.9 1176.1L170.3 1175.8L168 1175.6L165.6 1175.3L162.8 1175L159.5 1174.7L156.2 1174.3L153.8 1174L151.5 1173.8L149.1 1173.5L146.1 1173.2L142.7 1172.8L142 1172.8" fill="none" stroke="#36d690" stroke-width="3" stroke-linecap="round"/>
<path d="M276.6 1125.9L277.3 1127.1L278.1 1128.4L278.6 1129.2L279.1 1130L279.8 1131L280.6 1132.3L281.2 1133.3L281.7 1134.2L282.3 1135L283.1 1136.3L283.8 1137.5L284.4 1138.3L284.9 1139.1L285.7 1140.4L286.5 1141.6L287 1142.5L287.6 1143.3L288.4 1144.5L289.2 1145.8L289.8 1146.6L290.3 1147.5L291.1 1148.6L292 1150L292.6 1150.8L293.2 1151.6L294 1152.9L294.9 1154.1L295.5 1155L296.1 1155.8L297.1 1157.2L297.9 1158.3L298.5 1159.1L299.4 1160.2L300.4 1161.5L301.1 1162.4L301.9 1163.3L303.1 1164.8L303.8 1165.6L304.7 1166.5L306 1167.9L306.8 1168.7L308.2 1170.1L309.2 1171L310.5 1172L311.9 1173.2L313.5 1174.3L315 1175.3L317.2 1176.6L319.5 1177.7L320.9 1178.4L323.6 1179.5L326 1180.3L328.2 1181L331.4 1181.9L334.6 1182.6L336.7 1183.1L340.2 1183.7L342.4 1184.1L345 1184.5L348.4 1185L350.4 1185.3L353.6 1185.7L356.7 1186.1L358.8 1186.3L361.5 1186.6L365.3 1187L367.5 1187.2L369.8 1187.4L372.7 1187.7L376.4 1188L378.7 1188.2L380.9 1188.4L383.6 1188.6L387.1 1188.8L390 1189L392.3 1189.2L394.6 1189.4L397.6 1189.6L401.1 1189.8L403.8 1190L406.2 1190.1L408.5 1190.3L411.4 1190.4L414.9 1190.6L417.8 1190.8L420.1 1190.9L422.4 1191.1L425.1 1191.2L428.5 1191.4L431.8 1191.5L434.2 1191.7L436.5 1191.8L438.9 1191.9L442 1192L445.4 1192.2L448.3 1192.3L450.6 1192.4L453 1192.5L455.4 1192.6L458.8 1192.8L462.2 1192.9L464.8 1193L467.1 1193.1L469.5 1193.2L472.2 1193.3L475.5 1193.4L478.9 1193.6L481.3 1193.6L483.7 1193.7L486.1 1193.8L488.9 1193.9L492.2 1194L495.5 1194.1L497.9 1194.2L500.3 1194.3L502.7 1194.3L505.5 1194.4L508.8 1194.5L512.2 1194.6L514.6 1194.7L516.9 1194.7L519.3 1194.8L522.1 1194.8L525.4 1194.9L528.8 1195L528.8 1195" fill="none" stroke="#36d690" stroke-width="3" stroke-linecap="round"/>
<path d="M328.9 1278L327.7 1276.3L327.1 1275.4L326.2 1274.3L325 1272.6L324.3 1271.7L323.4 1270.6L322.2 1269L321.5 1268.1L320.5 1266.9L319.3 1265.3L318.6 1264.4L317.5 1263.1L316.4 1261.8L315.6 1260.9L314.2 1259.2L313.4 1258.2L312.5 1257.3L311 1255.6L310.3 1254.8L308.9 1253.3L307.9 1252.2L307 1251.2L305.4 1249.6L304.6 1248.8L302.9 1247.1L302.1 1246.3L300.6 1244.9L299.5 1243.8L298.3 1242.7L296.8 1241.4L295.7 1240.4L294.1 1239L293 1238L291.3 1236.6L290 1235.5L288.4 1234.3L286.6 1232.9L285.4 1232L283.4 1230.5L282.4 1229.8L280.3 1228.3L278.3 1227L277 1226.1L274.8 1224.7L272.5 1223.4L271.4 1222.6L269 1221.3L266.6 1219.9L264.1 1218.6L262.9 1218L260.4 1216.7L257.8 1215.4L255.1 1214.2L252.4 1213L249.6 1211.8L246.8 1210.6L243.9 1209.5L241 1208.4L238 1207.3L236.4 1206.7L233.3 1205.7L230.2 1204.6L227 1203.6L225.4 1203.1L222.1 1202.1L218.7 1201.1L217 1200.6L213.6 1199.7L210.4 1198.8L208.4 1198.3L204.8 1197.4L203 1196.9L199.4 1196.1L197.6 1195.6L193.9 1194.8L192 1194.3L188.3 1193.5L186.4 1193.1L182.6 1192.3L180.6 1191.9L177.4 1191.2L174.8 1190.7L172.6 1190.2L168.9 1189.5L166.9 1189.1L163.4 1188.4L160.9 1187.9L158.9 1187.6L154.9 1186.8L152.8 1186.4L150.3 1186L146.7 1185.3L144.6 1185L141.8 1184.5L138.4 1183.9L136.3 1183.5L133.6 1183L130 1182.4L127.9 1182.1L125.5 1181.7L121.5 1181L119.4 1180.6" fill="none" stroke="#39d636" stroke-width="3" stroke-linecap="round"/>
<path d="M299.2 1118L299.9 1118.8L301.2 1119.9L302.2 1120.9L303 1121.6L304.5 1123.1L305.3 1123.8L306.5 1124.9L307.7 1126L308.5 1126.7L310.2 1128.1L311 1128.8L312.5 1130.1L313.5 1130.9L314.8 1131.9L316.1 1133L317.2 1133.8L318.8 1135.1L319.7 1135.8L321.5 1137.1L322.5 1137.8L324.3 1139.2L325.5 1140L327.2 1141.2L328.9 1142.3L330.2 1143.1L332.3 1144.4L333.3 1145.1L335.4 1146.3L337.4 1147.5L338.7 1148.2L340.9 1149.5L343.2 1150.7L344.4 1151.3L346.7 1152.5L349.1 1153.7L351.6 1154.8L352.9 1155.4L355.4 1156.5L358 1157.6L360.7 1158.7L363.4 1159.7L366.2 1160.8L369 1161.8L371.9 1162.8L374.9 1163.7L376.8 1164.3L379.5 1165.1L382.6 1166L385.7 1166.9L388.7 1167.7L390.6 1168.2L393.9 1169L397.1 1169.8L398.9 1170.2L402.4 1170.9L404.2 1171.3L407.6 1172.1L410.6 1172.7L413 1173.1L416.6 1173.8L418.4 1174.1L422.1 1174.8L424 1175.1L427.4 1175.6L429.7 1176L432.5 1176.4L435.4 1176.9L437.4 1177.2L441.3 1177.7L443.2 1178L446.9 1178.5L449.1 1178.8L451.4 1179L455.2 1179.5L457.2 1179.7L460.3 1180.1L463.3 1180.4L465.3 1180.7L468.8 1181L471.5 1181.3L473.6 1181.5L477.2 1181.9L479.8 1182.1L481.9 1182.3L485.3 1182.7L488.2 1182.9L490.4 1183.1L493.3 1183.4L496.8 1183.6L498.9 1183.8L501.2 1184L505.1 1184.3L507.5 1184.5L509.6 1184.6L512.8 1184.9L516.2 1185.1L518.3 1185.2L520.5 1185.4L524.3 1185.6L527.1 1185.8L529.3 1185.9L531.8 1186.1L535.5 1186.3L538.1 1186.4L540.3 1186.6L542.9 1186.7L546.6 1186.9L546.9 1186.9" fill="none" stroke="#39d636" stroke-width="3" stroke-linecap="round"/>
<path d="M284.2 1258L282.8 1256.8L281.1 1255.4L279.9 1254.5L277.9 1252.9L276.9 1252.1L274.9 1250.6L273.8 1249.8L271.8 1248.3L269.7 1246.8L268.6 1246L266.5 1244.5L264.7 1243.4L263.2 1242.3L261 1240.9L258.9 1239.6L257.5 1238.7L255.2 1237.3L252.9 1235.9L251.3 1235L249.2 1233.9L246.8 1232.5L244.3 1231.2L241.8 1229.9L239.2 1228.6L237.9 1227.9L235.2 1226.7L232.6 1225.4L229.8 1224.2L227.1 1222.9L224.3 1221.7L221.4 1220.5L218.5 1219.4L217.1 1218.8L214.1 1217.6L211.2 1216.5L208.1 1215.4L205 1214.3L201.9 1213.2L200.4 1212.6L197.2 1211.6L194 1210.5L191.2 1209.6L189.1 1208.9L185.8 1207.9L182.8 1207L180.7 1206.4L177.3 1205.4L175.4 1204.9L172.1 1204L168.6 1203L166.9 1202.5L163.3 1201.6L161.5 1201.1L157.9 1200.2L156.1 1199.7L152.5 1198.8L150.6 1198.4" fill="none" stroke="#9cd636" stroke-width="3" stroke-linecap="round"/>
<path d="M318.2 1111.4L319.9 1112.7L320.8 1113.4L322.6 1114.7L323.5 1115.4L325.3 1116.7L326.2 1117.4L328.1 1118.7L329 1119.4L330.9 1120.7L331.9 1121.3L333.8 1122.6L334.8 1123.3L336.7 1124.5L337.9 1125.3L339.7 1126.5L341.7 1127.7L342.8 1128.3L344.9 1129.6L346 1130.2L348.1 1131.4L350.3 1132.7L351.4 1133.3L353.6 1134.5L355.9 1135.7L357 1136.2L359.3 1137.4L361.7 1138.6L364.1 1139.7L365.3 1140.3L367.7 1141.4L370.2 1142.5L372.7 1143.6L375.3 1144.7L377.9 1145.8L379.6 1146.4L381.9 1147.4L384.6 1148.4L387.4 1149.4L390.1 1150.4L393 1151.4L395.5 1152.2L397.3 1152.8L400.2 1153.8L403.2 1154.7L406.2 1155.6L409.3 1156.5L412.4 1157.4L414 1157.8L417.1 1158.6L420.3 1159.5L423.3 1160.2L425.2 1160.7L428.5 1161.5L431.8 1162.2L433.5 1162.6L436.9 1163.4L439.2 1163.8L442.1 1164.4L445.6 1165.1L447.4 1165.5L450.9 1166.2L452.7 1166.5L456.3 1167.2L458.4 1167.5L461.7 1168.1L464.1 1168.5L467.3 1169L469.6 1169.4L472.8 1169.9L475 1170.2L478.5 1170.8L480.4 1171L484.2 1171.6L486.1 1171.8L490 1172.4L492 1172.6L494.9 1173L497.8 1173.4L499.8 1173.6L503.7 1174.1L505.7 1174.3L508.8 1174.7L511.7 1175L513.7 1175.2L517.7 1175.6L519.8 1175.8L522.1 1176.1L525.9 1176.5L527.9 1176.7L530.7 1176.9L534.1 1177.2L536.1 1177.4L539.2 1177.7L542.3 1178L544.4 1178.1L547.5 1178.4" fill="none" stroke="#9cd636" stroke-width="3" stroke-linecap="round"/>
<path d="M334.7 1105.7L336.5 1106.9L337.5 1107.6L339.4 1108.8L340.4 1109.5L342.4 1110.7L343.7 1111.6L345.4 1112.6L347.4 1113.8L348.4 1114.4L350.5 1115.7L351.5 1116.3L353.6 1117.5L355.7 1118.7L356.8 1119.3L359 1120.5L360.9 1121.5L362.3 1122.3L364.5 1123.4L366.7 1124.6L367.9 1125.2L370.2 1126.3L372.5 1127.5L373.9 1128.1L376.1 1129.1L378.5 1130.3L381 1131.4L383.4 1132.4L384.7 1133L387.2 1134.1L389.8 1135.1L392.3 1136.2L395 1137.2L397.6 1138.2L400.3 1139.2L403 1140.2L405.8 1141.2L408.6 1142.2L411.4 1143.2L414.3 1144.1L417.2 1145L420.1 1146L423 1146.9L426 1147.8L429.1 1148.6L430.6 1149.1L433.7 1149.9L436.8 1150.8L439.9 1151.6L441.8 1152.1L444.7 1152.8L447.9 1153.6L451.2 1154.4L452.8 1154.8L456.1 1155.5L459.5 1156.3L461.2 1156.6L464.5 1157.4L467.5 1158L469.7 1158.4L473.1 1159.1L474.9 1159.5L478.4 1160.1L481 1160.6L483.7 1161.1L487.2 1161.7L489.1 1162L492.7 1162.6L494.5 1163L498.2 1163.5L500 1163.8L503.7 1164.4L505.5 1164.7L509.3 1165.2L509.9 1165.3" fill="none" stroke="#d6aa36" stroke-width="3" stroke-linecap="round"/>
<polygon points="336.2,1281.2 557.9,1182 336.3,1105.1 114.6,1182.3" fill="none" stroke="#111" stroke-width="1.9" stroke-linejoin="round"/>
<circle cx="336.2" cy="1281.2" r="2.5" fill="#000"/><circle cx="380.5" cy="1261.4" r="2.5" fill="#000"/><circle cx="424.9" cy="1241.5" r="2.5" fill="#000"/><circle cx="469.2" cy="1221.7" r="2.5" fill="#000"/><circle cx="513.6" cy="1201.8" r="2.5" fill="#000"/><circle cx="557.9" cy="1182" r="2.5" fill="#000"/><circle cx="336.2" cy="1281.2" r="2.5" fill="#000"/><circle cx="280.8" cy="1256.5" r="2.5" fill="#000"/><circle cx="225.4" cy="1231.8" r="2.5" fill="#000"/><circle cx="170" cy="1207" r="2.5" fill="#000"/><circle cx="114.6" cy="1182.3" r="2.5" fill="#000"/><circle cx="111.3" cy="1114.3" r="2.5" fill="#000"/><circle cx="109.2" cy="1071" r="2.5" fill="#000"/><circle cx="107.1" cy="1027.8" r="2.5" fill="#000"/><circle cx="105" cy="984.5" r="2.5" fill="#000"/><circle cx="102.9" cy="941.3" r="2.5" fill="#000"/><circle cx="100.8" cy="898" r="2.5" fill="#000"/>
<g stroke="#161616" stroke-width="1.05" stroke-linejoin="round"><polygon points="336.3,921.1 346.7,904.4 336.3,906.3 325.9,922.9" fill="#ffe265"/><polygon points="325.8,936.6 336.3,921.1 325.9,922.9 315.5,938.3" fill="#daff63"/><polygon points="315.3,950.9 325.8,936.6 315.5,938.3 305.1,952.6" fill="#9dff60"/><polygon points="346.8,919.9 357.2,903.2 346.7,904.4 336.3,921.1" fill="#ffd06a"/><polygon points="336.3,935.4 346.8,919.9 336.3,921.1 325.8,936.6" fill="#efff69"/><polygon points="304.7,963.9 315.3,950.9 305.1,952.6 294.5,965.6" fill="#63ff5b"/><polygon points="325.7,949.7 336.3,935.4 325.8,936.6 315.3,950.9" fill="#b5ff66"/><polygon points="357.4,919.3 367.8,902.5 357.2,903.2 346.8,919.9" fill="#ffc370"/><polygon points="294.1,975.8 304.7,963.9 294.5,965.6 283.9,977.5" fill="#55ff81"/><polygon points="346.9,934.9 357.4,919.3 346.8,919.9 336.3,935.4" fill="#ffff6f"/><polygon points="315.1,962.8 325.7,949.7 315.3,950.9 304.7,963.9" fill="#7eff62"/><polygon points="283.3,986.5 294.1,975.8 283.9,977.5 273.1,988.1" fill="#4dffa9"/><polygon points="336.3,949.2 346.9,934.9 336.3,935.4 325.7,949.7" fill="#c8ff6d"/><polygon points="368.1,919.3 378.6,902.5 367.8,902.5 357.4,919.3" fill="#ffb874"/><polygon points="304.4,974.7 315.1,962.8 304.7,963.9 294.1,975.8" fill="#5dff71"/><polygon points="272.4,995.9 283.3,986.5 273.1,988.1 262.2,997.6" fill="#41ffcd"/><polygon points="357.6,934.9 368.1,919.3 357.4,919.3 346.9,934.9" fill="#fff274"/><polygon points="325.6,962.4 336.3,949.2 325.7,949.7 315.1,962.8" fill="#94ff69"/><polygon points="293.6,985.4 304.4,974.7 294.1,975.8 283.3,986.5" fill="#55ff96"/><polygon points="379,920 389.5,903.1 378.6,902.5 368.1,919.3" fill="#ffb179"/><polygon points="347,949.3 357.6,934.9 346.9,934.9 336.3,949.2" fill="#d7ff72"/><polygon points="261.4,1004.1 272.4,995.9 262.2,997.6 251.3,1005.8" fill="#32ffee"/><polygon points="314.9,974.3 325.6,962.4 315.1,962.8 304.4,974.7" fill="#64ff65"/><polygon points="368.4,935.6 379,920 368.1,919.3 357.6,934.9" fill="#ffe979"/><polygon points="282.7,994.9 293.6,985.4 283.3,986.5 272.4,995.9" fill="#49ffb6"/><polygon points="336.3,962.5 347,949.3 336.3,949.2 325.6,962.4" fill="#a6ff70"/><polygon points="304,985 314.9,974.3 304.4,974.7 293.6,985.4" fill="#5cff88"/><polygon points="250.2,1011.1 261.4,1004.1 251.3,1005.8 240.2,1012.8" fill="#23f3ff"/><polygon points="390,921.3 400.5,904.3 389.5,903.1 379,920" fill="#ffad7d"/><polygon points="357.8,950.1 368.4,935.6 357.6,934.9 347,949.3" fill="#e3ff78"/><polygon points="325.5,974.4 336.3,962.5 325.6,962.4 314.9,974.3" fill="#78ff6b"/><polygon points="271.6,1003.1 282.7,994.9 272.4,995.9 261.4,1004.1" fill="#3bffd3"/><polygon points="379.4,937 390,921.3 379,920 368.4,935.6" fill="#ffe37e"/><polygon points="293.1,994.4 304,985 293.6,985.4 282.7,994.9" fill="#52ffa5"/><polygon points="347.1,963.3 357.8,950.1 347,949.3 336.3,962.5" fill="#b4ff75"/><polygon points="239,1016.9 250.2,1011.1 240.2,1012.8 228.9,1018.6" fill="#19dcff"/><polygon points="314.6,985.1 325.5,974.4 314.9,974.3 304,985" fill="#64ff7e"/><polygon points="401.1,923.2 411.7,906.2 400.5,904.3 390,921.3" fill="#ffac81"/><polygon points="368.7,951.4 379.4,937 368.4,935.6 357.8,950.1" fill="#ebff7d"/><polygon points="260.5,1010.1 271.6,1003.1 261.4,1004.1 250.2,1011.1" fill="#28ffec"/><polygon points="336.3,975.2 347.1,963.3 336.3,962.5 325.5,974.4" fill="#88ff71"/><polygon points="282.1,1002.7 293.1,994.4 282.7,994.9 271.6,1003.1" fill="#43ffbf"/><polygon points="390.5,939 401.1,923.2 390,921.3 379.4,937" fill="#ffe082"/><polygon points="303.7,994.6 314.6,985.1 304,985 293.1,994.4" fill="#59ff99"/><polygon points="358,964.7 368.7,951.4 357.8,950.1 347.1,963.3" fill="#beff7b"/><polygon points="227.5,1021.4 239,1016.9 228.9,1018.6 217.5,1023.1" fill="#0eccff"/><polygon points="249.2,1015.8 260.5,1010.1 250.2,1011.1 239,1016.9" fill="#1dfdff"/><polygon points="412.4,925.8 423,908.8 411.7,906.2 401.1,923.2" fill="#ffad85"/><polygon points="325.4,986 336.3,975.2 325.5,974.4 314.6,985.1" fill="#6bff78"/><polygon points="379.8,953.5 390.5,939 379.4,937 368.7,951.4" fill="#f0ff81"/><polygon points="270.9,1009.6 282.1,1002.7 271.6,1003.1 260.5,1010.1" fill="#30ffd4"/><polygon points="347.2,976.7 358,964.7 347.1,963.3 336.3,975.2" fill="#95ff77"/><polygon points="292.6,1002.8 303.7,994.6 293.1,994.4 282.1,1002.7" fill="#4bffb0"/><polygon points="401.7,941.6 412.4,925.8 401.1,923.2 390.5,939" fill="#ffdf85"/><polygon points="369,966.7 379.8,953.5 368.7,951.4 358,964.7" fill="#c5ff80"/><polygon points="215.9,1024.6 227.5,1021.4 217.5,1023.1 205.9,1026.3" fill="#01c5ff"/><polygon points="314.4,995.4 325.4,986 314.6,985.1 303.7,994.6" fill="#61ff91"/><polygon points="237.7,1020.3 249.2,1015.8 239,1016.9 227.5,1021.4" fill="#11efff"/><polygon points="423.7,929.1 434.4,912 423,908.8 412.4,925.8" fill="#ffaf88"/><polygon points="336.3,987.4 347.2,976.7 336.3,975.2 325.4,986" fill="#71ff75"/><polygon points="259.5,1015.3 270.9,1009.6 260.5,1010.1 249.2,1015.8" fill="#21ffe6"/><polygon points="391,956.2 401.7,941.6 390.5,939 379.8,953.5" fill="#f2ff85"/><polygon points="281.4,1009.8 292.6,1002.8 282.1,1002.7 270.9,1009.6" fill="#39ffc2"/><polygon points="358.2,978.8 369,966.7 358,964.7 347.2,976.7" fill="#9eff7c"/><polygon points="413,944.9 423.7,929.1 412.4,925.8 401.7,941.6" fill="#ffe089"/><polygon points="303.3,1003.7 314.4,995.4 303.7,994.6 292.6,1002.8" fill="#53ffa5"/><polygon points="380.2,969.5 391,956.2 379.8,953.5 369,966.7" fill="#c9ff84"/><polygon points="204.2,1026.5 215.9,1024.6 205.9,1026.3 194.2,1028.3" fill="#006985"/><polygon points="325.3,996.9 336.3,987.4 325.4,986 314.4,995.4" fill="#67ff8c"/><polygon points="226.1,1023.4 237.7,1020.3 227.5,1021.4 215.9,1024.6" fill="#04eaff"/><polygon points="435.2,933.1 445.9,915.9 434.4,912 423.7,929.1" fill="#ffb48a"/><polygon points="248.1,1019.8 259.5,1015.3 249.2,1015.8 237.7,1020.3" fill="#15fff2"/><polygon points="402.3,959.5 413,944.9 401.7,941.6 391,956.2" fill="#f2ff89"/><polygon points="347.3,989.5 358.2,978.8 347.2,976.7 336.3,987.4" fill="#77ff77"/><polygon points="270.1,1015.5 281.4,1009.8 270.9,1009.6 259.5,1015.3" fill="#24ffd0"/><polygon points="369.4,981.5 380.2,969.5 369,966.7 358.2,978.8" fill="#a4ff81"/><polygon points="292.1,1010.6 303.3,1003.7 292.6,1002.8 281.4,1009.8" fill="#41ffb5"/><polygon points="424.5,949 435.2,933.1 423.7,929.1 413,944.9" fill="#ffe48b"/><polygon points="314.1,1005.1 325.3,996.9 314.4,995.4 303.3,1003.7" fill="#5aff9e"/><polygon points="391.5,972.9 402.3,959.5 391,956.2 380.2,969.5" fill="#cbff88"/><polygon points="192.2,1027 204.2,1026.5 194.2,1028.3 182.2,1028.9" fill="#007285"/><polygon points="336.3,999 347.3,989.5 336.3,987.4 325.3,996.9" fill="#6dff8b"/><polygon points="446.8,937.7 457.5,920.5 445.9,915.9 435.2,933.1" fill="#ffbb8c"/><polygon points="214.3,1025.3 226.1,1023.4 215.9,1024.6 204.2,1026.5" fill="#00e9f8"/><polygon points="236.4,1022.9 248.1,1019.8 237.7,1020.3 226.1,1023.4" fill="#07fff4"/><polygon points="413.8,963.6 424.5,949 413,944.9 402.3,959.5" fill="#f0ff8c"/><polygon points="358.4,992.3 369.4,981.5 358.2,978.8 347.3,989.5" fill="#7fff7b"/><polygon points="258.6,1019.9 270.1,1015.5 259.5,1015.3 248.1,1019.8" fill="#18ffda"/><polygon points="280.7,1016.3 292.1,1010.6 281.4,1009.8 270.1,1015.5" fill="#29ffbf"/><polygon points="380.7,985 391.5,972.9 380.2,969.5 369.4,981.5" fill="#a7ff85"/><polygon points="436.1,953.7 446.8,937.7 435.2,933.1 424.5,949" fill="#ffe98e"/><polygon points="302.9,1012.1 314.1,1005.1 303.3,1003.7 292.1,1010.6" fill="#48ffac"/><polygon points="325.1,1007.3 336.3,999 325.3,996.9 314.1,1005.1" fill="#60ff9b"/><polygon points="403,977 413.8,963.6 402.3,959.5 391.5,972.9" fill="#caff8b"/><polygon points="458.6,943.1 469.3,925.8 457.5,920.5 446.8,937.7" fill="#ffc38e"/><polygon points="347.4,1001.9 358.4,992.3 347.3,989.5 336.3,999" fill="#73ff8c"/><polygon points="180,1026.3 192.2,1027 182.2,1028.9 170.1,1028.2" fill="#007f85"/><polygon points="202.3,1025.8 214.3,1025.3 204.2,1026.5 192.2,1027" fill="#008584"/><polygon points="425.3,968.4 436.1,953.7 424.5,949 413.8,963.6" fill="#ebff8e"/><polygon points="224.6,1024.7 236.4,1022.9 226.1,1023.4 214.3,1025.3" fill="#00fae9"/><polygon points="369.7,995.8 380.7,985 369.4,981.5 358.4,992.3" fill="#83ff80"/><polygon points="246.9,1023 258.6,1019.9 248.1,1019.8 236.4,1022.9" fill="#0affdb"/><polygon points="269.2,1020.7 280.7,1016.3 270.1,1015.5 258.6,1019.9" fill="#1bffc7"/><polygon points="447.8,959.1 458.6,943.1 446.8,937.7 436.1,953.7" fill="#fff18f"/><polygon points="392.1,989.1 403,977 391.5,972.9 380.7,985" fill="#a6ff88"/><polygon points="291.5,1017.8 302.9,1012.1 292.1,1010.6 280.7,1016.3" fill="#30ffb4"/><polygon points="313.9,1014.3 325.1,1007.3 314.1,1005.1 302.9,1012.1" fill="#4effa7"/><polygon points="414.5,981.8 425.3,968.4 413.8,963.6 403,977" fill="#c6ff8d"/><polygon points="336.3,1010.1 347.4,1001.9 336.3,999 325.1,1007.3" fill="#66ff9b"/><polygon points="470.4,949.2 481.1,931.8 469.3,925.8 458.6,943.1" fill="#ffcd8f"/><polygon points="358.7,1005.3 369.7,995.8 358.4,992.3 347.4,1001.9" fill="#77ff8f"/><polygon points="437,973.8 447.8,959.1 436.1,953.7 425.3,968.4" fill="#e5ff8f"/><polygon points="381.1,1000 392.1,989.1 380.7,985 369.7,995.8" fill="#84ff83"/><polygon points="190.1,1025 202.3,1025.8 192.2,1027 180,1026.3" fill="#008576"/><polygon points="167.6,1024.1 180,1026.3 170.1,1028.2 157.7,1026.1" fill="#008577"/><polygon points="212.6,1025.2 224.6,1024.7 214.3,1025.3 202.3,1025.8" fill="#008573"/><polygon points="235.1,1024.8 246.9,1023 236.4,1022.9 224.6,1024.7" fill="#00fcd0"/><polygon points="257.6,1023.8 269.2,1020.7 258.6,1019.9 246.9,1023" fill="#0dffc6"/><polygon points="459.7,965.2 470.4,949.2 458.6,943.1 447.8,959.1" fill="#fffa8f"/><polygon points="403.6,993.9 414.5,981.8 403,977 392.1,989.1" fill="#a4ff8a"/><polygon points="280,1022.2 291.5,1017.8 280.7,1016.3 269.2,1020.7" fill="#1effb8"/><polygon points="302.5,1019.9 313.9,1014.3 302.9,1012.1 291.5,1017.8" fill="#37ffad"/><polygon points="325,1017.1 336.3,1010.1 325.1,1007.3 313.9,1014.3" fill="#54ffa5"/><polygon points="426.2,987.3 437,973.8 425.3,968.4 414.5,981.8" fill="#c0ff8f"/><polygon points="482.4,956 493.1,938.6 481.1,931.8 470.4,949.2" fill="#ffd88f"/><polygon points="347.5,1013.6 358.7,1005.3 347.4,1001.9 336.3,1010.1" fill="#6aff9d"/><polygon points="448.9,980 459.7,965.2 447.8,959.1 437,973.8" fill="#dcff8f"/><polygon points="370.1,1009.5 381.1,1000 369.7,995.8 358.7,1005.3" fill="#7aff94"/><polygon points="392.7,1004.8 403.6,993.9 392.1,989.1 381.1,1000" fill="#85ff88"/><polygon points="471.6,972.1 482.4,956 470.4,949.2 459.7,965.2" fill="#f9ff8f"/><polygon points="415.3,999.5 426.2,987.3 414.5,981.8 403.6,993.9" fill="#9eff8c"/><polygon points="223.1,1025.2 235.1,1024.8 224.6,1024.7 212.6,1025.2" fill="#00f1b6"/><polygon points="200.4,1024.3 212.6,1025.2 202.3,1025.8 190.1,1025" fill="#008565"/><polygon points="245.7,1025.5 257.6,1023.8 246.9,1023 235.1,1024.8" fill="#00febb"/><polygon points="177.7,1022.7 190.1,1025 180,1026.3 167.6,1024.1" fill="#008563"/><polygon points="268.4,1025.2 280,1022.2 269.2,1020.7 257.6,1023.8" fill="#10ffb6"/><polygon points="155,1020.6 167.6,1024.1 157.7,1026.1 145.1,1022.7" fill="#00855e"/><polygon points="291,1024.3 302.5,1019.9 291.5,1017.8 280,1022.2" fill="#21ffaf"/><polygon points="494.4,963.5 505.2,946.1 493.1,938.6 482.4,956" fill="#ffe68f"/><polygon points="313.6,1022.7 325,1017.1 313.9,1014.3 302.5,1019.9" fill="#3cffaa"/><polygon points="438,993.5 448.9,980 437,973.8 426.2,987.3" fill="#b8ff8f"/><polygon points="336.2,1020.6 347.5,1013.6 336.3,1010.1 325,1017.1" fill="#58ffa7"/><polygon points="358.9,1017.8 370.1,1009.5 358.7,1005.3 347.5,1013.6" fill="#6effa2"/><polygon points="460.8,986.9 471.6,972.1 459.7,965.2 448.9,980" fill="#d1ff8f"/><polygon points="381.6,1014.4 392.7,1004.8 381.1,1000 370.1,1009.5" fill="#7dff9b"/><polygon points="404.3,1010.4 415.3,999.5 403.6,993.9 392.7,1004.8" fill="#87ff91"/><polygon points="483.6,979.7 494.4,963.5 482.4,956 471.6,972.1" fill="#ebff8f"/><polygon points="427.1,1005.8 438,993.5 426.2,987.3 415.3,999.5" fill="#96ff8d"/><polygon points="506.6,971.8 517.3,954.3 505.2,946.1 494.4,963.5" fill="#fff68f"/><polygon points="449.9,1000.5 460.8,986.9 448.9,980 438,993.5" fill="#adff8f"/><polygon points="256.5,1026.9 268.4,1025.2 257.6,1023.8 245.7,1025.5" fill="#01ffaa"/><polygon points="233.7,1025.9 245.7,1025.5 235.1,1024.8 223.1,1025.2" fill="#00f2a1"/><polygon points="279.3,1027.3 291,1024.3 280,1022.2 268.4,1025.2" fill="#12ffab"/><polygon points="210.9,1024.2 223.1,1025.2 212.6,1025.2 200.4,1024.3" fill="#008556"/><polygon points="302.1,1027.1 313.6,1022.7 302.5,1019.9 291,1024.3" fill="#23ffa9"/><polygon points="188,1022 200.4,1024.3 190.1,1025 177.7,1022.7" fill="#008551"/><polygon points="324.9,1026.3 336.2,1020.6 325,1017.1 313.6,1022.7" fill="#41ffaa"/><polygon points="165.1,1019.1 177.7,1022.7 167.6,1024.1 155,1020.6" fill="#00854a"/><polygon points="347.6,1024.8 358.9,1017.8 347.5,1013.6 336.2,1020.6" fill="#5cffab"/><polygon points="472.8,994.6 483.6,979.7 471.6,972.1 460.8,986.9" fill="#c3ff8f"/><polygon points="142.1,1015.5 155,1020.6 145.1,1022.7 132.2,1017.8" fill="#008541"/><polygon points="370.4,1022.7 381.6,1014.4 370.1,1009.5 358.9,1017.8" fill="#70ffa8"/><polygon points="393.3,1020 404.3,1010.4 392.7,1004.8 381.6,1014.4" fill="#7effa3"/><polygon points="495.8,988 506.6,971.8 494.4,963.5 483.6,979.7" fill="#dcff8f"/><polygon points="416.1,1016.7 427.1,1005.8 415.3,999.5 404.3,1010.4" fill="#88ff9a"/><polygon points="439,1012.8 449.9,1000.5 438,993.5 427.1,1005.8" fill="#8dff8e"/><polygon points="518.8,980.8 529.6,963.3 517.3,954.3 506.6,971.8" fill="#f7ff8f"/><polygon points="462,1008.2 472.8,994.6 460.8,986.9 449.9,1000.5" fill="#a0ff8f"/><polygon points="290.4,1030.1 302.1,1027.1 291,1024.3 279.3,1027.3" fill="#15ffa5"/><polygon points="313.3,1030.6 324.9,1026.3 313.6,1022.7 302.1,1027.1" fill="#25ffa8"/><polygon points="267.5,1029 279.3,1027.3 268.4,1025.2 256.5,1026.9" fill="#03ff9e"/><polygon points="485,1003 495.8,988 483.6,979.7 472.8,994.6" fill="#b4ff8f"/><polygon points="336.2,1030.5 347.6,1024.8 336.2,1020.6 324.9,1026.3" fill="#44ffae"/><polygon points="244.5,1027.2 256.5,1026.9 245.7,1025.5 233.7,1025.9" fill="#00f491"/><polygon points="359.2,1029.7 370.4,1022.7 358.9,1017.8 347.6,1024.8" fill="#5effb1"/><polygon points="221.5,1024.8 233.7,1025.9 223.1,1025.2 210.9,1024.2" fill="#00854a"/><polygon points="382.1,1028.4 393.3,1020 381.6,1014.4 370.4,1022.7" fill="#72ffb1"/><polygon points="198.4,1021.8 210.9,1024.2 200.4,1024.3 188,1022" fill="#008542"/><polygon points="508,997.1 518.8,980.8 506.6,971.8 495.8,988" fill="#caff8f"/><polygon points="405,1026.4 416.1,1016.7 404.3,1010.4 393.3,1020" fill="#7fffad"/><polygon points="175.3,1018.2 188,1022 177.7,1022.7 165.1,1019.1" fill="#008538"/><polygon points="428,1023.8 439,1012.8 427.1,1005.8 416.1,1016.7" fill="#87ffa6"/><polygon points="152.2,1013.9 165.1,1019.1 155,1020.6 142.1,1015.5" fill="#00852c"/><polygon points="531.2,990.6 542,973 529.6,963.3 518.8,980.8" fill="#e2ff8f"/><polygon points="451,1020.5 462,1008.2 449.9,1000.5 439,1012.8" fill="#8cff9b"/><polygon points="129,1009 142.1,1015.5 132.2,1017.8 119.1,1011.4" fill="#00851d"/><polygon points="474.1,1016.6 485,1003 472.8,994.6 462,1008.2" fill="#90ff8f"/><polygon points="497.2,1012.1 508,997.1 495.8,988 485,1003" fill="#a2ff8f"/><polygon points="324.7,1034.8 336.2,1030.5 324.9,1026.3 313.3,1030.6" fill="#27ffab"/><polygon points="347.8,1035.4 359.2,1029.7 347.6,1024.8 336.2,1030.5" fill="#47ffb5"/><polygon points="301.6,1033.6 313.3,1030.6 302.1,1027.1 290.4,1030.1" fill="#17ffa3"/><polygon points="520.4,1007 531.2,990.6 518.8,980.8 508,997.1" fill="#b6ff8f"/><polygon points="370.8,1035.4 382.1,1028.4 370.4,1022.7 359.2,1029.7" fill="#60ffba"/><polygon points="278.5,1031.7 290.4,1030.1 279.3,1027.3 267.5,1029" fill="#05ff97"/><polygon points="393.9,1034.7 405,1026.4 393.3,1020 382.1,1028.4" fill="#72ffbb"/><polygon points="255.4,1029.3 267.5,1029 256.5,1026.9 244.5,1027.2" fill="#00f685"/><polygon points="416.9,1033.4 428,1023.8 416.1,1016.7 405,1026.4" fill="#7fffb8"/><polygon points="232.3,1026.1 244.5,1027.2 233.7,1025.9 221.5,1024.8" fill="#00e970"/><polygon points="440,1031.5 451,1020.5 439,1012.8 428,1023.8" fill="#87ffb3"/><polygon points="543.6,1001.2 554.4,983.5 542,973 531.2,990.6" fill="#ccff8d"/><polygon points="209,1022.4 221.5,1024.8 210.9,1024.2 198.4,1021.8" fill="#008536"/><polygon points="463.2,1029 474.1,1016.6 462,1008.2 451,1020.5" fill="#8bffaa"/><polygon points="185.8,1018 198.4,1021.8 188,1022 175.3,1018.2" fill="#008529"/><polygon points="486.3,1025.8 497.2,1012.1 485,1003 474.1,1016.6" fill="#8dff9d"/><polygon points="162.4,1013 175.3,1018.2 165.1,1019.1 152.2,1013.9" fill="#00851a"/><polygon points="509.6,1022 520.4,1007 508,997.1 497.2,1012.1" fill="#8eff8e"/><polygon points="139,1007.3 152.2,1013.9 142.1,1015.5 129,1009" fill="#008509"/><polygon points="532.8,1017.6 543.6,1001.2 531.2,990.6 520.4,1007" fill="#9fff8d"/><polygon points="115.5,1001 129,1009 119.1,1011.4 105.6,1003.5" fill="#0b8500"/><polygon points="359.4,1041.1 370.8,1035.4 359.2,1029.7 347.8,1035.4" fill="#48ffbf"/><polygon points="382.6,1041.8 393.9,1034.7 382.1,1028.4 370.8,1035.4" fill="#60ffc5"/><polygon points="336.2,1039.7 347.8,1035.4 336.2,1030.5 324.7,1034.8" fill="#2affb2"/><polygon points="405.8,1041.8 416.9,1033.4 405,1026.4 393.9,1034.7" fill="#72ffc8"/><polygon points="556.2,1012.5 567,994.8 554.4,983.5 543.6,1001.2" fill="#b2ff8c"/><polygon points="313,1037.8 324.7,1034.8 313.3,1030.6 301.6,1033.6" fill="#18ffa6"/><polygon points="429,1041.3 440,1031.5 428,1023.8 416.9,1033.4" fill="#7effc6"/><polygon points="289.8,1035.2 301.6,1033.6 290.4,1030.1 278.5,1031.7" fill="#07ff94"/><polygon points="452.2,1040.1 463.2,1029 451,1020.5 440,1031.5" fill="#85ffc2"/><polygon points="266.5,1032 278.5,1031.7 267.5,1029 255.4,1029.3" fill="#00f77e"/><polygon points="475.4,1038.2 486.3,1025.8 474.1,1016.6 463.2,1029" fill="#89ffba"/><polygon points="243.2,1028.1 255.4,1029.3 244.5,1027.2 232.3,1026.1" fill="#00ea64"/><polygon points="498.7,1035.8 509.6,1022 497.2,1012.1 486.3,1025.8" fill="#8bffb0"/><polygon points="219.8,1023.6 232.3,1026.1 221.5,1024.8 209,1022.4" fill="#00852c"/><polygon points="522,1032.7 532.8,1017.6 520.4,1007 509.6,1022" fill="#8cffa2"/><polygon points="196.4,1018.5 209,1022.4 198.4,1021.8 185.8,1018" fill="#00851d"/><polygon points="545.4,1029 556.2,1012.5 543.6,1001.2 532.8,1017.6" fill="#8bff92"/><polygon points="172.9,1012.7 185.8,1018 175.3,1018.2 162.4,1013" fill="#00850b"/><polygon points="417.8,1049.7 429,1041.3 416.9,1033.4 405.8,1041.8" fill="#70ffd7"/><polygon points="394.5,1048.9 405.8,1041.8 393.9,1034.7 382.6,1041.8" fill="#60ffd3"/><polygon points="149.3,1006.3 162.4,1013 152.2,1013.9 139,1007.3" fill="#098500"/><polygon points="441.1,1049.8 452.2,1040.1 440,1031.5 429,1041.3" fill="#7cffd7"/><polygon points="371.2,1047.5 382.6,1041.8 370.8,1035.4 359.4,1041.1" fill="#49ffcb"/><polygon points="464.4,1049.4 475.4,1038.2 463.2,1029 452.2,1040.1" fill="#83ffd3"/><polygon points="347.9,1045.4 359.4,1041.1 347.8,1035.4 336.2,1039.7" fill="#2bffbd"/><polygon points="487.8,1048.3 498.7,1035.8 486.3,1025.8 475.4,1038.2" fill="#87ffcd"/><polygon points="324.6,1042.7 336.2,1039.7 324.7,1034.8 313,1037.8" fill="#19ffad"/><polygon points="511.1,1046.5 522,1032.7 509.6,1022 498.7,1035.8" fill="#89ffc5"/><polygon points="301.2,1039.4 313,1037.8 301.6,1033.6 289.8,1035.2" fill="#08ff97"/><polygon points="125.6,999.1 139,1007.3 129,1009 115.5,1001" fill="#208500"/><polygon points="534.5,1044.2 545.4,1029 532.8,1017.6 522,1032.7" fill="#89ffba"/><polygon points="277.8,1035.4 289.8,1035.2 278.5,1031.7 266.5,1032" fill="#00f87b"/><polygon points="254.3,1030.8 266.5,1032 255.4,1029.3 243.2,1028.1" fill="#00eb5d"/><polygon points="230.8,1025.6 243.2,1028.1 232.3,1026.1 219.8,1023.6" fill="#008525"/><polygon points="207.1,1019.6 219.8,1023.6 209,1022.4 196.4,1018.5" fill="#008512"/><polygon points="453.4,1059.2 464.4,1049.4 452.2,1040.1 441.1,1049.8" fill="#79ffea"/><polygon points="430,1058.3 441.1,1049.8 429,1041.3 417.8,1049.7" fill="#6effe9"/><polygon points="476.8,1059.4 487.8,1048.3 475.4,1038.2 464.4,1049.4" fill="#80ffe8"/><polygon points="406.6,1056.8 417.8,1049.7 405.8,1041.8 394.5,1048.9" fill="#5effe5"/><polygon points="500.2,1059 511.1,1046.5 498.7,1035.8 487.8,1048.3" fill="#84ffe4"/><polygon points="383.1,1054.6 394.5,1048.9 382.6,1041.8 371.2,1047.5" fill="#49ffdb"/><polygon points="183.5,1013.1 196.4,1018.5 185.8,1018 172.9,1012.7" fill="#028500"/><polygon points="523.7,1058 534.5,1044.2 522,1032.7 511.1,1046.5" fill="#86ffdd"/><polygon points="359.7,1051.8 371.2,1047.5 359.4,1041.1 347.9,1045.4" fill="#2cffcb"/><polygon points="336.2,1048.4 347.9,1045.4 336.2,1039.7 324.6,1042.7" fill="#1affb8"/><polygon points="159.7,1005.9 172.9,1012.7 162.4,1013 149.3,1006.3" fill="#198500"/><polygon points="312.7,1044.3 324.6,1042.7 313,1037.8 301.2,1039.4" fill="#09ff9d"/><polygon points="289.2,1039.6 301.2,1039.4 289.8,1035.2 277.8,1035.4" fill="#00fa7d"/><polygon points="135.8,998 149.3,1006.3 139,1007.3 125.6,999.1" fill="#328500"/><polygon points="265.5,1034.2 277.8,1035.4 266.5,1032 254.3,1030.8" fill="#00ec59"/><polygon points="241.8,1028.2 254.3,1030.8 243.2,1028.1 230.8,1025.6" fill="#00e036"/><polygon points="489.2,1070.3 500.2,1059 487.8,1048.3 476.8,1059.4" fill="#7dfeff"/><polygon points="465.7,1069.3 476.8,1059.4 464.4,1049.4 453.4,1059.2" fill="#76fdff"/><polygon points="512.8,1070.6 523.7,1058 511.1,1046.5 500.2,1059" fill="#81fffe"/><polygon points="442.2,1067.7 453.4,1059.2 441.1,1049.8 430,1058.3" fill="#6cffff"/><polygon points="418.7,1065.4 430,1058.3 417.8,1049.7 406.6,1056.8" fill="#5cfff9"/><polygon points="395.2,1062.5 406.6,1056.8 394.5,1048.9 383.1,1054.6" fill="#47ffef"/><polygon points="218.1,1021.5 230.8,1025.6 219.8,1023.6 207.1,1019.6" fill="#00850b"/><polygon points="371.6,1059 383.1,1054.6 371.2,1047.5 359.7,1051.8" fill="#2cffde"/><polygon points="348,1054.8 359.7,1051.8 347.9,1045.4 336.2,1048.4" fill="#1bffc7"/><polygon points="194.2,1014.2 207.1,1019.6 196.4,1018.5 183.5,1013.1" fill="#0c8500"/><polygon points="324.4,1050 336.2,1048.4 324.6,1042.7 312.7,1044.3" fill="#0affa9"/><polygon points="170.3,1006.1 183.5,1013.1 172.9,1012.7 159.7,1005.9" fill="#268500"/><polygon points="300.7,1044.5 312.7,1044.3 301.2,1039.4 289.2,1039.6" fill="#00fa83"/><polygon points="501.8,1081.9 512.8,1070.6 500.2,1059 489.2,1070.3" fill="#79e2ff"/><polygon points="478.2,1080.2 489.2,1070.3 476.8,1059.4 465.7,1069.3" fill="#72e3ff"/><polygon points="276.9,1038.3 289.2,1039.6 277.8,1035.4 265.5,1034.2" fill="#00ed5b"/><polygon points="454.6,1077.8 465.7,1069.3 453.4,1059.2 442.2,1067.7" fill="#68e6ff"/><polygon points="146.2,997.4 159.7,1005.9 149.3,1006.3 135.8,998" fill="#428500"/><polygon points="431,1074.8 442.2,1067.7 430,1058.3 418.7,1065.4" fill="#59edff"/><polygon points="407.4,1071.2 418.7,1065.4 406.6,1056.8 395.2,1062.5" fill="#45f8ff"/><polygon points="253.1,1031.5 265.5,1034.2 254.3,1030.8 241.8,1028.2" fill="#00e132"/><polygon points="383.7,1066.9 395.2,1062.5 383.1,1054.6 371.6,1059" fill="#2bfff4"/><polygon points="229.2,1024.1 241.8,1028.2 230.8,1025.6 218.1,1021.5" fill="#008506"/><polygon points="360,1061.9 371.6,1059 359.7,1051.8 348,1054.8" fill="#1bffda"/><polygon points="336.2,1056.4 348,1054.8 336.2,1048.4 324.4,1050" fill="#0bffb9"/><polygon points="205.2,1015.9 218.1,1021.5 207.1,1019.6 194.2,1014.2" fill="#148500"/><polygon points="490.8,1091.8 501.8,1081.9 489.2,1070.3 478.2,1080.2" fill="#6ec4ff"/><polygon points="312.4,1050.1 324.4,1050 312.7,1044.3 300.7,1044.5" fill="#00fb8e"/><polygon points="467.1,1088.7 478.2,1080.2 465.7,1069.3 454.6,1077.8" fill="#64c9ff"/><polygon points="181,1007.1 194.2,1014.2 183.5,1013.1 170.3,1006.1" fill="#318500"/><polygon points="443.4,1085 454.6,1077.8 442.2,1067.7 431,1074.8" fill="#56d0ff"/><polygon points="288.5,1043.2 300.7,1044.5 289.2,1039.6 276.9,1038.3" fill="#00ee60"/><polygon points="419.7,1080.6 431,1074.8 418.7,1065.4 407.4,1071.2" fill="#43ddff"/><polygon points="395.9,1075.6 407.4,1071.2 395.2,1062.5 383.7,1066.9" fill="#2af0ff"/><polygon points="156.8,997.6 170.3,1006.1 159.7,1005.9 146.2,997.4" fill="#4f8500"/><polygon points="264.5,1035.6 276.9,1038.3 265.5,1034.2 253.1,1031.5" fill="#00e233"/><polygon points="372.1,1069.9 383.7,1066.9 371.6,1059 360,1061.9" fill="#1bfff2"/><polygon points="240.4,1027.4 253.1,1031.5 241.8,1028.2 229.2,1024.1" fill="#008503"/><polygon points="348.2,1063.5 360,1061.9 348,1054.8 336.2,1056.4" fill="#0bffcd"/><polygon points="479.7,1100.5 490.8,1091.8 478.2,1080.2 467.1,1088.7" fill="#60a6ff"/><polygon points="216.3,1018.4 229.2,1024.1 218.1,1021.5 205.2,1015.9" fill="#198500"/><polygon points="455.9,1096 467.1,1088.7 454.6,1077.8 443.4,1085" fill="#52afff"/><polygon points="324.2,1056.5 336.2,1056.4 324.4,1050 312.4,1050.1" fill="#00fc9f"/><polygon points="432.1,1090.8 443.4,1085 431,1074.8 419.7,1080.6" fill="#3fbcff"/><polygon points="300.2,1048.8 312.4,1050.1 300.7,1044.5 288.5,1043.2" fill="#00ef6b"/><polygon points="192,1008.8 205.2,1015.9 194.2,1014.2 181,1007.1" fill="#398500"/><polygon points="408.2,1085 419.7,1080.6 407.4,1071.2 395.9,1075.6" fill="#27d1ff"/><polygon points="276.1,1040.5 288.5,1043.2 276.9,1038.3 264.5,1035.6" fill="#00e338"/><polygon points="384.3,1078.6 395.9,1075.6 383.7,1066.9 372.1,1069.9" fill="#1af0ff"/><polygon points="167.6,998.5 181,1007.1 170.3,1006.1 156.8,997.6" fill="#5a8500"/><polygon points="360.3,1071.5 372.1,1069.9 360,1061.9 348.2,1063.5" fill="#0cffe6"/><polygon points="251.9,1031.4 264.5,1035.6 253.1,1031.5 240.4,1027.4" fill="#00d805"/><polygon points="468.5,1107.7 479.7,1100.5 467.1,1088.7 455.9,1096" fill="#4e89ff"/><polygon points="336.2,1063.7 348.2,1063.5 336.2,1056.4 324.2,1056.5" fill="#00fcb3"/><polygon points="444.6,1101.8 455.9,1096 443.4,1085 432.1,1090.8" fill="#3c97ff"/><polygon points="227.5,1021.7 240.4,1027.4 229.2,1024.1 216.3,1018.4" fill="#1c8500"/><polygon points="420.6,1095.3 432.1,1090.8 419.7,1080.6 408.2,1085" fill="#26adff"/><polygon points="312.1,1055.2 324.2,1056.5 312.4,1050.1 300.2,1048.8" fill="#00f07a"/><polygon points="396.6,1088.1 408.2,1085 395.9,1075.6 384.3,1078.6" fill="#19cfff"/><polygon points="203.1,1011.2 216.3,1018.4 205.2,1015.9 192,1008.8" fill="#3e8500"/><polygon points="287.8,1046 300.2,1048.8 288.5,1043.2 276.1,1040.5" fill="#00e441"/><polygon points="372.5,1080.2 384.3,1078.6 372.1,1069.9 360.3,1071.5" fill="#0bfaff"/><polygon points="178.5,1000.1 192,1008.8 181,1007.1 167.6,998.5" fill="#628500"/><polygon points="457.2,1113.7 468.5,1107.7 455.9,1096 444.6,1101.8" fill="#386dff"/><polygon points="263.4,1036.2 276.1,1040.5 264.5,1035.6 251.9,1031.4" fill="#00d90a"/><polygon points="348.3,1071.6 360.3,1071.5 348.2,1063.5 336.2,1063.7" fill="#00fdcd"/><polygon points="433.2,1106.3 444.6,1101.8 432.1,1090.8 420.6,1095.3" fill="#2484ff"/><polygon points="239,1025.6 251.9,1031.4 240.4,1027.4 227.5,1021.7" fill="#1c8500"/><polygon points="324.1,1062.4 336.2,1063.7 324.2,1056.5 312.1,1055.2" fill="#00f18d"/><polygon points="409.1,1098.4 420.6,1095.3 408.2,1085 396.6,1088.1" fill="#19aaff"/><polygon points="214.4,1014.4 227.5,1021.7 216.3,1018.4 203.1,1011.2" fill="#418500"/><polygon points="299.7,1052.4 312.1,1055.2 300.2,1048.8 287.8,1046" fill="#00e54f"/><polygon points="384.9,1089.7 396.6,1088.1 384.3,1078.6 372.5,1080.2" fill="#0bd8ff"/><polygon points="360.6,1080.3 372.5,1080.2 360.3,1071.5 348.3,1071.6" fill="#00fdec"/><polygon points="275.2,1041.7 287.8,1046 276.1,1040.5 263.4,1036.2" fill="#00da12"/><polygon points="445.9,1118.2 457.2,1113.7 444.6,1101.8 433.2,1106.3" fill="#2357ff"/><polygon points="189.6,1002.4 203.1,1011.2 192,1008.8 178.5,1000.1" fill="#688500"/><polygon points="421.7,1109.5 433.2,1106.3 420.6,1095.3 409.1,1098.4" fill="#1880ff"/><polygon points="336.2,1070.3 348.3,1071.6 336.2,1063.7 324.1,1062.4" fill="#00f1a5"/><polygon points="250.6,1030.4 263.4,1036.2 251.9,1031.4 239,1025.6" fill="#1a8500"/><polygon points="397.4,1100 409.1,1098.4 396.6,1088.1 384.9,1089.7" fill="#0bb1ff"/><polygon points="311.7,1059.5 324.1,1062.4 312.1,1055.2 299.7,1052.4" fill="#00e661"/><polygon points="225.8,1018.3 239,1025.6 227.5,1021.7 214.4,1014.4" fill="#418500"/><polygon points="373,1089.9 384.9,1089.7 372.5,1080.2 360.6,1080.3" fill="#00ebfd"/><polygon points="287.1,1048.1 299.7,1052.4 287.8,1046 275.2,1041.7" fill="#00db1f"/><polygon points="434.4,1121.3 445.9,1118.2 433.2,1106.3 421.7,1109.5" fill="#1651ff"/><polygon points="200.9,1005.4 214.4,1014.4 203.1,1011.2 189.6,1002.4" fill="#6b8500"/><polygon points="348.5,1079 360.6,1080.3 348.3,1071.6 336.2,1070.3" fill="#00f2c2"/><polygon points="262.3,1035.9 275.2,1041.7 263.4,1036.2 250.6,1030.4" fill="#21d100"/><polygon points="410,1111.1 421.7,1109.5 409.1,1098.4 397.4,1100" fill="#0a85ff"/><polygon points="323.9,1067.5 336.2,1070.3 324.1,1062.4 311.7,1059.5" fill="#00e678"/><polygon points="385.5,1100.2 397.4,1100 384.9,1089.7 373,1089.9" fill="#00c3fd"/><polygon points="237.4,1022.9 250.6,1030.4 239,1025.6 225.8,1018.3" fill="#3f8500"/><polygon points="299.1,1055.2 311.7,1059.5 299.7,1052.4 287.1,1048.1" fill="#00dc30"/><polygon points="360.9,1088.6 373,1089.9 360.6,1080.3 348.5,1079" fill="#00f2e4"/><polygon points="212.4,1009.2 225.8,1018.3 214.4,1014.4 200.9,1005.4" fill="#6c8500"/><polygon points="422.7,1123.1 434.4,1121.3 421.7,1109.5 410,1111.1" fill="#0954ff"/><polygon points="274.3,1042.1 287.1,1048.1 275.2,1041.7 262.3,1035.9" fill="#16d200"/><polygon points="336.2,1076.2 348.5,1079 336.2,1070.3 323.9,1067.5" fill="#00e793"/><polygon points="398.1,1111.3 410,1111.1 397.4,1100 385.5,1100.2" fill="#0096fd"/><polygon points="249.2,1028.4 262.3,1035.9 250.6,1030.4 237.4,1022.9" fill="#3a8500"/><polygon points="311.3,1063.1 323.9,1067.5 311.7,1059.5 299.1,1055.2" fill="#00dc45"/><polygon points="373.5,1098.9 385.5,1100.2 373,1089.9 360.9,1088.6" fill="#00daf2"/><polygon points="224,1013.8 237.4,1022.9 225.8,1018.3 212.4,1009.2" fill="#6a8500"/><polygon points="286.3,1049.2 299.1,1055.2 287.1,1048.1 274.3,1042.1" fill="#06d200"/><polygon points="348.6,1085.7 360.9,1088.6 348.5,1079 336.2,1076.2" fill="#00e7b3"/><polygon points="410.9,1123.3 422.7,1123.1 410,1111.1 398.1,1111.3" fill="#0065fc"/><polygon points="261.2,1034.6 274.3,1042.1 262.3,1035.9 249.2,1028.4" fill="#338500"/><polygon points="323.7,1071.8 336.2,1076.2 323.9,1067.5 311.3,1063.1" fill="#00dd5f"/><polygon points="386.2,1110.1 398.1,1111.3 385.5,1100.2 373.5,1098.9" fill="#00b0f2"/><polygon points="235.8,1019.2 249.2,1028.4 237.4,1022.9 224,1013.8" fill="#658500"/><polygon points="361.2,1096.1 373.5,1098.9 360.9,1088.6 348.6,1085.7" fill="#00e8d7"/><polygon points="298.6,1057.1 311.3,1063.1 299.1,1055.2 286.3,1049.2" fill="#00d30e"/><polygon points="399,1122.1 410.9,1123.3 398.1,1111.3 386.2,1110.1" fill="#0081f2"/><polygon points="336.2,1081.3 348.6,1085.7 336.2,1076.2 323.7,1071.8" fill="#00de7d"/><polygon points="273.3,1041.6 286.3,1049.2 274.3,1042.1 261.2,1034.6" fill="#3fca00"/><polygon points="374,1107.3 386.2,1110.1 373.5,1098.9 361.2,1096.1" fill="#00d1e8"/><polygon points="311,1065.8 323.7,1071.8 311.3,1063.1 298.6,1057.1" fill="#00d426"/><polygon points="247.8,1025.4 261.2,1034.6 249.2,1028.4 235.8,1019.2" fill="#5e8500"/><polygon points="348.8,1091.7 361.2,1096.1 348.6,1085.7 336.2,1081.3" fill="#00de9f"/><polygon points="285.6,1049.5 298.6,1057.1 286.3,1049.2 273.3,1041.6" fill="#2dcb00"/><polygon points="386.8,1119.3 399,1122.1 386.2,1110.1 374,1107.3" fill="#00a4e9"/><polygon points="323.5,1075.3 336.2,1081.3 323.7,1071.8 311,1065.8" fill="#00d543"/><polygon points="260,1032.4 273.3,1041.6 261.2,1034.6 247.8,1025.4" fill="#558500"/><polygon points="361.6,1102.9 374,1107.3 361.2,1096.1 348.8,1091.7" fill="#00dfc6"/><polygon points="298,1058.2 311,1065.8 298.6,1057.1 285.6,1049.5" fill="#16cc00"/><polygon points="336.2,1085.7 348.8,1091.7 336.2,1081.3 323.5,1075.3" fill="#00d663"/><polygon points="272.3,1040.2 285.6,1049.5 273.3,1041.6 260,1032.4" fill="#498500"/><polygon points="374.5,1114.9 386.8,1119.3 374,1107.3 361.6,1102.9" fill="#00cedf"/><polygon points="310.6,1067.7 323.5,1075.3 311,1065.8 298,1058.2" fill="#00cd05"/><polygon points="349,1096.9 361.6,1102.9 348.8,1091.7 336.2,1085.7" fill="#00d688"/><polygon points="284.7,1048.8 298,1058.2 285.6,1049.5 272.3,1040.2" fill="#3a8500"/><polygon points="323.3,1078 336.2,1085.7 323.5,1075.3 310.6,1067.7" fill="#00ce23"/><polygon points="362,1109 374.5,1114.9 361.6,1102.9 349,1096.9" fill="#00d7b1"/><polygon points="297.4,1058.3 310.6,1067.7 298,1058.2 284.7,1048.8" fill="#3dc600"/><polygon points="336.2,1089.3 349,1096.9 336.2,1085.7 323.3,1078" fill="#00cf47"/><polygon points="310.1,1068.7 323.3,1078 310.6,1067.7 297.4,1058.3" fill="#20c700"/><polygon points="349.2,1101.3 362,1109 349,1096.9 336.2,1089.3" fill="#00cf6e"/><polygon points="323.1,1079.9 336.2,1089.3 323.3,1078 310.1,1068.7" fill="#00c801"/><polygon points="336.2,1092 349.2,1101.3 336.2,1089.3 323.1,1079.9" fill="#00c827"/></g>
<line x1="212.8" y1="1005.6" x2="212.8" y2="1013.6" stroke="#333" stroke-width="1.6"/>
<circle cx="212.8" cy="1005.6" r="5.3" fill="url(#sphr)" stroke="#600" stroke-width=".8"/>
<line x1="228.7" y1="1003.5" x2="228.7" y2="1012.5" stroke="#333" stroke-width="1.6"/>
<circle cx="228.7" cy="1003.5" r="5.3" fill="url(#sphr)" stroke="#600" stroke-width=".8"/>
<circle cx="446.2" cy="911.3" r="5.3" fill="url(#sphr)" stroke="#600" stroke-width=".8"/>
<circle cx="457.5" cy="1120.8" r="5.3" fill="#f6c8c8" stroke="#b08080" stroke-width=".9"/>
<text x="325.5" y="1297.6" font-size="16.5" fill="#333" text-anchor="end" stroke="#333" stroke-width=".3" textLength="31" lengthAdjust="spacingAndGlyphs">8.00</text>
<text x="270.1" y="1272.9" font-size="16.5" fill="#333" text-anchor="end" stroke="#333" stroke-width=".3" textLength="31" lengthAdjust="spacingAndGlyphs">9.00</text>
<text x="214.7" y="1248.1" font-size="16.5" fill="#333" text-anchor="end" stroke="#333" stroke-width=".3" textLength="42.5" lengthAdjust="spacingAndGlyphs">10.00</text>
<text x="159.3" y="1223.4" font-size="16.5" fill="#333" text-anchor="end" stroke="#333" stroke-width=".3" textLength="42.5" lengthAdjust="spacingAndGlyphs">11.00</text>
<text x="103.9" y="1198.7" font-size="16.5" fill="#333" text-anchor="end" stroke="#333" stroke-width=".3" textLength="42.5" lengthAdjust="spacingAndGlyphs">12.00</text>
<text x="347.7" y="1297.8" font-size="16.5" fill="#333" stroke="#333" stroke-width=".3" textLength="31.3" lengthAdjust="spacingAndGlyphs">1.50</text>
<text x="392" y="1278" font-size="16.5" fill="#333" stroke="#333" stroke-width=".3" textLength="31.3" lengthAdjust="spacingAndGlyphs">1.70</text>
<text x="436.4" y="1258.1" font-size="16.5" fill="#333" stroke="#333" stroke-width=".3" textLength="31.3" lengthAdjust="spacingAndGlyphs">1.90</text>
<text x="480.7" y="1238.3" font-size="16.5" fill="#333" stroke="#333" stroke-width=".3" textLength="31.3" lengthAdjust="spacingAndGlyphs">2.10</text>
<text x="525.1" y="1218.4" font-size="16.5" fill="#333" stroke="#333" stroke-width=".3" textLength="31.3" lengthAdjust="spacingAndGlyphs">2.30</text>
<text x="569.4" y="1198.6" font-size="16.5" fill="#333" stroke="#333" stroke-width=".3" textLength="31.3" lengthAdjust="spacingAndGlyphs">2.50</text>
<text x="101" y="1109.7" font-size="16.5" fill="#333" text-anchor="end" stroke="#333" stroke-width=".3" textLength="9.8" lengthAdjust="spacingAndGlyphs">0</text>
<text x="98.9" y="1066.4" font-size="16.5" fill="#333" text-anchor="end" stroke="#333" stroke-width=".3" textLength="28.4" lengthAdjust="spacingAndGlyphs">100</text>
<text x="96.8" y="1023.2" font-size="16.5" fill="#333" text-anchor="end" stroke="#333" stroke-width=".3" textLength="28.4" lengthAdjust="spacingAndGlyphs">200</text>
<text x="94.7" y="979.9" font-size="16.5" fill="#333" text-anchor="end" stroke="#333" stroke-width=".3" textLength="28.4" lengthAdjust="spacingAndGlyphs">300</text>
<text x="92.6" y="936.7" font-size="16.5" fill="#333" text-anchor="end" stroke="#333" stroke-width=".3" textLength="28.4" lengthAdjust="spacingAndGlyphs">400</text>
<text x="90.5" y="893.4" font-size="16.5" fill="#333" text-anchor="end" stroke="#333" stroke-width=".3" textLength="28.4" lengthAdjust="spacingAndGlyphs">500</text>
<text x="140.4" y="1276.4" font-size="16.5" fill="#333" text-anchor="middle" stroke="#333" stroke-width=".3" textLength="127.7" lengthAdjust="spacingAndGlyphs">C: Distance (cm)</text>
<text x="533.1" y="1276.4" font-size="16.5" fill="#333" text-anchor="middle" stroke="#333" stroke-width=".3" textLength="145.4" lengthAdjust="spacingAndGlyphs">A: Flow rate (ml/h)</text>
<text x="29" y="1113.8" font-size="23" fill="#333" stroke="#333" stroke-width=".3" textLength="141.7" lengthAdjust="spacingAndGlyphs" transform="rotate(-90 29 1113.8)">Diameter (nm)</text>
<path d="M98.8 1572.3L322.1 1501.8L545.2 1572.3M96.7 1529L322.1 1462.7L547.4 1529M94.7 1485.7L322.1 1423.6L549.6 1485.7M92.6 1442.4L322.2 1384.5L551.8 1442.3M90.6 1399L322.2 1345.4L554 1399M88.5 1355.7L322.2 1306.3L556.2 1355.6M154.6 1554.7L147 1343.4M210.4 1537.1L205.4 1331M266.2 1519.4L263.8 1318.7M489.5 1554.7L497.7 1343.3M433.7 1537.1L439.2 1331M377.9 1519.4L380.7 1318.6M102 1640.4L88.5 1355.7M322 1563.3L322.2 1306.3M541.8 1640.4L556.2 1355.6" fill="none" stroke="#2a2a2a" stroke-width="1.5"/>
<polygon points="321.8,1739.6 541.8,1640.4 322,1563.3 102,1640.4" fill="#666666" stroke="#111" stroke-width="1.9" stroke-linejoin="round"/>
<path d="M496 1661.1L497.2 1660.1L498.8 1658.7L499.9 1657.7L501.5 1656.4L502.7 1655.3L504.1 1654.1L505.4 1652.9L506.6 1651.8L508 1650.6L509.1 1649.6L510.6 1648.2L511.5 1647.4L513.2 1645.8L514.1 1645L515.8 1643.4L516.6 1642.6L518.2 1641.1L519.2 1640.2L520.3 1639.1L521.7 1637.8L522.5 1636.9L524.1 1635.3L524.9 1634.5" fill="none" stroke="#3636d6" stroke-width="3" stroke-linecap="round"/>
<path d="M438.5 1687L439.6 1686.1L441.6 1684.6L442.6 1683.9L444.6 1682.3L446 1681.3L447.6 1680L449.5 1678.6L450.6 1677.7L452.5 1676.2L453.5 1675.4L455.5 1673.8L456.4 1673.1L458.3 1671.5L459.3 1670.7L461.2 1669.2L462.4 1668.2L464 1666.9L465.3 1665.8L466.8 1664.5L468.1 1663.4L469.6 1662.2L470.9 1661L472.3 1659.8L473.5 1658.7L475 1657.4L476.1 1656.5L477.7 1655.1L478.6 1654.2L480.3 1652.7L481.2 1651.9L482.9 1650.3L483.8 1649.5L485.5 1647.9L486.3 1647.1L487.8 1645.7L488.9 1644.7L489.9 1643.7L491.3 1642.3L492.2 1641.5L493.8 1639.9L494.6 1639.1L495.8 1637.8L497 1636.6L497.8 1635.8L499.3 1634.2L500.1 1633.4L501.3 1632.2L502.4 1630.9L503.2 1630.1L504.6 1628.6L505.4 1627.7" fill="none" stroke="#3646d6" stroke-width="3" stroke-linecap="round"/>
<path d="M346.6 1728.4L348.9 1727.1L351.3 1725.7L353.6 1724.2L355 1723.4L357.1 1722.1L359.5 1720.7L361.8 1719.3L362.9 1718.6L365.2 1717.1L367.5 1715.7L369.3 1714.6L370.9 1713.5L373.2 1712.1L375.4 1710.6L376.5 1709.9L378.8 1708.5L381 1707L382.1 1706.3L384.3 1704.8L386.5 1703.3L387.5 1702.6L389.7 1701.1L391.7 1699.7L392.9 1698.9L395.1 1697.4L396.5 1696.4L398.3 1695.2L400.4 1693.7L401.4 1693L403.5 1691.5L405.3 1690.2L406.6 1689.2L408.6 1687.7L409.7 1687L411.7 1685.5L413.2 1684.4L414.7 1683.2L416.7 1681.7L417.7 1680.9L419.7 1679.4L420.7 1678.6L422.6 1677.1L423.7 1676.2L425.5 1674.8L427 1673.6L428.4 1672.5L430.1 1671.1L431.3 1670.2L433 1668.7L434.1 1667.8L435.9 1666.3L436.8 1665.5L438.6 1664L439.6 1663.2L441.3 1661.7L442.3 1660.8L443.8 1659.4L444.9 1658.4L446.3 1657.2L447.6 1656.1L448.6 1655.1L450.1 1653.7L451 1652.9L452.7 1651.3L453.5 1650.5L455.2 1648.9L456 1648.1L457.2 1646.9L458.5 1645.7L459.3 1644.9L460.9 1643.3L461.6 1642.5L462.9 1641.2L464 1640L464.7 1639.2L466.3 1637.6L467 1636.7L468 1635.7L469.2 1634.3L470 1633.5L471 1632.2L472.1 1631L472.8 1630.1L473.9 1628.8L474.8 1627.6L475.5 1626.8L476.5 1625.6L477.5 1624.3L478.1 1623.4L478.9 1622.4L480 1620.9L480.6 1620L481.2 1619.2" fill="none" stroke="#367fd6" stroke-width="3" stroke-linecap="round"/>
<path d="M303.3 1731.3L305.8 1729.9L308.3 1728.6L310.3 1727.5L312 1726.6L314.4 1725.2L316.8 1723.9L319.3 1722.5L321 1721.5L322.9 1720.5L325.3 1719.1L327.6 1717.7L329.9 1716.4L331.2 1715.7L333.5 1714.3L335.8 1712.9L337.5 1711.9L339.3 1710.8L341.6 1709.4L343.9 1707.9L345 1707.2L347.3 1705.8L349.5 1704.4L350.6 1703.7L352.8 1702.2L355 1700.8L356.1 1700.1L358.3 1698.6L360.5 1697.2L361.6 1696.5L363.7 1695L365.8 1693.5L366.9 1692.8L369 1691.3L370.4 1690.4L372.1 1689.1L374.2 1687.6L375.2 1686.9L377.2 1685.4L378.5 1684.5L380.3 1683.2L382.2 1681.7L383.3 1680.9L385.2 1679.4L386.2 1678.6L388.2 1677.1L389.1 1676.4L391.1 1674.8L392.2 1673.9L393.9 1672.5L395.2 1671.5L396.7 1670.2L398 1669.1L399.5 1667.9L400.8 1666.8L402.2 1665.6L403.4 1664.6L404.9 1663.2L405.8 1662.4L407.5 1660.9L408.4 1660.1L410.1 1658.5L410.9 1657.7L412.6 1656.1L413.4 1655.3L414.7 1654.1L415.9 1652.9L416.7 1652.1L418.3 1650.5L419.1 1649.7L420.4 1648.3L421.4 1647.3L422.2 1646.4L423.7 1644.8L424.4 1644L425.3 1642.9L426.6 1641.5L427.3 1640.7L428.3 1639.5L429.4 1638.2L430 1637.3L430.9 1636.2L432 1634.8L432.7 1633.9L433.3 1633L434.5 1631.5L435.1 1630.5L435.7 1629.6L436.5 1628.4L437.4 1627L438 1626.2L438.5 1625.3L439.2 1624.1L439.9 1622.7L440.5 1621.7L440.9 1620.8L441.4 1619.9L442 1618.7L442.5 1617.4L443 1616.3L443.4 1615.3L443.7 1614.4L444 1613.5L444.4 1612.4L444.7 1611.2L445 1610.1L445.2 1608.9L445.4 1607.8L445.6 1606.7L445.6 1606.7" fill="none" stroke="#36b8d6" stroke-width="3" stroke-linecap="round"/>
<path d="M355.5 1575.1L353.3 1575.2L350.5 1575.5L346.8 1575.9L344.6 1576.1L342.4 1576.3L338.9 1576.8L336.2 1577.1L334.2 1577.4L330.4 1577.9L328.2 1578.2L325.8 1578.5L322.3 1579.1L320.4 1579.4L316.6 1580L314.7 1580.3L311 1580.9L309.2 1581.2L305.5 1581.9L303.7 1582.2L300.2 1582.9L298.4 1583.3L294.9 1584L293.1 1584.3L289.7 1585L286.3 1585.7L284.5 1586.1L281.1 1586.9L278.9 1587.4L276.1 1588L272.8 1588.8L270.7 1589.3L267.9 1589.9L264.7 1590.7L261.5 1591.5L259.9 1591.9L256.7 1592.8L253.6 1593.6L250.8 1594.3L248.9 1594.8L245.8 1595.7L242.7 1596.5L239.7 1597.4L237.4 1598L235.2 1598.7L232.2 1599.6L229.2 1600.4L226.2 1601.3L223.3 1602.2L220.4 1603.1L217.5 1604.1L216.1 1604.5L213.2 1605.4L210.3 1606.4L207.5 1607.3L204.7 1608.2L201.9 1609.2L199.1 1610.2L196.3 1611.1L193.6 1612.1L190.9 1613.1L188.1 1614L185.4 1615L182.7 1616L180.1 1617L177.4 1618L174.8 1619.1L173.1 1619.7L170.8 1620.6L168.2 1621.6L165.7 1622.7L163.1 1623.7L160.5 1624.8L158 1625.8L155.4 1626.9L153.8 1627.6L151.7 1628.5L149.2 1629.6L146.7 1630.7L144.2 1631.8L141.8 1632.9L140.6 1633.5L138.1 1634.6L135.7 1635.7L133.3 1636.8L131.5 1637.7L129.7 1638.5L127.4 1639.7L125 1640.8L123.2 1641.7L121.5 1642.6L119.2 1643.7L116.9 1644.9L115.8 1645.5L114.6 1646.1" fill="none" stroke="#36b8d6" stroke-width="3" stroke-linecap="round"/>
<path d="M275.4 1718.7L278 1717.4L279.7 1716.5L281.7 1715.5L284.2 1714.2L286.7 1712.9L289.2 1711.6L291.6 1710.3L292.8 1709.6L295.2 1708.3L297.6 1706.9L300 1705.6L301.2 1704.9L303.5 1703.6L305.8 1702.2L308.1 1700.8L309.2 1700.1L311.5 1698.7L313.8 1697.3L314.9 1696.6L317.1 1695.2L319.3 1693.8L320.4 1693.1L322.5 1691.7L324.7 1690.3L325.7 1689.5L327.8 1688.1L329.5 1687L331 1685.9L333 1684.5L334 1683.7L336 1682.3L337.3 1681.3L339 1680L340.8 1678.7L342 1677.8L343.9 1676.3L344.8 1675.5L346.7 1674L347.6 1673.2L349.5 1671.7L350.4 1670.9L352.2 1669.4L353.1 1668.6L354.8 1667.1L355.7 1666.3L357.1 1665L358.3 1663.9L359.3 1662.9L360.7 1661.5L361.6 1660.7L363.1 1659.1L363.9 1658.3L365 1657.2L366.2 1655.9L367 1655L368.2 1653.6L369.1 1652.5L369.8 1651.7L371.1 1650.2L371.9 1649.2L372.5 1648.3L373.5 1647L374.4 1645.7L375 1644.9L375.6 1643.9L376.6 1642.4L377.2 1641.3L377.7 1640.4L378.2 1639.5L378.9 1638.2L379.6 1636.8L380 1635.9L380.4 1634.9L380.7 1634L381.1 1633L381.4 1631.7L381.7 1630.5L382 1629.3L382.2 1628.2L382.3 1627.1L382.3 1626L382.3 1624.9L382.3 1623.9L382.1 1622.9L381.9 1621.9L381.7 1620.9L381.4 1620L381 1619.1L380.4 1617.8L379.6 1616.5L379 1615.6L378.3 1614.8L376.9 1613.3L376 1612.6L374.3 1611.3L373.2 1610.6L371 1609.4L368.5 1608.2L365.8 1607.2L362.8 1606.3L359.5 1605.5L357.4 1605.1L354 1604.5L352 1604.2L348.5 1603.8L345.6 1603.6L343.2 1603.4L340.8 1603.3L338.2 1603.3L335.6 1603.2L332.8 1603.3L329.9 1603.3L326.9 1603.4L323.7 1603.6L320.7 1603.8L318.4 1603.9L316.1 1604.1L313.3 1604.4L309.6 1604.8L307.5 1605L305.4 1605.3L301.4 1605.8L299.4 1606.1L296.6 1606.5L293.6 1607L291.7 1607.3L287.9 1607.9L286.1 1608.2L282.4 1608.9L280.6 1609.2L277.1 1609.9L274.8 1610.4L271.8 1611L268.4 1611.8L266.7 1612.2L263.4 1612.9L260.2 1613.7L258.4 1614.1L255.2 1614.9L251.9 1615.8L250.4 1616.2L247.2 1617L244.1 1617.9L241 1618.8L239.4 1619.2L236.4 1620.1L233.4 1621L230.4 1621.9L227.4 1622.8L224.5 1623.7L221.8 1624.6L220.1 1625.2L217.3 1626.1L214.4 1627.1L211.6 1628.1L208.8 1629L206 1630L203.3 1631.1L200.5 1632.1L197.8 1633.1L195.2 1634.1L192.5 1635.2L189.9 1636.2L187.8 1637L185.9 1637.8L183.3 1638.9L180.8 1640L178.2 1641.1L175.7 1642.2L173.2 1643.3L170.9 1644.3L169.5 1645L167 1646.1L164.6 1647.3L162.2 1648.4L160.4 1649.3L158.6 1650.2L156.2 1651.4L153.9 1652.6L152.2 1653.4L150.4 1654.4L148.1 1655.6L145.8 1656.8L144.7 1657.4L142.5 1658.7" fill="none" stroke="#36d6bb" stroke-width="3" stroke-linecap="round"/>
<polygon points="321.8,1739.6 541.8,1640.4 322,1563.3 102,1640.4" fill="none" stroke="#111" stroke-width="1.9" stroke-linejoin="round"/>
<circle cx="321.8" cy="1739.6" r="2.5" fill="#000"/><circle cx="376.8" cy="1714.8" r="2.5" fill="#000"/><circle cx="431.8" cy="1690" r="2.5" fill="#000"/><circle cx="486.8" cy="1665.2" r="2.5" fill="#000"/><circle cx="541.8" cy="1640.4" r="2.5" fill="#000"/><circle cx="321.8" cy="1739.6" r="2.5" fill="#000"/><circle cx="266.8" cy="1714.8" r="2.5" fill="#000"/><circle cx="211.9" cy="1690" r="2.5" fill="#000"/><circle cx="156.9" cy="1665.2" r="2.5" fill="#000"/><circle cx="102" cy="1640.4" r="2.5" fill="#000"/><circle cx="98.8" cy="1572.3" r="2.5" fill="#000"/><circle cx="96.7" cy="1529" r="2.5" fill="#000"/><circle cx="94.7" cy="1485.7" r="2.5" fill="#000"/><circle cx="92.6" cy="1442.4" r="2.5" fill="#000"/><circle cx="90.6" cy="1399" r="2.5" fill="#000"/><circle cx="88.5" cy="1355.7" r="2.5" fill="#000"/>
<g stroke="#161616" stroke-width="1.05" stroke-linejoin="round"><polygon points="322.1,1454.4 332.2,1452.8 322.1,1453.8 312,1455.4" fill="#008ffa"/><polygon points="311.9,1456.1 322.1,1454.4 312,1455.4 301.8,1457.2" fill="#009afa"/><polygon points="332.3,1453.9 342.4,1452.4 332.2,1452.8 322.1,1454.4" fill="#00aefb"/><polygon points="301.5,1457.9 311.9,1456.1 301.8,1457.2 291.4,1459.1" fill="#00a4fb"/><polygon points="322.1,1455.5 332.3,1453.9 322.1,1454.4 311.9,1456.1" fill="#00bafc"/><polygon points="342.7,1454 352.8,1452.6 342.4,1452.4 332.3,1453.9" fill="#00c9fd"/><polygon points="291,1459.9 301.5,1457.9 291.4,1459.1 281,1461.1" fill="#00acfb"/><polygon points="311.7,1457.3 322.1,1455.5 311.9,1456.1 301.5,1457.9" fill="#00c4fd"/><polygon points="332.4,1455.6 342.7,1454 332.3,1453.9 322.1,1455.5" fill="#00d5fe"/><polygon points="353.2,1454.8 363.3,1453.4 352.8,1452.6 342.7,1454" fill="#00deff"/><polygon points="280.4,1462 291,1459.9 281,1461.1 270.4,1463.3" fill="#00b4fc"/><polygon points="301.2,1459.2 311.7,1457.3 301.5,1457.9 291,1459.9" fill="#00cefd"/><polygon points="322.1,1457.3 332.4,1455.6 322.1,1455.5 311.7,1457.3" fill="#00e0ff"/><polygon points="342.9,1456.3 353.2,1454.8 342.7,1454 332.4,1455.6" fill="#00ebff"/><polygon points="363.8,1456.2 373.9,1454.9 363.3,1453.4 353.2,1454.8" fill="#01eeff"/><polygon points="269.7,1464.3 280.4,1462 270.4,1463.3 259.6,1465.7" fill="#00bcfd"/><polygon points="290.6,1461.3 301.2,1459.2 291,1459.9 280.4,1462" fill="#00d7fe"/><polygon points="311.6,1459.2 322.1,1457.3 311.7,1457.3 301.2,1459.2" fill="#00eaff"/><polygon points="374.5,1458.2 384.6,1456.9 373.9,1454.9 363.8,1456.2" fill="#03f9ff"/><polygon points="332.6,1457.9 342.9,1456.3 332.4,1455.6 322.1,1457.3" fill="#01f6ff"/><polygon points="353.5,1457.6 363.8,1456.2 353.2,1454.8 342.9,1456.3" fill="#02fbff"/><polygon points="258.8,1466.7 269.7,1464.3 259.6,1465.7 248.8,1468.2" fill="#00c2fd"/><polygon points="279.9,1463.5 290.6,1461.3 280.4,1462 269.7,1464.3" fill="#00deff"/><polygon points="301,1461.2 311.6,1459.2 301.2,1459.2 290.6,1461.3" fill="#00f3ff"/><polygon points="385.3,1460.8 395.4,1459.6 384.6,1456.9 374.5,1458.2" fill="#04ffff"/><polygon points="322.1,1459.7 332.6,1457.9 322.1,1457.3 311.6,1459.2" fill="#02fffd"/><polygon points="364.3,1459.6 374.5,1458.2 363.8,1456.2 353.5,1457.6" fill="#04fff7"/><polygon points="343.2,1459.2 353.5,1457.6 342.9,1456.3 332.6,1457.9" fill="#03fff7"/><polygon points="247.9,1469.3 258.8,1466.7 248.8,1468.2 237.8,1470.8" fill="#00c7fe"/><polygon points="269,1465.8 279.9,1463.5 269.7,1464.3 258.8,1466.7" fill="#00e5ff"/><polygon points="396.3,1464.1 406.4,1463 395.4,1459.6 385.3,1460.8" fill="#06fffe"/><polygon points="290.2,1463.3 301,1461.2 290.6,1461.3 279.9,1463.5" fill="#01fbff"/><polygon points="375.1,1462.1 385.3,1460.8 374.5,1458.2 364.3,1459.6" fill="#06fff1"/><polygon points="311.4,1461.6 322.1,1459.7 311.6,1459.2 301,1461.2" fill="#03fff4"/><polygon points="353.9,1461.1 364.3,1459.6 353.5,1457.6 343.2,1459.2" fill="#05ffeb"/><polygon points="332.7,1460.9 343.2,1459.2 332.6,1457.9 322.1,1459.7" fill="#04ffec"/><polygon points="236.7,1472 247.9,1469.3 237.8,1470.8 226.7,1473.6" fill="#00cbfe"/><polygon points="258,1468.3 269,1465.8 258.8,1466.7 247.9,1469.3" fill="#00eaff"/><polygon points="407.4,1468.1 417.5,1467 406.4,1463 396.3,1464.1" fill="#07fcff"/><polygon points="279.4,1465.6 290.2,1463.3 279.9,1463.5 269,1465.8" fill="#02fffc"/><polygon points="386.1,1465.4 396.3,1464.1 385.3,1460.8 375.1,1462.1" fill="#07fff0"/><polygon points="300.7,1463.7 311.4,1461.6 301,1461.2 290.2,1463.3" fill="#04ffeb"/><polygon points="364.8,1463.6 375.1,1462.1 364.3,1459.6 353.9,1461.1" fill="#07ffe4"/><polygon points="322.1,1462.8 332.7,1460.9 322.1,1459.7 311.4,1461.6" fill="#05ffe2"/><polygon points="343.4,1462.7 353.9,1461.1 343.2,1459.2 332.7,1460.9" fill="#06ffe0"/><polygon points="225.5,1474.9 236.7,1472 226.7,1473.6 215.5,1476.6" fill="#00ceff"/><polygon points="418.6,1472.7 428.6,1471.6 417.5,1467 407.4,1468.1" fill="#08f4ff"/><polygon points="246.9,1471 258,1468.3 247.9,1469.3 236.7,1472" fill="#01efff"/><polygon points="397.2,1469.3 407.4,1468.1 396.3,1464.1 386.1,1465.4" fill="#08fff3"/><polygon points="268.3,1468 279.4,1465.6 269,1465.8 258,1468.3" fill="#03fff6"/><polygon points="375.8,1466.8 386.1,1465.4 375.1,1462.1 364.8,1463.6" fill="#08ffe2"/><polygon points="289.8,1465.9 300.7,1463.7 290.2,1463.3 279.4,1465.6" fill="#05ffe4"/><polygon points="354.3,1465.2 364.8,1463.6 353.9,1461.1 343.4,1462.7" fill="#08ffd8"/><polygon points="311.3,1464.8 322.1,1462.8 311.4,1461.6 300.7,1463.7" fill="#06ffd9"/><polygon points="332.8,1464.5 343.4,1462.7 332.7,1460.9 322.1,1462.8" fill="#07ffd5"/><polygon points="214.1,1477.9 225.5,1474.9 215.5,1476.6 204.2,1479.7" fill="#00d0ff"/><polygon points="429.9,1478 439.9,1477 428.6,1471.6 418.6,1472.7" fill="#08e7ff"/><polygon points="235.6,1473.8 246.9,1471 236.7,1472 225.5,1474.9" fill="#02f3ff"/><polygon points="408.4,1473.9 418.6,1472.7 407.4,1468.1 397.2,1469.3" fill="#09fffb"/><polygon points="257.2,1470.6 268.3,1468 258,1468.3 246.9,1471" fill="#04fff1"/><polygon points="386.9,1470.7 397.2,1469.3 386.1,1465.4 375.8,1466.8" fill="#09ffe5"/><polygon points="278.8,1468.3 289.8,1465.9 279.4,1465.6 268.3,1468" fill="#06ffde"/><polygon points="365.3,1468.4 375.8,1466.8 364.8,1463.6 354.3,1465.2" fill="#09ffd6"/><polygon points="300.4,1466.9 311.3,1464.8 300.7,1463.7 289.8,1465.9" fill="#07ffd1"/><polygon points="343.7,1467 354.3,1465.2 343.4,1462.7 332.8,1464.5" fill="#09ffce"/><polygon points="322,1466.5 332.8,1464.5 322.1,1462.8 311.3,1464.8" fill="#08ffcc"/><polygon points="441.3,1484 451.3,1483 439.9,1477 429.9,1478" fill="#08d5ff"/><polygon points="202.6,1481.1 214.1,1477.9 204.2,1479.7 192.7,1482.9" fill="#01d1ff"/><polygon points="419.7,1479.1 429.9,1478 418.6,1472.7 408.4,1473.9" fill="#09f7ff"/><polygon points="224.2,1476.8 235.6,1473.8 225.5,1474.9 214.1,1477.9" fill="#03f5ff"/><polygon points="398.1,1475.2 408.4,1473.9 397.2,1469.3 386.9,1470.7" fill="#0affec"/><polygon points="245.9,1473.3 257.2,1470.6 246.9,1471 235.6,1473.8" fill="#05ffed"/><polygon points="376.4,1472.2 386.9,1470.7 375.8,1466.8 365.3,1468.4" fill="#0bffd8"/><polygon points="267.6,1470.8 278.8,1468.3 268.3,1468 257.2,1470.6" fill="#07ffd8"/><polygon points="354.7,1470 365.3,1468.4 354.3,1465.2 343.7,1467" fill="#0bffca"/><polygon points="289.4,1469.3 300.4,1466.9 289.8,1465.9 278.8,1468.3" fill="#08ffca"/><polygon points="332.9,1468.9 343.7,1467 332.8,1464.5 322,1466.5" fill="#0affc4"/><polygon points="311.2,1468.6 322,1466.5 311.3,1464.8 300.4,1466.9" fill="#09ffc4"/><polygon points="452.8,1490.7 462.8,1489.8 451.3,1483 441.3,1484" fill="#08beff"/><polygon points="431.2,1485.1 441.3,1484 429.9,1478 419.7,1479.1" fill="#0ae6ff"/><polygon points="191,1484.4 202.6,1481.1 192.7,1482.9 181,1486.3" fill="#01d2ff"/><polygon points="409.4,1480.4 419.7,1479.1 408.4,1473.9 398.1,1475.2" fill="#0bfff8"/><polygon points="212.7,1479.9 224.2,1476.8 214.1,1477.9 202.6,1481.1" fill="#04f7ff"/><polygon points="387.6,1476.7 398.1,1475.2 386.9,1470.7 376.4,1472.2" fill="#0bffde"/><polygon points="234.5,1476.2 245.9,1473.3 235.6,1473.8 224.2,1476.8" fill="#06ffea"/><polygon points="365.8,1473.8 376.4,1472.2 365.3,1468.4 354.7,1470" fill="#0cffcc"/><polygon points="256.4,1473.5 267.6,1470.8 257.2,1470.6 245.9,1473.3" fill="#08ffd4"/><polygon points="343.9,1471.9 354.7,1470 343.7,1467 332.9,1468.9" fill="#0cffc0"/><polygon points="278.2,1471.7 289.4,1469.3 278.8,1468.3 267.6,1470.8" fill="#09ffc5"/><polygon points="322,1470.9 332.9,1468.9 322,1466.5 311.2,1468.6" fill="#0bffbb"/><polygon points="300.1,1470.8 311.2,1468.6 300.4,1466.9 289.4,1469.3" fill="#0affbc"/><polygon points="464.5,1498.1 474.4,1497.2 462.8,1489.8 452.8,1490.7" fill="#08a3ff"/><polygon points="442.7,1491.8 452.8,1490.7 441.3,1484 431.2,1485.1" fill="#0ad0ff"/><polygon points="179.2,1488 191,1484.4 181,1486.3 169.3,1489.9" fill="#02d1ff"/><polygon points="420.9,1486.3 431.2,1485.1 419.7,1479.1 409.4,1480.4" fill="#0bf6ff"/><polygon points="201,1483.2 212.7,1479.9 202.6,1481.1 191,1484.4" fill="#04f7ff"/><polygon points="399,1481.8 409.4,1480.4 398.1,1475.2 387.6,1476.7" fill="#0cffea"/><polygon points="223,1479.3 234.5,1476.2 224.2,1476.8 212.7,1479.9" fill="#06ffe8"/><polygon points="377.1,1478.3 387.6,1476.7 376.4,1472.2 365.8,1473.8" fill="#0dffd2"/><polygon points="244.9,1476.3 256.4,1473.5 245.9,1473.3 234.5,1476.2" fill="#08ffd0"/><polygon points="355.1,1475.6 365.8,1473.8 354.7,1470 343.9,1471.9" fill="#0dffc1"/><polygon points="266.9,1474.3 278.2,1471.7 267.6,1470.8 256.4,1473.5" fill="#0affc0"/><polygon points="333,1473.9 343.9,1471.9 332.9,1468.9 322,1470.9" fill="#0dffb7"/><polygon points="476.2,1506.2 486.1,1505.3 474.4,1497.2 464.5,1498.1" fill="#0883ff"/><polygon points="289,1473.2 300.1,1470.8 289.4,1469.3 278.2,1471.7" fill="#0bffb6"/><polygon points="311,1473.1 322,1470.9 311.2,1468.6 300.1,1470.8" fill="#0cffb3"/><polygon points="454.4,1499.1 464.5,1498.1 452.8,1490.7 442.7,1491.8" fill="#09b5ff"/><polygon points="432.5,1493 442.7,1491.8 431.2,1485.1 420.9,1486.3" fill="#0be1ff"/><polygon points="167.2,1491.7 179.2,1488 169.3,1489.9 157.4,1493.7" fill="#03cfff"/><polygon points="410.5,1487.7 420.9,1486.3 409.4,1480.4 399,1481.8" fill="#0cfff9"/><polygon points="189.2,1486.6 201,1483.2 191,1484.4 179.2,1488" fill="#05f7ff"/><polygon points="388.4,1483.4 399,1481.8 387.6,1476.7 377.1,1478.3" fill="#0dffdd"/><polygon points="211.3,1482.5 223,1479.3 212.7,1479.9 201,1483.2" fill="#07ffe7"/><polygon points="488,1515.1 497.9,1514.2 486.1,1505.3 476.2,1506.2" fill="#075dff"/><polygon points="366.3,1480 377.1,1478.3 365.8,1473.8 355.1,1475.6" fill="#0effc7"/><polygon points="233.4,1479.3 244.9,1476.3 234.5,1476.2 223,1479.3" fill="#09ffcd"/><polygon points="344.2,1477.6 355.1,1475.6 343.9,1471.9 333,1473.9" fill="#0effb7"/><polygon points="255.5,1477.1 266.9,1474.3 256.4,1473.5 244.9,1476.3" fill="#0bffbc"/><polygon points="322,1476 333,1473.9 322,1470.9 311,1473.1" fill="#0effae"/><polygon points="277.7,1475.8 289,1473.2 278.2,1471.7 266.9,1474.3" fill="#0cffb0"/><polygon points="299.8,1475.5 311,1473.1 300.1,1470.8 289,1473.2" fill="#0dffac"/><polygon points="466.1,1507.2 476.2,1506.2 464.5,1498.1 454.4,1499.1" fill="#0996ff"/><polygon points="444.2,1500.3 454.4,1499.1 442.7,1491.8 432.5,1493" fill="#0bc7ff"/><polygon points="155.2,1495.5 167.2,1491.7 157.4,1493.7 145.3,1497.6" fill="#03ccff"/><polygon points="422.1,1494.3 432.5,1493 420.9,1486.3 410.5,1487.7" fill="#0cf0ff"/><polygon points="499.9,1524.6 509.8,1523.8 497.9,1514.2 488,1515.1" fill="#0633ff"/><polygon points="177.3,1490.2 189.2,1486.6 179.2,1488 167.2,1491.7" fill="#06f6ff"/><polygon points="399.9,1489.3 410.5,1487.7 399,1481.8 388.4,1483.4" fill="#0effec"/><polygon points="199.4,1485.9 211.3,1482.5 201,1483.2 189.2,1486.6" fill="#08ffe6"/><polygon points="377.7,1485.1 388.4,1483.4 377.1,1478.3 366.3,1480" fill="#0fffd1"/><polygon points="478,1516.1 488,1515.1 476.2,1506.2 466.1,1507.2" fill="#0872ff"/><polygon points="221.7,1482.5 233.4,1479.3 223,1479.3 211.3,1482.5" fill="#0affcc"/><polygon points="355.5,1481.9 366.3,1480 355.1,1475.6 344.2,1477.6" fill="#0fffbc"/><polygon points="243.9,1480 255.5,1477.1 244.9,1476.3 233.4,1479.3" fill="#0cffb8"/><polygon points="333.2,1479.7 344.2,1477.6 333,1473.9 322,1476" fill="#0fffae"/><polygon points="266.2,1478.5 277.7,1475.8 266.9,1474.3 255.5,1477.1" fill="#0dffac"/><polygon points="310.9,1478.3 322,1476 311,1473.1 299.8,1475.5" fill="#0fffa7"/><polygon points="288.5,1478 299.8,1475.5 289,1473.2 277.7,1475.8" fill="#0effa6"/><polygon points="455.9,1508.4 466.1,1507.2 454.4,1499.1 444.2,1500.3" fill="#0aa8ff"/><polygon points="512,1535 521.8,1534.1 509.8,1523.8 499.9,1524.6" fill="#0505ff"/><polygon points="433.8,1501.7 444.2,1500.3 432.5,1493 422.1,1494.3" fill="#0cd7ff"/><polygon points="143,1499.5 155.2,1495.5 145.3,1497.6 133.2,1501.7" fill="#04c9ff"/><polygon points="411.5,1495.8 422.1,1494.3 410.5,1487.7 399.9,1489.3" fill="#0effff"/><polygon points="165.2,1494 177.3,1490.2 167.2,1491.7 155.2,1495.5" fill="#06f4ff"/><polygon points="489.9,1525.6 499.9,1524.6 488,1515.1 478,1516.1" fill="#0848ff"/><polygon points="389.2,1490.9 399.9,1489.3 388.4,1483.4 377.7,1485.1" fill="#0fffdf"/><polygon points="187.5,1489.5 199.4,1485.9 189.2,1486.6 177.3,1490.2" fill="#09ffe7"/><polygon points="366.9,1487 377.7,1485.1 366.3,1480 355.5,1481.9" fill="#10ffc5"/><polygon points="209.8,1485.8 221.7,1482.5 211.3,1482.5 199.4,1485.9" fill="#0bffcb"/><polygon points="344.5,1484 355.5,1481.9 344.2,1477.6 333.2,1479.7" fill="#10ffb3"/><polygon points="467.8,1517.2 478,1516.1 466.1,1507.2 455.9,1508.4" fill="#0a85ff"/><polygon points="232.2,1483.2 243.9,1480 233.4,1479.3 221.7,1482.5" fill="#0dffb6"/><polygon points="322,1481.9 333.2,1479.7 322,1476 310.9,1478.3" fill="#11ffa6"/><polygon points="254.6,1481.4 266.2,1478.5 255.5,1477.1 243.9,1480" fill="#0effa8"/><polygon points="299.6,1480.8 310.9,1478.3 299.8,1475.5 288.5,1478" fill="#10ffa1"/><polygon points="277.1,1480.6 288.5,1478 277.7,1475.8 266.2,1478.5" fill="#0fffa1"/><polygon points="524,1546 533.8,1545.2 521.8,1534.1 512,1535" fill="#0404ff"/><polygon points="445.6,1509.7 455.9,1508.4 444.2,1500.3 433.8,1501.7" fill="#0cb9ff"/><polygon points="130.6,1503.8 143,1499.5 133.2,1501.7 120.8,1506" fill="#05c4ff"/><polygon points="423.3,1503.1 433.8,1501.7 422.1,1494.3 411.5,1495.8" fill="#0de6ff"/><polygon points="502,1535.9 512,1535 499.9,1524.6 489.9,1525.6" fill="#071aff"/><polygon points="152.9,1498 165.2,1494 155.2,1495.5 143,1499.5" fill="#07f1ff"/><polygon points="400.9,1497.5 411.5,1495.8 399.9,1489.3 389.2,1490.9" fill="#0ffff2"/><polygon points="175.3,1493.2 187.5,1489.5 177.3,1490.2 165.2,1494" fill="#0affe8"/><polygon points="479.8,1526.8 489.9,1525.6 478,1516.1 467.8,1517.2" fill="#095cff"/><polygon points="378.4,1492.8 389.2,1490.9 377.7,1485.1 366.9,1487" fill="#10ffd3"/><polygon points="536.2,1557.8 546,1557 533.8,1545.2 524,1546" fill="#0303ff"/><polygon points="197.8,1489.3 209.8,1485.8 199.4,1485.9 187.5,1489.5" fill="#0cffcb"/><polygon points="355.9,1489 366.9,1487 355.5,1481.9 344.5,1484" fill="#11ffbb"/><polygon points="220.3,1486.4 232.2,1483.2 221.7,1482.5 209.8,1485.8" fill="#0effb5"/><polygon points="333.3,1486.2 344.5,1484 333.2,1479.7 322,1481.9" fill="#12ffaa"/><polygon points="457.5,1518.5 467.8,1517.2 455.9,1508.4 445.6,1509.7" fill="#0b96ff"/><polygon points="242.9,1484.5 254.6,1481.4 243.9,1480 232.2,1483.2" fill="#0fffa6"/><polygon points="310.7,1484.3 322,1481.9 310.9,1478.3 299.6,1480.8" fill="#12ff9f"/><polygon points="265.5,1483.5 277.1,1480.6 266.2,1478.5 254.6,1481.4" fill="#10ff9d"/><polygon points="288.1,1483.4 299.6,1480.8 288.5,1478 277.1,1480.6" fill="#11ff9b"/><polygon points="514.1,1547 524,1546 512,1535 502,1535.9" fill="#0606ff"/><polygon points="435.1,1511.2 445.6,1509.7 433.8,1501.7 423.3,1503.1" fill="#0dc9ff"/><polygon points="118.1,1508.1 130.6,1503.8 120.8,1506 108.4,1510.4" fill="#05bfff"/><polygon points="412.6,1504.7 423.3,1503.1 411.5,1495.8 400.9,1497.5" fill="#0ff4ff"/><polygon points="491.9,1537.1 502,1535.9 489.9,1525.6 479.8,1526.8" fill="#082eff"/><polygon points="140.5,1502.2 152.9,1498 143,1499.5 130.6,1503.8" fill="#08edff"/><polygon points="390,1499.3 400.9,1497.5 389.2,1490.9 378.4,1492.8" fill="#10ffe6"/><polygon points="163.1,1497.1 175.3,1493.2 165.2,1494 152.9,1498" fill="#0affeb"/><polygon points="367.4,1494.7 378.4,1492.8 366.9,1487 355.9,1489" fill="#11ffc9"/><polygon points="469.5,1528 479.8,1526.8 467.8,1517.2 457.5,1518.5" fill="#0a6fff"/><polygon points="185.7,1493 197.8,1489.3 187.5,1489.5 175.3,1493.2" fill="#0cffcc"/><polygon points="526.3,1558.8 536.2,1557.8 524,1546 514.1,1547" fill="#0505ff"/><polygon points="344.7,1491.2 355.9,1489 344.5,1484 333.3,1486.2" fill="#12ffb2"/><polygon points="208.3,1489.9 220.3,1486.4 209.8,1485.8 197.8,1489.3" fill="#0effb5"/><polygon points="322,1488.5 333.3,1486.2 322,1481.9 310.7,1484.3" fill="#13ffa3"/><polygon points="231,1487.7 242.9,1484.5 232.2,1483.2 220.3,1486.4" fill="#10ffa4"/><polygon points="299.3,1486.9 310.7,1484.3 299.6,1480.8 288.1,1483.4" fill="#13ff99"/><polygon points="253.8,1486.5 265.5,1483.5 254.6,1481.4 242.9,1484.5" fill="#11ff9a"/><polygon points="276.5,1486.2 288.1,1483.4 277.1,1480.6 265.5,1483.5" fill="#12ff97"/><polygon points="447.1,1519.9 457.5,1518.5 445.6,1509.7 435.1,1511.2" fill="#0ca7ff"/><polygon points="504.1,1548.1 514.1,1547 502,1535.9 491.9,1537.1" fill="#0707ff"/><polygon points="105.5,1512.7 118.1,1508.1 108.4,1510.4 95.8,1515.1" fill="#06b9ff"/><polygon points="424.5,1512.7 435.1,1511.2 423.3,1503.1 412.6,1504.7" fill="#0ed8ff"/><polygon points="128,1506.5 140.5,1502.2 130.6,1503.8 118.1,1508.1" fill="#08e8ff"/><polygon points="401.8,1506.5 412.6,1504.7 400.9,1497.5 390,1499.3" fill="#10fffd"/><polygon points="481.6,1538.3 491.9,1537.1 479.8,1526.8 469.5,1528" fill="#0942ff"/><polygon points="150.7,1501.2 163.1,1497.1 152.9,1498 140.5,1502.2" fill="#0bffee"/><polygon points="379.1,1501.2 390,1499.3 378.4,1492.8 367.4,1494.7" fill="#12ffda"/><polygon points="173.4,1496.9 185.7,1493 175.3,1493.2 163.1,1497.1" fill="#0dffce"/><polygon points="356.3,1496.9 367.4,1494.7 355.9,1489 344.7,1491.2" fill="#13ffbf"/><polygon points="459.1,1529.4 469.5,1528 457.5,1518.5 447.1,1519.9" fill="#0b81ff"/><polygon points="196.2,1493.5 208.3,1489.9 197.8,1489.3 185.7,1493" fill="#0fffb5"/><polygon points="333.4,1493.5 344.7,1491.2 333.3,1486.2 322,1488.5" fill="#14ffaa"/><polygon points="516.3,1559.9 526.3,1558.8 514.1,1547 504.1,1548.1" fill="#0606ff"/><polygon points="219,1491.1 231,1487.7 220.3,1486.4 208.3,1489.9" fill="#11ffa3"/><polygon points="310.6,1491.1 322,1488.5 310.7,1484.3 299.3,1486.9" fill="#14ff9c"/><polygon points="241.9,1489.6 253.8,1486.5 242.9,1484.5 231,1487.7" fill="#12ff98"/><polygon points="287.7,1489.6 299.3,1486.9 288.1,1483.4 276.5,1486.2" fill="#14ff94"/><polygon points="264.8,1489.1 276.5,1486.2 265.5,1483.5 253.8,1486.5" fill="#13ff93"/><polygon points="436.4,1521.5 447.1,1519.9 435.1,1511.2 424.5,1512.7" fill="#0eb7ff"/><polygon points="493.9,1549.4 504.1,1548.1 491.9,1537.1 481.6,1538.3" fill="#0810ff"/><polygon points="413.7,1514.5 424.5,1512.7 412.6,1504.7 401.8,1506.5" fill="#10e6ff"/><polygon points="115.3,1511 128,1506.5 118.1,1508.1 105.5,1512.7" fill="#09e2ff"/><polygon points="390.9,1508.4 401.8,1506.5 390,1499.3 379.1,1501.2" fill="#11fff0"/><polygon points="138.1,1505.5 150.7,1501.2 140.5,1502.2 128,1506.5" fill="#0cfff3"/><polygon points="471.3,1539.7 481.6,1538.3 469.5,1528 459.1,1529.4" fill="#0b55ff"/><polygon points="368,1503.3 379.1,1501.2 367.4,1494.7 356.3,1496.9" fill="#13ffd0"/><polygon points="160.9,1500.9 173.4,1496.9 163.1,1497.1 150.7,1501.2" fill="#0effd1"/><polygon points="345,1499.2 356.3,1496.9 344.7,1491.2 333.4,1493.5" fill="#14ffb6"/><polygon points="183.8,1497.3 196.2,1493.5 185.7,1493 173.4,1496.9" fill="#10ffb7"/><polygon points="448.5,1531 459.1,1529.4 447.1,1519.9 436.4,1521.5" fill="#0d91ff"/><polygon points="322,1496 333.4,1493.5 322,1488.5 310.6,1491.1" fill="#15ffa3"/><polygon points="206.8,1494.6 219,1491.1 208.3,1489.9 196.2,1493.5" fill="#12ffa3"/><polygon points="299,1493.8 310.6,1491.1 299.3,1486.9 287.7,1489.6" fill="#15ff97"/><polygon points="229.8,1493 241.9,1489.6 231,1487.7 219,1491.1" fill="#13ff96"/><polygon points="506.2,1561.2 516.3,1559.9 504.1,1548.1 493.9,1549.4" fill="#0707ff"/><polygon points="275.9,1492.5 287.7,1489.6 276.5,1486.2 264.8,1489.1" fill="#15ff90"/><polygon points="252.9,1492.3 264.8,1489.1 253.8,1486.5 241.9,1489.6" fill="#14ff90"/><polygon points="425.7,1523.2 436.4,1521.5 424.5,1512.7 413.7,1514.5" fill="#0fc6ff"/><polygon points="483.5,1550.8 493.9,1549.4 481.6,1538.3 471.3,1539.7" fill="#0924ff"/><polygon points="402.8,1516.4 413.7,1514.5 401.8,1506.5 390.9,1508.4" fill="#11f3ff"/><polygon points="379.8,1510.5 390.9,1508.4 379.1,1501.2 368,1503.3" fill="#13ffe5"/><polygon points="125.4,1509.9 138.1,1505.5 128,1506.5 115.3,1511" fill="#0cfff8"/><polygon points="460.7,1541.3 471.3,1539.7 459.1,1529.4 448.5,1531" fill="#0c66ff"/><polygon points="356.7,1505.6 368,1503.3 356.3,1496.9 345,1499.2" fill="#14ffc7"/><polygon points="148.3,1505.1 160.9,1500.9 150.7,1501.2 138.1,1505.5" fill="#0fffd5"/><polygon points="333.6,1501.6 345,1499.2 333.4,1493.5 322,1496" fill="#15ffaf"/><polygon points="171.4,1501.2 183.8,1497.3 173.4,1496.9 160.9,1500.9" fill="#11ffb9"/><polygon points="310.4,1498.6 322,1496 310.6,1491.1 299,1493.8" fill="#16ff9d"/><polygon points="194.5,1498.4 206.8,1494.6 196.2,1493.5 183.8,1497.3" fill="#13ffa4"/><polygon points="437.8,1532.7 448.5,1531 436.4,1521.5 425.7,1523.2" fill="#0ea1ff"/><polygon points="287.2,1496.6 299,1493.8 287.7,1489.6 275.9,1492.5" fill="#16ff92"/><polygon points="217.6,1496.5 229.8,1493 219,1491.1 206.8,1494.6" fill="#14ff96"/><polygon points="264,1495.6 275.9,1492.5 264.8,1489.1 252.9,1492.3" fill="#16ff8d"/><polygon points="240.8,1495.5 252.9,1492.3 241.9,1489.6 229.8,1493" fill="#15ff8e"/><polygon points="495.8,1562.6 506.2,1561.2 493.9,1549.4 483.5,1550.8" fill="#0808ff"/><polygon points="414.8,1525.1 425.7,1523.2 413.7,1514.5 402.8,1516.4" fill="#10d3ff"/><polygon points="391.7,1518.4 402.8,1516.4 390.9,1508.4 379.8,1510.5" fill="#12ffff"/><polygon points="473,1552.3 483.5,1550.8 471.3,1539.7 460.7,1541.3" fill="#0b36ff"/><polygon points="368.5,1512.7 379.8,1510.5 368,1503.3 356.7,1505.6" fill="#14ffdb"/><polygon points="135.6,1509.5 148.3,1505.1 138.1,1505.5 125.4,1509.9" fill="#0fffd9"/><polygon points="450,1543 460.7,1541.3 448.5,1531 437.8,1532.7" fill="#0d77ff"/><polygon points="345.3,1508 356.7,1505.6 345,1499.2 333.6,1501.6" fill="#15ffbe"/><polygon points="158.7,1505.4 171.4,1501.2 160.9,1500.9 148.3,1505.1" fill="#12ffbc"/><polygon points="322,1504.2 333.6,1501.6 322,1496 310.4,1498.6" fill="#17ffa8"/><polygon points="182,1502.3 194.5,1498.4 183.8,1497.3 171.4,1501.2" fill="#14ffa6"/><polygon points="298.6,1501.5 310.4,1498.6 299,1493.8 287.2,1496.6" fill="#17ff98"/><polygon points="205.3,1500.1 217.6,1496.5 206.8,1494.6 194.5,1498.4" fill="#15ff96"/><polygon points="426.9,1534.6 437.8,1532.7 425.7,1523.2 414.8,1525.1" fill="#0fafff"/><polygon points="275.3,1499.7 287.2,1496.6 275.9,1492.5 264,1495.6" fill="#17ff8e"/><polygon points="228.6,1499 240.8,1495.5 229.8,1493 217.6,1496.5" fill="#16ff8d"/><polygon points="251.9,1498.8 264,1495.6 252.9,1492.3 240.8,1495.5" fill="#17ff8b"/><polygon points="485.4,1564.1 495.8,1562.6 483.5,1550.8 473,1552.3" fill="#0a0aff"/><polygon points="403.7,1527.2 414.8,1525.1 402.8,1516.4 391.7,1518.4" fill="#12e0ff"/><polygon points="380.5,1520.7 391.7,1518.4 379.8,1510.5 368.5,1512.7" fill="#14fff5"/><polygon points="462.3,1554 473,1552.3 460.7,1541.3 450,1543" fill="#0c48ff"/><polygon points="357.1,1515.1 368.5,1512.7 356.7,1505.6 345.3,1508" fill="#15ffd2"/><polygon points="333.7,1510.6 345.3,1508 333.6,1501.6 322,1504.2" fill="#17ffb7"/><polygon points="439.2,1544.9 450,1543 437.8,1532.7 426.9,1534.6" fill="#0e86ff"/><polygon points="146,1509.7 158.7,1505.4 148.3,1505.1 135.6,1509.5" fill="#12ffc0"/><polygon points="310.2,1507 322,1504.2 310.4,1498.6 298.6,1501.5" fill="#18ffa2"/><polygon points="169.3,1506.4 182,1502.3 171.4,1501.2 158.7,1505.4" fill="#14ffa9"/><polygon points="286.7,1504.5 298.6,1501.5 287.2,1496.6 275.3,1499.7" fill="#18ff93"/><polygon points="192.8,1504 205.3,1500.1 194.5,1498.4 182,1502.3" fill="#16ff98"/><polygon points="263.2,1502.9 275.3,1499.7 264,1495.6 251.9,1498.8" fill="#19ff8b"/><polygon points="216.2,1502.6 228.6,1499 217.6,1496.5 205.3,1500.1" fill="#17ff8d"/><polygon points="239.7,1502.3 251.9,1498.8 240.8,1495.5 228.6,1499" fill="#18ff89"/><polygon points="415.9,1536.6 426.9,1534.6 414.8,1525.1 403.7,1527.2" fill="#11bdff"/><polygon points="474.8,1565.9 485.4,1564.1 473,1552.3 462.3,1554" fill="#0b13ff"/><polygon points="392.5,1529.4 403.7,1527.2 391.7,1518.4 380.5,1520.7" fill="#13ecff"/><polygon points="369.1,1523 380.5,1520.7 368.5,1512.7 357.1,1515.1" fill="#15ffeb"/><polygon points="451.5,1555.9 462.3,1554 450,1543 439.2,1544.9" fill="#0d58ff"/><polygon points="345.5,1517.7 357.1,1515.1 345.3,1508 333.7,1510.6" fill="#17ffca"/><polygon points="322,1513.4 333.7,1510.6 322,1504.2 310.2,1507" fill="#18ffb0"/><polygon points="428.2,1546.9 439.2,1544.9 426.9,1534.6 415.9,1536.6" fill="#1094ff"/><polygon points="156.5,1510.7 169.3,1506.4 158.7,1505.4 146,1509.7" fill="#15ffac"/><polygon points="298.3,1510 310.2,1507 298.6,1501.5 286.7,1504.5" fill="#19ff9d"/><polygon points="180.1,1508.1 192.8,1504 182,1502.3 169.3,1506.4" fill="#17ff9a"/><polygon points="274.7,1507.6 286.7,1504.5 275.3,1499.7 263.2,1502.9" fill="#1aff90"/><polygon points="203.7,1506.5 216.2,1502.6 205.3,1500.1 192.8,1504" fill="#18ff8e"/><polygon points="251,1506.2 263.2,1502.9 251.9,1498.8 239.7,1502.3" fill="#1aff89"/><polygon points="227.4,1505.8 239.7,1502.3 228.6,1499 216.2,1502.6" fill="#19ff89"/><polygon points="404.7,1538.8 415.9,1536.6 403.7,1527.2 392.5,1529.4" fill="#12c9ff"/><polygon points="464,1567.7 474.8,1565.9 462.3,1554 451.5,1555.9" fill="#0c24ff"/><polygon points="381.2,1531.7 392.5,1529.4 380.5,1520.7 369.1,1523" fill="#14f6ff"/><polygon points="357.5,1525.6 369.1,1523 357.1,1515.1 345.5,1517.7" fill="#16ffe2"/><polygon points="440.6,1557.9 451.5,1555.9 439.2,1544.9 428.2,1546.9" fill="#0f67ff"/><polygon points="333.8,1520.4 345.5,1517.7 333.7,1510.6 322,1513.4" fill="#18ffc3"/><polygon points="310.1,1516.3 322,1513.4 310.2,1507 298.3,1510" fill="#19ffab"/><polygon points="417,1549.1 428.2,1546.9 415.9,1536.6 404.7,1538.8" fill="#11a2ff"/><polygon points="286.3,1513.1 298.3,1510 286.7,1504.5 274.7,1507.6" fill="#1aff99"/><polygon points="167.3,1512.3 180.1,1508.1 169.3,1506.4 156.5,1510.7" fill="#18ff9d"/><polygon points="262.5,1511 274.7,1507.6 263.2,1502.9 251,1506.2" fill="#1bff8d"/><polygon points="191,1510.5 203.7,1506.5 192.8,1504 180.1,1508.1" fill="#19ff90"/><polygon points="238.6,1509.8 251,1506.2 239.7,1502.3 227.4,1505.8" fill="#1bff88"/><polygon points="214.8,1509.6 227.4,1505.8 216.2,1502.6 203.7,1506.5" fill="#1aff89"/><polygon points="393.4,1541.2 404.7,1538.8 392.5,1529.4 381.2,1531.7" fill="#13d4ff"/><polygon points="453.1,1569.8 464,1567.7 451.5,1555.9 440.6,1557.9" fill="#0d35ff"/><polygon points="369.6,1534.2 381.2,1531.7 369.1,1523 357.5,1525.6" fill="#16fffe"/><polygon points="345.8,1528.3 357.5,1525.6 345.5,1517.7 333.8,1520.4" fill="#18ffda"/><polygon points="429.5,1560.1 440.6,1557.9 428.2,1546.9 417,1549.1" fill="#1075ff"/><polygon points="321.9,1523.4 333.8,1520.4 322,1513.4 310.1,1516.3" fill="#19ffbd"/><polygon points="298,1519.4 310.1,1516.3 298.3,1510 286.3,1513.1" fill="#1bffa6"/><polygon points="274.1,1516.4 286.3,1513.1 274.7,1507.6 262.5,1511" fill="#1bff96"/><polygon points="405.7,1551.4 417,1549.1 404.7,1538.8 393.4,1541.2" fill="#12aeff"/><polygon points="178.2,1514.7 191,1510.5 180.1,1508.1 167.3,1512.3" fill="#1aff92"/><polygon points="250.1,1514.5 262.5,1511 251,1506.2 238.6,1509.8" fill="#1cff8c"/><polygon points="202.1,1513.6 214.8,1509.6 203.7,1506.5 191,1510.5" fill="#1bff8a"/><polygon points="226.1,1513.5 238.6,1509.8 227.4,1505.8 214.8,1509.6" fill="#1cff88"/><polygon points="381.9,1543.7 393.4,1541.2 381.2,1531.7 369.6,1534.2" fill="#15dfff"/><polygon points="358,1536.9 369.6,1534.2 357.5,1525.6 345.8,1528.3" fill="#17fff6"/><polygon points="442,1571.9 453.1,1569.8 440.6,1557.9 429.5,1560.1" fill="#0f44ff"/><polygon points="334,1531.2 345.8,1528.3 333.8,1520.4 321.9,1523.4" fill="#19ffd3"/><polygon points="418.2,1562.5 429.5,1560.1 417,1549.1 405.7,1551.4" fill="#1182ff"/><polygon points="309.9,1526.4 321.9,1523.4 310.1,1516.3 298,1519.4" fill="#1bffb8"/><polygon points="285.8,1522.7 298,1519.4 286.3,1513.1 274.1,1516.4" fill="#1cffa2"/><polygon points="261.7,1519.9 274.1,1516.4 262.5,1511 250.1,1514.5" fill="#1dff94"/><polygon points="237.5,1518.2 250.1,1514.5 238.6,1509.8 226.1,1513.5" fill="#1dff8b"/><polygon points="394.2,1553.9 405.7,1551.4 393.4,1541.2 381.9,1543.7" fill="#14b9ff"/><polygon points="189.3,1517.7 202.1,1513.6 191,1510.5 178.2,1514.7" fill="#1cff8c"/><polygon points="213.4,1517.5 226.1,1513.5 214.8,1509.6 202.1,1513.6" fill="#1dff88"/><polygon points="370.2,1546.4 381.9,1543.7 369.6,1534.2 358,1536.9" fill="#16e8ff"/><polygon points="346.1,1539.8 358,1536.9 345.8,1528.3 334,1531.2" fill="#18ffee"/><polygon points="430.7,1574.3 442,1571.9 429.5,1560.1 418.2,1562.5" fill="#1052ff"/><polygon points="321.9,1534.3 334,1531.2 321.9,1523.4 309.9,1526.4" fill="#1affcd"/><polygon points="297.7,1529.7 309.9,1526.4 298,1519.4 285.8,1522.7" fill="#1cffb3"/><polygon points="406.7,1565 418.2,1562.5 405.7,1551.4 394.2,1553.9" fill="#138eff"/><polygon points="273.4,1526.1 285.8,1522.7 274.1,1516.4 261.7,1519.9" fill="#1dffa0"/><polygon points="249.1,1523.6 261.7,1519.9 250.1,1514.5 237.5,1518.2" fill="#1eff92"/><polygon points="224.8,1522.1 237.5,1518.2 226.1,1513.5 213.4,1517.5" fill="#1eff8b"/><polygon points="200.5,1521.6 213.4,1517.5 202.1,1513.6 189.3,1517.7" fill="#1eff8a"/><polygon points="382.6,1556.6 394.2,1553.9 381.9,1543.7 370.2,1546.4" fill="#15c3ff"/><polygon points="358.4,1549.2 370.2,1546.4 358,1536.9 346.1,1539.8" fill="#17f1ff"/><polygon points="334.1,1542.9 346.1,1539.8 334,1531.2 321.9,1534.3" fill="#1affe7"/><polygon points="419.3,1576.8 430.7,1574.3 418.2,1562.5 406.7,1565" fill="#115fff"/><polygon points="309.7,1537.5 321.9,1534.3 309.9,1526.4 297.7,1529.7" fill="#1bffc8"/><polygon points="285.3,1533.1 297.7,1529.7 285.8,1522.7 273.4,1526.1" fill="#1dffb0"/><polygon points="395.1,1567.7 406.7,1565 394.2,1553.9 382.6,1556.6" fill="#1499ff"/><polygon points="260.9,1529.8 273.4,1526.1 261.7,1519.9 249.1,1523.6" fill="#1eff9e"/><polygon points="236.4,1527.5 249.1,1523.6 237.5,1518.2 224.8,1522.1" fill="#1fff92"/><polygon points="211.9,1526.2 224.8,1522.1 213.4,1517.5 200.5,1521.6" fill="#1fff8c"/><polygon points="370.8,1559.5 382.6,1556.6 370.2,1546.4 358.4,1549.2" fill="#16cdff"/><polygon points="346.4,1552.3 358.4,1549.2 346.1,1539.8 334.1,1542.9" fill="#19f8ff"/><polygon points="321.9,1546.1 334.1,1542.9 321.9,1534.3 309.7,1537.5" fill="#1bffe1"/><polygon points="407.8,1579.5 419.3,1576.8 406.7,1565 395.1,1567.7" fill="#136bff"/><polygon points="297.4,1540.9 309.7,1537.5 297.7,1529.7 285.3,1533.1" fill="#1dffc4"/><polygon points="272.8,1536.8 285.3,1533.1 273.4,1526.1 260.9,1529.8" fill="#1effad"/><polygon points="383.3,1570.5 395.1,1567.7 382.6,1556.6 370.8,1559.5" fill="#15a4ff"/><polygon points="248.1,1533.6 260.9,1529.8 249.1,1523.6 236.4,1527.5" fill="#1fff9c"/><polygon points="223.5,1531.5 236.4,1527.5 224.8,1522.1 211.9,1526.2" fill="#20ff92"/><polygon points="358.8,1562.5 370.8,1559.5 358.4,1549.2 346.4,1552.3" fill="#18d5ff"/><polygon points="334.2,1555.5 346.4,1552.3 334.1,1542.9 321.9,1546.1" fill="#1affff"/><polygon points="309.6,1549.5 321.9,1546.1 309.7,1537.5 297.4,1540.9" fill="#1cffdd"/><polygon points="396,1582.4 407.8,1579.5 395.1,1567.7 383.3,1570.5" fill="#1476ff"/><polygon points="284.8,1544.5 297.4,1540.9 285.3,1533.1 272.8,1536.8" fill="#1effc1"/><polygon points="260,1540.6 272.8,1536.8 260.9,1529.8 248.1,1533.6" fill="#20ffab"/><polygon points="235.2,1537.7 248.1,1533.6 236.4,1527.5 223.5,1531.5" fill="#21ff9c"/><polygon points="371.4,1573.6 383.3,1570.5 370.8,1559.5 358.8,1562.5" fill="#16adff"/><polygon points="346.7,1565.7 358.8,1562.5 346.4,1552.3 334.2,1555.5" fill="#19dcff"/><polygon points="321.9,1558.9 334.2,1555.5 321.9,1546.1 309.6,1549.5" fill="#1bfffa"/><polygon points="297,1553.1 309.6,1549.5 297.4,1540.9 284.8,1544.5" fill="#1dffd9"/><polygon points="384.1,1585.4 396,1582.4 383.3,1570.5 371.4,1573.6" fill="#1580ff"/><polygon points="272.1,1548.3 284.8,1544.5 272.8,1536.8 260,1540.6" fill="#1fffbe"/><polygon points="247.2,1544.6 260,1540.6 248.1,1533.6 235.2,1537.7" fill="#21ffaa"/><polygon points="359.3,1576.8 371.4,1573.6 358.8,1562.5 346.7,1565.7" fill="#18b5ff"/><polygon points="334.4,1569.1 346.7,1565.7 334.2,1555.5 321.9,1558.9" fill="#1ae3ff"/><polygon points="309.4,1562.5 321.9,1558.9 309.6,1549.5 297,1553.1" fill="#1dfff5"/><polygon points="284.3,1556.9 297,1553.1 284.8,1544.5 272.1,1548.3" fill="#1fffd5"/><polygon points="259.2,1552.3 272.1,1548.3 260,1540.6 247.2,1544.6" fill="#21ffbd"/><polygon points="372,1588.7 384.1,1585.4 371.4,1573.6 359.3,1576.8" fill="#1689ff"/><polygon points="347,1580.2 359.3,1576.8 346.7,1565.7 334.4,1569.1" fill="#19bcff"/><polygon points="321.9,1572.7 334.4,1569.1 321.9,1558.9 309.4,1562.5" fill="#1ce8ff"/><polygon points="296.7,1566.3 309.4,1562.5 297,1553.1 284.3,1556.9" fill="#1efff1"/><polygon points="271.4,1560.9 284.3,1556.9 272.1,1548.3 259.2,1552.3" fill="#20ffd3"/><polygon points="359.7,1592.1 372,1588.7 359.3,1576.8 347,1580.2" fill="#1891ff"/><polygon points="334.5,1583.8 347,1580.2 334.4,1569.1 321.9,1572.7" fill="#1ac2ff"/><polygon points="309.2,1576.5 321.9,1572.7 309.4,1562.5 296.7,1566.3" fill="#1dedff"/><polygon points="283.8,1570.3 296.7,1566.3 284.3,1556.9 271.4,1560.9" fill="#1fffee"/><polygon points="347.3,1595.7 359.7,1592.1 347,1580.2 334.5,1583.8" fill="#1998ff"/><polygon points="321.9,1587.6 334.5,1583.8 321.9,1572.7 309.2,1576.5" fill="#1cc8ff"/><polygon points="296.3,1580.5 309.2,1576.5 296.7,1566.3 283.8,1570.3" fill="#1ef0ff"/><polygon points="334.6,1599.5 347.3,1595.7 334.5,1583.8 321.9,1587.6" fill="#1a9eff"/><polygon points="309,1591.6 321.9,1587.6 309.2,1576.5 296.3,1580.5" fill="#1dccff"/><polygon points="321.8,1603.5 334.6,1599.5 321.9,1587.6 309,1591.6" fill="#1ca3ff"/></g>
<line x1="214.9" y1="1461.7" x2="214.9" y2="1473.7" stroke="#333" stroke-width="1.6"/>
<circle cx="214.9" cy="1461.7" r="5.3" fill="url(#sphr)" stroke="#600" stroke-width=".8"/>
<line x1="429.4" y1="1457.5" x2="429.4" y2="1469.5" stroke="#333" stroke-width="1.6"/>
<circle cx="429.4" cy="1457.5" r="5.3" fill="url(#sphr)" stroke="#600" stroke-width=".8"/>
<circle cx="201.1" cy="1527.5" r="5.3" fill="#f6c8c8" stroke="#b08080" stroke-width=".9"/>
<circle cx="442" cy="1579" r="5.3" fill="#f6c8c8" stroke="#b08080" stroke-width=".9"/>
<text x="311.1" y="1756" font-size="16.5" fill="#333" text-anchor="end" stroke="#333" stroke-width=".3" textLength="31" lengthAdjust="spacingAndGlyphs">8.00</text>
<text x="256.2" y="1731.2" font-size="16.5" fill="#333" text-anchor="end" stroke="#333" stroke-width=".3" textLength="31" lengthAdjust="spacingAndGlyphs">9.00</text>
<text x="201.2" y="1706.4" font-size="16.5" fill="#333" text-anchor="end" stroke="#333" stroke-width=".3" textLength="42.5" lengthAdjust="spacingAndGlyphs">10.00</text>
<text x="146.3" y="1681.6" font-size="16.5" fill="#333" text-anchor="end" stroke="#333" stroke-width=".3" textLength="42.5" lengthAdjust="spacingAndGlyphs">11.00</text>
<text x="91.4" y="1656.8" font-size="16.5" fill="#333" text-anchor="end" stroke="#333" stroke-width=".3" textLength="42.5" lengthAdjust="spacingAndGlyphs">12.00</text>
<text x="333.1" y="1756.2" font-size="16.5" fill="#333" stroke="#333" stroke-width=".3" textLength="42.5" lengthAdjust="spacingAndGlyphs">18.00</text>
<text x="388.2" y="1731.5" font-size="16.5" fill="#333" stroke="#333" stroke-width=".3" textLength="42.5" lengthAdjust="spacingAndGlyphs">20.00</text>
<text x="443.2" y="1706.7" font-size="16.5" fill="#333" stroke="#333" stroke-width=".3" textLength="42.5" lengthAdjust="spacingAndGlyphs">22.00</text>
<text x="498.2" y="1681.9" font-size="16.5" fill="#333" stroke="#333" stroke-width=".3" textLength="42.5" lengthAdjust="spacingAndGlyphs">24.00</text>
<text x="553.2" y="1657.1" font-size="16.5" fill="#333" stroke="#333" stroke-width=".3" textLength="42.5" lengthAdjust="spacingAndGlyphs">26.00</text>
<text x="88.5" y="1567.7" font-size="16.5" fill="#333" text-anchor="end" stroke="#333" stroke-width=".3" textLength="9.8" lengthAdjust="spacingAndGlyphs">0</text>
<text x="86.5" y="1524.4" font-size="16.5" fill="#333" text-anchor="end" stroke="#333" stroke-width=".3" textLength="28.4" lengthAdjust="spacingAndGlyphs">100</text>
<text x="84.5" y="1481.1" font-size="16.5" fill="#333" text-anchor="end" stroke="#333" stroke-width=".3" textLength="28.4" lengthAdjust="spacingAndGlyphs">200</text>
<text x="82.4" y="1437.7" font-size="16.5" fill="#333" text-anchor="end" stroke="#333" stroke-width=".3" textLength="28.4" lengthAdjust="spacingAndGlyphs">300</text>
<text x="80.4" y="1394.4" font-size="16.5" fill="#333" text-anchor="end" stroke="#333" stroke-width=".3" textLength="28.4" lengthAdjust="spacingAndGlyphs">400</text>
<text x="78.3" y="1351.1" font-size="16.5" fill="#333" text-anchor="end" stroke="#333" stroke-width=".3" textLength="28.4" lengthAdjust="spacingAndGlyphs">500</text>
<text x="128" y="1734" font-size="16.5" fill="#333" text-anchor="middle" stroke="#333" stroke-width=".3" textLength="126.7" lengthAdjust="spacingAndGlyphs">C: Distance (cm)</text>
<text x="516.8" y="1734" font-size="16.5" fill="#333" text-anchor="middle" stroke="#333" stroke-width=".3" textLength="113.5" lengthAdjust="spacingAndGlyphs">B: Voltage (Kv)</text>
<text x="26.2" y="1565.9" font-size="23" fill="#333" stroke="#333" stroke-width=".3" textLength="141" lengthAdjust="spacingAndGlyphs" transform="rotate(-90 26.2 1565.9)">Diameter (nm)</text>
<path d="M733 410.6L734.6 412.5L736.3 414.4L738.1 416.6L740 418.8L742 421.1L743.9 423.4L745.9 425.6L747.8 427.9L749.5 429.8L751.1 431.7L752.8 433.6L754.4 435.5L756.1 437.4L757.7 439.4L759.6 441.5L761.5 443.7L763.5 446L765.4 448.3L767.4 450.5L769.4 452.8L771 454.7L772.7 456.6L774.4 458.5L776.1 460.5L777.7 462.4L779.4 464.3L781.1 466.2L783 468.4L785 470.7L786.9 472.9L788.9 475.1L790.8 477.4L792.8 479.6L794.5 481.6L796.2 483.5L797.9 485.4L799.6 487.3L801.3 489.2L803 491.1L804.7 493.1L806.5 495.1L808.4 497.3L810.4 499.5L812.3 501.7L814.3 503.9L816.3 506.1L818.2 508.2L820.1 510.3L821.8 512.2L823.5 514.1L825.2 516.1L827 518L828.7 519.9L830.4 521.8L832.2 523.7L833.9 525.7L835.8 527.7L837.7 529.9L839.7 532L841.7 534.2L843.6 536.3L845.6 538.4L847.5 540.5L849.5 542.6L851.4 544.7L853.3 546.7L855.1 548.7L856.9 550.6L858.7 552.5L860.5 554.4L862.3 556.3L864.1 558.3L866 560.2L867.8 562.1L869.6 564L871.5 565.9L873.3 567.8L875.2 569.8L877.1 571.7L878.9 573.6L880.8 575.5L882.7 577.4L884.7 579.3L886.6 581.3L888.6 583.2L890.5 585.1L892.5 587.1L894.4 588.9L896.4 590.9L898.4 592.8L900.4 594.7L902.5 596.6L904.6 598.5L906.7 600.4L908.8 602.4L910.9 604.3L913.1 606.2L915.3 608.1L917.6 610L919.8 611.9L921.8 613.5L923.7 615.1L925.7 616.6L927.6 618.1L929.6 619.6L932.2 621.5L935 623.5L937.4 625.1L939.4 626.4L941.3 627.6L944 629.2L947.2 631L949.1 632L951.4 633L955 634.6L957 635.3L960.9 636.5L962.8 636.9L966.7 637.6L970.6 637.8L974.5 637.5L977.7 636.9L980.4 636.1L983.1 635L986.3 633.3L988.2 632.1L990.2 630.7L992.1 629.1L994.1 627.3L996 625.4L998 623.2L999.9 620.9L1001.9 618.4L1003.8 615.8L1005.1 613.9L1006.4 611.9L1007.8 609.7L1009.7 606.5L1011 604.3L1012 602.4L1013.6 599.4L1015.1 596.6L1016 594.7L1017.5 591.6L1018.8 588.9L1019.7 587L1021.4 583.2L1022.3 581.3L1023.4 578.8L1024.8 575.5L1025.6 573.6L1027.2 569.8L1028 567.8L1029.3 564.7L1030.3 562.1L1031.2 559.7L1032.5 556.3L1033.2 554.4L1034.7 550.6L1035.4 548.7L1036.8 544.8L1037.5 542.9L1038.9 539.1L1039.5 537.2L1040.9 533.3L1041.6 531.4L1042.9 527.6L1043.5 525.7L1044.9 521.8L1045.5 519.9L1046.8 516.1L1047.4 514.1L1048.7 510.3L1049.4 508.4L1050.6 504.6L1051.2 502.6L1052.5 498.8L1053.1 496.9L1054.3 493.1L1054.9 491.1L1056.2 487.3L1056.8 485.4L1058 481.6L1058.6 479.6L1059.8 475.8L1060.5 473.5L1061.6 470L1062.5 467.2L1063.4 464.3L1064.4 460.8L1065.1 458.5L1066.3 454.7L1066.9 452.8L1068 449L1068.6 447L1069.8 443.2L1070.3 441.3L1071.5 437.4L1072.2 434.9L1073.2 431.7L1074.2 428.4L1074.9 425.9L1076.1 422.1L1076.6 420.2L1077.8 416.4L1078.3 414.4L1079.4 410.6" fill="none" stroke="#111" stroke-width="1.8" stroke-opacity=".9"/>
<path d="M699 548.7L701 552.5L701.9 554.4L702.9 556.3L704.9 560.1L705.9 562.1L706.8 564L708.8 567.8L709.7 569.8L710.7 571.7L712.6 575.5L713.5 577.4L714.6 579.6L716.4 583.2L717.3 585.1L718.5 587.7L720.1 590.9L721 592.8L722.5 595.9L723.7 598.5L724.6 600.4L726.4 604.2L727.3 606.2L728.3 608.5L729.9 611.9L730.8 613.9L732.2 617.1L733.3 619.6L734.2 621.5L735.9 625.4L736.7 627.3L738.1 630.4L739.2 633L740 635L741.7 638.8L742.5 640.7L743.9 644.2L744.9 646.5L745.9 648.9L747.2 652.2L748 654.1L749.6 658L750.3 659.9L751.8 663.5L752.6 665.6L753.7 668.6L754.8 671.4L755.7 673.7L757 677.1L757.7 679.1L759.1 682.9L759.8 684.8L761.2 688.7L761.9 690.6L763.3 694.4L763.9 696.3L765.3 700.2L765.9 702.1L767.2 705.9L767.9 707.8L769.2 711.7L769.8 713.6L771 717.4L771.6 719.3L772.9 723.2L773.5 725.1L774.6 728.9L775.2 730.8L776.4 734.7L777.2 737.3L778.1 740.4L779.1 744L779.7 746.2L780.8 750L781.4 751.9L782.4 755.8L783 758.1L783.9 761.5L784.9 765.4L785.4 767.3L786.4 771.1L786.9 773.2L787.8 776.9L788.8 780.7L789.2 782.6L790.1 786.4L790.8 789.7L791.4 792.2" fill="none" stroke="#111" stroke-width="1.8" stroke-opacity=".9"/>
<path d="M1236.7 792.2L1236.1 790.3L1234.8 786.4L1234.2 784.5L1232.9 780.7L1232.3 778.8L1231 774.9L1230.4 773L1229.2 769.2L1228.6 767.2L1227.4 763.4L1226.6 760.8L1225.7 757.7L1224.7 754.2L1224 751.9L1222.9 748.1L1222.4 746.2L1221.3 742.3L1220.8 740.4L1219.7 736.6L1218.8 733.1L1218.2 730.8L1217.2 727L1216.7 725.1L1215.8 721.2L1214.9 717.7L1214.4 715.5L1213.5 711.7L1212.9 709.5L1212.1 705.9L1211.3 702.1L1210.8 700.2L1210 696.3L1209.2 692.5L1208.8 690.6L1208 686.7L1207.2 682.9L1206.9 681L1206.1 677.1L1205.4 673.3L1205 671.4L1204.3 667.6L1203.7 663.7L1203.2 660.8L1202.7 658L1202.1 654.1L1201.5 650.3L1201.2 648.4L1200.6 644.5L1200 640.7L1199.5 636.9L1199.2 635L1198.7 631.1L1198.2 627.3L1197.7 623.5L1197.3 620.3L1197 617.7L1196.6 613.9L1196.1 610L1195.7 606.2L1195.4 602.7L1195.1 600.4L1194.8 596.6L1194.4 592.8L1194.1 588.9L1193.8 585.1L1193.5 581.3L1193.3 579.3L1193 575.5L1192.8 571.7L1192.5 567.8L1192.3 564L1192.1 560.2L1191.9 556.3L1191.7 552.5L1191.5 548.7L1191.4 546.7L1191.3 542.9L1191.1 539.1L1191 535.2L1190.9 531.4L1190.8 527.6L1190.7 523.7L1190.6 519.9L1190.6 516.1L1190.5 512.2L1190.5 508.4L1190.5 504.6L1190.5 500.7L1190.5 496.9L1190.5 493.1L1190.5 489.2L1190.5 485.4L1190.6 481.6L1190.7 477.7L1190.7 473.9L1190.8 470L1190.9 466.2L1191 462.4L1191.1 458.5L1191.3 454.7L1191.4 450.9L1191.5 449L1191.6 445.1L1191.8 441.3L1192 437.4L1192.2 433.6L1192.4 429.8L1192.6 425.9L1192.8 422.1L1193 418.3L1193.2 414.4L1193.4 411.9L1193.5 410.6" fill="none" stroke="#111" stroke-width="1.8" stroke-opacity=".9"/>
<path d="M1283.3 563.2L1282.9 560.2L1282.5 556.3L1282.1 552.5L1281.6 548.7L1281.3 545.9L1281 542.9L1280.6 539.1L1280.3 535.2L1279.9 531.4L1279.5 527.6L1279.4 525.7L1279 521.8L1278.7 518L1278.4 514.1L1278.1 510.3L1277.8 506.5L1277.5 502.6L1277.4 500.7L1277.1 496.9L1276.8 493.1L1276.6 489.2L1276.3 485.4L1276.1 481.6L1275.9 477.7L1275.7 473.9L1275.5 470L1275.4 468.1L1275.2 464.3L1275.1 460.5L1274.9 456.6L1274.7 452.8L1274.6 449L1274.5 445.1L1274.3 441.3L1274.2 437.4L1274.1 433.6L1274 429.8L1274 425.9L1273.9 422.1L1273.8 418.3L1273.8 414.4L1273.7 410.6" fill="none" stroke="#111" stroke-width="1.8" stroke-opacity=".9"/>
<rect x="699" y="410.6" width="584.3" height="381.6" fill="none" stroke="#000" stroke-opacity=".8" stroke-width="2"/>
<rect x="914.8" y="608.4" width="28" height="12" fill="#fff" stroke="#333" stroke-width=".9"/>
<text x="928.8" y="618.4" font-size="10" fill="#333" text-anchor="middle" stroke="#333" stroke-width=".22" textLength="22" lengthAdjust="spacingAndGlyphs">200</text>
<rect x="736.4" y="652.4" width="28" height="12" fill="#fff" stroke="#333" stroke-width=".9"/>
<text x="750.4" y="662.4" font-size="10" fill="#333" text-anchor="middle" stroke="#333" stroke-width=".22" textLength="22" lengthAdjust="spacingAndGlyphs">300</text>
<rect x="1181.1" y="603.7" width="28" height="12" fill="#fff" stroke="#333" stroke-width=".9"/>
<text x="1195.1" y="613.7" font-size="10" fill="#333" text-anchor="middle" stroke="#333" stroke-width=".22" textLength="22" lengthAdjust="spacingAndGlyphs">300</text>
<ellipse cx="991.1" cy="410.6" rx="6.4" ry="4" fill="#c00000" stroke="#1a0000" stroke-width="1.4"/>
<ellipse cx="991.1" cy="792.2" rx="6.4" ry="4" fill="#c00000" stroke="#1a0000" stroke-width="1.4"/>
<ellipse cx="699" cy="601.4" rx="6.4" ry="4" fill="#c00000" stroke="#1a0000" stroke-width="1.4"/>
<ellipse cx="1283.3" cy="601.4" rx="6.4" ry="4" fill="#c00000" stroke="#1a0000" stroke-width="1.4"/>
<ellipse cx="991.1" cy="601.4" rx="6.4" ry="4" fill="#c00000" stroke="#1a0000" stroke-width="1.4"/>
<text x="976.5" y="605.7" font-size="12" fill="#333" text-anchor="middle" stroke="#333" stroke-width=".22" textLength="6.5" lengthAdjust="spacingAndGlyphs">4</text>
<line x1="699" y1="792.2" x2="699" y2="801.2" stroke="#555" stroke-width="1.5"/>
<text x="699" y="813.7" font-size="10.5" fill="#404040" text-anchor="middle" stroke="#404040" stroke-width=".22" textLength="23.5" lengthAdjust="spacingAndGlyphs">1.50</text>
<line x1="815.9" y1="792.2" x2="815.9" y2="801.2" stroke="#555" stroke-width="1.5"/>
<text x="815.9" y="813.7" font-size="10.5" fill="#404040" text-anchor="middle" stroke="#404040" stroke-width=".22" textLength="23.5" lengthAdjust="spacingAndGlyphs">1.70</text>
<line x1="932.7" y1="792.2" x2="932.7" y2="801.2" stroke="#555" stroke-width="1.5"/>
<text x="932.7" y="813.7" font-size="10.5" fill="#404040" text-anchor="middle" stroke="#404040" stroke-width=".22" textLength="23.5" lengthAdjust="spacingAndGlyphs">1.90</text>
<line x1="1049.6" y1="792.2" x2="1049.6" y2="801.2" stroke="#555" stroke-width="1.5"/>
<text x="1049.6" y="813.7" font-size="10.5" fill="#404040" text-anchor="middle" stroke="#404040" stroke-width=".22" textLength="23.5" lengthAdjust="spacingAndGlyphs">2.10</text>
<line x1="1166.4" y1="792.2" x2="1166.4" y2="801.2" stroke="#555" stroke-width="1.5"/>
<text x="1166.4" y="813.7" font-size="10.5" fill="#404040" text-anchor="middle" stroke="#404040" stroke-width=".22" textLength="23.5" lengthAdjust="spacingAndGlyphs">2.30</text>
<line x1="1283.3" y1="792.2" x2="1283.3" y2="801.2" stroke="#555" stroke-width="1.5"/>
<text x="1283.3" y="813.7" font-size="10.5" fill="#404040" text-anchor="middle" stroke="#404040" stroke-width=".22" textLength="23.5" lengthAdjust="spacingAndGlyphs">2.50</text>
<line x1="685" y1="410.6" x2="699" y2="410.6" stroke="#555" stroke-width="1.5"/>
<text x="679.5" y="414.2" font-size="10.5" fill="#404040" text-anchor="end" stroke="#404040" stroke-width=".22" textLength="30.5" lengthAdjust="spacingAndGlyphs">26.00</text>
<line x1="685" y1="506" x2="699" y2="506" stroke="#555" stroke-width="1.5"/>
<text x="679.5" y="509.6" font-size="10.5" fill="#404040" text-anchor="end" stroke="#404040" stroke-width=".22" textLength="30.5" lengthAdjust="spacingAndGlyphs">24.00</text>
<line x1="685" y1="601.4" x2="699" y2="601.4" stroke="#555" stroke-width="1.5"/>
<text x="679.5" y="605" font-size="10.5" fill="#404040" text-anchor="end" stroke="#404040" stroke-width=".22" textLength="30.5" lengthAdjust="spacingAndGlyphs">22.00</text>
<line x1="685" y1="696.8" x2="699" y2="696.8" stroke="#555" stroke-width="1.5"/>
<text x="679.5" y="700.4" font-size="10.5" fill="#404040" text-anchor="end" stroke="#404040" stroke-width=".22" textLength="30.5" lengthAdjust="spacingAndGlyphs">20.00</text>
<line x1="685" y1="792.2" x2="699" y2="792.2" stroke="#555" stroke-width="1.5"/>
<text x="679.5" y="795.8" font-size="10.5" fill="#404040" text-anchor="end" stroke="#404040" stroke-width=".22" textLength="30.5" lengthAdjust="spacingAndGlyphs">18.00</text>
<text x="913.6" y="403.1" font-size="23" fill="#333" stroke="#333" stroke-width=".3" textLength="151.2" lengthAdjust="spacingAndGlyphs">Diameter (nm)</text>
<text x="834.8" y="830" font-size="23.5" fill="#333" stroke="#333" stroke-width=".3" textLength="195.8" lengthAdjust="spacingAndGlyphs">A: Flow rate (ml/h)</text>
<text x="637" y="653.2" font-size="23.5" fill="#333" stroke="#333" stroke-width=".3" textLength="137.8" lengthAdjust="spacingAndGlyphs" transform="rotate(-90 637 653.2)">B: Voltage (Kv)</text>
<text x="1291" y="431.6" font-size="16.5" fill="#111" font-weight="bold" textLength="112" lengthAdjust="spacingAndGlyphs">Diameter (nm)</text>
<circle cx="1305" cy="453.5" r="9" fill="#c00000" stroke="#4a0000" stroke-width="1"/>
<text x="1323.8" y="459" font-size="16.5" fill="#d0505a" stroke="#d0505a" stroke-width=".3" textLength="98" lengthAdjust="spacingAndGlyphs">Design Points</text>
<text x="1291" y="515" font-size="16.5" fill="#4a4ae0" stroke="#4a4ae0" stroke-width=".3" textLength="46.8" lengthAdjust="spacingAndGlyphs">84.346</text>
<rect x="1351" y="497.9" width="58.2" height="24.1" rx="2" fill="url(#lbar)" stroke="#222" stroke-width="1.6"/>
<text x="1415.8" y="515" font-size="16.5" fill="#e0404a" stroke="#e0404a" stroke-width=".3" textLength="55.5" lengthAdjust="spacingAndGlyphs">406.577</text>
<text x="1291" y="542.3" font-size="16.5" fill="#444" stroke="#444" stroke-width=".3" textLength="47.5" lengthAdjust="spacingAndGlyphs">X1 = B</text>
<text x="1291" y="571.2" font-size="16.5" fill="#444" stroke="#444" stroke-width=".3" textLength="48" lengthAdjust="spacingAndGlyphs">X2 = C</text>
<text x="1291" y="625.7" font-size="16.5" fill="#111" font-weight="bold" textLength="100.5" lengthAdjust="spacingAndGlyphs">Actual Factor</text>
<text x="1291" y="654.6" font-size="16.5" fill="#444" stroke="#444" stroke-width=".3" textLength="59.5" lengthAdjust="spacingAndGlyphs">A = 2.00</text>
<path d="M1019.4 1244.2L1017.2 1243.8L1013.3 1243L1009.4 1242.3L1007.4 1242L1003.5 1241.4L999.5 1240.8L996 1240.4L993.6 1240.1L989.7 1239.7L985.8 1239.4L981.8 1239.1L977.9 1238.9L974 1238.7L970 1238.6L966.1 1238.6L962.2 1238.7L958.2 1238.8L954.3 1239L950.4 1239.2L946.4 1239.5L942.5 1239.9L938.6 1240.3L936.6 1240.5L932.7 1241.1L928.7 1241.6L924.9 1242.3L922.8 1242.7L918.9 1243.4L915 1244.2" fill="none" stroke="#111" stroke-width="1.8" stroke-opacity=".9"/>
<path d="M765.4 863.5L767.4 865.4L769.4 867.2L771.4 869L773.3 870.8L775.3 872.6L777.3 874.4L779.2 876.2L781.2 878L783.2 879.8L785.1 881.6L787.1 883.4L789.1 885.2L791 887.1L793 888.9L795 890.7L796.9 892.5L798.9 894.3L800.9 896.2L802.8 898L804.9 899.8L806.9 901.8L809 903.7L811 905.6L813.1 907.5L815.1 909.4L817.1 911.3L819.2 913.2L821.2 915.2L823.2 917.1L825.2 919L827.3 920.9L829.3 922.8L831.3 924.7L833.3 926.6L835.3 928.5L837.3 930.5L839.3 932.4L841.3 934.3L843.2 936.2L845.2 938.1L847.2 940L849.1 941.9L851.1 943.8L853 945.8L854.9 947.7L856.8 949.6L858.7 951.5L860.6 953.4L862.5 955.3L864.4 957.2L866.3 959.2L868.1 961.1L869.9 963L871.8 964.9L873.7 966.9L875.6 969L877.6 971.2L879.6 973.3L881.5 975.5L883.5 977.8L885.5 980L887.2 982.1L888.8 984L890.4 985.9L891.9 987.8L893.4 989.8L895.3 992.3L897.3 995L898.9 997.4L900.2 999.3L901.4 1001.2L903.2 1004.3L904.6 1007L905.5 1008.9L907.1 1012.5L907.9 1014.6L909 1018.5L909.5 1020.4L910.1 1024.2L910.3 1028L910.1 1031.8L909.6 1035.7L909.1 1038.2L908.2 1041.4L907.1 1044.5L906 1047.2L905.1 1049.2L903.3 1052.9L902.3 1054.8L901.2 1056.7L899.2 1060L897.7 1062.5L896.4 1064.4L895.1 1066.3L893.3 1068.8L891.4 1071.6L889.6 1073.9L888.2 1075.9L886.7 1077.8L885.2 1079.7L883.5 1081.8L881.5 1084.3L879.6 1086.7L877.6 1089.1L875.8 1091.2L874.2 1093.1L872.6 1095L871 1096.9L869.3 1098.8L867.6 1100.7L865.8 1102.8L863.8 1105.1L861.9 1107.3L859.9 1109.5L857.9 1111.7L856 1113.8L854 1116L852.2 1117.9L850.5 1119.9L848.7 1121.8L847 1123.7L845.2 1125.6L843.4 1127.5L841.7 1129.4L839.9 1131.3L838.1 1133.2L836.3 1135.2L834.3 1137.3L832.3 1139.4L830.4 1141.5L828.4 1143.6L826.4 1145.6L824.5 1147.7L822.5 1149.8L820.5 1151.9L818.6 1153.9L816.6 1156L814.6 1158L812.7 1160L810.9 1161.9L809.1 1163.9L807.2 1165.8L805.4 1167.7L803.6 1169.6L801.7 1171.5L799.9 1173.4L798 1175.3L796.2 1177.2L794.3 1179.2L792.5 1181.1L790.6 1183L788.8 1184.9L786.9 1186.8L785.1 1188.7L783.2 1190.6L781.2 1192.7L779.2 1194.7L777.3 1196.7L775.3 1198.7L773.3 1200.7L771.4 1202.8L769.4 1204.8L767.4 1206.8L765.5 1208.8L763.5 1210.8L761.5 1212.8L759.6 1214.8L757.6 1216.8L755.6 1218.8L753.7 1220.8L751.7 1222.8L749.7 1224.9L747.8 1226.9L745.8 1228.9L743.9 1230.8L742 1232.7L740.1 1234.6L738.2 1236.5L736.4 1238.5L734.5 1240.4L732.6 1242.3L730.7 1244.2" fill="none" stroke="#111" stroke-width="1.8" stroke-opacity=".9"/>
<path d="M1203.7 1244.2L1201.6 1242.3L1199.5 1240.4L1197.3 1238.5L1195.2 1236.5L1193.1 1234.6L1191 1232.7L1188.9 1230.8L1186.8 1228.9L1184.7 1227L1182.5 1225.1L1180.5 1223.2L1178.5 1221.4L1176.6 1219.6L1174.6 1217.9L1172.6 1216.1L1170.7 1214.3L1168.7 1212.5L1166.7 1210.7L1164.8 1208.9L1162.8 1207.2L1160.8 1205.4L1158.9 1203.6L1156.9 1201.8L1154.9 1200L1153 1198.2L1150.9 1196.4L1148.8 1194.5L1146.7 1192.5L1144.7 1190.6L1142.6 1188.7L1140.5 1186.8L1138.4 1184.9L1136.3 1183L1134.2 1181.1L1132.1 1179.2L1130 1177.2L1127.9 1175.3L1125.9 1173.4L1123.8 1171.5L1121.7 1169.6L1119.6 1167.7L1117.6 1165.8L1115.6 1163.9L1113.6 1162.1L1111.6 1160.3L1109.7 1158.5L1107.7 1156.7L1105.7 1154.8L1103.8 1153L1101.8 1151.2L1099.8 1149.3L1097.9 1147.5L1095.9 1145.7L1093.9 1143.8L1092 1142L1090 1140.1L1088 1138.3L1086.1 1136.4L1084.1 1134.6L1082.1 1132.7L1080.2 1130.8L1078.2 1129L1076.2 1127.1L1074.3 1125.2L1072.3 1123.3L1070.3 1121.5L1068.4 1119.6L1066.4 1117.7L1064.4 1115.8L1062.5 1113.8L1060.5 1111.9L1058.5 1110L1056.6 1108.1L1054.6 1106.1L1052.6 1104.2L1050.7 1102.2L1048.7 1100.2L1046.7 1098.2L1044.8 1096.2L1042.8 1094.2L1040.8 1092.2L1038.9 1090.2L1036.9 1088.1L1034.9 1086L1033 1083.9L1031 1081.8L1029 1079.7L1027.3 1077.8L1025.6 1075.9L1023.9 1073.9L1022.3 1072L1020.7 1070.1L1019.1 1068.2L1017.2 1066L1015.3 1063.5L1013.3 1060.9L1011.6 1058.6L1010.2 1056.7L1008.9 1054.8L1007.4 1052.5L1005.4 1049.3L1004.2 1047.2L1003.2 1045.2L1001.5 1041.7L1000.6 1039.5L999.5 1036.6L998.7 1033.8L997.9 1029.9L997.6 1027.5L997.4 1024.2L997.5 1020.4L997.7 1018.5L998.4 1014.6L999.4 1010.8L1000 1008.9L1001.5 1005.1L1002.3 1003.2L1003.5 1000.8L1005.2 997.4L1006.3 995.5L1007.4 993.6L1009.4 990.5L1011.1 987.8L1012.4 985.9L1013.7 984L1015.3 981.8L1017.2 979.1L1019.2 976.5L1020.7 974.5L1022.2 972.5L1023.7 970.6L1025.3 968.7L1027.1 966.5L1029 964.1L1031 961.8L1033 959.4L1034.8 957.2L1036.5 955.3L1038.1 953.4L1039.8 951.5L1041.4 949.6L1043.1 947.7L1044.8 945.8L1046.7 943.6L1048.7 941.4L1050.7 939.2L1052.6 937.1L1054.6 934.9L1056.6 932.7L1058.5 930.6L1060.4 928.5L1062.2 926.6L1063.9 924.7L1065.7 922.8L1067.5 920.9L1069.3 919L1071.1 917.1L1072.9 915.2L1074.7 913.2L1076.5 911.3L1078.3 909.4L1080.2 907.4L1082.1 905.3L1084.1 903.2L1086.1 901.2L1088 899.1L1090 897L1092 895L1093.9 892.9L1095.9 890.9L1097.9 888.8L1099.8 886.8L1101.8 884.7L1103.8 882.7L1105.7 880.7L1107.5 878.8L1109.4 876.9L1111.2 875L1113.1 873.1L1114.9 871.2L1116.8 869.2L1118.6 867.3L1120.5 865.4L1122.3 863.5" fill="none" stroke="#111" stroke-width="1.8" stroke-opacity=".9"/>
<path d="M692.7 931.7L693.9 934.3L694.8 936.2L696.6 940L697.4 941.9L698.6 944.6L699.9 947.7L700.7 949.6L702.2 953.4L703 955.3L704.4 959.2L705.1 961.1L706.5 964.9L707.1 966.8L708.4 970.6L709 972.5L710.2 976.4L710.7 978.3L711.8 982.1L712.4 984.4L713.2 987.8L714.1 991.7L714.6 993.6L715.4 997.4L716.1 1001.2L716.4 1003.2L717 1007L717.6 1010.8L718.1 1014.6L718.3 1016.5L718.7 1020.4L719 1024.2L719.2 1028L719.3 1031.8L719.4 1035.7L719.5 1039.5L719.4 1043.3L719.3 1047.2L719.1 1051L718.8 1054.8L718.5 1058.6L718.3 1061L717.9 1064.4L717.4 1068.2L716.8 1072L716.3 1075.2L715.9 1077.8L715.1 1081.6L714.3 1085.4L713.9 1087.3L713 1091.2L712.4 1093.8L711.6 1096.9L710.5 1100.7L710 1102.6L708.8 1106.5L708.3 1108.4L707 1112.2L706.4 1114.1L705.1 1117.9L704.4 1119.9L703 1123.7L702.3 1125.6L700.8 1129.4L700.1 1131.3L698.6 1135L697.7 1137.1L696.6 1139.7L695.3 1142.8L694.4 1144.7L692.7 1148.5L692.7 1148.6" fill="none" stroke="#111" stroke-width="1.8" stroke-opacity=".9"/>
<path d="M1280.8 1223L1278.8 1220.4L1276.9 1217.9L1275.1 1215.5L1273.6 1213.6L1272.2 1211.7L1270.8 1209.8L1269 1207.4L1267 1204.7L1265.1 1202.1L1263.8 1200.2L1262.4 1198.3L1261 1196.4L1259.2 1193.8L1257.2 1191L1255.6 1188.7L1254.3 1186.8L1253 1184.9L1251.3 1182.4L1249.3 1179.5L1247.8 1177.2L1246.6 1175.3L1245.3 1173.4L1243.4 1170.5L1241.6 1167.7L1240.4 1165.8L1239.2 1163.9L1237.5 1161.2L1235.6 1158.1L1234.5 1156.2L1233.3 1154.3L1231.6 1151.4L1230 1148.5L1228.9 1146.6L1227.7 1144.6L1225.7 1141.1L1224.6 1139L1223.5 1137.1L1221.8 1133.8L1220.5 1131.3L1219.5 1129.4L1217.9 1126.2L1216.6 1123.7L1215.7 1121.8L1213.9 1118.1L1212.9 1116L1212 1113.9L1210.3 1110.3L1209.5 1108.4L1208 1104.9L1207.1 1102.6L1206.1 1100.1L1204.8 1096.9L1204.1 1095L1202.6 1091.2L1201.9 1089.2L1200.6 1085.4L1200 1083.5L1198.7 1079.7L1198.2 1077.8L1197 1073.9L1196.2 1071.1L1195.4 1068.2L1194.5 1064.4L1194 1062.5L1193.1 1058.6L1192.4 1054.8L1192 1052.9L1191.3 1049.1L1190.7 1045.2L1190.3 1043L1189.9 1039.5L1189.4 1035.7L1189 1031.8L1188.7 1028L1188.5 1024.2L1188.4 1021.4L1188.3 1018.5L1188.2 1014.6L1188.2 1010.8L1188.3 1007L1188.4 1005L1188.5 1001.2L1188.8 997.4L1189.1 993.6L1189.5 989.8L1190 985.9L1190.3 983.3L1190.8 980.2L1191.4 976.4L1192.1 972.5L1192.5 970.6L1193.3 966.8L1194.1 963L1194.6 961.1L1195.5 957.2L1196.2 954.6L1197.1 951.5L1198.2 947.7L1198.7 945.8L1199.9 941.9L1200.5 940L1201.8 936.2L1202.5 934.3L1203.8 930.5L1204.5 928.5L1206 924.7L1206.7 922.8L1208 919.5L1209 917.1L1210 914.7L1211.4 911.3L1212.2 909.4L1213.9 905.6L1214.8 903.7L1215.9 901.3L1217.5 897.9L1218.4 896L1219.8 893L1221.2 890.3L1222.1 888.4L1223.8 885.2L1225.1 882.6L1226.1 880.7L1227.7 877.7L1229.1 875L1230.2 873.1L1231.6 870.4L1233.3 867.3L1234.4 865.4L1235.5 863.5" fill="none" stroke="#111" stroke-width="1.8" stroke-opacity=".9"/>
<rect x="692.7" y="863.5" width="588.1" height="380.7" fill="none" stroke="#000" stroke-opacity=".8" stroke-width="2"/>
<rect x="703.3" y="1026.9" width="28" height="12" fill="#fff" stroke="#333" stroke-width=".9"/>
<text x="717.3" y="1036.9" font-size="10" fill="#333" text-anchor="middle" stroke="#333" stroke-width=".22" textLength="22" lengthAdjust="spacingAndGlyphs">300</text>
<rect x="884" y="1043.9" width="28" height="12" fill="#fff" stroke="#333" stroke-width=".9"/>
<text x="898" y="1053.9" font-size="10" fill="#333" text-anchor="middle" stroke="#333" stroke-width=".22" textLength="22" lengthAdjust="spacingAndGlyphs">200</text>
<rect x="1002.3" y="1052.9" width="28" height="12" fill="#fff" stroke="#333" stroke-width=".9"/>
<text x="1016.3" y="1062.9" font-size="10" fill="#333" text-anchor="middle" stroke="#333" stroke-width=".22" textLength="22" lengthAdjust="spacingAndGlyphs">200</text>
<rect x="1178.2" y="1046.3" width="28" height="12" fill="#fff" stroke="#333" stroke-width=".9"/>
<text x="1192.2" y="1056.3" font-size="10" fill="#333" text-anchor="middle" stroke="#333" stroke-width=".22" textLength="22" lengthAdjust="spacingAndGlyphs">300</text>
<rect x="958.3" y="1228.4" width="28" height="12" fill="#fff" stroke="#333" stroke-width=".9"/>
<text x="972.3" y="1238.4" font-size="10" fill="#333" text-anchor="middle" stroke="#333" stroke-width=".22" textLength="22" lengthAdjust="spacingAndGlyphs">100</text>
<ellipse cx="986.8" cy="863.5" rx="6.4" ry="4" fill="#c00000" stroke="#1a0000" stroke-width="1.4"/>
<ellipse cx="986.8" cy="1244.2" rx="6.4" ry="4" fill="#c00000" stroke="#1a0000" stroke-width="1.4"/>
<ellipse cx="692.7" cy="1053.8" rx="6.4" ry="4" fill="#c00000" stroke="#1a0000" stroke-width="1.4"/>
<ellipse cx="1280.8" cy="1053.8" rx="6.4" ry="4" fill="#c00000" stroke="#1a0000" stroke-width="1.4"/>
<ellipse cx="986.8" cy="1053.8" rx="6.4" ry="4" fill="#c00000" stroke="#1a0000" stroke-width="1.4"/>
<text x="972" y="1057.7" font-size="12" fill="#333" text-anchor="middle" stroke="#333" stroke-width=".22" textLength="6.5" lengthAdjust="spacingAndGlyphs">4</text>
<line x1="692.7" y1="1244.2" x2="692.7" y2="1253.2" stroke="#555" stroke-width="1.5"/>
<text x="692.7" y="1265.7" font-size="10.5" fill="#404040" text-anchor="middle" stroke="#404040" stroke-width=".22" textLength="23.5" lengthAdjust="spacingAndGlyphs">1.50</text>
<line x1="810.3" y1="1244.2" x2="810.3" y2="1253.2" stroke="#555" stroke-width="1.5"/>
<text x="810.3" y="1265.7" font-size="10.5" fill="#404040" text-anchor="middle" stroke="#404040" stroke-width=".22" textLength="23.5" lengthAdjust="spacingAndGlyphs">1.70</text>
<line x1="927.9" y1="1244.2" x2="927.9" y2="1253.2" stroke="#555" stroke-width="1.5"/>
<text x="927.9" y="1265.7" font-size="10.5" fill="#404040" text-anchor="middle" stroke="#404040" stroke-width=".22" textLength="23.5" lengthAdjust="spacingAndGlyphs">1.90</text>
<line x1="1045.6" y1="1244.2" x2="1045.6" y2="1253.2" stroke="#555" stroke-width="1.5"/>
<text x="1045.6" y="1265.7" font-size="10.5" fill="#404040" text-anchor="middle" stroke="#404040" stroke-width=".22" textLength="23.5" lengthAdjust="spacingAndGlyphs">2.10</text>
<line x1="1163.2" y1="1244.2" x2="1163.2" y2="1253.2" stroke="#555" stroke-width="1.5"/>
<text x="1163.2" y="1265.7" font-size="10.5" fill="#404040" text-anchor="middle" stroke="#404040" stroke-width=".22" textLength="23.5" lengthAdjust="spacingAndGlyphs">2.30</text>
<line x1="1280.8" y1="1244.2" x2="1280.8" y2="1253.2" stroke="#555" stroke-width="1.5"/>
<text x="1280.8" y="1265.7" font-size="10.5" fill="#404040" text-anchor="middle" stroke="#404040" stroke-width=".22" textLength="23.5" lengthAdjust="spacingAndGlyphs">2.50</text>
<line x1="678.7" y1="863.5" x2="692.7" y2="863.5" stroke="#555" stroke-width="1.5"/>
<text x="673.2" y="867.1" font-size="10.5" fill="#404040" text-anchor="end" stroke="#404040" stroke-width=".22" textLength="30.5" lengthAdjust="spacingAndGlyphs">12.00</text>
<line x1="678.7" y1="958.7" x2="692.7" y2="958.7" stroke="#555" stroke-width="1.5"/>
<text x="673.2" y="962.3" font-size="10.5" fill="#404040" text-anchor="end" stroke="#404040" stroke-width=".22" textLength="30.5" lengthAdjust="spacingAndGlyphs">11.00</text>
<line x1="678.7" y1="1053.8" x2="692.7" y2="1053.8" stroke="#555" stroke-width="1.5"/>
<text x="673.2" y="1057.4" font-size="10.5" fill="#404040" text-anchor="end" stroke="#404040" stroke-width=".22" textLength="30.5" lengthAdjust="spacingAndGlyphs">10.00</text>
<line x1="678.7" y1="1149" x2="692.7" y2="1149" stroke="#555" stroke-width="1.5"/>
<text x="673.2" y="1152.6" font-size="10.5" fill="#404040" text-anchor="end" stroke="#404040" stroke-width=".22" textLength="23.5" lengthAdjust="spacingAndGlyphs">9.00</text>
<line x1="678.7" y1="1244.2" x2="692.7" y2="1244.2" stroke="#555" stroke-width="1.5"/>
<text x="673.2" y="1247.8" font-size="10.5" fill="#404040" text-anchor="end" stroke="#404040" stroke-width=".22" textLength="23.5" lengthAdjust="spacingAndGlyphs">8.00</text>
<text x="917" y="859.7" font-size="23" fill="#333" stroke="#333" stroke-width=".3" textLength="150.8" lengthAdjust="spacingAndGlyphs">Diameter (nm)</text>
<text x="835.4" y="1289.7" font-size="23.5" fill="#333" stroke="#333" stroke-width=".3" textLength="196.2" lengthAdjust="spacingAndGlyphs">A: Flow rate (ml/h)</text>
<text x="639.1" y="1123.5" font-size="23.5" fill="#333" stroke="#333" stroke-width=".3" textLength="155.7" lengthAdjust="spacingAndGlyphs" transform="rotate(-90 639.1 1123.5)">C: Distance (cm)</text>
<text x="1289.9" y="892.9" font-size="16.5" fill="#111" font-weight="bold" textLength="112" lengthAdjust="spacingAndGlyphs">Diameter (nm)</text>
<circle cx="1304" cy="915.9" r="9" fill="#c00000" stroke="#4a0000" stroke-width="1"/>
<text x="1322.8" y="921.2" font-size="16.5" fill="#d0505a" stroke="#d0505a" stroke-width=".3" textLength="98.7" lengthAdjust="spacingAndGlyphs">Design Points</text>
<text x="1289.9" y="977.1" font-size="16.5" fill="#4a4ae0" stroke="#4a4ae0" stroke-width=".3" textLength="46.8" lengthAdjust="spacingAndGlyphs">84.346</text>
<rect x="1349.6" y="960.3" width="58.9" height="24.5" rx="2" fill="url(#lbar)" stroke="#222" stroke-width="1.6"/>
<text x="1414.6" y="977.1" font-size="16.5" fill="#e0404a" stroke="#e0404a" stroke-width=".3" textLength="55.5" lengthAdjust="spacingAndGlyphs">406.577</text>
<text x="1289.9" y="1004.7" font-size="16.5" fill="#444" stroke="#444" stroke-width=".3" textLength="47.5" lengthAdjust="spacingAndGlyphs">X1 = B</text>
<text x="1289.9" y="1033.7" font-size="16.5" fill="#444" stroke="#444" stroke-width=".3" textLength="48" lengthAdjust="spacingAndGlyphs">X2 = C</text>
<text x="1289.9" y="1088.1" font-size="16.5" fill="#111" font-weight="bold" textLength="100.5" lengthAdjust="spacingAndGlyphs">Actual Factor</text>
<text x="1289.9" y="1117.2" font-size="16.5" fill="#444" stroke="#444" stroke-width=".3" textLength="59.5" lengthAdjust="spacingAndGlyphs">A = 2.00</text>
<path d="M1278.4 1686.5L1275.4 1687.3L1272.6 1688L1268.7 1689L1266.7 1689.5L1262.8 1690.5L1260.2 1691.2L1257 1692L1253.1 1693L1251.1 1693.4L1247.2 1694.4L1244.7 1695L1241.4 1695.8L1237.5 1696.8L1235.5 1697.2L1231.6 1698.2L1228.7 1698.9L1225.8 1699.5L1221.9 1700.5L1220.5 1700.8" fill="none" stroke="#111" stroke-width="1.8" stroke-opacity=".9"/>
<path d="M1278.4 1627.6L1274.5 1628.9L1272.5 1629.5L1268.7 1630.7L1266.3 1631.4L1262.8 1632.5L1260.1 1633.4L1257 1634.3L1253.7 1635.3L1251.1 1636L1247.2 1637.2L1245.3 1637.8L1241.4 1638.9L1239.4 1639.5L1235.5 1640.6L1233.6 1641.2L1229.7 1642.3L1227.3 1643L1223.8 1644L1220.4 1644.9L1218 1645.6L1214.1 1646.7L1212.2 1647.2L1208.3 1648.3L1206.3 1648.8L1202.4 1649.8L1199.2 1650.7L1196.6 1651.4L1192.7 1652.4L1190.7 1652.9L1186.8 1653.9L1184.5 1654.5L1181 1655.4L1177.1 1656.4L1175.1 1656.9L1171.2 1657.9L1169.3 1658.4L1165.4 1659.4L1161.5 1660.3L1159.5 1660.8L1155.6 1661.7L1153.5 1662.3L1149.8 1663.2L1145.9 1664.1L1144 1664.5L1140.1 1665.5L1137.3 1666.1L1134.2 1666.8L1130.3 1667.7L1128.4 1668.2L1124.5 1669.1L1120.6 1669.9L1118.6 1670.4L1114.7 1671.2L1111.8 1671.9L1108.9 1672.5L1105 1673.4L1103 1673.8L1099.1 1674.6L1095.2 1675.5L1093.3 1675.9L1089.4 1676.7L1085.5 1677.5L1083.6 1677.9L1079.7 1678.7L1075.8 1679.5L1073.8 1679.9L1069.9 1680.7L1066 1681.5L1064.1 1681.9L1060.2 1682.7L1056.3 1683.4L1054.3 1683.8L1050.4 1684.6L1046.5 1685.3L1044.6 1685.7L1040.7 1686.4L1036.8 1687.2L1034.8 1687.5L1030.9 1688.3L1027 1689L1025.1 1689.3L1021.2 1690.1L1017.3 1690.8L1015 1691.2L1011.5 1691.8L1007.6 1692.5L1004.1 1693.1L1001.7 1693.5L997.8 1694.2L993.9 1694.9L992 1695.2L988.1 1695.8L984.2 1696.5L981.5 1696.9L978.3 1697.5L974.4 1698.1L970.5 1698.7L968.6 1699L964.7 1699.7L960.8 1700.3L957.6 1700.8" fill="none" stroke="#111" stroke-width="1.8" stroke-opacity=".9"/>
<path d="M695.8 1339.5L699.7 1339L703.6 1338.6L705.5 1338.4L709.4 1338L713.3 1337.6L717.2 1337.2L721.1 1336.8L723.1 1336.6L727 1336.2L730.9 1335.8L734.8 1335.4L738.7 1335.1L742.6 1334.7L744.5 1334.5L748.4 1334.2L752.3 1333.9L756.2 1333.5L760.1 1333.2L764 1332.9L766 1332.7L769.8 1332.4L773.7 1332.1L777.6 1331.8L781.5 1331.5L785.4 1331.3L789.3 1331L792.2 1330.8L795.2 1330.6L799.1 1330.3L803 1330.1L806.9 1329.9L810.8 1329.6L814.7 1329.4L818.6 1329.2L822.5 1329L824.4 1328.9L828.3 1328.7L832.2 1328.5L836.1 1328.3L840 1328.1L843.9 1327.9L847.8 1327.8L851.7 1327.6L855.6 1327.5L859.5 1327.3L863.4 1327.2L867.3 1327.1L871.2 1327L873.1 1326.9L877 1326.8L880.9 1326.7L884.8 1326.6L888.7 1326.5L892.6 1326.4L896.5 1326.4L900.4 1326.3L904.3 1326.3L908.2 1326.2L912.1 1326.2L916 1326.1L919.9 1326.1L923.8 1326.1L927.7 1326.1L931.6 1326.1L935.5 1326.1L939.4 1326.1L943.3 1326.1L947.2 1326.2L951.1 1326.2L954.9 1326.3L958.8 1326.3L962.7 1326.4L966.6 1326.5L970.5 1326.6L974.4 1326.7L978.3 1326.8L982.2 1326.9L984.2 1326.9L988.1 1327.1L992 1327.2L995.9 1327.3L999.8 1327.5L1003.7 1327.7L1007.6 1327.8L1011.5 1328L1015.4 1328.2L1019.3 1328.4L1023.1 1328.6L1027 1328.8L1029 1329L1032.9 1329.2L1036.8 1329.4L1040.7 1329.7L1044.6 1330L1048.5 1330.2L1052.4 1330.5L1055.7 1330.8L1058.2 1331L1062.1 1331.3L1066 1331.6L1069.9 1332L1073.8 1332.3L1077.7 1332.7L1079.7 1332.9L1083.6 1333.3L1087.4 1333.6L1091.3 1334.1L1095.2 1334.5L1097.2 1334.7L1101.1 1335.1L1105 1335.6L1108.9 1336L1112.8 1336.5L1114.7 1336.8L1118.6 1337.3L1122.5 1337.8L1126.4 1338.3L1128.4 1338.6L1132.3 1339.1L1136.2 1339.7L1140.1 1340.3L1142 1340.6L1145.9 1341.2L1149.8 1341.8L1153.2 1342.4L1155.6 1342.8L1159.5 1343.4L1163.4 1344.1L1165.4 1344.5L1169.3 1345.2L1173.2 1345.9L1175.1 1346.3L1179 1347L1182.9 1347.8L1184.9 1348.2L1188.8 1349L1192.7 1349.9L1194.6 1350.3L1198.5 1351.2L1202.1 1352L1204.4 1352.5L1208.3 1353.4L1210.2 1353.9L1214.1 1354.9L1217.8 1355.8L1219.9 1356.4L1223.8 1357.4L1225.8 1358L1229.7 1359.1L1231.9 1359.7L1235.5 1360.8L1238.4 1361.6L1241.4 1362.5L1244.6 1363.6L1247.2 1364.4L1250.5 1365.5L1253.1 1366.3L1256.2 1367.4L1258.9 1368.4L1261.5 1369.3L1264.8 1370.5L1266.7 1371.3L1270.6 1372.8L1272.6 1373.6L1276.2 1375.1L1278.4 1376" fill="none" stroke="#111" stroke-width="1.8" stroke-opacity=".9"/>
<path d="M1278.4 1532.7L1276.5 1533.9L1274.5 1535.1L1271.1 1537L1268.7 1538.4L1266.7 1539.5L1264.2 1540.8L1260.9 1542.7L1258.9 1543.7L1257 1544.7L1253.3 1546.6L1251.1 1547.7L1249.2 1548.7L1245.6 1550.5L1243.3 1551.6L1241.4 1552.5L1237.6 1554.3L1235.5 1555.3L1233.5 1556.3L1229.7 1558L1227.7 1558.9L1225 1560.1L1221.9 1561.5L1219.9 1562.3L1216.1 1564L1214.1 1564.8L1211.6 1565.9L1208.3 1567.3L1206.3 1568.1L1202.4 1569.7L1200.5 1570.4L1197.3 1571.7L1194.6 1572.7L1192.4 1573.6L1188.8 1575L1186.8 1575.7L1182.9 1577.2L1181 1577.9L1177.1 1579.4L1175.1 1580.1L1171.7 1581.3L1169.3 1582.2L1166.3 1583.2L1163.4 1584.2L1160.7 1585.2L1157.6 1586.2L1155.1 1587.1L1151.7 1588.2L1149.3 1589L1145.9 1590.1L1143.4 1591L1140.1 1592L1137.5 1592.9L1134.2 1593.9L1131.3 1594.8L1128.4 1595.7L1125.1 1596.7L1122.5 1597.5L1118.8 1598.7L1116.7 1599.3L1112.8 1600.4L1110.8 1601L1106.9 1602.1L1105 1602.7L1101.1 1603.8L1098.9 1604.4L1095.2 1605.5L1092 1606.4L1089.4 1607.1L1085.5 1608.1L1083.6 1608.7L1079.7 1609.7L1077.7 1610.2L1073.8 1611.3L1070.4 1612.2L1068 1612.8L1064.1 1613.8L1062.1 1614.3L1058.2 1615.2L1055.2 1616L1052.4 1616.7L1048.5 1617.6L1046.5 1618.1L1042.6 1619.1L1039.3 1619.9L1036.8 1620.4L1032.9 1621.3L1030.9 1621.8L1027 1622.7L1023.1 1623.6L1021.2 1624L1017.3 1624.9L1013.9 1625.6L1011.5 1626.2L1007.6 1627L1005 1627.6L1001.7 1628.3L997.8 1629.1L995.9 1629.5L992 1630.3L988.1 1631.1L986.1 1631.5L982.2 1632.3L978.3 1633.1L976.4 1633.4L972.5 1634.2L968.6 1635L966.6 1635.3L962.7 1636.1L958.8 1636.8L956.7 1637.2L953 1637.9L949.1 1638.6L946.1 1639.1L943.3 1639.6L939.4 1640.3L935.5 1641L933.5 1641.4L929.6 1642L925.7 1642.7L923.8 1643L919.9 1643.7L916 1644.3L912.2 1644.9L910.1 1645.2L906.2 1645.9L902.3 1646.5L900 1646.8L896.5 1647.4L892.6 1648L888.7 1648.6L886.8 1648.9L882.9 1649.4L879 1650L875.1 1650.6L873.1 1650.8L869.2 1651.4L865.3 1651.9L861.4 1652.5L859.5 1652.7L855.6 1653.2L851.7 1653.7L847.8 1654.3L845.5 1654.5L841.9 1655L838 1655.5L834.1 1656L830.2 1656.4L828.3 1656.7L824.4 1657.1L820.5 1657.6L816.6 1658.1L813.5 1658.4L810.8 1658.7L806.9 1659.1L803 1659.6L799.1 1660L795.8 1660.3L793.2 1660.6L789.3 1661L785.4 1661.4L781.5 1661.8L777.6 1662.1L775.7 1662.3L771.8 1662.7L767.9 1663.1L764 1663.4L760.1 1663.8L756.2 1664.1L754.3 1664.3L750.4 1664.6L746.5 1664.9L742.6 1665.2L738.7 1665.5L734.8 1665.8L730.9 1666.1L728.9 1666.3L725 1666.5L721.1 1666.8L717.2 1667.1L713.3 1667.3L709.4 1667.6L705.5 1667.8L702.3 1668L699.7 1668.2L695.8 1668.4" fill="none" stroke="#111" stroke-width="1.8" stroke-opacity=".9"/>
<path d="M695.8 1447.6L699.7 1446.9L703 1446.4L705.5 1446L709.4 1445.5L713.3 1444.9L716.3 1444.5L719.2 1444.1L723.1 1443.6L727 1443.1L730.9 1442.6L732.8 1442.4L736.7 1442L740.6 1441.6L744.5 1441.2L748.4 1440.8L750.4 1440.6L754.3 1440.3L758.2 1440L762 1439.7L765.9 1439.4L769.8 1439.1L773.7 1438.9L776.6 1438.7L779.6 1438.6L783.5 1438.4L787.4 1438.2L791.3 1438L795.2 1437.9L799.1 1437.8L803 1437.7L806.9 1437.7L810.8 1437.6L814.7 1437.6L818.6 1437.6L822.5 1437.6L826.3 1437.7L830.2 1437.7L834.1 1437.8L838 1438L841.9 1438.1L845.8 1438.3L849.7 1438.5L853.6 1438.7L855.6 1438.8L859.5 1439.1L863.4 1439.4L867.3 1439.7L871.2 1440.1L875.1 1440.5L877 1440.7L880.9 1441.2L884.8 1441.7L888.7 1442.2L891.1 1442.6L894.5 1443.1L898.4 1443.8L902.3 1444.5L904.3 1444.8L908.2 1445.6L911.9 1446.4L914 1446.9L917.9 1447.9L919.9 1448.4L923.8 1449.4L926.6 1450.3L929.6 1451.2L932.5 1452.2L935.5 1453.3L937.7 1454.1L941.3 1455.7L943.3 1456.5L946.2 1458L949.1 1459.6L951.1 1460.7L953 1462L955.5 1463.8L957.8 1465.7L959.8 1467.6L961.5 1469.5L962.8 1471.5L964.7 1475.2L965.3 1477.3L965.8 1481.1L965.3 1485L964.7 1487L963 1490.7L961.8 1492.7L960.4 1494.6L958.8 1496.5L956.9 1498.6L954.9 1500.4L952.8 1502.3L950.4 1504.2L947.8 1506.2L945.2 1508L943.3 1509.2L941.3 1510.5L938.8 1511.9L935.5 1513.8L933.5 1514.9L931.6 1515.9L927.9 1517.7L925.7 1518.8L923.8 1519.7L919.9 1521.4L917.9 1522.2L914.9 1523.5L912.1 1524.6L910.1 1525.4L906.2 1526.9L904.3 1527.6L900.4 1529L898.4 1529.7L894.5 1531L892.6 1531.6L888.7 1532.9L886.8 1533.5L882.9 1534.6L880.9 1535.2L877 1536.3L874.7 1537L871.2 1537.9L867.5 1538.9L865.3 1539.5L861.4 1540.5L859.5 1541L855.6 1541.9L851.8 1542.8L849.7 1543.2L845.8 1544.1L843 1544.7L840 1545.3L836.1 1546.1L833.7 1546.6L830.2 1547.3L826.3 1548L823.5 1548.6L820.5 1549.1L816.6 1549.8L812.7 1550.4L810.8 1550.7L806.9 1551.3L803 1551.9L799.9 1552.4L797.1 1552.8L793.2 1553.3L789.3 1553.9L785.7 1554.3L783.5 1554.6L779.6 1555.1L775.7 1555.5L771.8 1556L769 1556.3L765.9 1556.6L762 1556.9L758.2 1557.3L754.3 1557.7L750.4 1558L747.6 1558.2L744.5 1558.4L740.6 1558.7L736.7 1558.9L732.8 1559.2L728.9 1559.4L725 1559.6L721.1 1559.7L717.2 1559.9L713.3 1560L709.4 1560.1L707.5 1560.2L703.6 1560.2L699.7 1560.3L695.8 1560.3" fill="none" stroke="#111" stroke-width="1.8" stroke-opacity=".9"/>
<rect x="695.8" y="1317.3" width="582.6" height="383.5" fill="none" stroke="#000" stroke-opacity=".8" stroke-width="2"/>
<rect x="1045.8" y="1317.4" width="28" height="12" fill="#fff" stroke="#333" stroke-width=".9"/>
<text x="1059.8" y="1327.4" font-size="10" fill="#333" text-anchor="middle" stroke="#333" stroke-width=".22" textLength="22" lengthAdjust="spacingAndGlyphs">150</text>
<rect x="949.3" y="1477.3" width="28" height="12" fill="#fff" stroke="#333" stroke-width=".9"/>
<text x="963.3" y="1487.3" font-size="10" fill="#333" text-anchor="middle" stroke="#333" stroke-width=".22" textLength="22" lengthAdjust="spacingAndGlyphs">200</text>
<rect x="1009.4" y="1612.1" width="28" height="12" fill="#fff" stroke="#333" stroke-width=".9"/>
<text x="1023.4" y="1622.1" font-size="10" fill="#333" text-anchor="middle" stroke="#333" stroke-width=".22" textLength="22" lengthAdjust="spacingAndGlyphs">150</text>
<rect x="1119.1" y="1655.6" width="28" height="12" fill="#fff" stroke="#333" stroke-width=".9"/>
<text x="1133.1" y="1665.6" font-size="10" fill="#333" text-anchor="middle" stroke="#333" stroke-width=".22" textLength="22" lengthAdjust="spacingAndGlyphs">100</text>
<rect x="1239.4" y="1683.3" width="20" height="12" fill="#fff" stroke="#333" stroke-width=".9"/>
<text x="1249.4" y="1693.3" font-size="10" fill="#333" text-anchor="middle" stroke="#333" stroke-width=".22" textLength="14" lengthAdjust="spacingAndGlyphs">50</text>
<ellipse cx="987.1" cy="1317.3" rx="6.4" ry="4" fill="#c00000" stroke="#1a0000" stroke-width="1.4"/>
<ellipse cx="987.1" cy="1700.8" rx="6.4" ry="4" fill="#c00000" stroke="#1a0000" stroke-width="1.4"/>
<ellipse cx="695.8" cy="1509" rx="6.4" ry="4" fill="#c00000" stroke="#1a0000" stroke-width="1.4"/>
<ellipse cx="1278.4" cy="1509" rx="6.4" ry="4" fill="#c00000" stroke="#1a0000" stroke-width="1.4"/>
<ellipse cx="987.1" cy="1509" rx="6.4" ry="4" fill="#c00000" stroke="#1a0000" stroke-width="1.4"/>
<text x="972.5" y="1513.2" font-size="12" fill="#333" text-anchor="middle" stroke="#333" stroke-width=".22" textLength="6.5" lengthAdjust="spacingAndGlyphs">4</text>
<line x1="695.8" y1="1700.8" x2="695.8" y2="1709.8" stroke="#555" stroke-width="1.5"/>
<text x="695.8" y="1722.3" font-size="10.5" fill="#404040" text-anchor="middle" stroke="#404040" stroke-width=".22" textLength="30.5" lengthAdjust="spacingAndGlyphs">18.00</text>
<line x1="841.5" y1="1700.8" x2="841.5" y2="1709.8" stroke="#555" stroke-width="1.5"/>
<text x="841.5" y="1722.3" font-size="10.5" fill="#404040" text-anchor="middle" stroke="#404040" stroke-width=".22" textLength="30.5" lengthAdjust="spacingAndGlyphs">20.00</text>
<line x1="987.1" y1="1700.8" x2="987.1" y2="1709.8" stroke="#555" stroke-width="1.5"/>
<text x="987.1" y="1722.3" font-size="10.5" fill="#404040" text-anchor="middle" stroke="#404040" stroke-width=".22" textLength="30.5" lengthAdjust="spacingAndGlyphs">22.00</text>
<line x1="1132.8" y1="1700.8" x2="1132.8" y2="1709.8" stroke="#555" stroke-width="1.5"/>
<text x="1132.8" y="1722.3" font-size="10.5" fill="#404040" text-anchor="middle" stroke="#404040" stroke-width=".22" textLength="30.5" lengthAdjust="spacingAndGlyphs">24.00</text>
<line x1="1278.4" y1="1700.8" x2="1278.4" y2="1709.8" stroke="#555" stroke-width="1.5"/>
<text x="1278.4" y="1722.3" font-size="10.5" fill="#404040" text-anchor="middle" stroke="#404040" stroke-width=".22" textLength="30.5" lengthAdjust="spacingAndGlyphs">26.00</text>
<line x1="681.8" y1="1317.3" x2="695.8" y2="1317.3" stroke="#555" stroke-width="1.5"/>
<text x="676.3" y="1320.9" font-size="10.5" fill="#404040" text-anchor="end" stroke="#404040" stroke-width=".22" textLength="30.5" lengthAdjust="spacingAndGlyphs">12.00</text>
<line x1="681.8" y1="1413.2" x2="695.8" y2="1413.2" stroke="#555" stroke-width="1.5"/>
<text x="676.3" y="1416.8" font-size="10.5" fill="#404040" text-anchor="end" stroke="#404040" stroke-width=".22" textLength="30.5" lengthAdjust="spacingAndGlyphs">11.00</text>
<line x1="681.8" y1="1509" x2="695.8" y2="1509" stroke="#555" stroke-width="1.5"/>
<text x="676.3" y="1512.6" font-size="10.5" fill="#404040" text-anchor="end" stroke="#404040" stroke-width=".22" textLength="30.5" lengthAdjust="spacingAndGlyphs">10.00</text>
<line x1="681.8" y1="1604.9" x2="695.8" y2="1604.9" stroke="#555" stroke-width="1.5"/>
<text x="676.3" y="1608.5" font-size="10.5" fill="#404040" text-anchor="end" stroke="#404040" stroke-width=".22" textLength="23.5" lengthAdjust="spacingAndGlyphs">9.00</text>
<line x1="681.8" y1="1700.8" x2="695.8" y2="1700.8" stroke="#555" stroke-width="1.5"/>
<text x="676.3" y="1704.4" font-size="10.5" fill="#404040" text-anchor="end" stroke="#404040" stroke-width=".22" textLength="23.5" lengthAdjust="spacingAndGlyphs">8.00</text>
<text x="925" y="1312.3" font-size="23" fill="#333" stroke="#333" stroke-width=".3" textLength="150.1" lengthAdjust="spacingAndGlyphs">Diameter (nm)</text>
<text x="911.6" y="1745.4" font-size="23.5" fill="#333" stroke="#333" stroke-width=".3" textLength="149.2" lengthAdjust="spacingAndGlyphs">B: Voltage (Kv)</text>
<text x="641.8" y="1565.1" font-size="23.5" fill="#333" stroke="#333" stroke-width=".3" textLength="156.8" lengthAdjust="spacingAndGlyphs" transform="rotate(-90 641.8 1565.1)">C: Distance (cm)</text>
<text x="1288.4" y="1339.1" font-size="16.5" fill="#111" font-weight="bold" textLength="112" lengthAdjust="spacingAndGlyphs">Diameter (nm)</text>
<circle cx="1302.5" cy="1362" r="9" fill="#c00000" stroke="#4a0000" stroke-width="1"/>
<text x="1321.3" y="1367.4" font-size="16.5" fill="#d0505a" stroke="#d0505a" stroke-width=".3" textLength="98.7" lengthAdjust="spacingAndGlyphs">Design Points</text>
<text x="1288.4" y="1423.3" font-size="16.5" fill="#4a4ae0" stroke="#4a4ae0" stroke-width=".3" textLength="46.8" lengthAdjust="spacingAndGlyphs">84.346</text>
<rect x="1348.4" y="1406.4" width="58.6" height="24.5" rx="2" fill="url(#lbar)" stroke="#222" stroke-width="1.6"/>
<text x="1413.1" y="1423.3" font-size="16.5" fill="#e0404a" stroke="#e0404a" stroke-width=".3" textLength="55.5" lengthAdjust="spacingAndGlyphs">406.577</text>
<text x="1288.4" y="1450.8" font-size="16.5" fill="#444" stroke="#444" stroke-width=".3" textLength="47.5" lengthAdjust="spacingAndGlyphs">X1 = B</text>
<text x="1288.4" y="1479.9" font-size="16.5" fill="#444" stroke="#444" stroke-width=".3" textLength="48" lengthAdjust="spacingAndGlyphs">X2 = C</text>
<text x="1288.4" y="1534.2" font-size="16.5" fill="#111" font-weight="bold" textLength="100.5" lengthAdjust="spacingAndGlyphs">Actual Factor</text>
<text x="1288.4" y="1563.3" font-size="16.5" fill="#444" stroke="#444" stroke-width=".3" textLength="59.5" lengthAdjust="spacingAndGlyphs">A = 2.00</text>
<line x1="524" y1="329.6" x2="1030" y2="41.2" stroke="#555" stroke-width="1.5"/>
<rect x="496.8" y="25.6" width="560.9" height="320.4" fill="none" stroke="#474747" stroke-width="2.1"/>
<line x1="482" y1="329.6" x2="496.8" y2="329.6" stroke="#777" stroke-width="1.4"/>
<text x="478.2" y="332.4" font-size="8.5" fill="#666" text-anchor="end" textLength="5.6" lengthAdjust="spacingAndGlyphs">0</text>
<line x1="524" y1="346.0" x2="524" y2="354" stroke="#777" stroke-width="1.4"/>
<text x="524" y="363.8" font-size="8.5" fill="#666" text-anchor="middle" textLength="5.6" lengthAdjust="spacingAndGlyphs">0</text>
<line x1="482" y1="271.9" x2="496.8" y2="271.9" stroke="#777" stroke-width="1.4"/>
<text x="478.2" y="274.7" font-size="8.5" fill="#666" text-anchor="end" textLength="20.5" lengthAdjust="spacingAndGlyphs">100</text>
<line x1="625.2" y1="346.0" x2="625.2" y2="354" stroke="#777" stroke-width="1.4"/>
<text x="625.2" y="363.8" font-size="8.5" fill="#666" text-anchor="middle" textLength="19.5" lengthAdjust="spacingAndGlyphs">100</text>
<line x1="482" y1="214.2" x2="496.8" y2="214.2" stroke="#777" stroke-width="1.4"/>
<text x="478.2" y="217" font-size="8.5" fill="#666" text-anchor="end" textLength="20.5" lengthAdjust="spacingAndGlyphs">200</text>
<line x1="726.4" y1="346.0" x2="726.4" y2="354" stroke="#777" stroke-width="1.4"/>
<text x="726.4" y="363.8" font-size="8.5" fill="#666" text-anchor="middle" textLength="19.5" lengthAdjust="spacingAndGlyphs">200</text>
<line x1="482" y1="156.5" x2="496.8" y2="156.5" stroke="#777" stroke-width="1.4"/>
<text x="478.2" y="159.3" font-size="8.5" fill="#666" text-anchor="end" textLength="20.5" lengthAdjust="spacingAndGlyphs">300</text>
<line x1="827.6" y1="346.0" x2="827.6" y2="354" stroke="#777" stroke-width="1.4"/>
<text x="827.6" y="363.8" font-size="8.5" fill="#666" text-anchor="middle" textLength="19.5" lengthAdjust="spacingAndGlyphs">300</text>
<line x1="482" y1="98.8" x2="496.8" y2="98.8" stroke="#777" stroke-width="1.4"/>
<text x="478.2" y="101.6" font-size="8.5" fill="#666" text-anchor="end" textLength="20.5" lengthAdjust="spacingAndGlyphs">400</text>
<line x1="928.8" y1="346.0" x2="928.8" y2="354" stroke="#777" stroke-width="1.4"/>
<text x="928.8" y="363.8" font-size="8.5" fill="#666" text-anchor="middle" textLength="19.5" lengthAdjust="spacingAndGlyphs">400</text>
<line x1="482" y1="41.2" x2="496.8" y2="41.2" stroke="#777" stroke-width="1.4"/>
<text x="478.2" y="44" font-size="8.5" fill="#666" text-anchor="end" textLength="20.5" lengthAdjust="spacingAndGlyphs">500</text>
<line x1="1030" y1="346.0" x2="1030" y2="354" stroke="#777" stroke-width="1.4"/>
<text x="1030" y="363.8" font-size="8.5" fill="#666" text-anchor="middle" textLength="19.5" lengthAdjust="spacingAndGlyphs">500</text>
<rect x="603" y="270.5" width="12" height="7" fill="#0000ff" stroke="#1a1a1a" stroke-width="1.1"/>
<rect x="641.4" y="259.2" width="12" height="7" fill="#0077ff" stroke="#1a1a1a" stroke-width="1.1"/>
<rect x="675.5" y="223.5" width="12" height="7" fill="#00e0ff" stroke="#1a1a1a" stroke-width="1.1"/>
<rect x="703.7" y="213.5" width="12" height="7" fill="#00ffc6" stroke="#1a1a1a" stroke-width="1.1"/>
<rect x="718.8" y="206.9" width="12" height="7" fill="#00ff96" stroke="#1a1a1a" stroke-width="1.1"/>
<rect x="703" y="243.5" width="12" height="7" fill="#00ffc6" stroke="#1a1a1a" stroke-width="1.1"/>
<rect x="713" y="235.9" width="12" height="7" fill="#00ffa6" stroke="#1a1a1a" stroke-width="1.1"/>
<rect x="791.5" y="164.1" width="12" height="7" fill="#4eff00" stroke="#1a1a1a" stroke-width="1.1"/>
<rect x="797.5" y="160.8" width="12" height="7" fill="#61ff00" stroke="#1a1a1a" stroke-width="1.1"/>
<rect x="793.8" y="179.3" width="12" height="7" fill="#54ff00" stroke="#1a1a1a" stroke-width="1.1"/>
<rect x="831.4" y="149.6" width="12" height="7" fill="#ccff00" stroke="#1a1a1a" stroke-width="1.1"/>
<rect x="849.5" y="137.5" width="12" height="7" fill="#fff900" stroke="#1a1a1a" stroke-width="1.1"/>
<rect x="858.9" y="140.2" width="12" height="7" fill="#ffdc00" stroke="#1a1a1a" stroke-width="1.1"/>
<rect x="911.3" y="98.3" width="12" height="7" fill="#ff3800" stroke="#1a1a1a" stroke-width="1.1"/>
<rect x="929.5" y="98.5" width="12" height="7" fill="#ff0000" stroke="#1a1a1a" stroke-width="1.1"/>
<text x="695" y="219.2" font-size="7" fill="#555" text-anchor="middle" textLength="4" lengthAdjust="spacingAndGlyphs">3</text>
<text x="511.2" y="59" font-size="15.5" fill="#444" stroke="#444" stroke-width=".3" textLength="169.8" lengthAdjust="spacingAndGlyphs">Color points by value of</text>
<text x="511.2" y="83" font-size="15.5" fill="#444" stroke="#444" stroke-width=".3" textLength="68.8" lengthAdjust="spacingAndGlyphs">Diameter:</text>
<text x="511.2" y="107" font-size="15.5" fill="#4a4ae0" stroke="#4a4ae0" stroke-width=".3" textLength="46.4" lengthAdjust="spacingAndGlyphs">84.346</text>
<rect x="569.8" y="91.2" width="57.7" height="21.2" rx="1.5" fill="url(#lbar)" stroke="#222" stroke-width="1.5"/>
<text x="633" y="107" font-size="15.5" fill="#e0404a" stroke="#e0404a" stroke-width=".3" textLength="55" lengthAdjust="spacingAndGlyphs">406.577</text>
<text x="614" y="21.6" font-size="21" fill="#333" font-weight="bold" textLength="284.4" lengthAdjust="spacingAndGlyphs">Predicted vs. Experimental</text>
<text x="445.2" y="211.7" font-size="23.5" fill="#333" stroke="#333" stroke-width=".3" textLength="90.7" lengthAdjust="spacingAndGlyphs" transform="rotate(-90 445.2 211.7)">Predicted</text>
<text x="680" y="381" font-size="21.5" fill="#333" stroke="#333" stroke-width=".3" textLength="137" lengthAdjust="spacingAndGlyphs">Experimental</text>
<text transform="translate(406.8 36.3) scale(1.011 1)" font-size="43.3" font-weight="bold" fill="#000">A</text>
<text transform="translate(13.3 425.7) scale(0.939 1)" font-size="43.5" font-weight="bold" fill="#000">B</text>
<text transform="translate(8.5 877.6) scale(0.941 1)" font-size="42.8" font-weight="bold" fill="#000">C</text>
<text transform="translate(5.6 1332.1) scale(0.952 1)" font-size="43.2" font-weight="bold" fill="#000">D</text>
<text transform="translate(611.6 419.9) scale(0.937 1)" font-size="42.9" font-weight="bold" fill="#000">E</text>
<text transform="translate(611.6 874.0) scale(0.937 1)" font-size="43.0" font-weight="bold" fill="#000">F</text>
<text transform="translate(604.6 1332.5) scale(0.952 1)" font-size="43.9" font-weight="bold" fill="#000">G</text>
<g stroke="#5a5a5a" fill="none">
<rect x="4.3" y="3.4" width="1470.5" height="1752.7" stroke-width="1.8"/>
<line x1="4" y1="387.4" x2="1475" y2="387.4" stroke-width="1.6"/>
<line x1="4" y1="843.9" x2="1475" y2="837.4" stroke-width="1.6"/>
<line x1="4" y1="1297.3" x2="1475" y2="1297.3" stroke-width="1.6"/>
</g>
</svg>
</div></body></html>
